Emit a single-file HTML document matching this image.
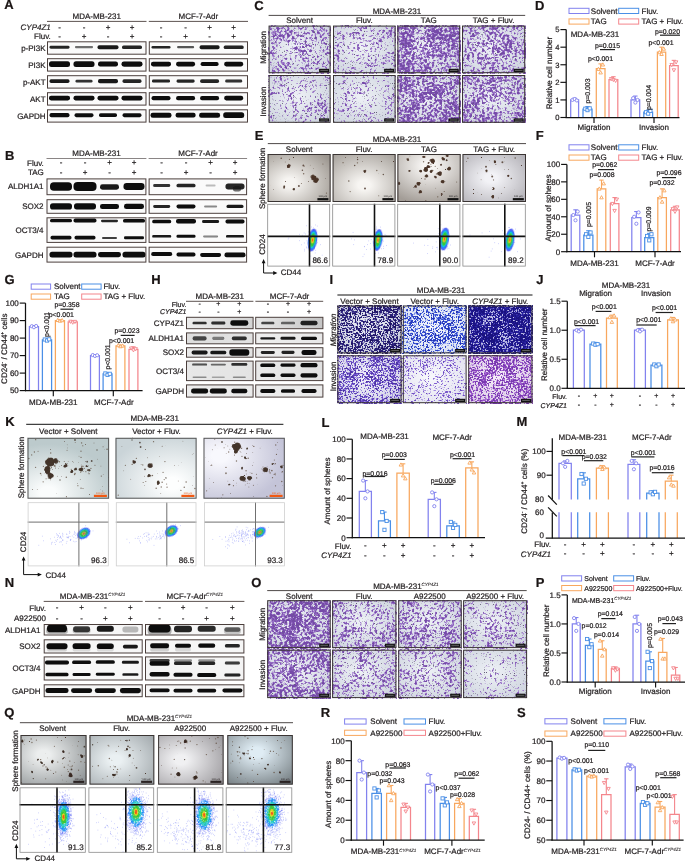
<!DOCTYPE html><html><head><meta charset="utf-8"><title>Figure</title><style>html,body{margin:0;padding:0;background:#fff}svg{display:block}svg{font-family:"Liberation Sans",Arial,Helvetica,sans-serif;font-size:8px;text-rendering:geometricPrecision}text{stroke:#231f20;stroke-width:0.22px}</style></head><body><svg width="685" height="861" viewBox="0 0 685 861"><defs><filter id="bb" x="-30%" y="-80%" width="160%" height="260%"><feGaussianBlur stdDeviation="0.7 0.55"/></filter><filter id="bs" x="-10%" y="-10%" width="120%" height="120%"><feTurbulence type="fractalNoise" baseFrequency="1.1" numOctaves="2" seed="4" result="t"/><feDisplacementMap in="SourceGraphic" in2="t" scale="1.8" xChannelSelector="R" yChannelSelector="G" result="d"/><feGaussianBlur in="d" stdDeviation="0.35"/></filter><filter id="fb" x="-50%" y="-50%" width="200%" height="200%"><feGaussianBlur stdDeviation="0.6"/></filter><linearGradient id="lg1"><stop offset="0" stop-color="#000" stop-opacity="0.04"/><stop offset="1" stop-color="#000" stop-opacity="0.14"/></linearGradient><linearGradient id="lg2"><stop offset="0" stop-color="#000" stop-opacity="0.06"/><stop offset="1" stop-color="#000" stop-opacity="0.2"/></linearGradient><linearGradient id="lg3"><stop offset="0" stop-color="#000" stop-opacity="0.1"/><stop offset="1" stop-color="#000" stop-opacity="0.08"/></linearGradient><linearGradient id="lg4"><stop offset="0" stop-color="#000" stop-opacity="0.03"/><stop offset="1" stop-color="#000" stop-opacity="0.06"/></linearGradient><linearGradient id="lg5"><stop offset="0" stop-color="#000" stop-opacity="0.05"/><stop offset="1" stop-color="#000" stop-opacity="0.08"/></linearGradient><linearGradient id="lg6"><stop offset="0" stop-color="#000" stop-opacity="0.04"/><stop offset="1" stop-color="#000" stop-opacity="0.06"/></linearGradient><linearGradient id="lg7"><stop offset="0" stop-color="#000" stop-opacity="0.04"/><stop offset="1" stop-color="#000" stop-opacity="0.05"/></linearGradient><linearGradient id="lg8"><stop offset="0" stop-color="#000" stop-opacity="0.04"/><stop offset="1" stop-color="#000" stop-opacity="0.05"/></linearGradient><linearGradient id="lg9"><stop offset="0" stop-color="#000" stop-opacity="0.05"/><stop offset="1" stop-color="#000" stop-opacity="0.07"/></linearGradient><linearGradient id="lg10"><stop offset="0" stop-color="#000" stop-opacity="0.05"/><stop offset="1" stop-color="#000" stop-opacity="0.08"/></linearGradient><radialGradient id="g11" cx="0.45" cy="0.45" r="0.75"><stop offset="0" stop-color="#eef1f6"/><stop offset="1" stop-color="#cbd1dc"/></radialGradient><filter id="f12" x="0" y="0" width="1" height="1" color-interpolation-filters="sRGB"><feTurbulence type="fractalNoise" baseFrequency="0.4" numOctaves="2" seed="10"/><feColorMatrix type="matrix" values="1 0 0 0 0 1 0 0 0 0 1 0 0 0 0 0 0 0 0 1" result="hi"/><feTurbulence type="fractalNoise" baseFrequency="0.07" numOctaves="2" seed="30"/><feColorMatrix type="matrix" values="1 0 0 0 0 1 0 0 0 0 1 0 0 0 0 0 0 0 0 1" result="lo"/><feComposite in="hi" in2="lo" operator="arithmetic" k1="0" k2="1" k3="0.45" k4="-0.23" result="n"/><feColorMatrix in="n" type="matrix" values="0 0 0 0 0.62 0 0 0 0 0.47 0 0 0 0 0.8 9 0 0 0 -4.59" result="a"/><feColorMatrix in="n" type="matrix" values="0 0 0 0 0.46 0 0 0 0 0.29 0 0 0 0 0.66 7 0 0 0 -4.27" result="b"/><feTurbulence type="fractalNoise" baseFrequency="0.9" numOctaves="1" seed="60" result="n2"/><feColorMatrix in="n2" type="matrix" values="0 0 0 0 0.4 0 0 0 0 0.37 0 0 0 0 0.48 0 0 0 9 -5.94" result="c"/><feMerge result="m"><feMergeNode in="a"/><feMergeNode in="b"/><feMergeNode in="c"/></feMerge><feGaussianBlur in="m" stdDeviation="0.42"/></filter><radialGradient id="g13" cx="0.45" cy="0.45" r="0.75"><stop offset="0" stop-color="#eef1f6"/><stop offset="1" stop-color="#cbd1dc"/></radialGradient><filter id="f14" x="0" y="0" width="1" height="1" color-interpolation-filters="sRGB"><feTurbulence type="fractalNoise" baseFrequency="0.4" numOctaves="2" seed="11"/><feColorMatrix type="matrix" values="1 0 0 0 0 1 0 0 0 0 1 0 0 0 0 0 0 0 0 1" result="hi"/><feTurbulence type="fractalNoise" baseFrequency="0.07" numOctaves="2" seed="31"/><feColorMatrix type="matrix" values="1 0 0 0 0 1 0 0 0 0 1 0 0 0 0 0 0 0 0 1" result="lo"/><feComposite in="hi" in2="lo" operator="arithmetic" k1="0" k2="1" k3="0.45" k4="-0.23" result="n"/><feColorMatrix in="n" type="matrix" values="0 0 0 0 0.62 0 0 0 0 0.47 0 0 0 0 0.8 9 0 0 0 -4.91" result="a"/><feColorMatrix in="n" type="matrix" values="0 0 0 0 0.46 0 0 0 0 0.29 0 0 0 0 0.66 7 0 0 0 -4.52" result="b"/><feTurbulence type="fractalNoise" baseFrequency="0.9" numOctaves="1" seed="61" result="n2"/><feColorMatrix in="n2" type="matrix" values="0 0 0 0 0.4 0 0 0 0 0.37 0 0 0 0 0.48 0 0 0 9 -5.94" result="c"/><feMerge result="m"><feMergeNode in="a"/><feMergeNode in="b"/><feMergeNode in="c"/></feMerge><feGaussianBlur in="m" stdDeviation="0.42"/></filter><radialGradient id="g15" cx="0.45" cy="0.45" r="0.75"><stop offset="0" stop-color="#eef1f6"/><stop offset="1" stop-color="#cbd1dc"/></radialGradient><filter id="f16" x="0" y="0" width="1" height="1" color-interpolation-filters="sRGB"><feTurbulence type="fractalNoise" baseFrequency="0.4" numOctaves="2" seed="12"/><feColorMatrix type="matrix" values="1 0 0 0 0 1 0 0 0 0 1 0 0 0 0 0 0 0 0 1" result="hi"/><feTurbulence type="fractalNoise" baseFrequency="0.07" numOctaves="2" seed="32"/><feColorMatrix type="matrix" values="1 0 0 0 0 1 0 0 0 0 1 0 0 0 0 0 0 0 0 1" result="lo"/><feComposite in="hi" in2="lo" operator="arithmetic" k1="0" k2="1" k3="0.45" k4="-0.23" result="n"/><feColorMatrix in="n" type="matrix" values="0 0 0 0 0.62 0 0 0 0 0.47 0 0 0 0 0.8 9 0 0 0 -3.51" result="a"/><feColorMatrix in="n" type="matrix" values="0 0 0 0 0.46 0 0 0 0 0.29 0 0 0 0 0.66 7 0 0 0 -3.43" result="b"/><feTurbulence type="fractalNoise" baseFrequency="0.9" numOctaves="1" seed="62" result="n2"/><feColorMatrix in="n2" type="matrix" values="0 0 0 0 0.4 0 0 0 0 0.37 0 0 0 0 0.48 0 0 0 9 -5.94" result="c"/><feMerge result="m"><feMergeNode in="a"/><feMergeNode in="b"/><feMergeNode in="c"/></feMerge><feGaussianBlur in="m" stdDeviation="0.42"/></filter><radialGradient id="g17" cx="0.45" cy="0.45" r="0.75"><stop offset="0" stop-color="#eef1f6"/><stop offset="1" stop-color="#cbd1dc"/></radialGradient><filter id="f18" x="0" y="0" width="1" height="1" color-interpolation-filters="sRGB"><feTurbulence type="fractalNoise" baseFrequency="0.4" numOctaves="2" seed="13"/><feColorMatrix type="matrix" values="1 0 0 0 0 1 0 0 0 0 1 0 0 0 0 0 0 0 0 1" result="hi"/><feTurbulence type="fractalNoise" baseFrequency="0.07" numOctaves="2" seed="33"/><feColorMatrix type="matrix" values="1 0 0 0 0 1 0 0 0 0 1 0 0 0 0 0 0 0 0 1" result="lo"/><feComposite in="hi" in2="lo" operator="arithmetic" k1="0" k2="1" k3="0.45" k4="-0.23" result="n"/><feColorMatrix in="n" type="matrix" values="0 0 0 0 0.62 0 0 0 0 0.47 0 0 0 0 0.8 9 0 0 0 -4.05" result="a"/><feColorMatrix in="n" type="matrix" values="0 0 0 0 0.46 0 0 0 0 0.29 0 0 0 0 0.66 7 0 0 0 -3.85" result="b"/><feTurbulence type="fractalNoise" baseFrequency="0.9" numOctaves="1" seed="63" result="n2"/><feColorMatrix in="n2" type="matrix" values="0 0 0 0 0.4 0 0 0 0 0.37 0 0 0 0 0.48 0 0 0 9 -5.94" result="c"/><feMerge result="m"><feMergeNode in="a"/><feMergeNode in="b"/><feMergeNode in="c"/></feMerge><feGaussianBlur in="m" stdDeviation="0.42"/></filter><radialGradient id="g19" cx="0.45" cy="0.45" r="0.75"><stop offset="0" stop-color="#eef1f6"/><stop offset="1" stop-color="#cbd1dc"/></radialGradient><filter id="f20" x="0" y="0" width="1" height="1" color-interpolation-filters="sRGB"><feTurbulence type="fractalNoise" baseFrequency="0.4" numOctaves="2" seed="14"/><feColorMatrix type="matrix" values="1 0 0 0 0 1 0 0 0 0 1 0 0 0 0 0 0 0 0 1" result="hi"/><feTurbulence type="fractalNoise" baseFrequency="0.07" numOctaves="2" seed="34"/><feColorMatrix type="matrix" values="1 0 0 0 0 1 0 0 0 0 1 0 0 0 0 0 0 0 0 1" result="lo"/><feComposite in="hi" in2="lo" operator="arithmetic" k1="0" k2="1" k3="0.45" k4="-0.23" result="n"/><feColorMatrix in="n" type="matrix" values="0 0 0 0 0.62 0 0 0 0 0.47 0 0 0 0 0.8 9 0 0 0 -5.08" result="a"/><feColorMatrix in="n" type="matrix" values="0 0 0 0 0.46 0 0 0 0 0.29 0 0 0 0 0.66 7 0 0 0 -4.65" result="b"/><feTurbulence type="fractalNoise" baseFrequency="0.9" numOctaves="1" seed="64" result="n2"/><feColorMatrix in="n2" type="matrix" values="0 0 0 0 0.4 0 0 0 0 0.37 0 0 0 0 0.48 0 0 0 9 -5.94" result="c"/><feMerge result="m"><feMergeNode in="a"/><feMergeNode in="b"/><feMergeNode in="c"/></feMerge><feGaussianBlur in="m" stdDeviation="0.42"/></filter><radialGradient id="g21" cx="0.45" cy="0.45" r="0.75"><stop offset="0" stop-color="#eef1f6"/><stop offset="1" stop-color="#cbd1dc"/></radialGradient><filter id="f22" x="0" y="0" width="1" height="1" color-interpolation-filters="sRGB"><feTurbulence type="fractalNoise" baseFrequency="0.4" numOctaves="2" seed="15"/><feColorMatrix type="matrix" values="1 0 0 0 0 1 0 0 0 0 1 0 0 0 0 0 0 0 0 1" result="hi"/><feTurbulence type="fractalNoise" baseFrequency="0.07" numOctaves="2" seed="35"/><feColorMatrix type="matrix" values="1 0 0 0 0 1 0 0 0 0 1 0 0 0 0 0 0 0 0 1" result="lo"/><feComposite in="hi" in2="lo" operator="arithmetic" k1="0" k2="1" k3="0.45" k4="-0.23" result="n"/><feColorMatrix in="n" type="matrix" values="0 0 0 0 0.62 0 0 0 0 0.47 0 0 0 0 0.8 9 0 0 0 -5.31" result="a"/><feColorMatrix in="n" type="matrix" values="0 0 0 0 0.46 0 0 0 0 0.29 0 0 0 0 0.66 7 0 0 0 -4.83" result="b"/><feTurbulence type="fractalNoise" baseFrequency="0.9" numOctaves="1" seed="65" result="n2"/><feColorMatrix in="n2" type="matrix" values="0 0 0 0 0.4 0 0 0 0 0.37 0 0 0 0 0.48 0 0 0 9 -5.94" result="c"/><feMerge result="m"><feMergeNode in="a"/><feMergeNode in="b"/><feMergeNode in="c"/></feMerge><feGaussianBlur in="m" stdDeviation="0.42"/></filter><radialGradient id="g23" cx="0.45" cy="0.45" r="0.75"><stop offset="0" stop-color="#eef1f6"/><stop offset="1" stop-color="#cbd1dc"/></radialGradient><filter id="f24" x="0" y="0" width="1" height="1" color-interpolation-filters="sRGB"><feTurbulence type="fractalNoise" baseFrequency="0.4" numOctaves="2" seed="16"/><feColorMatrix type="matrix" values="1 0 0 0 0 1 0 0 0 0 1 0 0 0 0 0 0 0 0 1" result="hi"/><feTurbulence type="fractalNoise" baseFrequency="0.07" numOctaves="2" seed="36"/><feColorMatrix type="matrix" values="1 0 0 0 0 1 0 0 0 0 1 0 0 0 0 0 0 0 0 1" result="lo"/><feComposite in="hi" in2="lo" operator="arithmetic" k1="0" k2="1" k3="0.45" k4="-0.23" result="n"/><feColorMatrix in="n" type="matrix" values="0 0 0 0 0.62 0 0 0 0 0.47 0 0 0 0 0.8 9 0 0 0 -3.6" result="a"/><feColorMatrix in="n" type="matrix" values="0 0 0 0 0.46 0 0 0 0 0.29 0 0 0 0 0.66 7 0 0 0 -3.5" result="b"/><feTurbulence type="fractalNoise" baseFrequency="0.9" numOctaves="1" seed="66" result="n2"/><feColorMatrix in="n2" type="matrix" values="0 0 0 0 0.4 0 0 0 0 0.37 0 0 0 0 0.48 0 0 0 9 -5.94" result="c"/><feMerge result="m"><feMergeNode in="a"/><feMergeNode in="b"/><feMergeNode in="c"/></feMerge><feGaussianBlur in="m" stdDeviation="0.42"/></filter><radialGradient id="g25" cx="0.45" cy="0.45" r="0.75"><stop offset="0" stop-color="#eef1f6"/><stop offset="1" stop-color="#cbd1dc"/></radialGradient><filter id="f26" x="0" y="0" width="1" height="1" color-interpolation-filters="sRGB"><feTurbulence type="fractalNoise" baseFrequency="0.4" numOctaves="2" seed="17"/><feColorMatrix type="matrix" values="1 0 0 0 0 1 0 0 0 0 1 0 0 0 0 0 0 0 0 1" result="hi"/><feTurbulence type="fractalNoise" baseFrequency="0.07" numOctaves="2" seed="37"/><feColorMatrix type="matrix" values="1 0 0 0 0 1 0 0 0 0 1 0 0 0 0 0 0 0 0 1" result="lo"/><feComposite in="hi" in2="lo" operator="arithmetic" k1="0" k2="1" k3="0.45" k4="-0.23" result="n"/><feColorMatrix in="n" type="matrix" values="0 0 0 0 0.62 0 0 0 0 0.47 0 0 0 0 0.8 9 0 0 0 -4.05" result="a"/><feColorMatrix in="n" type="matrix" values="0 0 0 0 0.46 0 0 0 0 0.29 0 0 0 0 0.66 7 0 0 0 -3.85" result="b"/><feTurbulence type="fractalNoise" baseFrequency="0.9" numOctaves="1" seed="67" result="n2"/><feColorMatrix in="n2" type="matrix" values="0 0 0 0 0.4 0 0 0 0 0.37 0 0 0 0 0.48 0 0 0 9 -5.94" result="c"/><feMerge result="m"><feMergeNode in="a"/><feMergeNode in="b"/><feMergeNode in="c"/></feMerge><feGaussianBlur in="m" stdDeviation="0.42"/></filter><radialGradient id="g27" cx="0.35" cy="0.6" r="0.8"><stop offset="0.12" stop-color="#f6f4f1"/><stop offset="1" stop-color="#9c968f"/></radialGradient><filter id="f28" x="0" y="0" width="1" height="1" color-interpolation-filters="sRGB"><feTurbulence type="fractalNoise" baseFrequency="0.75" numOctaves="1" seed="30" result="n"/><feColorMatrix in="n" type="matrix" values="0 0 0 0 0.3 0 0 0 0 0.22 0 0 0 0 0.18 14 0 0 0 -10.5"/></filter><radialGradient id="g29" cx="0.5" cy="0.65" r="0.8"><stop offset="0.12" stop-color="#f7f5f2"/><stop offset="1" stop-color="#a6a19b"/></radialGradient><filter id="f30" x="0" y="0" width="1" height="1" color-interpolation-filters="sRGB"><feTurbulence type="fractalNoise" baseFrequency="0.75" numOctaves="1" seed="31" result="n"/><feColorMatrix in="n" type="matrix" values="0 0 0 0 0.3 0 0 0 0 0.22 0 0 0 0 0.18 14 0 0 0 -10.5"/></filter><radialGradient id="g31" cx="0.5" cy="0.25" r="0.8"><stop offset="0.12" stop-color="#f7f5f3"/><stop offset="1" stop-color="#a39d97"/></radialGradient><filter id="f32" x="0" y="0" width="1" height="1" color-interpolation-filters="sRGB"><feTurbulence type="fractalNoise" baseFrequency="0.75" numOctaves="1" seed="32" result="n"/><feColorMatrix in="n" type="matrix" values="0 0 0 0 0.3 0 0 0 0 0.22 0 0 0 0 0.18 14 0 0 0 -10.5"/></filter><radialGradient id="g33" cx="0.45" cy="0.5" r="0.8"><stop offset="0.12" stop-color="#f2f2f6"/><stop offset="1" stop-color="#a8a6ac"/></radialGradient><filter id="f34" x="0" y="0" width="1" height="1" color-interpolation-filters="sRGB"><feTurbulence type="fractalNoise" baseFrequency="0.75" numOctaves="1" seed="33" result="n"/><feColorMatrix in="n" type="matrix" values="0 0 0 0 0.3 0 0 0 0 0.22 0 0 0 0 0.18 14 0 0 0 -10.5"/></filter><radialGradient id="g35" cx="0.45" cy="0.45" r="0.75"><stop offset="0" stop-color="#eceef6"/><stop offset="1" stop-color="#c4c8d8"/></radialGradient><filter id="f36" x="0" y="0" width="1" height="1" color-interpolation-filters="sRGB"><feTurbulence type="fractalNoise" baseFrequency="0.6" numOctaves="2" seed="60"/><feColorMatrix type="matrix" values="1 0 0 0 0 1 0 0 0 0 1 0 0 0 0 0 0 0 0 1" result="hi"/><feTurbulence type="fractalNoise" baseFrequency="0.07" numOctaves="2" seed="80"/><feColorMatrix type="matrix" values="1 0 0 0 0 1 0 0 0 0 1 0 0 0 0 0 0 0 0 1" result="lo"/><feComposite in="hi" in2="lo" operator="arithmetic" k1="0" k2="1" k3="0.4" k4="-0.2" result="n"/><feColorMatrix in="n" type="matrix" values="0 0 0 0 0.2 0 0 0 0 0.16 0 0 0 0 0.54 9 0 0 0 -3.87" result="a"/><feColorMatrix in="n" type="matrix" values="0 0 0 0 0.12 0 0 0 0 0.08 0 0 0 0 0.38 7 0 0 0 -3.71" result="b"/><feTurbulence type="fractalNoise" baseFrequency="0.9" numOctaves="1" seed="110" result="n2"/><feColorMatrix in="n2" type="matrix" values="0 0 0 0 0.4 0 0 0 0 0.37 0 0 0 0 0.48 0 0 0 9 -8.1" result="c"/><feMerge result="m"><feMergeNode in="a"/><feMergeNode in="b"/><feMergeNode in="c"/></feMerge><feGaussianBlur in="m" stdDeviation="0.35"/></filter><radialGradient id="g37" cx="0.45" cy="0.45" r="0.75"><stop offset="0" stop-color="#f6f8fc"/><stop offset="1" stop-color="#d8e0f0"/></radialGradient><filter id="f38" x="0" y="0" width="1" height="1" color-interpolation-filters="sRGB"><feTurbulence type="fractalNoise" baseFrequency="0.6" numOctaves="2" seed="61"/><feColorMatrix type="matrix" values="1 0 0 0 0 1 0 0 0 0 1 0 0 0 0 0 0 0 0 1" result="hi"/><feTurbulence type="fractalNoise" baseFrequency="0.07" numOctaves="2" seed="81"/><feColorMatrix type="matrix" values="1 0 0 0 0 1 0 0 0 0 1 0 0 0 0 0 0 0 0 1" result="lo"/><feComposite in="hi" in2="lo" operator="arithmetic" k1="0" k2="1" k3="0.4" k4="-0.2" result="n"/><feColorMatrix in="n" type="matrix" values="0 0 0 0 0.22 0 0 0 0 0.33 0 0 0 0 0.86 9 0 0 0 -4.23" result="a"/><feColorMatrix in="n" type="matrix" values="0 0 0 0 0.14 0 0 0 0 0.2 0 0 0 0 0.7 7 0 0 0 -3.99" result="b"/><feTurbulence type="fractalNoise" baseFrequency="0.9" numOctaves="1" seed="111" result="n2"/><feColorMatrix in="n2" type="matrix" values="0 0 0 0 0.4 0 0 0 0 0.37 0 0 0 0 0.48 0 0 0 9 -8.1" result="c"/><feMerge result="m"><feMergeNode in="a"/><feMergeNode in="b"/><feMergeNode in="c"/></feMerge><feGaussianBlur in="m" stdDeviation="0.35"/></filter><radialGradient id="g39" cx="0.45" cy="0.45" r="0.75"><stop offset="0" stop-color="#d0d0f0"/><stop offset="1" stop-color="#a8a8d8"/></radialGradient><filter id="f40" x="0" y="0" width="1" height="1" color-interpolation-filters="sRGB"><feTurbulence type="fractalNoise" baseFrequency="0.6" numOctaves="2" seed="62"/><feColorMatrix type="matrix" values="1 0 0 0 0 1 0 0 0 0 1 0 0 0 0 0 0 0 0 1" result="hi"/><feTurbulence type="fractalNoise" baseFrequency="0.07" numOctaves="2" seed="82"/><feColorMatrix type="matrix" values="1 0 0 0 0 1 0 0 0 0 1 0 0 0 0 0 0 0 0 1" result="lo"/><feComposite in="hi" in2="lo" operator="arithmetic" k1="0" k2="1" k3="0.4" k4="-0.2" result="n"/><feColorMatrix in="n" type="matrix" values="0 0 0 0 0.17 0 0 0 0 0.14 0 0 0 0 0.66 9 0 0 0 -3.06" result="a"/><feColorMatrix in="n" type="matrix" values="0 0 0 0 0.1 0 0 0 0 0.07 0 0 0 0 0.5 7 0 0 0 -3.08" result="b"/><feTurbulence type="fractalNoise" baseFrequency="0.9" numOctaves="1" seed="112" result="n2"/><feColorMatrix in="n2" type="matrix" values="0 0 0 0 0.4 0 0 0 0 0.37 0 0 0 0 0.48 0 0 0 9 -8.1" result="c"/><feMerge result="m"><feMergeNode in="a"/><feMergeNode in="b"/><feMergeNode in="c"/></feMerge><feGaussianBlur in="m" stdDeviation="0.35"/></filter><radialGradient id="g41" cx="0.45" cy="0.45" r="0.75"><stop offset="0" stop-color="#f2f2fa"/><stop offset="1" stop-color="#d0d0e4"/></radialGradient><filter id="f42" x="0" y="0" width="1" height="1" color-interpolation-filters="sRGB"><feTurbulence type="fractalNoise" baseFrequency="0.6" numOctaves="2" seed="63"/><feColorMatrix type="matrix" values="1 0 0 0 0 1 0 0 0 0 1 0 0 0 0 0 0 0 0 1" result="hi"/><feTurbulence type="fractalNoise" baseFrequency="0.07" numOctaves="2" seed="83"/><feColorMatrix type="matrix" values="1 0 0 0 0 1 0 0 0 0 1 0 0 0 0 0 0 0 0 1" result="lo"/><feComposite in="hi" in2="lo" operator="arithmetic" k1="0" k2="1" k3="0.4" k4="-0.2" result="n"/><feColorMatrix in="n" type="matrix" values="0 0 0 0 0.45 0 0 0 0 0.33 0 0 0 0 0.82 9 0 0 0 -4.05" result="a"/><feColorMatrix in="n" type="matrix" values="0 0 0 0 0.3 0 0 0 0 0.2 0 0 0 0 0.64 7 0 0 0 -3.85" result="b"/><feTurbulence type="fractalNoise" baseFrequency="0.9" numOctaves="1" seed="113" result="n2"/><feColorMatrix in="n2" type="matrix" values="0 0 0 0 0.4 0 0 0 0 0.37 0 0 0 0 0.48 0 0 0 9 -8.1" result="c"/><feMerge result="m"><feMergeNode in="a"/><feMergeNode in="b"/><feMergeNode in="c"/></feMerge><feGaussianBlur in="m" stdDeviation="0.35"/></filter><radialGradient id="g43" cx="0.45" cy="0.45" r="0.75"><stop offset="0" stop-color="#f8f8fc"/><stop offset="1" stop-color="#e0e0ee"/></radialGradient><filter id="f44" x="0" y="0" width="1" height="1" color-interpolation-filters="sRGB"><feTurbulence type="fractalNoise" baseFrequency="0.6" numOctaves="2" seed="64"/><feColorMatrix type="matrix" values="1 0 0 0 0 1 0 0 0 0 1 0 0 0 0 0 0 0 0 1" result="hi"/><feTurbulence type="fractalNoise" baseFrequency="0.07" numOctaves="2" seed="84"/><feColorMatrix type="matrix" values="1 0 0 0 0 1 0 0 0 0 1 0 0 0 0 0 0 0 0 1" result="lo"/><feComposite in="hi" in2="lo" operator="arithmetic" k1="0" k2="1" k3="0.4" k4="-0.2" result="n"/><feColorMatrix in="n" type="matrix" values="0 0 0 0 0.55 0 0 0 0 0.42 0 0 0 0 0.85 9 0 0 0 -4.95" result="a"/><feColorMatrix in="n" type="matrix" values="0 0 0 0 0.4 0 0 0 0 0.28 0 0 0 0 0.72 7 0 0 0 -4.55" result="b"/><feTurbulence type="fractalNoise" baseFrequency="0.9" numOctaves="1" seed="114" result="n2"/><feColorMatrix in="n2" type="matrix" values="0 0 0 0 0.4 0 0 0 0 0.37 0 0 0 0 0.48 0 0 0 9 -8.1" result="c"/><feMerge result="m"><feMergeNode in="a"/><feMergeNode in="b"/><feMergeNode in="c"/></feMerge><feGaussianBlur in="m" stdDeviation="0.35"/></filter><radialGradient id="g45" cx="0.45" cy="0.45" r="0.75"><stop offset="0" stop-color="#f6eef8"/><stop offset="1" stop-color="#d8c8e4"/></radialGradient><filter id="f46" x="0" y="0" width="1" height="1" color-interpolation-filters="sRGB"><feTurbulence type="fractalNoise" baseFrequency="0.6" numOctaves="2" seed="65"/><feColorMatrix type="matrix" values="1 0 0 0 0 1 0 0 0 0 1 0 0 0 0 0 0 0 0 1" result="hi"/><feTurbulence type="fractalNoise" baseFrequency="0.07" numOctaves="2" seed="85"/><feColorMatrix type="matrix" values="1 0 0 0 0 1 0 0 0 0 1 0 0 0 0 0 0 0 0 1" result="lo"/><feComposite in="hi" in2="lo" operator="arithmetic" k1="0" k2="1" k3="0.4" k4="-0.2" result="n"/><feColorMatrix in="n" type="matrix" values="0 0 0 0 0.6 0 0 0 0 0.33 0 0 0 0 0.8 9 0 0 0 -3.78" result="a"/><feColorMatrix in="n" type="matrix" values="0 0 0 0 0.46 0 0 0 0 0.22 0 0 0 0 0.68 7 0 0 0 -3.64" result="b"/><feTurbulence type="fractalNoise" baseFrequency="0.9" numOctaves="1" seed="115" result="n2"/><feColorMatrix in="n2" type="matrix" values="0 0 0 0 0.4 0 0 0 0 0.37 0 0 0 0 0.48 0 0 0 9 -8.1" result="c"/><feMerge result="m"><feMergeNode in="a"/><feMergeNode in="b"/><feMergeNode in="c"/></feMerge><feGaussianBlur in="m" stdDeviation="0.35"/></filter><radialGradient id="g47" cx="0.25" cy="0.9" r="0.8"><stop offset="0.12" stop-color="#fafcfc"/><stop offset="1" stop-color="#bccacc"/></radialGradient><filter id="f48" x="0" y="0" width="1" height="1" color-interpolation-filters="sRGB"><feTurbulence type="fractalNoise" baseFrequency="0.75" numOctaves="1" seed="70" result="n"/><feColorMatrix in="n" type="matrix" values="0 0 0 0 0.3 0 0 0 0 0.22 0 0 0 0 0.18 14 0 0 0 -10.5"/></filter><radialGradient id="g49" cx="0.7" cy="0.75" r="0.8"><stop offset="0.12" stop-color="#fdfefe"/><stop offset="1" stop-color="#cad4d8"/></radialGradient><filter id="f50" x="0" y="0" width="1" height="1" color-interpolation-filters="sRGB"><feTurbulence type="fractalNoise" baseFrequency="0.75" numOctaves="1" seed="71" result="n"/><feColorMatrix in="n" type="matrix" values="0 0 0 0 0.3 0 0 0 0 0.22 0 0 0 0 0.18 14 0 0 0 -10.5"/></filter><radialGradient id="g51" cx="0.2" cy="0.3" r="0.8"><stop offset="0.12" stop-color="#f8f8fd"/><stop offset="1" stop-color="#c4c4d8"/></radialGradient><filter id="f52" x="0" y="0" width="1" height="1" color-interpolation-filters="sRGB"><feTurbulence type="fractalNoise" baseFrequency="0.75" numOctaves="1" seed="72" result="n"/><feColorMatrix in="n" type="matrix" values="0 0 0 0 0.3 0 0 0 0 0.22 0 0 0 0 0.18 14 0 0 0 -10.5"/></filter><radialGradient id="g53" cx="0.45" cy="0.45" r="0.75"><stop offset="0" stop-color="#eef1f6"/><stop offset="1" stop-color="#cbd1dc"/></radialGradient><filter id="f54" x="0" y="0" width="1" height="1" color-interpolation-filters="sRGB"><feTurbulence type="fractalNoise" baseFrequency="0.4" numOctaves="2" seed="80"/><feColorMatrix type="matrix" values="1 0 0 0 0 1 0 0 0 0 1 0 0 0 0 0 0 0 0 1" result="hi"/><feTurbulence type="fractalNoise" baseFrequency="0.07" numOctaves="2" seed="100"/><feColorMatrix type="matrix" values="1 0 0 0 0 1 0 0 0 0 1 0 0 0 0 0 0 0 0 1" result="lo"/><feComposite in="hi" in2="lo" operator="arithmetic" k1="0" k2="1" k3="0.45" k4="-0.23" result="n"/><feColorMatrix in="n" type="matrix" values="0 0 0 0 0.62 0 0 0 0 0.47 0 0 0 0 0.8 9 0 0 0 -3.33" result="a"/><feColorMatrix in="n" type="matrix" values="0 0 0 0 0.46 0 0 0 0 0.29 0 0 0 0 0.66 7 0 0 0 -3.29" result="b"/><feTurbulence type="fractalNoise" baseFrequency="0.9" numOctaves="1" seed="130" result="n2"/><feColorMatrix in="n2" type="matrix" values="0 0 0 0 0.4 0 0 0 0 0.37 0 0 0 0 0.48 0 0 0 9 -5.94" result="c"/><feMerge result="m"><feMergeNode in="a"/><feMergeNode in="b"/><feMergeNode in="c"/></feMerge><feGaussianBlur in="m" stdDeviation="0.42"/></filter><radialGradient id="g55" cx="0.45" cy="0.45" r="0.75"><stop offset="0" stop-color="#eef1f6"/><stop offset="1" stop-color="#cbd1dc"/></radialGradient><filter id="f56" x="0" y="0" width="1" height="1" color-interpolation-filters="sRGB"><feTurbulence type="fractalNoise" baseFrequency="0.4" numOctaves="2" seed="81"/><feColorMatrix type="matrix" values="1 0 0 0 0 1 0 0 0 0 1 0 0 0 0 0 0 0 0 1" result="hi"/><feTurbulence type="fractalNoise" baseFrequency="0.07" numOctaves="2" seed="101"/><feColorMatrix type="matrix" values="1 0 0 0 0 1 0 0 0 0 1 0 0 0 0 0 0 0 0 1" result="lo"/><feComposite in="hi" in2="lo" operator="arithmetic" k1="0" k2="1" k3="0.45" k4="-0.23" result="n"/><feColorMatrix in="n" type="matrix" values="0 0 0 0 0.62 0 0 0 0 0.47 0 0 0 0 0.8 9 0 0 0 -4.5" result="a"/><feColorMatrix in="n" type="matrix" values="0 0 0 0 0.46 0 0 0 0 0.29 0 0 0 0 0.66 7 0 0 0 -4.2" result="b"/><feTurbulence type="fractalNoise" baseFrequency="0.9" numOctaves="1" seed="131" result="n2"/><feColorMatrix in="n2" type="matrix" values="0 0 0 0 0.4 0 0 0 0 0.37 0 0 0 0 0.48 0 0 0 9 -5.94" result="c"/><feMerge result="m"><feMergeNode in="a"/><feMergeNode in="b"/><feMergeNode in="c"/></feMerge><feGaussianBlur in="m" stdDeviation="0.42"/></filter><radialGradient id="g57" cx="0.45" cy="0.45" r="0.75"><stop offset="0" stop-color="#eef1f6"/><stop offset="1" stop-color="#cbd1dc"/></radialGradient><filter id="f58" x="0" y="0" width="1" height="1" color-interpolation-filters="sRGB"><feTurbulence type="fractalNoise" baseFrequency="0.4" numOctaves="2" seed="82"/><feColorMatrix type="matrix" values="1 0 0 0 0 1 0 0 0 0 1 0 0 0 0 0 0 0 0 1" result="hi"/><feTurbulence type="fractalNoise" baseFrequency="0.07" numOctaves="2" seed="102"/><feColorMatrix type="matrix" values="1 0 0 0 0 1 0 0 0 0 1 0 0 0 0 0 0 0 0 1" result="lo"/><feComposite in="hi" in2="lo" operator="arithmetic" k1="0" k2="1" k3="0.45" k4="-0.23" result="n"/><feColorMatrix in="n" type="matrix" values="0 0 0 0 0.62 0 0 0 0 0.47 0 0 0 0 0.8 9 0 0 0 -4.32" result="a"/><feColorMatrix in="n" type="matrix" values="0 0 0 0 0.46 0 0 0 0 0.29 0 0 0 0 0.66 7 0 0 0 -4.06" result="b"/><feTurbulence type="fractalNoise" baseFrequency="0.9" numOctaves="1" seed="132" result="n2"/><feColorMatrix in="n2" type="matrix" values="0 0 0 0 0.4 0 0 0 0 0.37 0 0 0 0 0.48 0 0 0 9 -5.94" result="c"/><feMerge result="m"><feMergeNode in="a"/><feMergeNode in="b"/><feMergeNode in="c"/></feMerge><feGaussianBlur in="m" stdDeviation="0.42"/></filter><radialGradient id="g59" cx="0.45" cy="0.45" r="0.75"><stop offset="0" stop-color="#eef1f6"/><stop offset="1" stop-color="#cbd1dc"/></radialGradient><filter id="f60" x="0" y="0" width="1" height="1" color-interpolation-filters="sRGB"><feTurbulence type="fractalNoise" baseFrequency="0.4" numOctaves="2" seed="83"/><feColorMatrix type="matrix" values="1 0 0 0 0 1 0 0 0 0 1 0 0 0 0 0 0 0 0 1" result="hi"/><feTurbulence type="fractalNoise" baseFrequency="0.07" numOctaves="2" seed="103"/><feColorMatrix type="matrix" values="1 0 0 0 0 1 0 0 0 0 1 0 0 0 0 0 0 0 0 1" result="lo"/><feComposite in="hi" in2="lo" operator="arithmetic" k1="0" k2="1" k3="0.45" k4="-0.23" result="n"/><feColorMatrix in="n" type="matrix" values="0 0 0 0 0.62 0 0 0 0 0.47 0 0 0 0 0.8 9 0 0 0 -4.95" result="a"/><feColorMatrix in="n" type="matrix" values="0 0 0 0 0.46 0 0 0 0 0.29 0 0 0 0 0.66 7 0 0 0 -4.55" result="b"/><feTurbulence type="fractalNoise" baseFrequency="0.9" numOctaves="1" seed="133" result="n2"/><feColorMatrix in="n2" type="matrix" values="0 0 0 0 0.4 0 0 0 0 0.37 0 0 0 0 0.48 0 0 0 9 -5.94" result="c"/><feMerge result="m"><feMergeNode in="a"/><feMergeNode in="b"/><feMergeNode in="c"/></feMerge><feGaussianBlur in="m" stdDeviation="0.42"/></filter><radialGradient id="g61" cx="0.45" cy="0.45" r="0.75"><stop offset="0" stop-color="#eef1f6"/><stop offset="1" stop-color="#cbd1dc"/></radialGradient><filter id="f62" x="0" y="0" width="1" height="1" color-interpolation-filters="sRGB"><feTurbulence type="fractalNoise" baseFrequency="0.4" numOctaves="2" seed="84"/><feColorMatrix type="matrix" values="1 0 0 0 0 1 0 0 0 0 1 0 0 0 0 0 0 0 0 1" result="hi"/><feTurbulence type="fractalNoise" baseFrequency="0.07" numOctaves="2" seed="104"/><feColorMatrix type="matrix" values="1 0 0 0 0 1 0 0 0 0 1 0 0 0 0 0 0 0 0 1" result="lo"/><feComposite in="hi" in2="lo" operator="arithmetic" k1="0" k2="1" k3="0.45" k4="-0.23" result="n"/><feColorMatrix in="n" type="matrix" values="0 0 0 0 0.62 0 0 0 0 0.47 0 0 0 0 0.8 9 0 0 0 -3.78" result="a"/><feColorMatrix in="n" type="matrix" values="0 0 0 0 0.46 0 0 0 0 0.29 0 0 0 0 0.66 7 0 0 0 -3.64" result="b"/><feTurbulence type="fractalNoise" baseFrequency="0.9" numOctaves="1" seed="134" result="n2"/><feColorMatrix in="n2" type="matrix" values="0 0 0 0 0.4 0 0 0 0 0.37 0 0 0 0 0.48 0 0 0 9 -5.94" result="c"/><feMerge result="m"><feMergeNode in="a"/><feMergeNode in="b"/><feMergeNode in="c"/></feMerge><feGaussianBlur in="m" stdDeviation="0.42"/></filter><radialGradient id="g63" cx="0.45" cy="0.45" r="0.75"><stop offset="0" stop-color="#eef1f6"/><stop offset="1" stop-color="#cbd1dc"/></radialGradient><filter id="f64" x="0" y="0" width="1" height="1" color-interpolation-filters="sRGB"><feTurbulence type="fractalNoise" baseFrequency="0.4" numOctaves="2" seed="85"/><feColorMatrix type="matrix" values="1 0 0 0 0 1 0 0 0 0 1 0 0 0 0 0 0 0 0 1" result="hi"/><feTurbulence type="fractalNoise" baseFrequency="0.07" numOctaves="2" seed="105"/><feColorMatrix type="matrix" values="1 0 0 0 0 1 0 0 0 0 1 0 0 0 0 0 0 0 0 1" result="lo"/><feComposite in="hi" in2="lo" operator="arithmetic" k1="0" k2="1" k3="0.45" k4="-0.23" result="n"/><feColorMatrix in="n" type="matrix" values="0 0 0 0 0.62 0 0 0 0 0.47 0 0 0 0 0.8 9 0 0 0 -4.59" result="a"/><feColorMatrix in="n" type="matrix" values="0 0 0 0 0.46 0 0 0 0 0.29 0 0 0 0 0.66 7 0 0 0 -4.27" result="b"/><feTurbulence type="fractalNoise" baseFrequency="0.9" numOctaves="1" seed="135" result="n2"/><feColorMatrix in="n2" type="matrix" values="0 0 0 0 0.4 0 0 0 0 0.37 0 0 0 0 0.48 0 0 0 9 -5.94" result="c"/><feMerge result="m"><feMergeNode in="a"/><feMergeNode in="b"/><feMergeNode in="c"/></feMerge><feGaussianBlur in="m" stdDeviation="0.42"/></filter><radialGradient id="g65" cx="0.45" cy="0.45" r="0.75"><stop offset="0" stop-color="#eef1f6"/><stop offset="1" stop-color="#cbd1dc"/></radialGradient><filter id="f66" x="0" y="0" width="1" height="1" color-interpolation-filters="sRGB"><feTurbulence type="fractalNoise" baseFrequency="0.4" numOctaves="2" seed="86"/><feColorMatrix type="matrix" values="1 0 0 0 0 1 0 0 0 0 1 0 0 0 0 0 0 0 0 1" result="hi"/><feTurbulence type="fractalNoise" baseFrequency="0.07" numOctaves="2" seed="106"/><feColorMatrix type="matrix" values="1 0 0 0 0 1 0 0 0 0 1 0 0 0 0 0 0 0 0 1" result="lo"/><feComposite in="hi" in2="lo" operator="arithmetic" k1="0" k2="1" k3="0.45" k4="-0.23" result="n"/><feColorMatrix in="n" type="matrix" values="0 0 0 0 0.62 0 0 0 0 0.47 0 0 0 0 0.8 9 0 0 0 -4.77" result="a"/><feColorMatrix in="n" type="matrix" values="0 0 0 0 0.46 0 0 0 0 0.29 0 0 0 0 0.66 7 0 0 0 -4.41" result="b"/><feTurbulence type="fractalNoise" baseFrequency="0.9" numOctaves="1" seed="136" result="n2"/><feColorMatrix in="n2" type="matrix" values="0 0 0 0 0.4 0 0 0 0 0.37 0 0 0 0 0.48 0 0 0 9 -5.94" result="c"/><feMerge result="m"><feMergeNode in="a"/><feMergeNode in="b"/><feMergeNode in="c"/></feMerge><feGaussianBlur in="m" stdDeviation="0.42"/></filter><radialGradient id="g67" cx="0.45" cy="0.45" r="0.75"><stop offset="0" stop-color="#eef1f6"/><stop offset="1" stop-color="#cbd1dc"/></radialGradient><filter id="f68" x="0" y="0" width="1" height="1" color-interpolation-filters="sRGB"><feTurbulence type="fractalNoise" baseFrequency="0.4" numOctaves="2" seed="87"/><feColorMatrix type="matrix" values="1 0 0 0 0 1 0 0 0 0 1 0 0 0 0 0 0 0 0 1" result="hi"/><feTurbulence type="fractalNoise" baseFrequency="0.07" numOctaves="2" seed="107"/><feColorMatrix type="matrix" values="1 0 0 0 0 1 0 0 0 0 1 0 0 0 0 0 0 0 0 1" result="lo"/><feComposite in="hi" in2="lo" operator="arithmetic" k1="0" k2="1" k3="0.45" k4="-0.23" result="n"/><feColorMatrix in="n" type="matrix" values="0 0 0 0 0.62 0 0 0 0 0.47 0 0 0 0 0.8 9 0 0 0 -5.58" result="a"/><feColorMatrix in="n" type="matrix" values="0 0 0 0 0.46 0 0 0 0 0.29 0 0 0 0 0.66 7 0 0 0 -5.04" result="b"/><feTurbulence type="fractalNoise" baseFrequency="0.9" numOctaves="1" seed="137" result="n2"/><feColorMatrix in="n2" type="matrix" values="0 0 0 0 0.4 0 0 0 0 0.37 0 0 0 0 0.48 0 0 0 9 -5.94" result="c"/><feMerge result="m"><feMergeNode in="a"/><feMergeNode in="b"/><feMergeNode in="c"/></feMerge><feGaussianBlur in="m" stdDeviation="0.42"/></filter><radialGradient id="g69" cx="0.35" cy="0.4" r="0.8"><stop offset="0.12" stop-color="#eceeee"/><stop offset="1" stop-color="#8f9496"/></radialGradient><filter id="f70" x="0" y="0" width="1" height="1" color-interpolation-filters="sRGB"><feTurbulence type="fractalNoise" baseFrequency="0.75" numOctaves="1" seed="90" result="n"/><feColorMatrix in="n" type="matrix" values="0 0 0 0 0.3 0 0 0 0 0.22 0 0 0 0 0.18 14 0 0 0 -10.5"/></filter><radialGradient id="g71" cx="0.4" cy="0.5" r="0.8"><stop offset="0.12" stop-color="#eaf0f2"/><stop offset="1" stop-color="#9da4a8"/></radialGradient><filter id="f72" x="0" y="0" width="1" height="1" color-interpolation-filters="sRGB"><feTurbulence type="fractalNoise" baseFrequency="0.75" numOctaves="1" seed="91" result="n"/><feColorMatrix in="n" type="matrix" values="0 0 0 0 0.3 0 0 0 0 0.22 0 0 0 0 0.18 14 0 0 0 -10.5"/></filter><radialGradient id="g73" cx="0.35" cy="0.5" r="0.8"><stop offset="0.12" stop-color="#f0f0f2"/><stop offset="1" stop-color="#99979b"/></radialGradient><filter id="f74" x="0" y="0" width="1" height="1" color-interpolation-filters="sRGB"><feTurbulence type="fractalNoise" baseFrequency="0.75" numOctaves="1" seed="92" result="n"/><feColorMatrix in="n" type="matrix" values="0 0 0 0 0.3 0 0 0 0 0.22 0 0 0 0 0.18 14 0 0 0 -10.5"/></filter><radialGradient id="g75" cx="0.45" cy="0.35" r="0.8"><stop offset="0.12" stop-color="#dfecf4"/><stop offset="1" stop-color="#737c80"/></radialGradient><filter id="f76" x="0" y="0" width="1" height="1" color-interpolation-filters="sRGB"><feTurbulence type="fractalNoise" baseFrequency="0.75" numOctaves="1" seed="93" result="n"/><feColorMatrix in="n" type="matrix" values="0 0 0 0 0.3 0 0 0 0 0.22 0 0 0 0 0.18 14 0 0 0 -10.5"/></filter></defs><g fill="#231f20"><text x="4.2" y="8.9" font-weight="bold" fill="#1a1413" font-size="13">A</text>
<text x="96.7" y="19.3" text-anchor="middle">MDA-MB-231</text>
<text x="198.4" y="19.3" text-anchor="middle">MCF-7-Adr</text>
<line x1="47" y1="21.4" x2="146.5" y2="21.4" stroke="#4b3f3c" stroke-width="0.9"/>
<line x1="148.8" y1="21.4" x2="248" y2="21.4" stroke="#4b3f3c" stroke-width="0.9"/>
<text x="50.8" y="29.8" text-anchor="end" font-style="italic">CYP4Z1</text>
<text x="50.8" y="38.9" text-anchor="end">Fluv.</text>
<text x="59.5" y="29.6" text-anchor="middle">-</text>
<text x="84" y="29.6" text-anchor="middle">-</text>
<text x="108" y="29.6" text-anchor="middle">+</text>
<text x="132" y="29.6" text-anchor="middle">+</text>
<text x="161" y="29.6" text-anchor="middle">-</text>
<text x="185.6" y="29.6" text-anchor="middle">-</text>
<text x="209.6" y="29.6" text-anchor="middle">+</text>
<text x="233.7" y="29.6" text-anchor="middle">+</text>
<text x="59.5" y="38.6" text-anchor="middle">-</text>
<text x="84" y="38.6" text-anchor="middle">+</text>
<text x="108" y="38.6" text-anchor="middle">-</text>
<text x="132" y="38.6" text-anchor="middle">+</text>
<text x="161" y="38.6" text-anchor="middle">-</text>
<text x="185.6" y="38.6" text-anchor="middle">+</text>
<text x="209.6" y="38.6" text-anchor="middle">-</text>
<text x="233.7" y="38.6" text-anchor="middle">+</text>
<text x="45.6" y="50.9" text-anchor="end">p-PI3K</text>
<rect x="47.5" y="41.8" width="98.5" height="12.4" fill="#fafafa"/>
<rect x="49.5" y="45.7" width="20" height="3" rx="1.35" fill="#0d0d0d" fill-opacity="0.9" filter="url(#bb)"/>
<rect x="75" y="46.1" width="18" height="2.2" rx="0.99" fill="#0d0d0d" fill-opacity="0.6" filter="url(#bb)"/>
<rect x="97.5" y="45.2" width="21" height="4" rx="1.8" fill="#0d0d0d" fill-opacity="0.95" filter="url(#bb)"/>
<rect x="122" y="45.4" width="20" height="3.6" rx="1.62" fill="#0d0d0d" fill-opacity="0.9" filter="url(#bb)"/>
<rect x="47.5" y="41.8" width="98.5" height="12.4" fill="none" stroke="#4b3f3c" stroke-width="1"/>
<rect x="149.3" y="41.8" width="98.2" height="12.4" fill="#fafafa"/>
<rect x="151.5" y="45.9" width="19" height="2.6" rx="1.17" fill="#0d0d0d" fill-opacity="0.9" filter="url(#bb)"/>
<rect x="177.1" y="46.1" width="17" height="2.2" rx="0.99" fill="#0d0d0d" fill-opacity="0.7" filter="url(#bb)"/>
<rect x="199.6" y="45.2" width="20" height="4" rx="1.8" fill="#0d0d0d" fill-opacity="0.95" filter="url(#bb)"/>
<rect x="223.7" y="45.45" width="20" height="3.5" rx="1.57" fill="#0d0d0d" fill-opacity="0.9" filter="url(#bb)"/>
<rect x="149.3" y="41.8" width="98.2" height="12.4" fill="none" stroke="#4b3f3c" stroke-width="1"/>
<text x="45.6" y="67.8" text-anchor="end">PI3K</text>
<rect x="47.5" y="58.7" width="98.5" height="12.4" fill="#fafafa"/>
<rect x="49" y="61.3" width="21" height="5.6" rx="2.52" fill="#0d0d0d" fill-opacity="1" filter="url(#bb)"/>
<rect x="73.5" y="61.3" width="21" height="5.6" rx="2.52" fill="#0d0d0d" fill-opacity="1" filter="url(#bb)"/>
<rect x="98" y="61.6" width="20" height="5" rx="2.25" fill="#0d0d0d" fill-opacity="1" filter="url(#bb)"/>
<rect x="121.5" y="61.4" width="21" height="5.4" rx="2.43" fill="#0d0d0d" fill-opacity="1" filter="url(#bb)"/>
<rect x="47.5" y="58.7" width="98.5" height="12.4" fill="none" stroke="#4b3f3c" stroke-width="1"/>
<rect x="149.3" y="58.7" width="98.2" height="12.4" fill="#fafafa"/>
<rect x="151" y="61.8" width="20" height="4.6" rx="2.07" fill="#0d0d0d" fill-opacity="1" filter="url(#bb)"/>
<rect x="176.1" y="61.8" width="19" height="4.6" rx="2.07" fill="#0d0d0d" fill-opacity="1" filter="url(#bb)"/>
<rect x="200.6" y="62.1" width="18" height="4" rx="1.8" fill="#0d0d0d" fill-opacity="1" filter="url(#bb)"/>
<rect x="224.2" y="61.8" width="19" height="4.6" rx="2.07" fill="#0d0d0d" fill-opacity="1" filter="url(#bb)"/>
<rect x="149.3" y="58.7" width="98.2" height="12.4" fill="none" stroke="#4b3f3c" stroke-width="1"/>
<text x="45.6" y="84.8" text-anchor="end">p-AKT</text>
<rect x="47.5" y="75.7" width="98.5" height="12.4" fill="#fafafa"/>
<rect x="49.5" y="79.3" width="20" height="3.6" rx="1.62" fill="#0d0d0d" fill-opacity="0.95" filter="url(#bb)"/>
<rect x="75.5" y="79.7" width="17" height="2.8" rx="1.26" fill="#0d0d0d" fill-opacity="0.85" filter="url(#bb)"/>
<rect x="98" y="79" width="20" height="4.2" rx="1.89" fill="#0d0d0d" fill-opacity="0.95" filter="url(#bb)"/>
<rect x="122.5" y="79.3" width="19" height="3.6" rx="1.62" fill="#0d0d0d" fill-opacity="0.9" filter="url(#bb)"/>
<rect x="47.5" y="75.7" width="98.5" height="12.4" fill="none" stroke="#4b3f3c" stroke-width="1"/>
<rect x="149.3" y="75.7" width="98.2" height="12.4" fill="#fafafa"/>
<rect x="152" y="79.6" width="18" height="3" rx="1.35" fill="#0d0d0d" fill-opacity="0.9" filter="url(#bb)"/>
<rect x="176.6" y="79.5" width="18" height="3.2" rx="1.44" fill="#0d0d0d" fill-opacity="0.9" filter="url(#bb)"/>
<rect x="200.1" y="79.2" width="19" height="3.8" rx="1.71" fill="#0d0d0d" fill-opacity="0.9" filter="url(#bb)"/>
<rect x="225.2" y="79.6" width="17" height="3" rx="1.35" fill="#0d0d0d" fill-opacity="0.85" filter="url(#bb)"/>
<rect x="149.3" y="75.7" width="98.2" height="12.4" fill="none" stroke="#4b3f3c" stroke-width="1"/>
<text x="45.6" y="101.8" text-anchor="end">AKT</text>
<rect x="47.5" y="92.7" width="98.5" height="12.4" fill="#fafafa"/>
<rect x="49" y="95.8" width="21" height="4.6" rx="2.07" fill="#0d0d0d" fill-opacity="1" filter="url(#bb)"/>
<rect x="73.5" y="95.8" width="21" height="4.6" rx="2.07" fill="#0d0d0d" fill-opacity="1" filter="url(#bb)"/>
<rect x="97.5" y="95.7" width="21" height="4.8" rx="2.16" fill="#0d0d0d" fill-opacity="1" filter="url(#bb)"/>
<rect x="121.5" y="95.8" width="21" height="4.6" rx="2.07" fill="#0d0d0d" fill-opacity="1" filter="url(#bb)"/>
<rect x="47.5" y="92.7" width="98.5" height="12.4" fill="none" stroke="#4b3f3c" stroke-width="1"/>
<rect x="149.3" y="92.7" width="98.2" height="12.4" fill="#fafafa"/>
<rect x="151.5" y="95.9" width="19" height="4.4" rx="1.98" fill="#0d0d0d" fill-opacity="1" filter="url(#bb)"/>
<rect x="176.1" y="96" width="19" height="4.2" rx="1.89" fill="#0d0d0d" fill-opacity="1" filter="url(#bb)"/>
<rect x="200.1" y="96" width="19" height="4.2" rx="1.89" fill="#0d0d0d" fill-opacity="1" filter="url(#bb)"/>
<rect x="224.2" y="95.8" width="19" height="4.6" rx="2.07" fill="#0d0d0d" fill-opacity="1" filter="url(#bb)"/>
<rect x="149.3" y="92.7" width="98.2" height="12.4" fill="none" stroke="#4b3f3c" stroke-width="1"/>
<text x="45.6" y="118.85" text-anchor="end">GAPDH</text>
<rect x="47.5" y="109.8" width="98.5" height="12.3" fill="#fafafa"/>
<rect x="49.5" y="113.05" width="20" height="4.2" rx="1.89" fill="#0d0d0d" fill-opacity="1" filter="url(#bb)"/>
<rect x="74.5" y="113.15" width="19" height="4" rx="1.8" fill="#0d0d0d" fill-opacity="1" filter="url(#bb)"/>
<rect x="99" y="113.35" width="18" height="3.6" rx="1.62" fill="#0d0d0d" fill-opacity="1" filter="url(#bb)"/>
<rect x="122.5" y="113.15" width="19" height="4" rx="1.8" fill="#0d0d0d" fill-opacity="1" filter="url(#bb)"/>
<rect x="47.5" y="109.8" width="98.5" height="12.3" fill="none" stroke="#4b3f3c" stroke-width="1"/>
<rect x="149.3" y="109.8" width="98.2" height="12.3" fill="#fafafa"/>
<rect x="150.5" y="112.65" width="21" height="5" rx="2.25" fill="#0d0d0d" fill-opacity="1" filter="url(#bb)"/>
<rect x="175.6" y="112.85" width="20" height="4.6" rx="2.07" fill="#0d0d0d" fill-opacity="1" filter="url(#bb)"/>
<rect x="199.1" y="112.65" width="21" height="5" rx="2.25" fill="#0d0d0d" fill-opacity="1" filter="url(#bb)"/>
<rect x="223.2" y="112.35" width="21" height="5.6" rx="2.52" fill="#0d0d0d" fill-opacity="1" filter="url(#bb)"/>
<rect x="149.3" y="109.8" width="98.2" height="12.3" fill="none" stroke="#4b3f3c" stroke-width="1"/>
<text x="5" y="159.6" font-weight="bold" fill="#1a1413" font-size="13">B</text>
<text x="96.5" y="156.3" text-anchor="middle">MDA-MB-231</text>
<text x="198" y="156.3" text-anchor="middle">MCF-7-Adr</text>
<line x1="46.5" y1="158.5" x2="146.4" y2="158.5" stroke="#8a8585" stroke-width="1"/>
<line x1="148.6" y1="158.5" x2="247.1" y2="158.5" stroke="#8a8585" stroke-width="1"/>
<text x="43.8" y="165.7" text-anchor="end">Fluv.</text>
<text x="43.8" y="175.1" text-anchor="end">TAG</text>
<text x="61" y="165.4" text-anchor="middle">-</text>
<text x="85" y="165.4" text-anchor="middle">-</text>
<text x="109.5" y="165.4" text-anchor="middle">+</text>
<text x="134" y="165.4" text-anchor="middle">+</text>
<text x="161.7" y="165.4" text-anchor="middle">-</text>
<text x="186" y="165.4" text-anchor="middle">-</text>
<text x="210.6" y="165.4" text-anchor="middle">+</text>
<text x="235" y="165.4" text-anchor="middle">+</text>
<text x="61" y="174.8" text-anchor="middle">-</text>
<text x="85" y="174.8" text-anchor="middle">+</text>
<text x="109.5" y="174.8" text-anchor="middle">-</text>
<text x="134" y="174.8" text-anchor="middle">+</text>
<text x="161.7" y="174.8" text-anchor="middle">-</text>
<text x="186" y="174.8" text-anchor="middle">+</text>
<text x="210.6" y="174.8" text-anchor="middle">-</text>
<text x="235" y="174.8" text-anchor="middle">+</text>
<text x="43.5" y="189.4" text-anchor="end">ALDH1A1</text>
<rect x="47" y="178.9" width="98.9" height="15.8" fill="#fafafa"/>
<rect x="50" y="182.25" width="22" height="8.5" rx="3.83" fill="#0d0d0d" fill-opacity="1" filter="url(#bb)"/>
<rect x="73.5" y="182" width="23" height="9" rx="4.05" fill="#0d0d0d" fill-opacity="1" filter="url(#bb)"/>
<rect x="100" y="184.25" width="19" height="5.5" rx="2.48" fill="#0d0d0d" fill-opacity="0.95" filter="url(#bb)"/>
<rect x="123.5" y="183" width="21" height="7" rx="3.15" fill="#0d0d0d" fill-opacity="1" filter="url(#bb)"/>
<rect x="47" y="178.9" width="98.9" height="15.8" fill="none" stroke="#4b3f3c" stroke-width="1"/>
<rect x="149.1" y="178.9" width="97.5" height="15.8" fill="#fafafa"/>
<rect x="153.2" y="184" width="17" height="3" rx="1.35" fill="#0d0d0d" fill-opacity="0.85" filter="url(#bb)"/>
<rect x="176.5" y="183.7" width="19" height="3.6" rx="1.62" fill="#0d0d0d" fill-opacity="0.9" filter="url(#bb)"/>
<rect x="205.6" y="184.5" width="10" height="2" rx="0.9" fill="#0d0d0d" fill-opacity="0.25" filter="url(#bb)"/>
<rect x="225.5" y="183.5" width="19" height="6" rx="2.7" fill="#0d0d0d" fill-opacity="0.9" filter="url(#bb)"/>
<rect x="233" y="186.5" width="8" height="5" rx="2.25" fill="#0d0d0d" fill-opacity="0.6" filter="url(#bb)"/>
<rect x="149.1" y="178.9" width="97.5" height="15.8" fill="none" stroke="#4b3f3c" stroke-width="1"/>
<text x="43.5" y="209.2" text-anchor="end">SOX2</text>
<rect x="47" y="199.7" width="98.9" height="13.6" fill="#fafafa"/>
<rect x="50" y="203.2" width="22" height="6.4" rx="2.88" fill="#0d0d0d" fill-opacity="1" filter="url(#bb)"/>
<rect x="74" y="203.3" width="22" height="6.2" rx="2.79" fill="#0d0d0d" fill-opacity="1" filter="url(#bb)"/>
<rect x="100" y="203.9" width="19" height="5" rx="2.25" fill="#0d0d0d" fill-opacity="1" filter="url(#bb)"/>
<rect x="124" y="203.7" width="20" height="5.4" rx="2.43" fill="#0d0d0d" fill-opacity="1" filter="url(#bb)"/>
<rect x="47" y="199.7" width="98.9" height="13.6" fill="none" stroke="#4b3f3c" stroke-width="1"/>
<rect x="149.1" y="199.7" width="97.5" height="13.6" fill="#fafafa"/>
<rect x="153.2" y="204.9" width="17" height="3" rx="1.35" fill="#0d0d0d" fill-opacity="0.9" filter="url(#bb)"/>
<rect x="176.5" y="204.4" width="19" height="4" rx="1.8" fill="#0d0d0d" fill-opacity="1" filter="url(#bb)"/>
<rect x="204.1" y="205.4" width="13" height="2" rx="0.9" fill="#0d0d0d" fill-opacity="0.45" filter="url(#bb)"/>
<rect x="226.5" y="204.7" width="17" height="3.4" rx="1.53" fill="#0d0d0d" fill-opacity="0.95" filter="url(#bb)"/>
<rect x="149.1" y="199.7" width="97.5" height="13.6" fill="none" stroke="#4b3f3c" stroke-width="1"/>
<text x="43.5" y="233" text-anchor="end">OCT3/4</text>
<rect x="47" y="217.8" width="98.9" height="24.6" fill="#fafafa"/>
<rect x="50" y="218.9" width="22" height="3.4" rx="1.53" fill="#0d0d0d" fill-opacity="1" filter="url(#bb)"/>
<rect x="73.5" y="218.6" width="23" height="4" rx="1.8" fill="#0d0d0d" fill-opacity="1" filter="url(#bb)"/>
<rect x="101" y="219.8" width="17" height="2.4" rx="1.08" fill="#0d0d0d" fill-opacity="0.9" filter="url(#bb)"/>
<rect x="123" y="219" width="22" height="3.6" rx="1.62" fill="#0d0d0d" fill-opacity="1" filter="url(#bb)"/>
<rect x="50.5" y="235.8" width="21" height="3.6" rx="1.62" fill="#0d0d0d" fill-opacity="1" filter="url(#bb)"/>
<rect x="74.5" y="235.8" width="21" height="3.6" rx="1.62" fill="#0d0d0d" fill-opacity="1" filter="url(#bb)"/>
<rect x="102" y="237" width="15" height="2" rx="0.9" fill="#0d0d0d" fill-opacity="0.8" filter="url(#bb)"/>
<rect x="124" y="236.3" width="20" height="3" rx="1.35" fill="#0d0d0d" fill-opacity="1" filter="url(#bb)"/>
<rect x="47" y="217.8" width="98.9" height="24.6" fill="none" stroke="#4b3f3c" stroke-width="1"/>
<rect x="149.1" y="217.8" width="97.5" height="24.6" fill="#fafafa"/>
<rect x="152.2" y="219.7" width="19" height="3.6" rx="1.62" fill="#0d0d0d" fill-opacity="1" filter="url(#bb)"/>
<rect x="176" y="219.1" width="20" height="4.4" rx="1.98" fill="#0d0d0d" fill-opacity="1" filter="url(#bb)"/>
<rect x="202.1" y="220" width="17" height="3" rx="1.35" fill="#0d0d0d" fill-opacity="0.95" filter="url(#bb)"/>
<rect x="225.5" y="219.6" width="19" height="3.8" rx="1.71" fill="#0d0d0d" fill-opacity="1" filter="url(#bb)"/>
<rect x="152.2" y="235" width="19" height="2.6" rx="1.17" fill="#0d0d0d" fill-opacity="0.95" filter="url(#bb)"/>
<rect x="176.5" y="234.8" width="19" height="3" rx="1.35" fill="#0d0d0d" fill-opacity="1" filter="url(#bb)"/>
<rect x="203.1" y="235.6" width="15" height="1.8" rx="0.81" fill="#0d0d0d" fill-opacity="0.5" filter="url(#bb)"/>
<rect x="226" y="235" width="18" height="2.6" rx="1.17" fill="#0d0d0d" fill-opacity="0.95" filter="url(#bb)"/>
<rect x="149.1" y="217.8" width="97.5" height="24.6" fill="none" stroke="#4b3f3c" stroke-width="1"/>
<text x="43.5" y="257.6" text-anchor="end">GAPDH</text>
<rect x="47" y="247.2" width="98.9" height="14.9" fill="#fafafa"/>
<rect x="49.5" y="251.8" width="23" height="5.6" rx="2.52" fill="#0d0d0d" fill-opacity="1" filter="url(#bb)"/>
<rect x="73.5" y="251.8" width="23" height="5.6" rx="2.52" fill="#0d0d0d" fill-opacity="1" filter="url(#bb)"/>
<rect x="98" y="251.9" width="23" height="5.4" rx="2.43" fill="#0d0d0d" fill-opacity="1" filter="url(#bb)"/>
<rect x="122.5" y="251.8" width="23" height="5.6" rx="2.52" fill="#0d0d0d" fill-opacity="1" filter="url(#bb)"/>
<rect x="47" y="247.2" width="98.9" height="14.9" fill="none" stroke="#4b3f3c" stroke-width="1"/>
<rect x="149.1" y="247.2" width="97.5" height="14.9" fill="#fafafa"/>
<rect x="151.2" y="252.1" width="21" height="4" rx="1.8" fill="#0d0d0d" fill-opacity="1" filter="url(#bb)"/>
<rect x="176.5" y="252.6" width="19" height="4" rx="1.8" fill="#0d0d0d" fill-opacity="1" filter="url(#bb)"/>
<rect x="200.1" y="252.9" width="21" height="4" rx="1.8" fill="#0d0d0d" fill-opacity="1" filter="url(#bb)"/>
<rect x="224.5" y="252.6" width="21" height="4.6" rx="2.07" fill="#0d0d0d" fill-opacity="1" filter="url(#bb)"/>
<rect x="149.1" y="247.2" width="97.5" height="14.9" fill="none" stroke="#4b3f3c" stroke-width="1"/>
<text x="151.3" y="284" font-weight="bold" fill="#1a1413" font-size="13">H</text>
<text x="219.8" y="299.2" text-anchor="middle">MDA-MB-231</text>
<text x="289.5" y="299.2" text-anchor="middle">MCF-7-Adr</text>
<line x1="186" y1="301.3" x2="253.4" y2="301.3" stroke="#4b3f3c" stroke-width="0.9"/>
<line x1="255.4" y1="301.3" x2="323.2" y2="301.3" stroke="#4b3f3c" stroke-width="0.9"/>
<text x="186.4" y="306.6" text-anchor="end" font-size="7">Fluv.</text>
<text x="186.4" y="314" text-anchor="end" font-style="italic" font-size="7">CYP4Z1</text>
<text x="199.6" y="306.3" text-anchor="middle" font-size="7">-</text>
<text x="218.3" y="306.3" text-anchor="middle" font-size="7">+</text>
<text x="239.3" y="306.3" text-anchor="middle" font-size="7">+</text>
<text x="267.8" y="306.3" text-anchor="middle" font-size="7">-</text>
<text x="288" y="306.3" text-anchor="middle" font-size="7">+</text>
<text x="309" y="306.3" text-anchor="middle" font-size="7">+</text>
<text x="199.6" y="313.7" text-anchor="middle" font-size="7">-</text>
<text x="218.3" y="313.7" text-anchor="middle" font-size="7">-</text>
<text x="239.3" y="313.7" text-anchor="middle" font-size="7">+</text>
<text x="267.8" y="313.7" text-anchor="middle" font-size="7">-</text>
<text x="288" y="313.7" text-anchor="middle" font-size="7">-</text>
<text x="309" y="313.7" text-anchor="middle" font-size="7">+</text>
<text x="184" y="325.9" text-anchor="end">CYP4Z1</text>
<rect x="186.5" y="317.3" width="66.6" height="11.4" fill="#f6f6f6"/>
<rect x="186.5" y="317.3" width="66.6" height="11.4" fill="url(#lg1)"/>
<rect x="192.6" y="321.7" width="14" height="2.6" rx="1.17" fill="#0d0d0d" fill-opacity="0.85" filter="url(#bb)"/>
<rect x="211.3" y="321.6" width="14" height="2.8" rx="1.26" fill="#0d0d0d" fill-opacity="0.85" filter="url(#bb)"/>
<rect x="230.3" y="320.3" width="18" height="5.4" rx="2.43" fill="#0d0d0d" fill-opacity="1" filter="url(#bb)"/>
<rect x="186.5" y="317.3" width="66.6" height="11.4" fill="none" stroke="#4b3f3c" stroke-width="1"/>
<rect x="255.7" y="317.3" width="67.2" height="11.4" fill="#f6f6f6"/>
<rect x="255.7" y="317.3" width="67.2" height="11.4" fill="url(#lg2)"/>
<rect x="261.3" y="321.7" width="13" height="2.6" rx="1.17" fill="#0d0d0d" fill-opacity="0.75" filter="url(#bb)"/>
<rect x="281" y="321.7" width="14" height="2.6" rx="1.17" fill="#0d0d0d" fill-opacity="0.6" filter="url(#bb)"/>
<rect x="300.5" y="320.8" width="17" height="4.4" rx="1.98" fill="#0d0d0d" fill-opacity="0.9" filter="url(#bb)"/>
<rect x="255.7" y="317.3" width="67.2" height="11.4" fill="none" stroke="#4b3f3c" stroke-width="1"/>
<text x="184" y="341.25" text-anchor="end">ALDH1A1</text>
<rect x="186.5" y="332.9" width="66.6" height="10.9" fill="#f6f6f6"/>
<rect x="186.5" y="332.9" width="66.6" height="10.9" fill="url(#lg3)"/>
<rect x="192.6" y="336.25" width="14" height="4.2" rx="1.89" fill="#0d0d0d" fill-opacity="0.75" filter="url(#bb)"/>
<rect x="212.3" y="336.75" width="12" height="3.2" rx="1.44" fill="#0d0d0d" fill-opacity="0.5" filter="url(#bb)"/>
<rect x="231.8" y="336.55" width="15" height="3.6" rx="1.62" fill="#0d0d0d" fill-opacity="0.85" filter="url(#bb)"/>
<rect x="186.5" y="332.9" width="66.6" height="10.9" fill="none" stroke="#4b3f3c" stroke-width="1"/>
<rect x="255.7" y="332.9" width="67.2" height="10.9" fill="#f6f6f6"/>
<rect x="255.7" y="332.9" width="67.2" height="10.9" fill="url(#lg4)"/>
<rect x="260.3" y="337.15" width="15" height="2.4" rx="1.08" fill="#0d0d0d" fill-opacity="0.95" filter="url(#bb)"/>
<rect x="280.5" y="336.85" width="15" height="3" rx="1.35" fill="#0d0d0d" fill-opacity="0.95" filter="url(#bb)"/>
<rect x="301" y="336.65" width="16" height="3.4" rx="1.53" fill="#0d0d0d" fill-opacity="1" filter="url(#bb)"/>
<rect x="255.7" y="332.9" width="67.2" height="10.9" fill="none" stroke="#4b3f3c" stroke-width="1"/>
<text x="184" y="355.35" text-anchor="end">SOX2</text>
<rect x="186.5" y="347.7" width="66.6" height="9.5" fill="#f6f6f6"/>
<rect x="186.5" y="347.7" width="66.6" height="9.5" fill="url(#lg5)"/>
<rect x="191.6" y="350.45" width="16" height="4" rx="1.8" fill="#0d0d0d" fill-opacity="0.95" filter="url(#bb)"/>
<rect x="210.3" y="350.65" width="16" height="3.6" rx="1.62" fill="#0d0d0d" fill-opacity="0.95" filter="url(#bb)"/>
<rect x="229.3" y="349.25" width="20" height="6.4" rx="2.88" fill="#0d0d0d" fill-opacity="1" filter="url(#bb)"/>
<rect x="186.5" y="347.7" width="66.6" height="9.5" fill="none" stroke="#4b3f3c" stroke-width="1"/>
<rect x="255.7" y="347.7" width="67.2" height="9.5" fill="#f6f6f6"/>
<rect x="255.7" y="347.7" width="67.2" height="9.5" fill="url(#lg6)"/>
<rect x="260.8" y="350.95" width="14" height="3" rx="1.35" fill="#0d0d0d" fill-opacity="0.9" filter="url(#bb)"/>
<rect x="281.5" y="350.85" width="13" height="3.2" rx="1.44" fill="#0d0d0d" fill-opacity="0.9" filter="url(#bb)"/>
<rect x="301.5" y="349.95" width="15" height="5" rx="2.25" fill="#0d0d0d" fill-opacity="1" filter="url(#bb)"/>
<rect x="255.7" y="347.7" width="67.2" height="9.5" fill="none" stroke="#4b3f3c" stroke-width="1"/>
<text x="184" y="393.9" text-anchor="end">GAPDH</text>
<rect x="186.5" y="384.9" width="66.6" height="12.2" fill="#f6f6f6"/>
<rect x="186.5" y="384.9" width="66.6" height="12.2" fill="url(#lg7)"/>
<rect x="191.1" y="388.5" width="17" height="5" rx="2.25" fill="#0d0d0d" fill-opacity="1" filter="url(#bb)"/>
<rect x="209.8" y="388.5" width="17" height="5" rx="2.25" fill="#0d0d0d" fill-opacity="1" filter="url(#bb)"/>
<rect x="231.3" y="388.8" width="16" height="4.4" rx="1.98" fill="#0d0d0d" fill-opacity="1" filter="url(#bb)"/>
<rect x="186.5" y="384.9" width="66.6" height="12.2" fill="none" stroke="#4b3f3c" stroke-width="1"/>
<rect x="255.7" y="384.9" width="67.2" height="12.2" fill="#f6f6f6"/>
<rect x="255.7" y="384.9" width="67.2" height="12.2" fill="url(#lg8)"/>
<rect x="260.3" y="389.1" width="15" height="3.8" rx="1.71" fill="#0d0d0d" fill-opacity="1" filter="url(#bb)"/>
<rect x="281" y="389.2" width="14" height="3.6" rx="1.62" fill="#0d0d0d" fill-opacity="1" filter="url(#bb)"/>
<rect x="301.5" y="389.1" width="15" height="3.8" rx="1.71" fill="#0d0d0d" fill-opacity="1" filter="url(#bb)"/>
<rect x="255.7" y="384.9" width="67.2" height="12.2" fill="none" stroke="#4b3f3c" stroke-width="1"/>
<text x="184" y="373.8" text-anchor="end">OCT3/4</text>
<rect x="186.5" y="361.1" width="66.6" height="19.5" fill="#f4f4f4"/>
<rect x="186.5" y="361.1" width="66.6" height="19.5" fill="url(#lg9)"/>
<rect x="192.1" y="363.6" width="15" height="2" rx="0.9" fill="#0d0d0d" fill-opacity="0.7" filter="url(#bb)"/>
<rect x="210.8" y="363.7" width="15" height="1.8" rx="0.81" fill="#0d0d0d" fill-opacity="0.6" filter="url(#bb)"/>
<rect x="231.3" y="363.1" width="16" height="2.6" rx="1.17" fill="#0d0d0d" fill-opacity="0.85" filter="url(#bb)"/>
<rect x="192.6" y="376.4" width="14" height="1.6" rx="0.72" fill="#0d0d0d" fill-opacity="0.4" filter="url(#bb)"/>
<rect x="211.8" y="376.45" width="13" height="1.5" rx="0.68" fill="#0d0d0d" fill-opacity="0.3" filter="url(#bb)"/>
<rect x="232.8" y="376.4" width="13" height="1.6" rx="0.72" fill="#0d0d0d" fill-opacity="0.4" filter="url(#bb)"/>
<rect x="186.5" y="361.1" width="66.6" height="19.5" fill="none" stroke="#4b3f3c" stroke-width="1"/>
<rect x="255.7" y="361.1" width="67.2" height="19.5" fill="#f4f4f4"/>
<rect x="255.7" y="361.1" width="67.2" height="19.5" fill="url(#lg10)"/>
<rect x="260.3" y="363.4" width="15" height="3.6" rx="1.62" fill="#0d0d0d" fill-opacity="1" filter="url(#bb)"/>
<rect x="280.5" y="363.6" width="15" height="3.2" rx="1.44" fill="#0d0d0d" fill-opacity="1" filter="url(#bb)"/>
<rect x="300.5" y="363.1" width="17" height="4.2" rx="1.89" fill="#0d0d0d" fill-opacity="1" filter="url(#bb)"/>
<rect x="260.3" y="373.4" width="15" height="3.6" rx="1.62" fill="#0d0d0d" fill-opacity="1" filter="url(#bb)"/>
<rect x="280.5" y="373.5" width="15" height="3.4" rx="1.53" fill="#0d0d0d" fill-opacity="1" filter="url(#bb)"/>
<rect x="300.5" y="373.3" width="17" height="4.2" rx="1.89" fill="#0d0d0d" fill-opacity="1" filter="url(#bb)"/>
<rect x="255.7" y="361.1" width="67.2" height="19.5" fill="none" stroke="#4b3f3c" stroke-width="1"/>
<text x="4.7" y="587" font-weight="bold" fill="#1a1413" font-size="13">N</text>
<text x="92.6" y="598.8" text-anchor="middle">MDA-MB-231<tspan font-size="4.5" font-style="italic" dy="-2.5" style="stroke-width:0.1px">CYP4Z1</tspan></text>
<text x="194.8" y="598.8" text-anchor="middle">MCF-7-Adr<tspan font-size="4.5" font-style="italic" dy="-2.5" style="stroke-width:0.1px">CYP4Z1</tspan></text>
<line x1="43.7" y1="601.4" x2="142.7" y2="601.4" stroke="#4b3f3c" stroke-width="0.9"/>
<line x1="145" y1="601.4" x2="244.4" y2="601.4" stroke="#4b3f3c" stroke-width="0.9"/>
<text x="46" y="610.8" text-anchor="end">Fluv.</text>
<text x="46" y="620.9" text-anchor="end">A922500</text>
<text x="57" y="610.4" text-anchor="middle">-</text>
<text x="81.6" y="610.4" text-anchor="middle">+</text>
<text x="105.3" y="610.4" text-anchor="middle">-</text>
<text x="130.4" y="610.4" text-anchor="middle">+</text>
<text x="159.6" y="610.4" text-anchor="middle">-</text>
<text x="183" y="610.4" text-anchor="middle">+</text>
<text x="206.7" y="610.4" text-anchor="middle">-</text>
<text x="232.4" y="610.4" text-anchor="middle">+</text>
<text x="57" y="620.5" text-anchor="middle">-</text>
<text x="81.6" y="620.5" text-anchor="middle">-</text>
<text x="105.3" y="620.5" text-anchor="middle">+</text>
<text x="130.4" y="620.5" text-anchor="middle">+</text>
<text x="159.6" y="620.5" text-anchor="middle">-</text>
<text x="183" y="620.5" text-anchor="middle">-</text>
<text x="206.7" y="620.5" text-anchor="middle">+</text>
<text x="232.4" y="620.5" text-anchor="middle">+</text>
<text x="40.5" y="632.6" text-anchor="end">ALDH1A1</text>
<rect x="44.2" y="624.5" width="98" height="10.5" fill="#f6f6f6"/>
<rect x="46" y="627" width="22" height="7" rx="3.15" fill="#0d0d0d" fill-opacity="0.25" filter="url(#bb)"/>
<rect x="47" y="624.85" width="20" height="7.5" rx="3.38" fill="#0d0d0d" fill-opacity="1" filter="url(#bb)"/>
<rect x="72.6" y="627.5" width="18" height="6" rx="2.7" fill="#0d0d0d" fill-opacity="0.2" filter="url(#bb)"/>
<rect x="73.1" y="626.2" width="17" height="6" rx="2.7" fill="#0d0d0d" fill-opacity="0.8" filter="url(#bb)"/>
<rect x="96.8" y="625.8" width="17" height="6" rx="2.7" fill="#0d0d0d" fill-opacity="0.95" filter="url(#bb)"/>
<rect x="122.4" y="626.5" width="16" height="6" rx="2.7" fill="#0d0d0d" fill-opacity="0.25" filter="url(#bb)"/>
<rect x="44.2" y="624.5" width="98" height="10.5" fill="none" stroke="#4b3f3c" stroke-width="1"/>
<rect x="145.5" y="624.5" width="98.4" height="10.5" fill="#f6f6f6"/>
<rect x="147.6" y="626.5" width="24" height="8" rx="3.6" fill="#0d0d0d" fill-opacity="0.3" filter="url(#bb)"/>
<rect x="148.6" y="624.4" width="22" height="8" rx="3.6" fill="#0d0d0d" fill-opacity="1" filter="url(#bb)"/>
<rect x="174" y="625.75" width="18" height="6.5" rx="2.93" fill="#0d0d0d" fill-opacity="0.9" filter="url(#bb)"/>
<rect x="197.7" y="625.8" width="18" height="6" rx="2.7" fill="#0d0d0d" fill-opacity="0.88" filter="url(#bb)"/>
<rect x="224.4" y="627.25" width="16" height="4.5" rx="2.02" fill="#0d0d0d" fill-opacity="0.6" filter="url(#bb)"/>
<rect x="223.9" y="628" width="17" height="6" rx="2.7" fill="#0d0d0d" fill-opacity="0.2" filter="url(#bb)"/>
<rect x="145.5" y="624.5" width="98.4" height="10.5" fill="none" stroke="#4b3f3c" stroke-width="1"/>
<text x="40.5" y="649.2" text-anchor="end">SOX2</text>
<rect x="44.2" y="639.8" width="98" height="13.2" fill="#f6f6f6"/>
<rect x="46.5" y="643.3" width="21" height="6" rx="2.7" fill="#0d0d0d" fill-opacity="1" filter="url(#bb)"/>
<rect x="72.6" y="643.3" width="18" height="5.6" rx="2.52" fill="#0d0d0d" fill-opacity="1" filter="url(#bb)"/>
<rect x="96.8" y="643.5" width="17" height="5.6" rx="2.52" fill="#0d0d0d" fill-opacity="1" filter="url(#bb)"/>
<rect x="122.9" y="644.8" width="15" height="3.6" rx="1.62" fill="#0d0d0d" fill-opacity="0.95" filter="url(#bb)"/>
<rect x="47" y="647.5" width="20" height="4" rx="1.8" fill="#0d0d0d" fill-opacity="0.15" filter="url(#bb)"/>
<rect x="72.6" y="647.5" width="18" height="4" rx="1.8" fill="#0d0d0d" fill-opacity="0.12" filter="url(#bb)"/>
<rect x="96.8" y="647.5" width="17" height="4" rx="1.8" fill="#0d0d0d" fill-opacity="0.12" filter="url(#bb)"/>
<rect x="44.2" y="639.8" width="98" height="13.2" fill="none" stroke="#4b3f3c" stroke-width="1"/>
<rect x="145.5" y="639.8" width="98.4" height="13.2" fill="#f6f6f6"/>
<rect x="150.1" y="643.3" width="19" height="5" rx="2.25" fill="#0d0d0d" fill-opacity="1" filter="url(#bb)"/>
<rect x="175" y="643.8" width="16" height="4" rx="1.8" fill="#0d0d0d" fill-opacity="1" filter="url(#bb)"/>
<rect x="198.2" y="643.5" width="17" height="4.2" rx="1.89" fill="#0d0d0d" fill-opacity="1" filter="url(#bb)"/>
<rect x="224.9" y="644" width="15" height="3.6" rx="1.62" fill="#0d0d0d" fill-opacity="0.9" filter="url(#bb)"/>
<rect x="150.1" y="647.5" width="19" height="4" rx="1.8" fill="#0d0d0d" fill-opacity="0.15" filter="url(#bb)"/>
<rect x="175" y="647.5" width="16" height="4" rx="1.8" fill="#0d0d0d" fill-opacity="0.12" filter="url(#bb)"/>
<rect x="145.5" y="639.8" width="98.4" height="13.2" fill="none" stroke="#4b3f3c" stroke-width="1"/>
<text x="40.5" y="671.2" text-anchor="end">OCT3/4</text>
<rect x="44.2" y="656.9" width="98" height="23.1" fill="#f7f7f7"/>
<rect x="45" y="660.5" width="24" height="4" rx="1.8" fill="#0d0d0d" fill-opacity="1" filter="url(#bb)"/>
<rect x="72.1" y="660.6" width="19" height="3.4" rx="1.53" fill="#0d0d0d" fill-opacity="1" filter="url(#bb)"/>
<rect x="95.8" y="660.2" width="19" height="3.6" rx="1.62" fill="#0d0d0d" fill-opacity="1" filter="url(#bb)"/>
<rect x="121.9" y="660.8" width="17" height="3" rx="1.35" fill="#0d0d0d" fill-opacity="0.95" filter="url(#bb)"/>
<rect x="45.5" y="672.8" width="23" height="3.4" rx="1.53" fill="#0d0d0d" fill-opacity="1" filter="url(#bb)"/>
<rect x="72.6" y="673.1" width="18" height="2.8" rx="1.26" fill="#0d0d0d" fill-opacity="1" filter="url(#bb)"/>
<rect x="95.8" y="672.7" width="19" height="3" rx="1.35" fill="#0d0d0d" fill-opacity="1" filter="url(#bb)"/>
<rect x="122.4" y="673.2" width="16" height="2.6" rx="1.17" fill="#0d0d0d" fill-opacity="0.95" filter="url(#bb)"/>
<rect x="44.2" y="656.9" width="98" height="23.1" fill="none" stroke="#4b3f3c" stroke-width="1"/>
<rect x="145.5" y="656.9" width="98.4" height="23.1" fill="#f4f4f4"/>
<rect x="149.6" y="659" width="20" height="3" rx="1.35" fill="#0d0d0d" fill-opacity="0.8" filter="url(#bb)"/>
<rect x="149.6" y="661.25" width="20" height="4.5" rx="2.02" fill="#0d0d0d" fill-opacity="1" filter="url(#bb)"/>
<rect x="174" y="659.25" width="18" height="2.5" rx="1.12" fill="#0d0d0d" fill-opacity="0.4" filter="url(#bb)"/>
<rect x="174" y="661.4" width="18" height="3.6" rx="1.62" fill="#0d0d0d" fill-opacity="0.9" filter="url(#bb)"/>
<rect x="198.2" y="659.25" width="17" height="2.5" rx="1.12" fill="#0d0d0d" fill-opacity="0.4" filter="url(#bb)"/>
<rect x="198.2" y="661.4" width="17" height="3.6" rx="1.62" fill="#0d0d0d" fill-opacity="0.9" filter="url(#bb)"/>
<rect x="224.9" y="661.5" width="15" height="3" rx="1.35" fill="#0d0d0d" fill-opacity="0.8" filter="url(#bb)"/>
<rect x="149.6" y="672" width="20" height="4.6" rx="2.07" fill="#0d0d0d" fill-opacity="1" filter="url(#bb)"/>
<rect x="173.5" y="672.8" width="19" height="4" rx="1.8" fill="#0d0d0d" fill-opacity="1" filter="url(#bb)"/>
<rect x="197.2" y="672.9" width="19" height="4.2" rx="1.89" fill="#0d0d0d" fill-opacity="1" filter="url(#bb)"/>
<rect x="224.4" y="673.4" width="16" height="3.2" rx="1.44" fill="#0d0d0d" fill-opacity="0.9" filter="url(#bb)"/>
<rect x="145.5" y="656.9" width="98.4" height="23.1" fill="none" stroke="#4b3f3c" stroke-width="1"/>
<text x="40.5" y="693.6" text-anchor="end">GAPDH</text>
<rect x="44.2" y="684.8" width="98" height="11.9" fill="#f7f7f7"/>
<rect x="45.5" y="688.1" width="23" height="5" rx="2.25" fill="#0d0d0d" fill-opacity="1" filter="url(#bb)"/>
<rect x="71.1" y="688.3" width="21" height="4.6" rx="2.07" fill="#0d0d0d" fill-opacity="1" filter="url(#bb)"/>
<rect x="94.8" y="688.3" width="21" height="4.6" rx="2.07" fill="#0d0d0d" fill-opacity="1" filter="url(#bb)"/>
<rect x="119.9" y="687.9" width="21" height="5.4" rx="2.43" fill="#0d0d0d" fill-opacity="1" filter="url(#bb)"/>
<rect x="44.2" y="684.8" width="98" height="11.9" fill="none" stroke="#4b3f3c" stroke-width="1"/>
<rect x="145.5" y="684.8" width="98.4" height="11.9" fill="#f7f7f7"/>
<rect x="149.6" y="688.4" width="20" height="3.8" rx="1.71" fill="#0d0d0d" fill-opacity="1" filter="url(#bb)"/>
<rect x="173.5" y="688.7" width="19" height="3.8" rx="1.71" fill="#0d0d0d" fill-opacity="1" filter="url(#bb)"/>
<rect x="197.2" y="688.7" width="19" height="3.8" rx="1.71" fill="#0d0d0d" fill-opacity="1" filter="url(#bb)"/>
<rect x="222.4" y="688.4" width="20" height="4" rx="1.8" fill="#0d0d0d" fill-opacity="1" filter="url(#bb)"/>
<rect x="145.5" y="684.8" width="98.4" height="11.9" fill="none" stroke="#4b3f3c" stroke-width="1"/>
<text x="535" y="9.5" font-weight="bold" fill="#1a1413" font-size="13">D</text>
<rect x="569" y="8.3" width="20" height="5.2" fill="#fff" stroke="#8282ee" stroke-width="1"/>
<text x="590.8" y="13.78">Solvent</text>
<rect x="618.7" y="8.3" width="20" height="5.2" fill="#fff" stroke="#4a8fe6" stroke-width="1"/>
<text x="641.5" y="13.78">Fluv.</text>
<rect x="569" y="18.9" width="20" height="5.2" fill="#fff" stroke="#f8a75e" stroke-width="1"/>
<text x="590.8" y="24.38">TAG</text>
<rect x="618.7" y="18.9" width="20" height="5.2" fill="#fff" stroke="#f4868c" stroke-width="1"/>
<text x="641.5" y="24.38">TAG + Fluv.</text>
<path d="M570.7 117.5V99.92H578.6V117.5" stroke="#8282ee" stroke-width="1.25" fill="#fff"/>
<line x1="574.65" y1="99.92" x2="574.65" y2="98.16" stroke="#8282ee" stroke-width="1.1"/>
<line x1="572.45" y1="98.16" x2="576.85" y2="98.16" stroke="#8282ee" stroke-width="1.1"/>
<circle cx="572.45" cy="99.92" r="1.6" fill="#fff" stroke="#8282ee" stroke-width="0.9"/>
<circle cx="574.65" cy="99.04" r="1.6" fill="#fff" stroke="#8282ee" stroke-width="0.9"/>
<circle cx="576.85" cy="100.45" r="1.6" fill="#fff" stroke="#8282ee" stroke-width="0.9"/>
<path d="M583 117.5V109.06H592V117.5" stroke="#4a8fe6" stroke-width="1.25" fill="#fff"/>
<line x1="587.5" y1="109.06" x2="587.5" y2="106.6" stroke="#4a8fe6" stroke-width="1.1"/>
<line x1="585.3" y1="106.6" x2="589.7" y2="106.6" stroke="#4a8fe6" stroke-width="1.1"/>
<rect x="583.7" y="107.11" width="3.2" height="3.2" fill="#fff" stroke="#4a8fe6" stroke-width="0.9"/>
<rect x="585.9" y="108.52" width="3.2" height="3.2" fill="#fff" stroke="#4a8fe6" stroke-width="0.9"/>
<rect x="588.1" y="106.76" width="3.2" height="3.2" fill="#fff" stroke="#4a8fe6" stroke-width="0.9"/>
<path d="M596.3 117.5V68.63H605V117.5" stroke="#f8a75e" stroke-width="1.25" fill="#fff"/>
<line x1="600.65" y1="68.63" x2="600.65" y2="63.88" stroke="#f8a75e" stroke-width="1.1"/>
<line x1="598.45" y1="63.88" x2="602.85" y2="63.88" stroke="#f8a75e" stroke-width="1.1"/>
<path d="M598.45 67.23L600.21 70.44L596.69 70.44Z" fill="#fff" stroke="#f8a75e" stroke-width="0.9"/>
<path d="M600.65 70.75L602.41 73.95L598.89 73.95Z" fill="#fff" stroke="#f8a75e" stroke-width="0.9"/>
<path d="M602.85 62.84L604.61 66.04L601.09 66.04Z" fill="#fff" stroke="#f8a75e" stroke-width="0.9"/>
<path d="M609 117.5V79.7H617.8V117.5" stroke="#f4868c" stroke-width="1.25" fill="#fff"/>
<line x1="613.4" y1="79.7" x2="613.4" y2="76.71" stroke="#f4868c" stroke-width="1.1"/>
<line x1="611.2" y1="76.71" x2="615.6" y2="76.71" stroke="#f4868c" stroke-width="1.1"/>
<path d="M611.2 80.74L612.96 77.54L609.44 77.54Z" fill="#fff" stroke="#f4868c" stroke-width="0.9"/>
<path d="M613.4 81.62L615.16 78.42L611.64 78.42Z" fill="#fff" stroke="#f4868c" stroke-width="0.9"/>
<path d="M615.6 82.5L617.36 79.3L613.84 79.3Z" fill="#fff" stroke="#f4868c" stroke-width="0.9"/>
<path d="M631 117.5V99.92H639.7V117.5" stroke="#8282ee" stroke-width="1.25" fill="#fff"/>
<line x1="635.35" y1="99.92" x2="635.35" y2="96.05" stroke="#8282ee" stroke-width="1.1"/>
<line x1="633.15" y1="96.05" x2="637.55" y2="96.05" stroke="#8282ee" stroke-width="1.1"/>
<circle cx="633.15" cy="98.16" r="1.6" fill="#fff" stroke="#8282ee" stroke-width="0.9"/>
<circle cx="635.35" cy="102.56" r="1.6" fill="#fff" stroke="#8282ee" stroke-width="0.9"/>
<circle cx="637.55" cy="99.92" r="1.6" fill="#fff" stroke="#8282ee" stroke-width="0.9"/>
<path d="M643.8 117.5V112.23H652.6V117.5" stroke="#4a8fe6" stroke-width="1.25" fill="#fff"/>
<line x1="648.2" y1="112.23" x2="648.2" y2="110.12" stroke="#4a8fe6" stroke-width="1.1"/>
<line x1="646" y1="110.12" x2="650.4" y2="110.12" stroke="#4a8fe6" stroke-width="1.1"/>
<rect x="644.4" y="110.63" width="3.2" height="3.2" fill="#fff" stroke="#4a8fe6" stroke-width="0.9"/>
<rect x="646.6" y="112.03" width="3.2" height="3.2" fill="#fff" stroke="#4a8fe6" stroke-width="0.9"/>
<rect x="648.8" y="109.22" width="3.2" height="3.2" fill="#fff" stroke="#4a8fe6" stroke-width="0.9"/>
<path d="M657.4 117.5V52.1H665.7V117.5" stroke="#f8a75e" stroke-width="1.25" fill="#fff"/>
<line x1="661.55" y1="52.1" x2="661.55" y2="47.18" stroke="#f8a75e" stroke-width="1.1"/>
<line x1="659.35" y1="47.18" x2="663.75" y2="47.18" stroke="#f8a75e" stroke-width="1.1"/>
<path d="M659.35 50.53L661.11 53.73L657.59 53.73Z" fill="#fff" stroke="#f8a75e" stroke-width="0.9"/>
<path d="M661.55 52.29L663.31 55.49L659.79 55.49Z" fill="#fff" stroke="#f8a75e" stroke-width="0.9"/>
<path d="M663.75 47.02L665.51 50.22L661.99 50.22Z" fill="#fff" stroke="#f8a75e" stroke-width="0.9"/>
<path d="M669.6 117.5V65.64H678.2V117.5" stroke="#f4868c" stroke-width="1.25" fill="#fff"/>
<line x1="673.9" y1="65.64" x2="673.9" y2="60.37" stroke="#f4868c" stroke-width="1.1"/>
<line x1="671.7" y1="60.37" x2="676.1" y2="60.37" stroke="#f4868c" stroke-width="1.1"/>
<path d="M671.7 66.68L673.46 63.48L669.94 63.48Z" fill="#fff" stroke="#f4868c" stroke-width="0.9"/>
<path d="M673.9 71.95L675.66 68.75L672.14 68.75Z" fill="#fff" stroke="#f4868c" stroke-width="0.9"/>
<path d="M676.1 64.04L677.86 60.84L674.34 60.84Z" fill="#fff" stroke="#f4868c" stroke-width="0.9"/>
<line x1="566.2" y1="29.6" x2="566.2" y2="118.1" stroke="#111" stroke-width="1.25"/>
<line x1="560.4" y1="117.5" x2="566.2" y2="117.5" stroke="#111" stroke-width="1.15"/>
<text x="559.5" y="120.24" text-anchor="end" font-size="7.6">0</text>
<line x1="560.4" y1="99.92" x2="566.2" y2="99.92" stroke="#111" stroke-width="1.15"/>
<text x="559.5" y="102.66" text-anchor="end" font-size="7.6">1</text>
<line x1="560.4" y1="82.34" x2="566.2" y2="82.34" stroke="#111" stroke-width="1.15"/>
<text x="559.5" y="85.08" text-anchor="end" font-size="7.6">2</text>
<line x1="560.4" y1="64.76" x2="566.2" y2="64.76" stroke="#111" stroke-width="1.15"/>
<text x="559.5" y="67.5" text-anchor="end" font-size="7.6">3</text>
<line x1="560.4" y1="47.18" x2="566.2" y2="47.18" stroke="#111" stroke-width="1.15"/>
<text x="559.5" y="49.92" text-anchor="end" font-size="7.6">4</text>
<line x1="560.4" y1="29.6" x2="566.2" y2="29.6" stroke="#111" stroke-width="1.15"/>
<text x="559.5" y="32.34" text-anchor="end" font-size="7.6">5</text>
<line x1="565.6" y1="117.5" x2="679.5" y2="117.5" stroke="#111" stroke-width="1.25"/>
<line x1="594" y1="117.5" x2="594" y2="123.1" stroke="#111" stroke-width="1.15"/>
<line x1="654" y1="117.5" x2="654" y2="123.1" stroke="#111" stroke-width="1.15"/>
<text x="594" y="130.2" text-anchor="middle">Migration</text>
<text x="654" y="130.2" text-anchor="middle">Invasion</text>
<text x="551.9" y="73" text-anchor="middle" transform="rotate(-90 551.9 73)">Relative cell number</text>
<text x="570.7" y="37.4">MDA-MB-231</text>
<text x="607.5" y="48" text-anchor="middle" font-size="6.9">p=0.015</text>
<line x1="600" y1="49.6" x2="615" y2="49.6" stroke="#222" stroke-width="1.2"/>
<text x="600.5" y="61.3" text-anchor="middle" font-size="6.9">p&lt;0.001</text>
<text x="590" y="91" text-anchor="middle" font-size="6.9" transform="rotate(-90 590 91)">p=0.003</text>
<text x="667.5" y="33.7" text-anchor="middle" font-size="6.9">p=0.020</text>
<line x1="660" y1="35.2" x2="680" y2="35.2" stroke="#222" stroke-width="1.2"/>
<text x="661" y="44.5" text-anchor="middle" font-size="6.9">p&lt;0.001</text>
<text x="650.6" y="97.5" text-anchor="middle" font-size="6.9" transform="rotate(-90 650.6 97.5)">p=0.004</text>
<text x="535.7" y="139.6" font-weight="bold" fill="#1a1413" font-size="13">F</text>
<rect x="569" y="144.8" width="20" height="5.2" fill="#fff" stroke="#8282ee" stroke-width="1"/>
<text x="590.8" y="150.28">Solvent</text>
<rect x="618.7" y="144.8" width="20" height="5.2" fill="#fff" stroke="#4a8fe6" stroke-width="1"/>
<text x="641.5" y="150.28">Fluv.</text>
<rect x="569" y="155" width="20" height="5.2" fill="#fff" stroke="#f8a75e" stroke-width="1"/>
<text x="590.8" y="160.48">TAG</text>
<rect x="618.7" y="155" width="20" height="5.2" fill="#fff" stroke="#f4868c" stroke-width="1"/>
<text x="641.5" y="160.48">TAG + Fluv.</text>
<path d="M571.2 251.7V215.03H579.8V251.7" stroke="#8282ee" stroke-width="1.25" fill="#fff"/>
<line x1="575.5" y1="215.03" x2="575.5" y2="209.8" stroke="#8282ee" stroke-width="1.1"/>
<line x1="573.3" y1="209.8" x2="577.7" y2="209.8" stroke="#8282ee" stroke-width="1.1"/>
<circle cx="573.3" cy="215.03" r="1.6" fill="#fff" stroke="#8282ee" stroke-width="0.9"/>
<circle cx="575.5" cy="220.27" r="1.6" fill="#fff" stroke="#8282ee" stroke-width="0.9"/>
<circle cx="577.7" cy="211.54" r="1.6" fill="#fff" stroke="#8282ee" stroke-width="0.9"/>
<path d="M583.8 251.7V235.11H592.9V251.7" stroke="#4a8fe6" stroke-width="1.25" fill="#fff"/>
<line x1="588.35" y1="235.11" x2="588.35" y2="230.75" stroke="#4a8fe6" stroke-width="1.1"/>
<line x1="586.15" y1="230.75" x2="590.55" y2="230.75" stroke="#4a8fe6" stroke-width="1.1"/>
<rect x="584.55" y="232.64" width="3.2" height="3.2" fill="#fff" stroke="#4a8fe6" stroke-width="0.9"/>
<rect x="586.75" y="235.26" width="3.2" height="3.2" fill="#fff" stroke="#4a8fe6" stroke-width="0.9"/>
<rect x="588.95" y="230.89" width="3.2" height="3.2" fill="#fff" stroke="#4a8fe6" stroke-width="0.9"/>
<path d="M597.2 251.7V188.84H605.8V251.7" stroke="#f8a75e" stroke-width="1.25" fill="#fff"/>
<line x1="601.5" y1="188.84" x2="601.5" y2="180.11" stroke="#f8a75e" stroke-width="1.1"/>
<line x1="599.3" y1="180.11" x2="603.7" y2="180.11" stroke="#f8a75e" stroke-width="1.1"/>
<path d="M599.3 186.92L601.06 190.12L597.54 190.12Z" fill="#fff" stroke="#f8a75e" stroke-width="0.9"/>
<path d="M601.5 195.65L603.26 198.85L599.74 198.85Z" fill="#fff" stroke="#f8a75e" stroke-width="0.9"/>
<path d="M603.7 181.69L605.46 184.89L601.94 184.89Z" fill="#fff" stroke="#f8a75e" stroke-width="0.9"/>
<path d="M610.3 251.7V203.69H618.9V251.7" stroke="#f4868c" stroke-width="1.25" fill="#fff"/>
<line x1="614.6" y1="203.69" x2="614.6" y2="197.57" stroke="#f4868c" stroke-width="1.1"/>
<line x1="612.4" y1="197.57" x2="616.8" y2="197.57" stroke="#f4868c" stroke-width="1.1"/>
<path d="M612.4 205.6L614.16 202.41L610.64 202.41Z" fill="#fff" stroke="#f4868c" stroke-width="0.9"/>
<path d="M614.6 212.59L616.36 209.39L612.84 209.39Z" fill="#fff" stroke="#f4868c" stroke-width="0.9"/>
<path d="M616.8 201.24L618.56 198.04L615.04 198.04Z" fill="#fff" stroke="#f4868c" stroke-width="0.9"/>
<path d="M631.8 251.7V217.65H640.9V251.7" stroke="#8282ee" stroke-width="1.25" fill="#fff"/>
<line x1="636.35" y1="217.65" x2="636.35" y2="211.54" stroke="#8282ee" stroke-width="1.1"/>
<line x1="634.15" y1="211.54" x2="638.55" y2="211.54" stroke="#8282ee" stroke-width="1.1"/>
<circle cx="634.15" cy="216.78" r="1.6" fill="#fff" stroke="#8282ee" stroke-width="0.9"/>
<circle cx="636.35" cy="223.76" r="1.6" fill="#fff" stroke="#8282ee" stroke-width="0.9"/>
<circle cx="638.55" cy="212.41" r="1.6" fill="#fff" stroke="#8282ee" stroke-width="0.9"/>
<path d="M644.7 251.7V237.73H653.8V251.7" stroke="#4a8fe6" stroke-width="1.25" fill="#fff"/>
<line x1="649.25" y1="237.73" x2="649.25" y2="233.37" stroke="#4a8fe6" stroke-width="1.1"/>
<line x1="647.05" y1="233.37" x2="651.45" y2="233.37" stroke="#4a8fe6" stroke-width="1.1"/>
<rect x="645.45" y="234.39" width="3.2" height="3.2" fill="#fff" stroke="#4a8fe6" stroke-width="0.9"/>
<rect x="647.65" y="238.75" width="3.2" height="3.2" fill="#fff" stroke="#4a8fe6" stroke-width="0.9"/>
<rect x="649.85" y="232.64" width="3.2" height="3.2" fill="#fff" stroke="#4a8fe6" stroke-width="0.9"/>
<path d="M657.8 251.7V197.57H666.4V251.7" stroke="#f8a75e" stroke-width="1.25" fill="#fff"/>
<line x1="662.1" y1="197.57" x2="662.1" y2="188.84" stroke="#f8a75e" stroke-width="1.1"/>
<line x1="659.9" y1="188.84" x2="664.3" y2="188.84" stroke="#f8a75e" stroke-width="1.1"/>
<path d="M659.9 195.65L661.66 198.85L658.14 198.85Z" fill="#fff" stroke="#f8a75e" stroke-width="0.9"/>
<path d="M662.1 200.02L663.86 203.22L660.34 203.22Z" fill="#fff" stroke="#f8a75e" stroke-width="0.9"/>
<path d="M664.3 188.67L666.06 191.87L662.54 191.87Z" fill="#fff" stroke="#f8a75e" stroke-width="0.9"/>
<path d="M670.7 251.7V209.8H679.3V251.7" stroke="#f4868c" stroke-width="1.25" fill="#fff"/>
<line x1="675" y1="209.8" x2="675" y2="206.3" stroke="#f4868c" stroke-width="1.1"/>
<line x1="672.8" y1="206.3" x2="677.2" y2="206.3" stroke="#f4868c" stroke-width="1.1"/>
<path d="M672.8 210.84L674.56 207.64L671.04 207.64Z" fill="#fff" stroke="#f4868c" stroke-width="0.9"/>
<path d="M675 213.46L676.76 210.26L673.24 210.26Z" fill="#fff" stroke="#f4868c" stroke-width="0.9"/>
<path d="M677.2 209.1L678.96 205.9L675.44 205.9Z" fill="#fff" stroke="#f4868c" stroke-width="0.9"/>
<line x1="566.9" y1="164.4" x2="566.9" y2="252.3" stroke="#111" stroke-width="1.25"/>
<line x1="561.1" y1="251.7" x2="566.9" y2="251.7" stroke="#111" stroke-width="1.15"/>
<text x="560.2" y="254.58" text-anchor="end">0</text>
<line x1="561.1" y1="234.24" x2="566.9" y2="234.24" stroke="#111" stroke-width="1.15"/>
<text x="560.2" y="237.12" text-anchor="end">20</text>
<line x1="561.1" y1="216.78" x2="566.9" y2="216.78" stroke="#111" stroke-width="1.15"/>
<text x="560.2" y="219.66" text-anchor="end">40</text>
<line x1="561.1" y1="199.32" x2="566.9" y2="199.32" stroke="#111" stroke-width="1.15"/>
<text x="560.2" y="202.2" text-anchor="end">60</text>
<line x1="561.1" y1="181.86" x2="566.9" y2="181.86" stroke="#111" stroke-width="1.15"/>
<text x="560.2" y="184.74" text-anchor="end">80</text>
<line x1="561.1" y1="164.4" x2="566.9" y2="164.4" stroke="#111" stroke-width="1.15"/>
<text x="560.2" y="167.28" text-anchor="end">100</text>
<line x1="566.3" y1="251.7" x2="681" y2="251.7" stroke="#111" stroke-width="1.25"/>
<line x1="594.5" y1="251.7" x2="594.5" y2="257.3" stroke="#111" stroke-width="1.15"/>
<line x1="655" y1="251.7" x2="655" y2="257.3" stroke="#111" stroke-width="1.15"/>
<text x="594.5" y="265.8" text-anchor="middle">MDA-MB-231</text>
<text x="655" y="265.8" text-anchor="middle">MCF-7-Adr</text>
<text x="551.4" y="208" text-anchor="middle" transform="rotate(-90 551.4 208)">Amount of spheres</text>
<text x="604.7" y="167" text-anchor="middle" font-size="6.9">p=0.062</text>
<line x1="598" y1="169.6" x2="614" y2="169.6" stroke="#222" stroke-width="1.2"/>
<text x="602" y="177.2" text-anchor="middle" font-size="6.9">p=0.008</text>
<text x="590.6" y="214.5" text-anchor="middle" font-size="6.9" transform="rotate(-90 590.6 214.5)">p=0.005</text>
<text x="669" y="175" text-anchor="middle" font-size="6.9">p=0.096</text>
<line x1="662" y1="177.6" x2="676" y2="177.6" stroke="#222" stroke-width="1.2"/>
<text x="662" y="185" text-anchor="middle" font-size="6.9">p=0.032</text>
<text x="651" y="219" text-anchor="middle" font-size="6.9" transform="rotate(-90 651 219)">p=0.009</text>
<text x="4.6" y="283.8" font-weight="bold" fill="#1a1413" font-size="13">G</text>
<rect x="31.2" y="284" width="19.4" height="5.2" fill="#fff" stroke="#8282ee" stroke-width="1"/>
<text x="53.9" y="289.48">Solvent</text>
<rect x="81.7" y="284" width="19.4" height="5.2" fill="#fff" stroke="#4a8fe6" stroke-width="1"/>
<text x="103.4" y="289.48">Fluv.</text>
<rect x="31.2" y="294" width="19.4" height="5.2" fill="#fff" stroke="#f8a75e" stroke-width="1"/>
<text x="53.9" y="299.48">TAG</text>
<rect x="81.7" y="294" width="19.4" height="5.2" fill="#fff" stroke="#f4868c" stroke-width="1"/>
<text x="103.4" y="299.48">TAG + Fluv.</text>
<path d="M29.4 390.6V326.55H38.5V390.6" stroke="#8282ee" stroke-width="1.25" fill="#fff"/>
<line x1="33.95" y1="326.55" x2="33.95" y2="325.5" stroke="#8282ee" stroke-width="1.1"/>
<line x1="31.75" y1="325.5" x2="36.15" y2="325.5" stroke="#8282ee" stroke-width="1.1"/>
<circle cx="31.75" cy="326.2" r="1.6" fill="#fff" stroke="#8282ee" stroke-width="0.9"/>
<circle cx="33.95" cy="327.25" r="1.6" fill="#fff" stroke="#8282ee" stroke-width="0.9"/>
<circle cx="36.15" cy="326.02" r="1.6" fill="#fff" stroke="#8282ee" stroke-width="0.9"/>
<path d="M42.4 390.6V339.85H51.6V390.6" stroke="#4a8fe6" stroke-width="1.25" fill="#fff"/>
<line x1="47" y1="339.85" x2="47" y2="338.8" stroke="#4a8fe6" stroke-width="1.1"/>
<line x1="44.8" y1="338.8" x2="49.2" y2="338.8" stroke="#4a8fe6" stroke-width="1.1"/>
<rect x="43.2" y="337.9" width="3.2" height="3.2" fill="#fff" stroke="#4a8fe6" stroke-width="0.9"/>
<rect x="45.4" y="338.95" width="3.2" height="3.2" fill="#fff" stroke="#4a8fe6" stroke-width="0.9"/>
<rect x="47.6" y="337.73" width="3.2" height="3.2" fill="#fff" stroke="#4a8fe6" stroke-width="0.9"/>
<path d="M55.4 390.6V320.6H64.5V390.6" stroke="#f8a75e" stroke-width="1.25" fill="#fff"/>
<line x1="59.95" y1="320.6" x2="59.95" y2="319.9" stroke="#f8a75e" stroke-width="1.1"/>
<line x1="57.75" y1="319.9" x2="62.15" y2="319.9" stroke="#f8a75e" stroke-width="1.1"/>
<path d="M57.75 318.33L59.51 321.53L55.99 321.53Z" fill="#fff" stroke="#f8a75e" stroke-width="0.9"/>
<path d="M59.95 319.03L61.71 322.23L58.19 322.23Z" fill="#fff" stroke="#f8a75e" stroke-width="0.9"/>
<path d="M62.15 318.51L63.91 321.71L60.39 321.71Z" fill="#fff" stroke="#f8a75e" stroke-width="0.9"/>
<path d="M68.2 390.6V321.83H77.3V390.6" stroke="#f4868c" stroke-width="1.25" fill="#fff"/>
<line x1="72.75" y1="321.83" x2="72.75" y2="320.95" stroke="#f4868c" stroke-width="1.1"/>
<line x1="70.55" y1="320.95" x2="74.95" y2="320.95" stroke="#f4868c" stroke-width="1.1"/>
<path d="M70.55 323.4L72.31 320.2L68.79 320.2Z" fill="#fff" stroke="#f4868c" stroke-width="0.9"/>
<path d="M72.75 324.27L74.51 321.07L70.99 321.07Z" fill="#fff" stroke="#f4868c" stroke-width="0.9"/>
<path d="M74.95 323.57L76.71 320.37L73.19 320.37Z" fill="#fff" stroke="#f4868c" stroke-width="0.9"/>
<path d="M90.5 390.6V355.6H99.4V390.6" stroke="#8282ee" stroke-width="1.25" fill="#fff"/>
<line x1="94.95" y1="355.6" x2="94.95" y2="354.55" stroke="#8282ee" stroke-width="1.1"/>
<line x1="92.75" y1="354.55" x2="97.15" y2="354.55" stroke="#8282ee" stroke-width="1.1"/>
<circle cx="92.75" cy="355.08" r="1.6" fill="#fff" stroke="#8282ee" stroke-width="0.9"/>
<circle cx="94.95" cy="355.95" r="1.6" fill="#fff" stroke="#8282ee" stroke-width="0.9"/>
<circle cx="97.15" cy="355.25" r="1.6" fill="#fff" stroke="#8282ee" stroke-width="0.9"/>
<path d="M103.1 390.6V373.98H112V390.6" stroke="#4a8fe6" stroke-width="1.25" fill="#fff"/>
<line x1="107.55" y1="373.98" x2="107.55" y2="372.75" stroke="#4a8fe6" stroke-width="1.1"/>
<line x1="105.35" y1="372.75" x2="109.75" y2="372.75" stroke="#4a8fe6" stroke-width="1.1"/>
<rect x="103.75" y="371.85" width="3.2" height="3.2" fill="#fff" stroke="#4a8fe6" stroke-width="0.9"/>
<rect x="105.95" y="373.25" width="3.2" height="3.2" fill="#fff" stroke="#4a8fe6" stroke-width="0.9"/>
<rect x="108.15" y="372.2" width="3.2" height="3.2" fill="#fff" stroke="#4a8fe6" stroke-width="0.9"/>
<path d="M116 390.6V345.98H124.9V390.6" stroke="#f8a75e" stroke-width="1.25" fill="#fff"/>
<line x1="120.45" y1="345.98" x2="120.45" y2="345.1" stroke="#f8a75e" stroke-width="1.1"/>
<line x1="118.25" y1="345.1" x2="122.65" y2="345.1" stroke="#f8a75e" stroke-width="1.1"/>
<path d="M118.25 343.53L120.01 346.73L116.49 346.73Z" fill="#fff" stroke="#f8a75e" stroke-width="0.9"/>
<path d="M120.45 344.58L122.21 347.78L118.69 347.78Z" fill="#fff" stroke="#f8a75e" stroke-width="0.9"/>
<path d="M122.65 343.88L124.41 347.08L120.89 347.08Z" fill="#fff" stroke="#f8a75e" stroke-width="0.9"/>
<path d="M129 390.6V349.48H137.9V390.6" stroke="#f4868c" stroke-width="1.25" fill="#fff"/>
<line x1="133.45" y1="349.48" x2="133.45" y2="346.85" stroke="#f4868c" stroke-width="1.1"/>
<line x1="131.25" y1="346.85" x2="135.65" y2="346.85" stroke="#f4868c" stroke-width="1.1"/>
<path d="M131.25 350.17L133.01 346.97L129.49 346.97Z" fill="#fff" stroke="#f4868c" stroke-width="0.9"/>
<path d="M133.45 351.92L135.21 348.72L131.69 348.72Z" fill="#fff" stroke="#f4868c" stroke-width="0.9"/>
<path d="M135.65 350.87L137.41 347.67L133.89 347.67Z" fill="#fff" stroke="#f4868c" stroke-width="0.9"/>
<line x1="25.5" y1="303.1" x2="25.5" y2="391.2" stroke="#111" stroke-width="1.25"/>
<line x1="19.7" y1="390.6" x2="25.5" y2="390.6" stroke="#111" stroke-width="1.15"/>
<text x="18.8" y="393.48" text-anchor="end">50</text>
<line x1="19.7" y1="373.1" x2="25.5" y2="373.1" stroke="#111" stroke-width="1.15"/>
<text x="18.8" y="375.98" text-anchor="end">60</text>
<line x1="19.7" y1="355.6" x2="25.5" y2="355.6" stroke="#111" stroke-width="1.15"/>
<text x="18.8" y="358.48" text-anchor="end">70</text>
<line x1="19.7" y1="338.1" x2="25.5" y2="338.1" stroke="#111" stroke-width="1.15"/>
<text x="18.8" y="340.98" text-anchor="end">80</text>
<line x1="19.7" y1="320.6" x2="25.5" y2="320.6" stroke="#111" stroke-width="1.15"/>
<text x="18.8" y="323.48" text-anchor="end">90</text>
<line x1="19.7" y1="303.1" x2="25.5" y2="303.1" stroke="#111" stroke-width="1.15"/>
<text x="18.8" y="305.98" text-anchor="end">100</text>
<line x1="24.9" y1="390.6" x2="142.6" y2="390.6" stroke="#111" stroke-width="1.25"/>
<line x1="53.3" y1="390.6" x2="53.3" y2="396.2" stroke="#111" stroke-width="1.15"/>
<line x1="113.3" y1="390.6" x2="113.3" y2="396.2" stroke="#111" stroke-width="1.15"/>
<text x="53.3" y="405" text-anchor="middle">MDA-MB-231</text>
<text x="113.8" y="405" text-anchor="middle">MCF-7-Adr</text>
<text x="6.6" y="348.7" text-anchor="middle" transform="rotate(-90 6.6 348.7)">CD24<tspan font-size="5" dy="-3">-</tspan><tspan dy="3"> / CD44</tspan><tspan font-size="5" dy="-3">+</tspan><tspan dy="3"> cells</tspan></text>
<text x="67" y="306.8" text-anchor="middle" font-size="6.9">p=0.358</text>
<line x1="60.4" y1="309.2" x2="73.4" y2="309.2" stroke="#222" stroke-width="1.2"/>
<text x="61.3" y="316.6" text-anchor="middle" font-size="6.9">p&lt;0.001</text>
<text x="49" y="324.5" text-anchor="middle" font-size="6.9" transform="rotate(-90 49 324.5)">p&lt;0.001</text>
<text x="127" y="333.4" text-anchor="middle" font-size="6.9">p=0.023</text>
<line x1="120.7" y1="335.4" x2="134.6" y2="335.4" stroke="#222" stroke-width="1.2"/>
<text x="121.6" y="343.4" text-anchor="middle" font-size="6.9">p&lt;0.001</text>
<text x="109.9" y="357" text-anchor="middle" font-size="6.9" transform="rotate(-90 109.9 357)">p&lt;0.001</text>
<text x="536.3" y="284.2" font-weight="bold" fill="#1a1413" font-size="13">J</text>
<text x="626" y="287.9" text-anchor="middle">MDA-MB-231</text>
<text x="595.6" y="296.2" text-anchor="middle">Migration</text>
<text x="656" y="296.2" text-anchor="middle">Invasion</text>
<path d="M573.4 388.3V330.23H584.3V388.3" stroke="#8282ee" stroke-width="1.25" fill="#fff"/>
<line x1="578.85" y1="330.23" x2="578.85" y2="329.07" stroke="#8282ee" stroke-width="1.1"/>
<line x1="576.65" y1="329.07" x2="581.05" y2="329.07" stroke="#8282ee" stroke-width="1.1"/>
<circle cx="576.65" cy="330.23" r="1.6" fill="#fff" stroke="#8282ee" stroke-width="0.9"/>
<circle cx="578.85" cy="331.39" r="1.6" fill="#fff" stroke="#8282ee" stroke-width="0.9"/>
<circle cx="581.05" cy="329.65" r="1.6" fill="#fff" stroke="#8282ee" stroke-width="0.9"/>
<path d="M590 388.3V344.17H600.8V388.3" stroke="#4a8fe6" stroke-width="1.25" fill="#fff"/>
<line x1="595.4" y1="344.17" x2="595.4" y2="342.42" stroke="#4a8fe6" stroke-width="1.1"/>
<line x1="593.2" y1="342.42" x2="597.6" y2="342.42" stroke="#4a8fe6" stroke-width="1.1"/>
<rect x="591.6" y="341.99" width="3.2" height="3.2" fill="#fff" stroke="#4a8fe6" stroke-width="0.9"/>
<rect x="593.8" y="343.15" width="3.2" height="3.2" fill="#fff" stroke="#4a8fe6" stroke-width="0.9"/>
<rect x="596" y="342.57" width="3.2" height="3.2" fill="#fff" stroke="#4a8fe6" stroke-width="0.9"/>
<path d="M606.5 388.3V318.04H617.3V388.3" stroke="#f8a75e" stroke-width="1.25" fill="#fff"/>
<line x1="611.9" y1="318.04" x2="611.9" y2="315.13" stroke="#f8a75e" stroke-width="1.1"/>
<line x1="609.7" y1="315.13" x2="614.1" y2="315.13" stroke="#f8a75e" stroke-width="1.1"/>
<path d="M609.7 315.53L611.46 318.73L607.94 318.73Z" fill="#fff" stroke="#f8a75e" stroke-width="0.9"/>
<path d="M611.9 320.18L613.66 323.38L610.14 323.38Z" fill="#fff" stroke="#f8a75e" stroke-width="0.9"/>
<path d="M614.1 313.79L615.86 316.99L612.34 316.99Z" fill="#fff" stroke="#f8a75e" stroke-width="0.9"/>
<path d="M634.5 388.3V330.23H645.4V388.3" stroke="#8282ee" stroke-width="1.25" fill="#fff"/>
<line x1="639.95" y1="330.23" x2="639.95" y2="328.49" stroke="#8282ee" stroke-width="1.1"/>
<line x1="637.75" y1="328.49" x2="642.15" y2="328.49" stroke="#8282ee" stroke-width="1.1"/>
<circle cx="637.75" cy="330.23" r="1.6" fill="#fff" stroke="#8282ee" stroke-width="0.9"/>
<circle cx="639.95" cy="331.39" r="1.6" fill="#fff" stroke="#8282ee" stroke-width="0.9"/>
<circle cx="642.15" cy="329.65" r="1.6" fill="#fff" stroke="#8282ee" stroke-width="0.9"/>
<path d="M651 388.3V365.07H661.9V388.3" stroke="#4a8fe6" stroke-width="1.25" fill="#fff"/>
<line x1="656.45" y1="365.07" x2="656.45" y2="363.91" stroke="#4a8fe6" stroke-width="1.1"/>
<line x1="654.25" y1="363.91" x2="658.65" y2="363.91" stroke="#4a8fe6" stroke-width="1.1"/>
<rect x="652.65" y="362.89" width="3.2" height="3.2" fill="#fff" stroke="#4a8fe6" stroke-width="0.9"/>
<rect x="654.85" y="364.63" width="3.2" height="3.2" fill="#fff" stroke="#4a8fe6" stroke-width="0.9"/>
<rect x="657.05" y="362.89" width="3.2" height="3.2" fill="#fff" stroke="#4a8fe6" stroke-width="0.9"/>
<path d="M667.6 388.3V319.78H678.4V388.3" stroke="#f8a75e" stroke-width="1.25" fill="#fff"/>
<line x1="673" y1="319.78" x2="673" y2="317.45" stroke="#f8a75e" stroke-width="1.1"/>
<line x1="670.8" y1="317.45" x2="675.2" y2="317.45" stroke="#f8a75e" stroke-width="1.1"/>
<path d="M670.8 316.7L672.56 319.9L669.04 319.9Z" fill="#fff" stroke="#f8a75e" stroke-width="0.9"/>
<path d="M673 319.6L674.76 322.8L671.24 322.8Z" fill="#fff" stroke="#f8a75e" stroke-width="0.9"/>
<path d="M675.2 317.86L676.96 321.06L673.44 321.06Z" fill="#fff" stroke="#f8a75e" stroke-width="0.9"/>
<line x1="567.3" y1="301.19" x2="567.3" y2="388.9" stroke="#111" stroke-width="1.25"/>
<line x1="561.5" y1="388.3" x2="567.3" y2="388.3" stroke="#111" stroke-width="1.15"/>
<text x="560.6" y="391.18" text-anchor="end">0.0</text>
<line x1="561.5" y1="359.26" x2="567.3" y2="359.26" stroke="#111" stroke-width="1.15"/>
<text x="560.6" y="362.14" text-anchor="end">0.5</text>
<line x1="561.5" y1="330.23" x2="567.3" y2="330.23" stroke="#111" stroke-width="1.15"/>
<text x="560.6" y="333.11" text-anchor="end">1.0</text>
<line x1="561.5" y1="301.19" x2="567.3" y2="301.19" stroke="#111" stroke-width="1.15"/>
<text x="560.6" y="304.07" text-anchor="end">1.5</text>
<line x1="566.7" y1="388.3" x2="685" y2="388.3" stroke="#111" stroke-width="1.25"/>
<text x="567" y="398.6" text-anchor="end" font-size="7">Fluv.</text>
<text x="567" y="407.6" text-anchor="end" font-style="italic" font-size="7">CYP4Z1</text>
<text x="578.9" y="398.3" text-anchor="middle" font-size="7">-</text>
<text x="595.4" y="398.3" text-anchor="middle" font-size="7">+</text>
<text x="611.9" y="398.3" text-anchor="middle" font-size="7">+</text>
<text x="640" y="398.3" text-anchor="middle" font-size="7">-</text>
<text x="656.4" y="398.3" text-anchor="middle" font-size="7">+</text>
<text x="673" y="398.3" text-anchor="middle" font-size="7">+</text>
<text x="578.9" y="407.3" text-anchor="middle" font-size="7">-</text>
<text x="595.4" y="407.3" text-anchor="middle" font-size="7">-</text>
<text x="611.9" y="407.3" text-anchor="middle" font-size="7">+</text>
<text x="640" y="407.3" text-anchor="middle" font-size="7">-</text>
<text x="656.4" y="407.3" text-anchor="middle" font-size="7">-</text>
<text x="673" y="407.3" text-anchor="middle" font-size="7">+</text>
<text x="546.9" y="344.7" text-anchor="middle" transform="rotate(-90 546.9 344.7)">Relative cell number</text>
<text x="586.6" y="323.8" text-anchor="middle" font-size="6.9">p&lt;0.001</text>
<line x1="575" y1="325.6" x2="595.6" y2="325.6" stroke="#222" stroke-width="1.2"/>
<text x="604.2" y="308.7" text-anchor="middle" font-size="6.9">p&lt;0.001</text>
<line x1="595.6" y1="311.4" x2="611.4" y2="311.4" stroke="#222" stroke-width="1.2"/>
<text x="648.8" y="322.3" text-anchor="middle" font-size="6.9">p&lt;0.001</text>
<line x1="636.3" y1="325" x2="656.7" y2="325" stroke="#222" stroke-width="1.2"/>
<text x="664.6" y="309.8" text-anchor="middle" font-size="6.9">p&lt;0.001</text>
<line x1="655.6" y1="312.5" x2="673" y2="312.5" stroke="#222" stroke-width="1.2"/>
<text x="321.5" y="426.5" font-weight="bold" fill="#1a1413" font-size="13">L</text>
<path d="M359.3 537.7V491.41H371.4V537.7" stroke="#8282ee" stroke-width="1.25" fill="#fff"/>
<line x1="365.35" y1="491.41" x2="365.35" y2="480.57" stroke="#8282ee" stroke-width="1.1"/>
<line x1="363.15" y1="480.57" x2="367.55" y2="480.57" stroke="#8282ee" stroke-width="1.1"/>
<circle cx="363.15" cy="480.57" r="1.6" fill="#fff" stroke="#8282ee" stroke-width="0.9"/>
<circle cx="365.35" cy="498.3" r="1.6" fill="#fff" stroke="#8282ee" stroke-width="0.9"/>
<circle cx="367.55" cy="491.41" r="1.6" fill="#fff" stroke="#8282ee" stroke-width="0.9"/>
<path d="M378.5 537.7V520.96H390.4V537.7" stroke="#4a8fe6" stroke-width="1.25" fill="#fff"/>
<line x1="384.45" y1="520.96" x2="384.45" y2="512.09" stroke="#4a8fe6" stroke-width="1.1"/>
<line x1="382.25" y1="512.09" x2="386.65" y2="512.09" stroke="#4a8fe6" stroke-width="1.1"/>
<rect x="380.65" y="510.49" width="3.2" height="3.2" fill="#fff" stroke="#4a8fe6" stroke-width="0.9"/>
<rect x="382.85" y="528.22" width="3.2" height="3.2" fill="#fff" stroke="#4a8fe6" stroke-width="0.9"/>
<rect x="385.05" y="519.36" width="3.2" height="3.2" fill="#fff" stroke="#4a8fe6" stroke-width="0.9"/>
<path d="M396.9 537.7V473.18H409.3V537.7" stroke="#f8a75e" stroke-width="1.25" fill="#fff"/>
<line x1="403.1" y1="473.18" x2="403.1" y2="463.83" stroke="#f8a75e" stroke-width="1.1"/>
<line x1="400.9" y1="463.83" x2="405.3" y2="463.83" stroke="#f8a75e" stroke-width="1.1"/>
<path d="M400.9 462.89L402.66 466.09L399.14 466.09Z" fill="#fff" stroke="#f8a75e" stroke-width="0.9"/>
<path d="M403.1 473.73L404.86 476.93L401.34 476.93Z" fill="#fff" stroke="#f8a75e" stroke-width="0.9"/>
<path d="M405.3 476.68L407.06 479.88L403.54 479.88Z" fill="#fff" stroke="#f8a75e" stroke-width="0.9"/>
<path d="M428.2 537.7V499.29H440.4V537.7" stroke="#8282ee" stroke-width="1.25" fill="#fff"/>
<line x1="434.3" y1="499.29" x2="434.3" y2="492.39" stroke="#8282ee" stroke-width="1.1"/>
<line x1="432.1" y1="492.39" x2="436.5" y2="492.39" stroke="#8282ee" stroke-width="1.1"/>
<circle cx="432.1" cy="492.39" r="1.6" fill="#fff" stroke="#8282ee" stroke-width="0.9"/>
<circle cx="434.3" cy="506.18" r="1.6" fill="#fff" stroke="#8282ee" stroke-width="0.9"/>
<circle cx="436.5" cy="499.29" r="1.6" fill="#fff" stroke="#8282ee" stroke-width="0.9"/>
<path d="M446.8 537.7V525.88H459.3V537.7" stroke="#4a8fe6" stroke-width="1.25" fill="#fff"/>
<line x1="453.05" y1="525.88" x2="453.05" y2="521.94" stroke="#4a8fe6" stroke-width="1.1"/>
<line x1="450.85" y1="521.94" x2="455.25" y2="521.94" stroke="#4a8fe6" stroke-width="1.1"/>
<rect x="449.25" y="520.34" width="3.2" height="3.2" fill="#fff" stroke="#4a8fe6" stroke-width="0.9"/>
<rect x="451.45" y="526.25" width="3.2" height="3.2" fill="#fff" stroke="#4a8fe6" stroke-width="0.9"/>
<rect x="453.65" y="523.3" width="3.2" height="3.2" fill="#fff" stroke="#4a8fe6" stroke-width="0.9"/>
<path d="M465.7 537.7V467.77H478V537.7" stroke="#f8a75e" stroke-width="1.25" fill="#fff"/>
<line x1="471.85" y1="467.77" x2="471.85" y2="461.86" stroke="#f8a75e" stroke-width="1.1"/>
<line x1="469.65" y1="461.86" x2="474.05" y2="461.86" stroke="#f8a75e" stroke-width="1.1"/>
<path d="M469.65 460.92L471.41 464.12L467.89 464.12Z" fill="#fff" stroke="#f8a75e" stroke-width="0.9"/>
<path d="M471.85 467.81L473.61 471.01L470.09 471.01Z" fill="#fff" stroke="#f8a75e" stroke-width="0.9"/>
<path d="M474.05 470.77L475.81 473.97L472.29 473.97Z" fill="#fff" stroke="#f8a75e" stroke-width="0.9"/>
<line x1="352.3" y1="439.2" x2="352.3" y2="538.3" stroke="#111" stroke-width="1.25"/>
<line x1="346.5" y1="537.7" x2="352.3" y2="537.7" stroke="#111" stroke-width="1.15"/>
<text x="345.6" y="540.58" text-anchor="end">0</text>
<line x1="346.5" y1="518" x2="352.3" y2="518" stroke="#111" stroke-width="1.15"/>
<text x="345.6" y="520.88" text-anchor="end">20</text>
<line x1="346.5" y1="498.3" x2="352.3" y2="498.3" stroke="#111" stroke-width="1.15"/>
<text x="345.6" y="501.18" text-anchor="end">40</text>
<line x1="346.5" y1="478.6" x2="352.3" y2="478.6" stroke="#111" stroke-width="1.15"/>
<text x="345.6" y="481.48" text-anchor="end">60</text>
<line x1="346.5" y1="458.9" x2="352.3" y2="458.9" stroke="#111" stroke-width="1.15"/>
<text x="345.6" y="461.78" text-anchor="end">80</text>
<line x1="346.5" y1="439.2" x2="352.3" y2="439.2" stroke="#111" stroke-width="1.15"/>
<text x="345.6" y="442.08" text-anchor="end">100</text>
<line x1="351.7" y1="537.7" x2="485" y2="537.7" stroke="#111" stroke-width="1.25"/>
<text x="384.6" y="439.4" text-anchor="middle">MDA-MB-231</text>
<text x="452.2" y="439.7" text-anchor="middle">MCF-7-Adr</text>
<text x="351.5" y="548.5" text-anchor="end">Fluv.</text>
<text x="351.5" y="558.2" text-anchor="end" font-style="italic">CYP4Z1</text>
<text x="365.3" y="548.2" text-anchor="middle">-</text>
<text x="384.4" y="548.2" text-anchor="middle">+</text>
<text x="403.1" y="548.2" text-anchor="middle">+</text>
<text x="434.3" y="548.2" text-anchor="middle">-</text>
<text x="453" y="548.2" text-anchor="middle">+</text>
<text x="471.8" y="548.2" text-anchor="middle">+</text>
<text x="365.3" y="557.9" text-anchor="middle">-</text>
<text x="384.4" y="557.9" text-anchor="middle">-</text>
<text x="403.1" y="557.9" text-anchor="middle">+</text>
<text x="434.3" y="557.9" text-anchor="middle">-</text>
<text x="453" y="557.9" text-anchor="middle">-</text>
<text x="471.8" y="557.9" text-anchor="middle">+</text>
<text x="330.2" y="491" text-anchor="middle" transform="rotate(-90 330.2 491)">Amount of spheres</text>
<text x="375" y="475.5" text-anchor="middle" font-size="6.9">p=0.016</text>
<line x1="364.6" y1="476.5" x2="385" y2="476.5" stroke="#222" stroke-width="1.2"/>
<text x="394.3" y="456.6" text-anchor="middle" font-size="6.9">p=0.003</text>
<line x1="383.8" y1="459.4" x2="404.8" y2="459.4" stroke="#222" stroke-width="1.2"/>
<text x="443.4" y="482.9" text-anchor="middle" font-size="6.9">p=0.006</text>
<line x1="433.7" y1="484.3" x2="453.4" y2="484.3" stroke="#222" stroke-width="1.2"/>
<text x="462.5" y="456.6" text-anchor="middle" font-size="6.9">p&lt;0.001</text>
<line x1="452.6" y1="458.7" x2="471.5" y2="458.7" stroke="#222" stroke-width="1.2"/>
<text x="516.6" y="426" font-weight="bold" fill="#1a1413" font-size="13">M</text>
<text x="582.8" y="440.2" text-anchor="middle">MDA-MB-231</text>
<text x="651.8" y="440.2" text-anchor="middle">MCF-7-Adr</text>
<line x1="552.3" y1="438.2" x2="552.3" y2="499.6" stroke="#111" stroke-width="1.25"/>
<line x1="552.3" y1="512.4" x2="552.3" y2="538.5" stroke="#111" stroke-width="1.25"/>
<line x1="548.1" y1="495.5" x2="556.8" y2="504.7" stroke="#111" stroke-width="1.2"/>
<line x1="548.1" y1="507.3" x2="556.8" y2="516.4" stroke="#111" stroke-width="1.2"/>
<line x1="546.5" y1="451.4" x2="552.3" y2="451.4" stroke="#111" stroke-width="1.15"/>
<text x="545.6" y="454.3" text-anchor="end">100</text>
<line x1="546.5" y1="475.2" x2="552.3" y2="475.2" stroke="#111" stroke-width="1.15"/>
<text x="545.6" y="478.1" text-anchor="end">90</text>
<text x="544" y="501.9" text-anchor="end">80</text>
<text x="544" y="514.7" text-anchor="end">60</text>
<text x="544" y="537.5" text-anchor="end">0</text>
<path d="M559 538V512.3 M571.3 538V512.3" stroke="#8282ee" stroke-width="1.25" fill="none"/>
<path d="M559 499.6V463.3H571.3V499.6" stroke="#8282ee" stroke-width="1.25" fill="#fff"/>
<line x1="565.15" y1="463.3" x2="565.15" y2="460.92" stroke="#8282ee" stroke-width="1.1"/>
<line x1="562.95" y1="460.92" x2="567.35" y2="460.92" stroke="#8282ee" stroke-width="1.1"/>
<circle cx="562.95" cy="463.3" r="1.6" fill="#fff" stroke="#8282ee" stroke-width="0.9"/>
<circle cx="565.15" cy="466.87" r="1.6" fill="#fff" stroke="#8282ee" stroke-width="0.9"/>
<circle cx="567.35" cy="460.92" r="1.6" fill="#fff" stroke="#8282ee" stroke-width="0.9"/>
<path d="M577.7 538V512.3 M589.7 538V512.3" stroke="#4a8fe6" stroke-width="1.25" fill="none"/>
<path d="M577.7 499.6V478.77H589.7V499.6" stroke="#4a8fe6" stroke-width="1.25" fill="#fff"/>
<line x1="583.7" y1="478.77" x2="583.7" y2="472.82" stroke="#4a8fe6" stroke-width="1.1"/>
<line x1="581.5" y1="472.82" x2="585.9" y2="472.82" stroke="#4a8fe6" stroke-width="1.1"/>
<rect x="579.9" y="472.41" width="3.2" height="3.2" fill="#fff" stroke="#4a8fe6" stroke-width="0.9"/>
<rect x="582.1" y="481.93" width="3.2" height="3.2" fill="#fff" stroke="#4a8fe6" stroke-width="0.9"/>
<rect x="584.3" y="477.17" width="3.2" height="3.2" fill="#fff" stroke="#4a8fe6" stroke-width="0.9"/>
<path d="M596.4 538V512.3 M608.4 538V512.3" stroke="#f8a75e" stroke-width="1.25" fill="none"/>
<path d="M596.4 499.6V468.06H608.4V499.6" stroke="#f8a75e" stroke-width="1.25" fill="#fff"/>
<line x1="602.4" y1="468.06" x2="602.4" y2="465.68" stroke="#f8a75e" stroke-width="1.1"/>
<line x1="600.2" y1="465.68" x2="604.6" y2="465.68" stroke="#f8a75e" stroke-width="1.1"/>
<path d="M600.2 464.95L601.96 468.15L598.44 468.15Z" fill="#fff" stroke="#f8a75e" stroke-width="0.9"/>
<path d="M602.4 467.33L604.16 470.53L600.64 470.53Z" fill="#fff" stroke="#f8a75e" stroke-width="0.9"/>
<path d="M604.6 465.66L606.36 468.86L602.84 468.86Z" fill="#fff" stroke="#f8a75e" stroke-width="0.9"/>
<path d="M628 538V512.3 M639.8 538V512.3" stroke="#8282ee" stroke-width="1.25" fill="none"/>
<path d="M628 499.6V464.49H639.8V499.6" stroke="#8282ee" stroke-width="1.25" fill="#fff"/>
<line x1="633.9" y1="464.49" x2="633.9" y2="459.73" stroke="#8282ee" stroke-width="1.1"/>
<line x1="631.7" y1="459.73" x2="636.1" y2="459.73" stroke="#8282ee" stroke-width="1.1"/>
<circle cx="631.7" cy="460.92" r="1.6" fill="#fff" stroke="#8282ee" stroke-width="0.9"/>
<circle cx="633.9" cy="469.25" r="1.6" fill="#fff" stroke="#8282ee" stroke-width="0.9"/>
<circle cx="636.1" cy="463.3" r="1.6" fill="#fff" stroke="#8282ee" stroke-width="0.9"/>
<path d="M646.7 538V512.3 M659 538V512.3" stroke="#4a8fe6" stroke-width="1.25" fill="none"/>
<path d="M646.7 499.6V493.05H659V499.6" stroke="#4a8fe6" stroke-width="1.25" fill="#fff"/>
<line x1="652.85" y1="493.05" x2="652.85" y2="490.67" stroke="#4a8fe6" stroke-width="1.1"/>
<line x1="650.65" y1="490.67" x2="655.05" y2="490.67" stroke="#4a8fe6" stroke-width="1.1"/>
<rect x="649.05" y="490.74" width="3.2" height="3.2" fill="#fff" stroke="#4a8fe6" stroke-width="0.9"/>
<rect x="651.25" y="492.64" width="3.2" height="3.2" fill="#fff" stroke="#4a8fe6" stroke-width="0.9"/>
<rect x="653.45" y="490.26" width="3.2" height="3.2" fill="#fff" stroke="#4a8fe6" stroke-width="0.9"/>
<path d="M665.3 538V512.3 M677.3 538V512.3" stroke="#f8a75e" stroke-width="1.25" fill="none"/>
<path d="M665.3 499.6V481.15H677.3V499.6" stroke="#f8a75e" stroke-width="1.25" fill="#fff"/>
<line x1="671.3" y1="481.15" x2="671.3" y2="475.2" stroke="#f8a75e" stroke-width="1.1"/>
<line x1="669.1" y1="475.2" x2="673.5" y2="475.2" stroke="#f8a75e" stroke-width="1.1"/>
<path d="M669.1 475.66L670.86 478.86L667.34 478.86Z" fill="#fff" stroke="#f8a75e" stroke-width="0.9"/>
<path d="M671.3 482.8L673.06 486L669.54 486Z" fill="#fff" stroke="#f8a75e" stroke-width="0.9"/>
<path d="M673.5 483.99L675.26 487.19L671.74 487.19Z" fill="#fff" stroke="#f8a75e" stroke-width="0.9"/>
<line x1="545.7" y1="538" x2="685" y2="538" stroke="#111" stroke-width="1.25"/>
<text x="551" y="547" text-anchor="end">Fluv.</text>
<text x="551" y="556.6" text-anchor="end" font-style="italic">CYP4Z1</text>
<text x="565.1" y="546.7" text-anchor="middle">-</text>
<text x="583.7" y="546.7" text-anchor="middle">+</text>
<text x="602.4" y="546.7" text-anchor="middle">+</text>
<text x="633.9" y="546.7" text-anchor="middle">-</text>
<text x="652.8" y="546.7" text-anchor="middle">+</text>
<text x="671.3" y="546.7" text-anchor="middle">+</text>
<text x="565.1" y="556.3" text-anchor="middle">-</text>
<text x="583.7" y="556.3" text-anchor="middle">-</text>
<text x="602.4" y="556.3" text-anchor="middle">+</text>
<text x="633.9" y="556.3" text-anchor="middle">-</text>
<text x="652.8" y="556.3" text-anchor="middle">-</text>
<text x="671.3" y="556.3" text-anchor="middle">+</text>
<text x="527" y="491.2" text-anchor="middle" transform="rotate(-90 527 491.2)">CD24<tspan font-size="5" dy="-3">-</tspan><tspan dy="3"> / CD44</tspan><tspan font-size="5" dy="-3">+</tspan><tspan dy="3"> cells (%)</tspan></text>
<text x="573.9" y="454" text-anchor="middle" font-size="6.9">p&lt;0.001</text>
<line x1="562.4" y1="455.6" x2="584" y2="455.6" stroke="#222" stroke-width="1.2"/>
<text x="594.3" y="459.1" text-anchor="middle" font-size="6.9">p=0.032</text>
<line x1="584" y1="460.7" x2="603.3" y2="460.7" stroke="#222" stroke-width="1.2"/>
<text x="643.4" y="455.2" text-anchor="middle" font-size="6.9">p&lt;0.001</text>
<line x1="631.4" y1="456.9" x2="654.4" y2="456.9" stroke="#222" stroke-width="1.2"/>
<text x="662" y="469.8" text-anchor="middle" font-size="6.9">p=0.016</text>
<line x1="651.8" y1="472.7" x2="673.5" y2="472.7" stroke="#222" stroke-width="1.2"/>
<text x="535.7" y="587.2" font-weight="bold" fill="#1a1413" font-size="13">P</text>
<rect x="561.7" y="575.8" width="19.9" height="5.2" fill="#fff" stroke="#8282ee" stroke-width="1"/>
<text x="584.3" y="580.92" font-size="7">Solvent</text>
<rect x="613.7" y="575.8" width="19.9" height="5.2" fill="#fff" stroke="#4a8fe6" stroke-width="1"/>
<text x="635.9" y="580.92" font-size="7">Fluv.</text>
<rect x="561.7" y="585.5" width="19.9" height="5.2" fill="#fff" stroke="#f8a75e" stroke-width="1"/>
<text x="584.3" y="590.62" font-size="7">A922500</text>
<rect x="613.7" y="585.5" width="19.9" height="5.2" fill="#fff" stroke="#f4868c" stroke-width="1"/>
<text x="635.9" y="590.62" font-size="7">A922500+Fluv.</text>
<path d="M572.3 682V623.93H580.2V682" stroke="#8282ee" stroke-width="1.25" fill="#fff"/>
<line x1="576.25" y1="623.93" x2="576.25" y2="617.54" stroke="#8282ee" stroke-width="1.1"/>
<line x1="574.05" y1="617.54" x2="578.45" y2="617.54" stroke="#8282ee" stroke-width="1.1"/>
<circle cx="574.05" cy="618.12" r="1.6" fill="#fff" stroke="#8282ee" stroke-width="0.9"/>
<circle cx="576.25" cy="630.9" r="1.6" fill="#fff" stroke="#8282ee" stroke-width="0.9"/>
<circle cx="578.45" cy="623.93" r="1.6" fill="#fff" stroke="#8282ee" stroke-width="0.9"/>
<path d="M585.4 682V645.42H593.3V682" stroke="#4a8fe6" stroke-width="1.25" fill="#fff"/>
<line x1="589.35" y1="645.42" x2="589.35" y2="639.03" stroke="#4a8fe6" stroke-width="1.1"/>
<line x1="587.15" y1="639.03" x2="591.55" y2="639.03" stroke="#4a8fe6" stroke-width="1.1"/>
<rect x="585.55" y="637.43" width="3.2" height="3.2" fill="#fff" stroke="#4a8fe6" stroke-width="0.9"/>
<rect x="587.75" y="645.56" width="3.2" height="3.2" fill="#fff" stroke="#4a8fe6" stroke-width="0.9"/>
<rect x="589.95" y="642.65" width="3.2" height="3.2" fill="#fff" stroke="#4a8fe6" stroke-width="0.9"/>
<path d="M598.3 682V649.48H606.2V682" stroke="#f8a75e" stroke-width="1.25" fill="#fff"/>
<line x1="602.25" y1="649.48" x2="602.25" y2="640.77" stroke="#f8a75e" stroke-width="1.1"/>
<line x1="600.05" y1="640.77" x2="604.45" y2="640.77" stroke="#f8a75e" stroke-width="1.1"/>
<path d="M600.05 638.85L601.81 642.05L598.29 642.05Z" fill="#fff" stroke="#f8a75e" stroke-width="0.9"/>
<path d="M602.25 653.95L604.01 657.15L600.49 657.15Z" fill="#fff" stroke="#f8a75e" stroke-width="0.9"/>
<path d="M604.45 647.56L606.21 650.76L602.69 650.76Z" fill="#fff" stroke="#f8a75e" stroke-width="0.9"/>
<path d="M611.4 682V668.64H619.4V682" stroke="#f4868c" stroke-width="1.25" fill="#fff"/>
<line x1="615.4" y1="668.64" x2="615.4" y2="666.9" stroke="#f4868c" stroke-width="1.1"/>
<line x1="613.2" y1="666.9" x2="617.6" y2="666.9" stroke="#f4868c" stroke-width="1.1"/>
<path d="M613.2 669.98L614.96 666.78L611.44 666.78Z" fill="#fff" stroke="#f4868c" stroke-width="0.9"/>
<path d="M615.4 672.31L617.16 669.11L613.64 669.11Z" fill="#fff" stroke="#f4868c" stroke-width="0.9"/>
<path d="M617.6 671.14L619.36 667.94L615.84 667.94Z" fill="#fff" stroke="#f4868c" stroke-width="0.9"/>
<path d="M633 682V623.93H640.9V682" stroke="#8282ee" stroke-width="1.25" fill="#fff"/>
<line x1="636.95" y1="623.93" x2="636.95" y2="615.22" stroke="#8282ee" stroke-width="1.1"/>
<line x1="634.75" y1="615.22" x2="639.15" y2="615.22" stroke="#8282ee" stroke-width="1.1"/>
<circle cx="634.75" cy="616.96" r="1.6" fill="#fff" stroke="#8282ee" stroke-width="0.9"/>
<circle cx="636.95" cy="630.9" r="1.6" fill="#fff" stroke="#8282ee" stroke-width="0.9"/>
<circle cx="639.15" cy="623.93" r="1.6" fill="#fff" stroke="#8282ee" stroke-width="0.9"/>
<path d="M645.8 682V661.09H653.8V682" stroke="#4a8fe6" stroke-width="1.25" fill="#fff"/>
<line x1="649.8" y1="661.09" x2="649.8" y2="651.8" stroke="#4a8fe6" stroke-width="1.1"/>
<line x1="647.6" y1="651.8" x2="652" y2="651.8" stroke="#4a8fe6" stroke-width="1.1"/>
<rect x="646" y="650.2" width="3.2" height="3.2" fill="#fff" stroke="#4a8fe6" stroke-width="0.9"/>
<rect x="648.2" y="666.46" width="3.2" height="3.2" fill="#fff" stroke="#4a8fe6" stroke-width="0.9"/>
<rect x="650.4" y="659.49" width="3.2" height="3.2" fill="#fff" stroke="#4a8fe6" stroke-width="0.9"/>
<path d="M658.5 682V652.38H666.9V682" stroke="#f8a75e" stroke-width="1.25" fill="#fff"/>
<line x1="662.7" y1="652.38" x2="662.7" y2="638.45" stroke="#f8a75e" stroke-width="1.1"/>
<line x1="660.5" y1="638.45" x2="664.9" y2="638.45" stroke="#f8a75e" stroke-width="1.1"/>
<path d="M660.5 637.11L662.26 640.31L658.74 640.31Z" fill="#fff" stroke="#f8a75e" stroke-width="0.9"/>
<path d="M662.7 656.85L664.46 660.05L660.94 660.05Z" fill="#fff" stroke="#f8a75e" stroke-width="0.9"/>
<path d="M664.9 656.85L666.66 660.05L663.14 660.05Z" fill="#fff" stroke="#f8a75e" stroke-width="0.9"/>
<path d="M671.4 682V675.03H679.8V682" stroke="#f4868c" stroke-width="1.25" fill="#fff"/>
<line x1="675.6" y1="675.03" x2="675.6" y2="667.48" stroke="#f4868c" stroke-width="1.1"/>
<line x1="673.4" y1="667.48" x2="677.8" y2="667.48" stroke="#f4868c" stroke-width="1.1"/>
<path d="M673.4 669.98L675.16 666.78L671.64 666.78Z" fill="#fff" stroke="#f4868c" stroke-width="0.9"/>
<path d="M675.6 680.44L677.36 677.24L673.84 677.24Z" fill="#fff" stroke="#f4868c" stroke-width="0.9"/>
<path d="M677.8 680.44L679.56 677.24L676.04 677.24Z" fill="#fff" stroke="#f4868c" stroke-width="0.9"/>
<line x1="567.3" y1="594.89" x2="567.3" y2="682.6" stroke="#111" stroke-width="1.25"/>
<line x1="561.5" y1="682" x2="567.3" y2="682" stroke="#111" stroke-width="1.15"/>
<text x="560.6" y="684.88" text-anchor="end">0.0</text>
<line x1="561.5" y1="652.97" x2="567.3" y2="652.97" stroke="#111" stroke-width="1.15"/>
<text x="560.6" y="655.85" text-anchor="end">0.5</text>
<line x1="561.5" y1="623.93" x2="567.3" y2="623.93" stroke="#111" stroke-width="1.15"/>
<text x="560.6" y="626.81" text-anchor="end">1.0</text>
<line x1="561.5" y1="594.89" x2="567.3" y2="594.89" stroke="#111" stroke-width="1.15"/>
<text x="560.6" y="597.77" text-anchor="end">1.5</text>
<line x1="566.7" y1="682" x2="685" y2="682" stroke="#111" stroke-width="1.25"/>
<line x1="595.2" y1="682" x2="595.2" y2="687.6" stroke="#111" stroke-width="1.15"/>
<line x1="655.6" y1="682" x2="655.6" y2="687.6" stroke="#111" stroke-width="1.15"/>
<text x="595.2" y="694.3" text-anchor="middle">Migration</text>
<text x="655.6" y="694.3" text-anchor="middle">Invasion</text>
<text x="548.7" y="640.8" text-anchor="middle" transform="rotate(-90 548.7 640.8)">Relative cell number</text>
<text x="571.9" y="602.6" font-size="7">MDA-MB-231<tspan font-size="4.5" font-style="italic" dy="-2.5" style="stroke-width:0.1px">CYP4Z1</tspan></text>
<text x="610.3" y="615.8" text-anchor="middle" font-size="6.9">p=0.014</text>
<line x1="601.3" y1="618.6" x2="615.5" y2="618.6" stroke="#222" stroke-width="1.2"/>
<text x="581.6" y="628.3" font-size="6.9">p=0.012</text>
<text x="594" y="637.2" font-size="6.9">p=0.014</text>
<text x="670.3" y="620.8" text-anchor="middle" font-size="6.9">p=0.043</text>
<line x1="662.4" y1="623.6" x2="676" y2="623.6" stroke="#222" stroke-width="1.2"/>
<text x="654" y="634" font-size="6.9">p=0.029</text>
<text x="652.1" y="635.5" text-anchor="middle" font-size="6.9" transform="rotate(-90 652.1 635.5)">p=0.005</text>
<text x="320.7" y="716.9" font-weight="bold" fill="#1a1413" font-size="13">R</text>
<rect x="344.6" y="718.9" width="21.5" height="5.2" fill="#fff" stroke="#8282ee" stroke-width="1"/>
<text x="370.3" y="724.38">Solvent</text>
<rect x="404" y="718.9" width="21.5" height="5.2" fill="#fff" stroke="#4a8fe6" stroke-width="1"/>
<text x="428.6" y="724.38">Fluv.</text>
<rect x="344.6" y="730.2" width="21.5" height="5.2" fill="#fff" stroke="#f8a75e" stroke-width="1"/>
<text x="370.3" y="735.68">A922500</text>
<rect x="404" y="730.2" width="21.5" height="5.2" fill="#fff" stroke="#f4868c" stroke-width="1"/>
<text x="428.6" y="735.68">A922500+Fluv.</text>
<path d="M356.8 840.1V772.58H366.6V840.1" stroke="#8282ee" stroke-width="1.25" fill="#fff"/>
<line x1="361.7" y1="772.58" x2="361.7" y2="760.66" stroke="#8282ee" stroke-width="1.1"/>
<line x1="359.5" y1="760.66" x2="363.9" y2="760.66" stroke="#8282ee" stroke-width="1.1"/>
<circle cx="359.5" cy="760.66" r="1.6" fill="#fff" stroke="#8282ee" stroke-width="0.9"/>
<circle cx="361.7" cy="779.53" r="1.6" fill="#fff" stroke="#8282ee" stroke-width="0.9"/>
<circle cx="363.9" cy="772.58" r="1.6" fill="#fff" stroke="#8282ee" stroke-width="0.9"/>
<path d="M371.9 840.1V793.43H381.4V840.1" stroke="#4a8fe6" stroke-width="1.25" fill="#fff"/>
<line x1="376.65" y1="793.43" x2="376.65" y2="788.46" stroke="#4a8fe6" stroke-width="1.1"/>
<line x1="374.45" y1="788.46" x2="378.85" y2="788.46" stroke="#4a8fe6" stroke-width="1.1"/>
<rect x="372.85" y="786.86" width="3.2" height="3.2" fill="#fff" stroke="#4a8fe6" stroke-width="0.9"/>
<rect x="375.05" y="795.8" width="3.2" height="3.2" fill="#fff" stroke="#4a8fe6" stroke-width="0.9"/>
<rect x="377.25" y="788.85" width="3.2" height="3.2" fill="#fff" stroke="#4a8fe6" stroke-width="0.9"/>
<path d="M386.6 840.1V793.43H395.8V840.1" stroke="#f8a75e" stroke-width="1.25" fill="#fff"/>
<line x1="391.2" y1="793.43" x2="391.2" y2="785.49" stroke="#f8a75e" stroke-width="1.1"/>
<line x1="389" y1="785.49" x2="393.4" y2="785.49" stroke="#f8a75e" stroke-width="1.1"/>
<path d="M389 783.57L390.76 786.76L387.24 786.76Z" fill="#fff" stroke="#f8a75e" stroke-width="0.9"/>
<path d="M391.2 798.46L392.96 801.66L389.44 801.66Z" fill="#fff" stroke="#f8a75e" stroke-width="0.9"/>
<path d="M393.4 791.51L395.16 794.71L391.64 794.71Z" fill="#fff" stroke="#f8a75e" stroke-width="0.9"/>
<path d="M401 840.1V807.33H410.5V840.1" stroke="#f4868c" stroke-width="1.25" fill="#fff"/>
<line x1="405.75" y1="807.33" x2="405.75" y2="803.36" stroke="#f4868c" stroke-width="1.1"/>
<line x1="403.55" y1="803.36" x2="407.95" y2="803.36" stroke="#f4868c" stroke-width="1.1"/>
<path d="M403.55 806.27L405.31 803.07L401.79 803.07Z" fill="#fff" stroke="#f4868c" stroke-width="0.9"/>
<path d="M405.75 813.22L407.51 810.02L403.99 810.02Z" fill="#fff" stroke="#f4868c" stroke-width="0.9"/>
<path d="M407.95 809.25L409.71 806.05L406.19 806.05Z" fill="#fff" stroke="#f4868c" stroke-width="0.9"/>
<path d="M425.5 840.1V784.49H434.7V840.1" stroke="#8282ee" stroke-width="1.25" fill="#fff"/>
<line x1="430.1" y1="784.49" x2="430.1" y2="774.56" stroke="#8282ee" stroke-width="1.1"/>
<line x1="427.9" y1="774.56" x2="432.3" y2="774.56" stroke="#8282ee" stroke-width="1.1"/>
<circle cx="427.9" cy="774.56" r="1.6" fill="#fff" stroke="#8282ee" stroke-width="0.9"/>
<circle cx="430.1" cy="791.44" r="1.6" fill="#fff" stroke="#8282ee" stroke-width="0.9"/>
<circle cx="432.3" cy="784.49" r="1.6" fill="#fff" stroke="#8282ee" stroke-width="0.9"/>
<path d="M440.2 840.1V803.36H449.4V840.1" stroke="#4a8fe6" stroke-width="1.25" fill="#fff"/>
<line x1="444.8" y1="803.36" x2="444.8" y2="797.4" stroke="#4a8fe6" stroke-width="1.1"/>
<line x1="442.6" y1="797.4" x2="447" y2="797.4" stroke="#4a8fe6" stroke-width="1.1"/>
<rect x="441" y="796.79" width="3.2" height="3.2" fill="#fff" stroke="#4a8fe6" stroke-width="0.9"/>
<rect x="443.2" y="803.75" width="3.2" height="3.2" fill="#fff" stroke="#4a8fe6" stroke-width="0.9"/>
<rect x="445.4" y="800.77" width="3.2" height="3.2" fill="#fff" stroke="#4a8fe6" stroke-width="0.9"/>
<path d="M454.6 840.1V803.36H464.1V840.1" stroke="#f8a75e" stroke-width="1.25" fill="#fff"/>
<line x1="459.35" y1="803.36" x2="459.35" y2="798.39" stroke="#f8a75e" stroke-width="1.1"/>
<line x1="457.15" y1="798.39" x2="461.55" y2="798.39" stroke="#f8a75e" stroke-width="1.1"/>
<path d="M457.15 797.47L458.91 800.67L455.39 800.67Z" fill="#fff" stroke="#f8a75e" stroke-width="0.9"/>
<path d="M459.35 804.42L461.11 807.62L457.59 807.62Z" fill="#fff" stroke="#f8a75e" stroke-width="0.9"/>
<path d="M461.55 801.44L463.31 804.64L459.79 804.64Z" fill="#fff" stroke="#f8a75e" stroke-width="0.9"/>
<path d="M469.3 840.1V816.27H478.5V840.1" stroke="#f4868c" stroke-width="1.25" fill="#fff"/>
<line x1="473.9" y1="816.27" x2="473.9" y2="809.32" stroke="#f4868c" stroke-width="1.1"/>
<line x1="471.7" y1="809.32" x2="476.1" y2="809.32" stroke="#f4868c" stroke-width="1.1"/>
<path d="M471.7 812.23L473.46 809.03L469.94 809.03Z" fill="#fff" stroke="#f4868c" stroke-width="0.9"/>
<path d="M473.9 825.14L475.66 821.94L472.14 821.94Z" fill="#fff" stroke="#f4868c" stroke-width="0.9"/>
<path d="M476.1 816.2L477.86 813L474.34 813Z" fill="#fff" stroke="#f4868c" stroke-width="0.9"/>
<line x1="351.3" y1="740.8" x2="351.3" y2="840.7" stroke="#111" stroke-width="1.25"/>
<line x1="345.5" y1="840.1" x2="351.3" y2="840.1" stroke="#111" stroke-width="1.15"/>
<text x="344.6" y="842.98" text-anchor="end">0</text>
<line x1="345.5" y1="820.24" x2="351.3" y2="820.24" stroke="#111" stroke-width="1.15"/>
<text x="344.6" y="823.12" text-anchor="end">20</text>
<line x1="345.5" y1="800.38" x2="351.3" y2="800.38" stroke="#111" stroke-width="1.15"/>
<text x="344.6" y="803.26" text-anchor="end">40</text>
<line x1="345.5" y1="780.52" x2="351.3" y2="780.52" stroke="#111" stroke-width="1.15"/>
<text x="344.6" y="783.4" text-anchor="end">60</text>
<line x1="345.5" y1="760.66" x2="351.3" y2="760.66" stroke="#111" stroke-width="1.15"/>
<text x="344.6" y="763.54" text-anchor="end">80</text>
<line x1="345.5" y1="740.8" x2="351.3" y2="740.8" stroke="#111" stroke-width="1.15"/>
<text x="344.6" y="743.68" text-anchor="end">100</text>
<line x1="350.7" y1="840.1" x2="484.7" y2="840.1" stroke="#111" stroke-width="1.25"/>
<line x1="383.5" y1="840.1" x2="383.5" y2="845.7" stroke="#111" stroke-width="1.15"/>
<line x1="451.9" y1="840.1" x2="451.9" y2="845.7" stroke="#111" stroke-width="1.15"/>
<text x="383.5" y="854" text-anchor="middle">MDA-MB-231<tspan font-size="4.5" font-style="italic" dy="-2.5" style="stroke-width:0.1px">CYP4Z1</tspan></text>
<text x="452.5" y="854" text-anchor="middle">MCF-7-Adr<tspan font-size="4.5" font-style="italic" dy="-2.5" style="stroke-width:0.1px">CYP4Z1</tspan></text>
<text x="331.2" y="794.3" text-anchor="middle" transform="rotate(-90 331.2 794.3)">Amount of spheres</text>
<text x="397.9" y="766.6" text-anchor="middle" font-size="6.9">p=0.063</text>
<line x1="389.6" y1="768" x2="405.9" y2="768" stroke="#222" stroke-width="1.2"/>
<text x="367.3" y="776.4" font-size="6.9">p=0.032</text>
<text x="379.5" y="782.8" font-size="6.9">p=0.043</text>
<text x="466.9" y="775.8" text-anchor="middle" font-size="6.9">p=0.062</text>
<line x1="458.6" y1="778.2" x2="474.5" y2="778.2" stroke="#222" stroke-width="1.2"/>
<text x="435.6" y="790.2" font-size="6.9">p&lt;0.037</text>
<text x="450" y="796.6" font-size="6.9">p=0.028</text>
<text x="517" y="716.5" font-weight="bold" fill="#1a1413" font-size="13">S</text>
<rect x="544.9" y="718.7" width="22" height="5.2" fill="#fff" stroke="#8282ee" stroke-width="1"/>
<text x="570.6" y="724.18">Solvent</text>
<rect x="603.9" y="718.7" width="22" height="5.2" fill="#fff" stroke="#4a8fe6" stroke-width="1"/>
<text x="629.5" y="724.18">Fluv.</text>
<rect x="544.9" y="731" width="22" height="5.2" fill="#fff" stroke="#f8a75e" stroke-width="1"/>
<text x="570.6" y="736.48">A922500</text>
<rect x="603.9" y="731" width="22" height="5.2" fill="#fff" stroke="#f4868c" stroke-width="1"/>
<text x="629.5" y="736.48">A922500+Fluv.</text>
<path d="M556.9 840V758.08H566.9V840" stroke="#8282ee" stroke-width="1.25" fill="#fff"/>
<line x1="561.9" y1="758.08" x2="561.9" y2="757.09" stroke="#8282ee" stroke-width="1.1"/>
<line x1="559.7" y1="757.09" x2="564.1" y2="757.09" stroke="#8282ee" stroke-width="1.1"/>
<circle cx="559.7" cy="757.49" r="1.6" fill="#fff" stroke="#8282ee" stroke-width="0.9"/>
<circle cx="561.9" cy="758.67" r="1.6" fill="#fff" stroke="#8282ee" stroke-width="0.9"/>
<circle cx="564.1" cy="757.88" r="1.6" fill="#fff" stroke="#8282ee" stroke-width="0.9"/>
<path d="M572 840V769.92H581.7V840" stroke="#4a8fe6" stroke-width="1.25" fill="#fff"/>
<line x1="576.85" y1="769.92" x2="576.85" y2="768.94" stroke="#4a8fe6" stroke-width="1.1"/>
<line x1="574.65" y1="768.94" x2="579.05" y2="768.94" stroke="#4a8fe6" stroke-width="1.1"/>
<rect x="573.05" y="767.73" width="3.2" height="3.2" fill="#fff" stroke="#4a8fe6" stroke-width="0.9"/>
<rect x="575.25" y="768.92" width="3.2" height="3.2" fill="#fff" stroke="#4a8fe6" stroke-width="0.9"/>
<rect x="577.45" y="768.13" width="3.2" height="3.2" fill="#fff" stroke="#4a8fe6" stroke-width="0.9"/>
<path d="M586.8 840V776.24H596.7V840" stroke="#f8a75e" stroke-width="1.25" fill="#fff"/>
<line x1="591.75" y1="776.24" x2="591.75" y2="775.25" stroke="#f8a75e" stroke-width="1.1"/>
<line x1="589.55" y1="775.25" x2="593.95" y2="775.25" stroke="#f8a75e" stroke-width="1.1"/>
<path d="M589.55 773.93L591.31 777.12L587.79 777.12Z" fill="#fff" stroke="#f8a75e" stroke-width="0.9"/>
<path d="M591.75 774.91L593.51 778.11L589.99 778.11Z" fill="#fff" stroke="#f8a75e" stroke-width="0.9"/>
<path d="M593.95 774.12L595.71 777.32L592.19 777.32Z" fill="#fff" stroke="#f8a75e" stroke-width="0.9"/>
<path d="M601.6 840V794.6H611V840" stroke="#f4868c" stroke-width="1.25" fill="#fff"/>
<line x1="606.3" y1="794.6" x2="606.3" y2="778.81" stroke="#f4868c" stroke-width="1.1"/>
<line x1="604.1" y1="778.81" x2="608.5" y2="778.81" stroke="#f4868c" stroke-width="1.1"/>
<path d="M604.1 784.67L605.86 781.47L602.34 781.47Z" fill="#fff" stroke="#f4868c" stroke-width="0.9"/>
<path d="M606.3 814.28L608.06 811.08L604.54 811.08Z" fill="#fff" stroke="#f4868c" stroke-width="0.9"/>
<path d="M608.5 790.6L610.26 787.4L606.74 787.4Z" fill="#fff" stroke="#f4868c" stroke-width="0.9"/>
<path d="M625.2 840V766.96H635.2V840" stroke="#8282ee" stroke-width="1.25" fill="#fff"/>
<line x1="630.2" y1="766.96" x2="630.2" y2="764" stroke="#8282ee" stroke-width="1.1"/>
<line x1="628" y1="764" x2="632.4" y2="764" stroke="#8282ee" stroke-width="1.1"/>
<circle cx="628" cy="764.59" r="1.6" fill="#fff" stroke="#8282ee" stroke-width="0.9"/>
<circle cx="630.2" cy="768.94" r="1.6" fill="#fff" stroke="#8282ee" stroke-width="0.9"/>
<circle cx="632.4" cy="766.37" r="1.6" fill="#fff" stroke="#8282ee" stroke-width="0.9"/>
<path d="M640.3 840V803.48H650V840" stroke="#4a8fe6" stroke-width="1.25" fill="#fff"/>
<line x1="645.15" y1="803.48" x2="645.15" y2="801.51" stroke="#4a8fe6" stroke-width="1.1"/>
<line x1="642.95" y1="801.51" x2="647.35" y2="801.51" stroke="#4a8fe6" stroke-width="1.1"/>
<rect x="641.35" y="800.5" width="3.2" height="3.2" fill="#fff" stroke="#4a8fe6" stroke-width="0.9"/>
<rect x="643.55" y="803.26" width="3.2" height="3.2" fill="#fff" stroke="#4a8fe6" stroke-width="0.9"/>
<rect x="645.75" y="801.68" width="3.2" height="3.2" fill="#fff" stroke="#4a8fe6" stroke-width="0.9"/>
<path d="M655.1 840V807.03H665V840" stroke="#f8a75e" stroke-width="1.25" fill="#fff"/>
<line x1="660.05" y1="807.03" x2="660.05" y2="801.51" stroke="#f8a75e" stroke-width="1.1"/>
<line x1="657.85" y1="801.51" x2="662.25" y2="801.51" stroke="#f8a75e" stroke-width="1.1"/>
<path d="M657.85 800.57L659.61 803.77L656.09 803.77Z" fill="#fff" stroke="#f8a75e" stroke-width="0.9"/>
<path d="M660.05 808.47L661.81 811.67L658.29 811.67Z" fill="#fff" stroke="#f8a75e" stroke-width="0.9"/>
<path d="M662.25 805.51L664.01 808.71L660.49 808.71Z" fill="#fff" stroke="#f8a75e" stroke-width="0.9"/>
<path d="M669.9 840V814.34H679.3V840" stroke="#f4868c" stroke-width="1.25" fill="#fff"/>
<line x1="674.6" y1="814.34" x2="674.6" y2="794.6" stroke="#f4868c" stroke-width="1.1"/>
<line x1="672.4" y1="794.6" x2="676.8" y2="794.6" stroke="#f4868c" stroke-width="1.1"/>
<path d="M672.4 798.49L674.16 795.29L670.64 795.29Z" fill="#fff" stroke="#f4868c" stroke-width="0.9"/>
<path d="M674.6 824.15L676.36 820.95L672.84 820.95Z" fill="#fff" stroke="#f4868c" stroke-width="0.9"/>
<path d="M676.8 824.15L678.56 820.95L675.04 820.95Z" fill="#fff" stroke="#f4868c" stroke-width="0.9"/>
<line x1="552.1" y1="741.3" x2="552.1" y2="840.6" stroke="#111" stroke-width="1.25"/>
<line x1="546.3" y1="840" x2="552.1" y2="840" stroke="#111" stroke-width="1.15"/>
<text x="545.4" y="842.88" text-anchor="end">50</text>
<line x1="546.3" y1="820.26" x2="552.1" y2="820.26" stroke="#111" stroke-width="1.15"/>
<text x="545.4" y="823.14" text-anchor="end">60</text>
<line x1="546.3" y1="800.52" x2="552.1" y2="800.52" stroke="#111" stroke-width="1.15"/>
<text x="545.4" y="803.4" text-anchor="end">70</text>
<line x1="546.3" y1="780.78" x2="552.1" y2="780.78" stroke="#111" stroke-width="1.15"/>
<text x="545.4" y="783.66" text-anchor="end">80</text>
<line x1="546.3" y1="761.04" x2="552.1" y2="761.04" stroke="#111" stroke-width="1.15"/>
<text x="545.4" y="763.92" text-anchor="end">90</text>
<line x1="546.3" y1="741.3" x2="552.1" y2="741.3" stroke="#111" stroke-width="1.15"/>
<text x="545.4" y="744.18" text-anchor="end">100</text>
<line x1="551.5" y1="840" x2="683.6" y2="840" stroke="#111" stroke-width="1.25"/>
<line x1="584" y1="840" x2="584" y2="845.6" stroke="#111" stroke-width="1.15"/>
<line x1="652.3" y1="840" x2="652.3" y2="845.6" stroke="#111" stroke-width="1.15"/>
<text x="584" y="853.8" text-anchor="middle">MDA-MB-231<tspan font-size="4.5" font-style="italic" dy="-2.5" style="stroke-width:0.1px">CYP4Z1</tspan></text>
<text x="652.8" y="853.8" text-anchor="middle">MCF-7-Adr<tspan font-size="4.5" font-style="italic" dy="-2.5" style="stroke-width:0.1px">CYP4Z1</tspan></text>
<text x="529.7" y="795.2" text-anchor="middle" transform="rotate(-90 529.7 795.2)">CD24- / CD44+ cells (%)</text>
<text x="596.7" y="746.9" text-anchor="middle" font-size="6.9">p=0.110</text>
<line x1="588.2" y1="750.4" x2="605.3" y2="750.4" stroke="#222" stroke-width="1.2"/>
<text x="568.3" y="762.5" font-size="6.9">p&lt;0.001</text>
<text x="584" y="772.5" font-size="6.9">p&lt;0.001</text>
<text x="667.9" y="776.2" text-anchor="middle" font-size="6.9">p=0.568</text>
<line x1="660.2" y1="777.7" x2="676.5" y2="777.7" stroke="#222" stroke-width="1.2"/>
<text x="635.7" y="789.9" font-size="6.9">p&lt;0.001</text>
<text x="646.6" y="797.6" font-size="6.9">p&lt;0.001</text>
<text x="254.2" y="9.5" font-weight="bold" fill="#1a1413" font-size="13">C</text>
<text x="396.9" y="13.6" text-anchor="middle">MDA-MB-231</text>
<line x1="268.6" y1="15.4" x2="525.2" y2="15.4" stroke="#3a3433" stroke-width="0.9"/>
<text x="299.6" y="23.4" text-anchor="middle">Solvent</text>
<text x="364.3" y="23.4" text-anchor="middle">Fluv.</text>
<text x="428.8" y="23.4" text-anchor="middle">TAG</text>
<text x="493.6" y="23.4" text-anchor="middle">TAG + Fluv.</text>
<text x="265.9" y="47.4" text-anchor="middle" transform="rotate(-90 265.9 47.4)">Migration</text>
<text x="265.9" y="101.5" text-anchor="middle" transform="rotate(-90 265.9 101.5)">Invasion</text>
<rect x="268.6" y="25.6" width="62" height="47.6" fill="url(#g11)"/>
<rect x="268.6" y="25.6" width="62" height="47.6" fill="#000" filter="url(#f12)"/>
<rect x="269.1" y="26.1" width="61" height="46.6" fill="none" stroke="#3a3433" stroke-width="1"/>
<rect x="319.1" y="68.8" width="10" height="3.2" fill="#111"/>
<line x1="320.3" y1="70.4" x2="327.9" y2="70.4" stroke="#888" stroke-width="0.7"/>
<rect x="333" y="25.6" width="62.6" height="47.6" fill="url(#g13)"/>
<rect x="333" y="25.6" width="62.6" height="47.6" fill="#000" filter="url(#f14)"/>
<rect x="333.5" y="26.1" width="61.6" height="46.6" fill="none" stroke="#3a3433" stroke-width="1"/>
<rect x="384.1" y="68.8" width="10" height="3.2" fill="#111"/>
<line x1="385.3" y1="70.4" x2="392.9" y2="70.4" stroke="#888" stroke-width="0.7"/>
<rect x="397.4" y="25.6" width="62.8" height="47.6" fill="url(#g15)"/>
<rect x="397.4" y="25.6" width="62.8" height="47.6" fill="#000" filter="url(#f16)"/>
<rect x="397.9" y="26.1" width="61.8" height="46.6" fill="none" stroke="#3a3433" stroke-width="1"/>
<rect x="448.7" y="68.8" width="10" height="3.2" fill="#111"/>
<line x1="449.9" y1="70.4" x2="457.5" y2="70.4" stroke="#888" stroke-width="0.7"/>
<rect x="462" y="25.6" width="63.2" height="47.6" fill="url(#g17)"/>
<rect x="462" y="25.6" width="63.2" height="47.6" fill="#000" filter="url(#f18)"/>
<rect x="462.5" y="26.1" width="62.2" height="46.6" fill="none" stroke="#3a3433" stroke-width="1"/>
<rect x="513.7" y="68.8" width="10" height="3.2" fill="#111"/>
<line x1="514.9" y1="70.4" x2="522.5" y2="70.4" stroke="#888" stroke-width="0.7"/>
<rect x="268.6" y="75" width="62" height="47.8" fill="url(#g19)"/>
<rect x="268.6" y="75" width="62" height="47.8" fill="#000" filter="url(#f20)"/>
<rect x="269.1" y="75.5" width="61" height="46.8" fill="none" stroke="#3a3433" stroke-width="1"/>
<rect x="319.1" y="118.4" width="10" height="3.2" fill="#111"/>
<line x1="320.3" y1="120" x2="327.9" y2="120" stroke="#888" stroke-width="0.7"/>
<rect x="333" y="75" width="62.6" height="47.8" fill="url(#g21)"/>
<rect x="333" y="75" width="62.6" height="47.8" fill="#000" filter="url(#f22)"/>
<rect x="333.5" y="75.5" width="61.6" height="46.8" fill="none" stroke="#3a3433" stroke-width="1"/>
<rect x="384.1" y="118.4" width="10" height="3.2" fill="#111"/>
<line x1="385.3" y1="120" x2="392.9" y2="120" stroke="#888" stroke-width="0.7"/>
<rect x="397.4" y="75" width="62.8" height="47.8" fill="url(#g23)"/>
<rect x="397.4" y="75" width="62.8" height="47.8" fill="#000" filter="url(#f24)"/>
<rect x="397.9" y="75.5" width="61.8" height="46.8" fill="none" stroke="#3a3433" stroke-width="1"/>
<rect x="448.7" y="118.4" width="10" height="3.2" fill="#111"/>
<line x1="449.9" y1="120" x2="457.5" y2="120" stroke="#888" stroke-width="0.7"/>
<rect x="462" y="75" width="63.2" height="47.8" fill="url(#g25)"/>
<rect x="462" y="75" width="63.2" height="47.8" fill="#000" filter="url(#f26)"/>
<rect x="462.5" y="75.5" width="62.2" height="46.8" fill="none" stroke="#3a3433" stroke-width="1"/>
<rect x="513.7" y="118.4" width="10" height="3.2" fill="#111"/>
<line x1="514.9" y1="120" x2="522.5" y2="120" stroke="#888" stroke-width="0.7"/>
<text x="254.8" y="140" font-weight="bold" fill="#1a1413" font-size="13">E</text>
<text x="396.9" y="142" text-anchor="middle">MDA-MB-231</text>
<line x1="267.8" y1="143.6" x2="526" y2="143.6" stroke="#3a3433" stroke-width="0.9"/>
<text x="299.2" y="151.5" text-anchor="middle">Solvent</text>
<text x="364.1" y="151.5" text-anchor="middle">Fluv.</text>
<text x="429" y="151.5" text-anchor="middle">TAG</text>
<text x="494.2" y="151.5" text-anchor="middle">TAG + Fluv.</text>
<text x="265.3" y="178.4" text-anchor="middle" transform="rotate(-90 265.3 178.4)">Sphere formation</text>
<text x="265.3" y="244.5" text-anchor="middle" transform="rotate(-90 265.3 244.5)">CD24</text>
<path d="M263.6 261V273H275.4" stroke="#111" stroke-width="1" fill="none"/>
<path d="M263.6 259l-1.9 4.2h3.8z M277.4 273l-4.2 -1.9v3.8z" fill="#111"/>
<text x="280.8" y="275.2">CD44</text>
<rect x="267.6" y="154" width="63" height="48" fill="url(#g27)"/>
<rect x="267.6" y="154" width="63" height="48" fill="#000" filter="url(#f28)"/>
<g fill="#5a4536" fill-opacity="0.75"><circle cx="303.64" cy="173.85" r="0.74"/><circle cx="301.42" cy="183.56" r="0.53"/><circle cx="289.45" cy="159.32" r="0.6"/><circle cx="310.25" cy="165.2" r="0.37"/><circle cx="288.67" cy="164.55" r="0.69"/><circle cx="322.92" cy="163.97" r="0.54"/><circle cx="285.26" cy="162.02" r="0.43"/><circle cx="326.46" cy="193.12" r="0.61"/></g>
<g fill="#4a3428" fill-opacity="0.8" filter="url(#bs)"><ellipse cx="289" cy="166.4" rx="1.19" ry="1.52"/><circle cx="288.11" cy="165.92" r="1.22"/><circle cx="287.96" cy="166.42" r="1.2"/><circle cx="287.86" cy="166.43" r="1.04"/><circle cx="288.16" cy="166.91" r="1.16"/><circle cx="289.54" cy="165.59" r="1.01"/><circle cx="288.77" cy="165.99" r="0.91"/><circle cx="289.6" cy="165.35" r="0.94"/><circle cx="288.61" cy="165.85" r="1.13"/><ellipse cx="313.5" cy="177.5" rx="1.65" ry="1.65"/><circle cx="313.05" cy="175.88" r="1.35"/><circle cx="312.85" cy="178.76" r="1.61"/><circle cx="313.03" cy="178.75" r="1.29"/><circle cx="312.06" cy="176.73" r="1.62"/><circle cx="314.48" cy="177.44" r="1.25"/><circle cx="314.38" cy="177.48" r="1.56"/><circle cx="314.34" cy="177.71" r="1.54"/><circle cx="312.68" cy="177.39" r="1.24"/><circle cx="313.64" cy="176.66" r="1.14"/><circle cx="314.62" cy="176.95" r="1.52"/><circle cx="314.44" cy="178.33" r="1.26"/><circle cx="315.17" cy="177.19" r="1.21"/><ellipse cx="316" cy="180" rx="1.65" ry="1.65"/><circle cx="316.09" cy="179.88" r="1.25"/><circle cx="316.58" cy="180.37" r="1.19"/><circle cx="315.55" cy="180.8" r="1.58"/><circle cx="317.6" cy="179.89" r="1.14"/><circle cx="316.3" cy="181.52" r="1.22"/><circle cx="315.17" cy="181.24" r="1.34"/><circle cx="314.55" cy="179.52" r="1.38"/><circle cx="314.7" cy="180.93" r="1.58"/><circle cx="316.17" cy="181.41" r="1.32"/><circle cx="317.09" cy="179.14" r="1.59"/><circle cx="316.64" cy="179.97" r="1.4"/><circle cx="316.64" cy="179.98" r="1.56"/><ellipse cx="303.4" cy="165.4" rx="0.99" ry="0.99"/><ellipse cx="302.4" cy="170.3" rx="0.74" ry="0.74"/><ellipse cx="284.3" cy="187" rx="0.82" ry="0.82"/><circle cx="284.42" cy="186.32" r="0.79"/><circle cx="284.03" cy="186.2" r="0.73"/><circle cx="284.06" cy="187.73" r="0.93"/><ellipse cx="293.6" cy="189" rx="0.86" ry="0.86"/><circle cx="294.19" cy="188.96" r="0.9"/><circle cx="293.33" cy="189.2" r="0.75"/><circle cx="293.9" cy="189.61" r="0.89"/><ellipse cx="298.9" cy="185.9" rx="0.99" ry="0.99"/><ellipse cx="281.2" cy="158.3" rx="0.74" ry="0.74"/></g>
<rect x="268.1" y="154.5" width="62" height="47" fill="none" stroke="#3a3433" stroke-width="1"/>
<rect x="317.4" y="198.1" width="11" height="2.2" fill="#111"/>
<text x="322.9" y="197.4" text-anchor="middle" fill="#222" font-size="2.6" style="stroke:none">100 μm</text>
<rect x="332.6" y="154" width="63" height="48" fill="url(#g29)"/>
<rect x="332.6" y="154" width="63" height="48" fill="#000" filter="url(#f30)"/>
<g fill="#5a4536" fill-opacity="0.75"><circle cx="363.35" cy="170.35" r="0.41"/><circle cx="350.17" cy="191.58" r="0.63"/><circle cx="376.79" cy="170.54" r="0.69"/><circle cx="378.77" cy="195.77" r="0.51"/><circle cx="357.44" cy="162.85" r="0.72"/><circle cx="343.05" cy="162.64" r="0.65"/></g>
<g fill="#4a3428" fill-opacity="0.8" filter="url(#bs)"><ellipse cx="364.5" cy="171.3" rx="0.99" ry="0.99"/><circle cx="364.81" cy="172.06" r="0.92"/><circle cx="365.31" cy="170.76" r="1.03"/><circle cx="364.67" cy="171.25" r="1.05"/><circle cx="364.74" cy="171.63" r="0.81"/><ellipse cx="365" cy="188.4" rx="0.99" ry="0.99"/><ellipse cx="357.6" cy="159.5" rx="0.74" ry="0.74"/><ellipse cx="354.7" cy="165.4" rx="0.74" ry="0.74"/><ellipse cx="348.8" cy="181" rx="0.74" ry="0.74"/><ellipse cx="383.3" cy="174.6" rx="0.74" ry="0.74"/></g>
<rect x="333.1" y="154.5" width="62" height="47" fill="none" stroke="#3a3433" stroke-width="1"/>
<rect x="382.4" y="198.1" width="11" height="2.2" fill="#111"/>
<text x="387.9" y="197.4" text-anchor="middle" fill="#222" font-size="2.6" style="stroke:none">100 μm</text>
<rect x="397.4" y="154" width="63.3" height="48" fill="url(#g31)"/>
<rect x="397.4" y="154" width="63.3" height="48" fill="#000" filter="url(#f32)"/>
<g fill="#5a4536" fill-opacity="0.75"><circle cx="435.21" cy="166.29" r="0.59"/><circle cx="456.66" cy="181.98" r="0.55"/><circle cx="425.01" cy="179.02" r="0.69"/><circle cx="432.75" cy="170.44" r="0.72"/><circle cx="425.82" cy="200.48" r="0.59"/><circle cx="409.91" cy="156.09" r="0.38"/><circle cx="444.24" cy="191.52" r="0.6"/><circle cx="436.46" cy="173.93" r="0.63"/><circle cx="435.7" cy="188.19" r="0.39"/><circle cx="430.86" cy="164.17" r="0.54"/><circle cx="437.74" cy="196.83" r="0.69"/><circle cx="423.57" cy="161.74" r="0.68"/><circle cx="420.8" cy="192.29" r="0.37"/></g>
<g fill="#4a3428" fill-opacity="0.8" filter="url(#bs)"><ellipse cx="407.8" cy="159.9" rx="0.94" ry="0.94"/><circle cx="407.26" cy="159.12" r="0.91"/><circle cx="408.35" cy="160.01" r="0.85"/><circle cx="408.18" cy="159.06" r="0.86"/><ellipse cx="423.6" cy="156.9" rx="0.94" ry="0.94"/><circle cx="424.52" cy="157.02" r="1.03"/><circle cx="423.92" cy="156.57" r="0.88"/><circle cx="423.04" cy="156.87" r="0.92"/><ellipse cx="432.4" cy="160.8" rx="1.57" ry="1.57"/><circle cx="432.53" cy="162.35" r="1.36"/><circle cx="432.23" cy="160.08" r="1.18"/><circle cx="433.56" cy="161.72" r="1.11"/><circle cx="432.16" cy="160.88" r="1.4"/><circle cx="432.71" cy="161.26" r="1.32"/><circle cx="432.72" cy="161.93" r="1.11"/><circle cx="433.7" cy="161.16" r="1.27"/><circle cx="432.68" cy="161.46" r="1.44"/><circle cx="433.35" cy="160.41" r="1.36"/><circle cx="430.93" cy="160.45" r="1.34"/><circle cx="432.66" cy="159.95" r="1.49"/><ellipse cx="443.3" cy="158.9" rx="1.12" ry="1.12"/><circle cx="442.96" cy="159.27" r="1.16"/><circle cx="442.41" cy="158.31" r="0.96"/><circle cx="444.02" cy="158.96" r="0.99"/><circle cx="442.73" cy="157.89" r="0.96"/><circle cx="444.04" cy="159.5" r="1.02"/><ellipse cx="447.2" cy="155.9" rx="0.94" ry="0.94"/><circle cx="447.54" cy="156.07" r="1.03"/><circle cx="446.37" cy="155.71" r="0.81"/><circle cx="447.48" cy="155.58" r="0.98"/><ellipse cx="446.6" cy="160.2" rx="0.75" ry="0.75"/><circle cx="446.62" cy="160.2" r="0.86"/><circle cx="446.61" cy="160.48" r="0.73"/><ellipse cx="428.5" cy="162.8" rx="0.75" ry="0.75"/><circle cx="428.97" cy="162.82" r="0.77"/><circle cx="428.28" cy="163.19" r="0.74"/><ellipse cx="428.5" cy="166.8" rx="1.31" ry="1.31"/><circle cx="429.51" cy="166.74" r="1.08"/><circle cx="428.31" cy="166.96" r="1.06"/><circle cx="428.55" cy="166.78" r="1"/><circle cx="427.92" cy="166.3" r="1.05"/><circle cx="427.76" cy="166.78" r="1.18"/><circle cx="427.78" cy="166.84" r="1.08"/><circle cx="427.91" cy="166.83" r="1.09"/><ellipse cx="425.5" cy="169.7" rx="1.5" ry="1.5"/><circle cx="425.47" cy="169.55" r="1.09"/><circle cx="425.82" cy="168.36" r="1.39"/><circle cx="426.12" cy="168.63" r="1.26"/><circle cx="426.23" cy="170.38" r="1.38"/><circle cx="426.66" cy="168.89" r="1.1"/><circle cx="425.7" cy="170.67" r="1.21"/><circle cx="424.66" cy="170.1" r="1.37"/><circle cx="425.47" cy="168.37" r="1.43"/><circle cx="426.8" cy="170.29" r="1.15"/><circle cx="426.92" cy="169.73" r="1.13"/><ellipse cx="420.6" cy="171.3" rx="1.12" ry="1.12"/><circle cx="421.17" cy="171.19" r="0.97"/><circle cx="420.13" cy="170.95" r="1.02"/><circle cx="421.05" cy="171.36" r="0.95"/><circle cx="420.73" cy="170.73" r="1.01"/><circle cx="420.54" cy="170.95" r="0.86"/><ellipse cx="431.5" cy="171.3" rx="1.12" ry="1.12"/><circle cx="430.7" cy="171.53" r="0.93"/><circle cx="430.75" cy="171.47" r="1.08"/><circle cx="431.16" cy="171.8" r="0.89"/><circle cx="431.52" cy="170.81" r="1.04"/><circle cx="431.24" cy="171.76" r="1.05"/><ellipse cx="448.6" cy="168.7" rx="1.31" ry="1.31"/><circle cx="449.27" cy="167.78" r="1.08"/><circle cx="449.54" cy="168.41" r="1.22"/><circle cx="449.38" cy="168.14" r="1.3"/><circle cx="447.95" cy="169" r="1.06"/><circle cx="449.25" cy="169.31" r="1.03"/><circle cx="449.56" cy="169.19" r="1.09"/><circle cx="448.75" cy="169.46" r="0.96"/><ellipse cx="440" cy="173.7" rx="1.5" ry="1.5"/><circle cx="439.18" cy="173.24" r="1.1"/><circle cx="439.6" cy="174.2" r="1.3"/><circle cx="440.87" cy="172.89" r="1.11"/><circle cx="440.14" cy="172.47" r="1.3"/><circle cx="439.32" cy="173.14" r="1.32"/><circle cx="439.94" cy="174.47" r="1.31"/><circle cx="439.15" cy="173.45" r="1.22"/><circle cx="440.46" cy="174.64" r="1.11"/><circle cx="438.53" cy="173.43" r="1.32"/><circle cx="438.77" cy="173.73" r="1.5"/><ellipse cx="426.5" cy="176.6" rx="1.12" ry="1.12"/><circle cx="425.53" cy="176.23" r="0.98"/><circle cx="426.33" cy="175.73" r="1.12"/><circle cx="426.73" cy="175.54" r="0.89"/><circle cx="427.31" cy="176.37" r="1"/><circle cx="426.66" cy="175.47" r="1.04"/><ellipse cx="435.4" cy="176.6" rx="0.94" ry="0.94"/><circle cx="435.83" cy="177.46" r="0.86"/><circle cx="434.67" cy="176.85" r="0.8"/><circle cx="435.65" cy="177.35" r="1"/><ellipse cx="409.2" cy="170.7" rx="0.75" ry="0.75"/><circle cx="409.9" cy="170.72" r="0.84"/><circle cx="409.22" cy="171.01" r="0.86"/><ellipse cx="442.3" cy="181.5" rx="1.31" ry="1.31"/><circle cx="441.88" cy="181.54" r="0.95"/><circle cx="442.73" cy="181.46" r="0.98"/><circle cx="441.65" cy="181.85" r="1.05"/><circle cx="442.92" cy="181.46" r="1.17"/><circle cx="443.26" cy="181.37" r="1.12"/><circle cx="443.53" cy="181.77" r="1.12"/><circle cx="442.97" cy="182.48" r="1.04"/><ellipse cx="418.6" cy="183.5" rx="1.31" ry="1.31"/><circle cx="417.66" cy="183.61" r="1.17"/><circle cx="417.96" cy="183.88" r="0.98"/><circle cx="418.86" cy="184.55" r="1.25"/><circle cx="419.06" cy="183.18" r="1.11"/><circle cx="417.86" cy="184.55" r="1.07"/><circle cx="417.62" cy="183.09" r="1"/><circle cx="419.36" cy="183.34" r="1.26"/><ellipse cx="415.7" cy="186.5" rx="0.94" ry="0.94"/><circle cx="416.28" cy="186.95" r="0.8"/><circle cx="414.97" cy="186.75" r="0.96"/><circle cx="415.65" cy="185.73" r="0.96"/><ellipse cx="420.6" cy="192" rx="1.12" ry="1.12"/><circle cx="419.63" cy="192.55" r="1.04"/><circle cx="421.02" cy="192.1" r="1.13"/><circle cx="420.59" cy="191.09" r="1.01"/><circle cx="420.22" cy="191.74" r="1.17"/><circle cx="419.92" cy="191.3" r="0.89"/><ellipse cx="441.7" cy="193.8" rx="0.75" ry="0.75"/><circle cx="441.56" cy="194.11" r="0.78"/><circle cx="442" cy="194.38" r="0.66"/><ellipse cx="398.9" cy="183.5" rx="0.94" ry="0.94"/><circle cx="399.03" cy="184.19" r="0.85"/><circle cx="399.08" cy="182.69" r="0.99"/><circle cx="399.43" cy="183.47" r="0.84"/><ellipse cx="441.3" cy="164.4" rx="0.75" ry="0.75"/><circle cx="440.75" cy="164.74" r="0.78"/><circle cx="441.13" cy="165.14" r="0.68"/></g>
<rect x="397.9" y="154.5" width="62.3" height="47" fill="none" stroke="#3a3433" stroke-width="1"/>
<rect x="447.5" y="198.1" width="11" height="2.2" fill="#111"/>
<text x="453" y="197.4" text-anchor="middle" fill="#222" font-size="2.6" style="stroke:none">100 μm</text>
<rect x="462.5" y="154" width="63.5" height="48" fill="url(#g33)"/>
<rect x="462.5" y="154" width="63.5" height="48" fill="#000" filter="url(#f34)"/>
<g fill="#5a4536" fill-opacity="0.75"><circle cx="504.44" cy="187.43" r="0.49"/><circle cx="477.68" cy="172.99" r="0.36"/><circle cx="481.52" cy="194.51" r="0.57"/><circle cx="481.09" cy="179.83" r="0.47"/><circle cx="498.53" cy="197.98" r="0.37"/><circle cx="467.9" cy="158.17" r="0.72"/><circle cx="495.82" cy="164.48" r="0.58"/><circle cx="493.51" cy="179.89" r="0.6"/></g>
<g fill="#4a3428" fill-opacity="0.8" filter="url(#bs)"><ellipse cx="495.1" cy="161.8" rx="0.99" ry="0.99"/><circle cx="494.73" cy="162.01" r="0.89"/><circle cx="495.01" cy="161.35" r="0.94"/><circle cx="494.53" cy="161.07" r="0.82"/><circle cx="494.96" cy="162.24" r="1"/><ellipse cx="502.4" cy="162.2" rx="0.99" ry="0.99"/><ellipse cx="486" cy="166.8" rx="0.99" ry="0.99"/><ellipse cx="486.6" cy="170.7" rx="0.82" ry="0.82"/><circle cx="486.17" cy="170.43" r="0.72"/><circle cx="486.59" cy="170.42" r="0.9"/><circle cx="486.51" cy="171.44" r="0.87"/><ellipse cx="492.2" cy="176.6" rx="0.99" ry="0.99"/><ellipse cx="508.3" cy="175.6" rx="0.82" ry="0.82"/><circle cx="508.21" cy="176.18" r="0.79"/><circle cx="507.93" cy="175.72" r="0.81"/><circle cx="508.65" cy="175.69" r="0.8"/><ellipse cx="511.3" cy="178.6" rx="0.74" ry="0.74"/><ellipse cx="493.1" cy="188.4" rx="0.99" ry="0.99"/><circle cx="492.82" cy="188.85" r="0.94"/><circle cx="492.85" cy="188.21" r="0.8"/><circle cx="493.47" cy="188.63" r="1.03"/><circle cx="493.56" cy="188.64" r="0.82"/><ellipse cx="493" cy="196.7" rx="1.16" ry="1.16"/><circle cx="493.09" cy="195.85" r="0.96"/><circle cx="492.83" cy="196.21" r="0.9"/><circle cx="492.87" cy="197.49" r="1.14"/><circle cx="492.99" cy="196.7" r="1.09"/><circle cx="491.93" cy="196.58" r="0.89"/><ellipse cx="515.2" cy="157.9" rx="0.74" ry="0.74"/></g>
<rect x="463" y="154.5" width="62.5" height="47" fill="none" stroke="#3a3433" stroke-width="1"/>
<rect x="512.8" y="198.1" width="11" height="2.2" fill="#111"/>
<text x="518.3" y="197.4" text-anchor="middle" fill="#222" font-size="2.6" style="stroke:none">100 μm</text>
<rect x="267.2" y="203.8" width="63" height="62.8" fill="#fff"/>
<g transform="rotate(8 312.6 240)" filter="url(#fb)"><ellipse cx="312.6" cy="240" rx="4.6" ry="11.5" fill="#2b3cf5" fill-opacity="0.8"/><ellipse cx="312.6" cy="240" rx="3.91" ry="9.78" fill="#1a8cff" fill-opacity="0.9"/><ellipse cx="312.6" cy="240" rx="3.31" ry="8.28" fill="#18d0c8" fill-opacity="0.95"/><ellipse cx="312.6" cy="240" rx="2.67" ry="6.67" fill="#38c838" fill-opacity="1"/><ellipse cx="312.6" cy="240" rx="1.38" ry="3.45" fill="#e8d81c" fill-opacity="1"/><ellipse cx="312.6" cy="240" rx="0.69" ry="1.72" fill="#ff5020" fill-opacity="1"/></g>
<path d="M314.85 246.05h0.6M313.21 227.87h0.6M312.08 231.56h0.6M313.84 230.7h0.6M315.88 243.49h0.6M320.27 244.67h0.6M315.49 237.29h0.6M310.32 251.44h0.6M313.13 244.01h0.6M313.72 245.92h0.6M306.19 225.75h0.6M314.63 257.69h0.6M305.42 234h0.6M313.36 235.46h0.6M311.43 236.4h0.6M316.01 239.77h0.6M313.17 229.91h0.6M314.87 252.96h0.6M314.71 236.65h0.6M307.77 242.92h0.6M313.99 237.25h0.6M303.82 232.94h0.6M308.19 231.95h0.6M313.15 230.69h0.6M311.34 249.21h0.6M309.34 238.29h0.6M314.52 233.85h0.6M306.61 240.81h0.6M315.37 224.98h0.6M310.95 234.84h0.6M316.9 226.05h0.6M311.19 227.01h0.6M308.43 238.75h0.6M310.79 237.4h0.6M309.38 226.17h0.6M315.49 250.3h0.6M312.02 235.83h0.6M316.97 242.66h0.6M313.08 245.84h0.6M308.82 231.99h0.6M301.91 235.32h0.6M301.28 244.75h0.6M306.44 247.91h0.6M287.82 239.01h0.6M304.27 250.95h0.6M310.39 243.33h0.6M299.14 234.31h0.6M296.5 236.31h0.6M288.58 237.97h0.6M310.54 256.13h0.6M303.95 242.97h0.6M304.18 249.29h0.6M306.1 247.01h0.6M299.09 240.67h0.6M321.85 255.2h0.6" stroke="#3340f0" stroke-width="0.6" stroke-opacity="0.6"/>
<line x1="309.5" y1="203.8" x2="309.5" y2="266.6" stroke="#111" stroke-width="1.6"/>
<line x1="267.2" y1="236.4" x2="330.2" y2="236.4" stroke="#111" stroke-width="1.6"/>
<rect x="267.7" y="204.3" width="62" height="61.8" fill="none" stroke="#8a8a8a" stroke-width="0.8"/>
<text x="328" y="263.4" text-anchor="end">86.6</text>
<rect x="332.2" y="203.8" width="63.2" height="62.8" fill="#fff"/>
<g transform="rotate(8 378 240)" filter="url(#fb)"><ellipse cx="378" cy="240" rx="4.4" ry="11" fill="#2b3cf5" fill-opacity="0.8"/><ellipse cx="378" cy="240" rx="3.74" ry="9.35" fill="#1a8cff" fill-opacity="0.9"/><ellipse cx="378" cy="240" rx="3.17" ry="7.92" fill="#18d0c8" fill-opacity="0.95"/><ellipse cx="378" cy="240" rx="2.55" ry="6.38" fill="#38c838" fill-opacity="1"/><ellipse cx="378" cy="240" rx="1.32" ry="3.3" fill="#e8d81c" fill-opacity="1"/><ellipse cx="378" cy="240" rx="0.66" ry="1.65" fill="#ff5020" fill-opacity="1"/></g>
<path d="M375.99 237.09h0.6M385.76 235.81h0.6M372.94 241.77h0.6M378.55 244.68h0.6M376.71 250.68h0.6M380.18 258.91h0.6M380.07 241.6h0.6M383.09 246.31h0.6M375.36 245.8h0.6M375.71 248.99h0.6M376.03 242.41h0.6M375.3 242.21h0.6M383 248.46h0.6M375.8 229.46h0.6M380.59 234.44h0.6M375.34 244.91h0.6M373.7 245.79h0.6M381.91 239.84h0.6M374.86 237.99h0.6M383.41 241.1h0.6M382.5 240.07h0.6M378.53 241.13h0.6M378.54 242.01h0.6M381.11 248.75h0.6M377.55 232.45h0.6M375.71 232.54h0.6M370.85 239.65h0.6M375.34 253.54h0.6M376.08 228.89h0.6M379.47 239.62h0.6M381.16 240.88h0.6M384.74 234.41h0.6M378.93 236.3h0.6M376.34 227.05h0.6M380.26 227.12h0.6M369.99 249.07h0.6M370.33 235.36h0.6M374.49 242.24h0.6M370.21 243.54h0.6M386.03 245.51h0.6M364.04 246.72h0.6M351.42 238.87h0.6M363.97 246.43h0.6M362.66 256.55h0.6M385.82 257.63h0.6M366 249.52h0.6M387.45 261.69h0.6M373.13 243.09h0.6M378.01 253.02h0.6M367.19 244.57h0.6M352.78 232.46h0.6M353.45 244.58h0.6M368.47 240.87h0.6M363.86 254.26h0.6M354.28 239.87h0.6" stroke="#3340f0" stroke-width="0.6" stroke-opacity="0.6"/>
<line x1="374.5" y1="203.8" x2="374.5" y2="266.6" stroke="#111" stroke-width="1.6"/>
<line x1="332.2" y1="236.4" x2="395.4" y2="236.4" stroke="#111" stroke-width="1.6"/>
<rect x="332.7" y="204.3" width="62.2" height="61.8" fill="none" stroke="#8a8a8a" stroke-width="0.8"/>
<text x="393.2" y="263.4" text-anchor="end">78.9</text>
<rect x="397.2" y="203.8" width="63.2" height="62.8" fill="#fff"/>
<g transform="rotate(8 444.4 239)" filter="url(#fb)"><ellipse cx="444.4" cy="239" rx="4.6" ry="11.5" fill="#2b3cf5" fill-opacity="0.8"/><ellipse cx="444.4" cy="239" rx="3.91" ry="9.78" fill="#1a8cff" fill-opacity="0.9"/><ellipse cx="444.4" cy="239" rx="3.31" ry="8.28" fill="#18d0c8" fill-opacity="0.95"/><ellipse cx="444.4" cy="239" rx="2.67" ry="6.67" fill="#38c838" fill-opacity="1"/><ellipse cx="444.4" cy="239" rx="1.38" ry="3.45" fill="#e8d81c" fill-opacity="1"/><ellipse cx="444.4" cy="239" rx="0.69" ry="1.72" fill="#ff5020" fill-opacity="1"/></g>
<path d="M447.09 246.82h0.6M446.87 248.87h0.6M441.51 233.87h0.6M440.85 231.98h0.6M448.34 240.97h0.6M441.1 232.3h0.6M448.35 230.1h0.6M442.4 242.25h0.6M448.62 248.35h0.6M442.43 228.94h0.6M440.35 241.67h0.6M444.95 247.58h0.6M447.18 246.77h0.6M440.63 230.35h0.6M444.23 241.79h0.6M441.54 248.42h0.6M438.4 237.73h0.6M441 241.67h0.6M445.97 236.01h0.6M445.44 248.14h0.6M441.67 232.63h0.6M440.68 235.62h0.6M440.61 224.79h0.6M446.47 228.96h0.6M435.85 241.9h0.6M439.56 241.93h0.6M447.8 230.13h0.6M439.74 246.34h0.6M437.92 228.69h0.6M441.11 232.03h0.6M448.43 237.01h0.6M437.58 249.03h0.6M446.22 236.91h0.6M450.41 245.01h0.6M446.75 233.54h0.6M444.04 249.89h0.6M446.45 236.59h0.6M439.31 242.06h0.6M444.86 246.13h0.6M446.69 245.21h0.6M432.52 246.83h0.6M427.62 245.52h0.6M436.19 247.47h0.6M424.4 245.29h0.6M430.59 236.86h0.6M432.27 248.36h0.6M427.19 253.52h0.6M435.36 251.83h0.6M438.56 233.6h0.6M413.3 243.08h0.6M427.51 239.32h0.6M437.1 247.32h0.6" stroke="#3340f0" stroke-width="0.6" stroke-opacity="0.6"/>
<line x1="439.8" y1="203.8" x2="439.8" y2="266.6" stroke="#111" stroke-width="1.6"/>
<line x1="397.2" y1="236.4" x2="460.4" y2="236.4" stroke="#111" stroke-width="1.6"/>
<rect x="397.7" y="204.3" width="62.2" height="61.8" fill="none" stroke="#8a8a8a" stroke-width="0.8"/>
<text x="458.2" y="263.4" text-anchor="end">90.0</text>
<rect x="462.4" y="203.8" width="63.4" height="62.8" fill="#fff"/>
<g transform="rotate(8 509.8 240)" filter="url(#fb)"><ellipse cx="509.8" cy="240" rx="4.6" ry="11.5" fill="#2b3cf5" fill-opacity="0.8"/><ellipse cx="509.8" cy="240" rx="3.91" ry="9.78" fill="#1a8cff" fill-opacity="0.9"/><ellipse cx="509.8" cy="240" rx="3.31" ry="8.28" fill="#18d0c8" fill-opacity="0.95"/><ellipse cx="509.8" cy="240" rx="2.67" ry="6.67" fill="#38c838" fill-opacity="1"/><ellipse cx="509.8" cy="240" rx="1.38" ry="3.45" fill="#e8d81c" fill-opacity="1"/><ellipse cx="509.8" cy="240" rx="0.69" ry="1.72" fill="#ff5020" fill-opacity="1"/></g>
<path d="M513.43 238.41h0.6M508.49 227.51h0.6M509.91 242.45h0.6M508.17 237.2h0.6M504.17 250.12h0.6M510.82 236.79h0.6M511.76 242.13h0.6M509.97 238.02h0.6M509.86 243.03h0.6M512.56 246.06h0.6M511.06 246.53h0.6M509.01 227.55h0.6M504.31 246.2h0.6M503.71 233.32h0.6M509.62 246.7h0.6M502.2 230.74h0.6M506.68 233.74h0.6M509.58 245.6h0.6M511.79 260.98h0.6M515.22 229.1h0.6M504.19 237.4h0.6M508.44 247.73h0.6M511.83 245.7h0.6M509.57 242.94h0.6M510.98 237.86h0.6M511.69 228.77h0.6M513 244.13h0.6M519.9 238.93h0.6M504.05 234.51h0.6M508.85 233.48h0.6M505.11 236.38h0.6M504.51 248.06h0.6M504.13 243.79h0.6M513.09 242.72h0.6M514.45 242.48h0.6M512.65 232.76h0.6M505.12 235.32h0.6M510.05 246.85h0.6M505.16 234.38h0.6M506.69 245.35h0.6M490.82 251.12h0.6M493 238.84h0.6M489.28 231.46h0.6M469.69 235.02h0.6M488.8 257.23h0.6M500.94 251.6h0.6M498.05 243.65h0.6M481.77 232.89h0.6M511.21 244.5h0.6M491.92 248.89h0.6M494.48 242.65h0.6M517.34 251.7h0.6" stroke="#3340f0" stroke-width="0.6" stroke-opacity="0.6"/>
<line x1="504.8" y1="203.8" x2="504.8" y2="266.6" stroke="#111" stroke-width="1.6"/>
<line x1="462.4" y1="236.4" x2="525.8" y2="236.4" stroke="#111" stroke-width="1.6"/>
<rect x="462.9" y="204.3" width="62.4" height="61.8" fill="none" stroke="#8a8a8a" stroke-width="0.8"/>
<text x="523.6" y="263.4" text-anchor="end">89.2</text>
<text x="329.4" y="283.6" font-weight="bold" fill="#1a1413" font-size="13">I</text>
<text x="441" y="292.9" text-anchor="middle">MDA-MB-231</text>
<line x1="337.4" y1="295" x2="532.5" y2="295" stroke="#111" stroke-width="1"/>
<text x="369.5" y="303.9" text-anchor="middle">Vector + Solvent</text>
<text x="434.7" y="303.9" text-anchor="middle">Vector + Fluv.</text>
<text x="500.3" y="303.9" text-anchor="middle"><tspan font-style="italic">CYP4Z1</tspan> + Fluv.</text>
<text x="335.8" y="329.9" text-anchor="middle" font-style="italic" transform="rotate(-90 335.8 329.9)">Migration</text>
<text x="335.8" y="376.4" text-anchor="middle" transform="rotate(-90 335.8 376.4)">Invasion</text>
<rect x="337.4" y="305.5" width="64.2" height="47.9" fill="url(#g35)"/>
<rect x="337.4" y="305.5" width="64.2" height="47.9" fill="#000" filter="url(#f36)"/>
<rect x="337.9" y="306" width="63.2" height="46.9" fill="none" stroke="#3a3433" stroke-width="1"/>
<rect x="390.1" y="349" width="10" height="3.2" fill="#111"/>
<line x1="391.3" y1="350.6" x2="398.9" y2="350.6" stroke="#888" stroke-width="0.7"/>
<rect x="402.8" y="305.5" width="63.8" height="47.9" fill="url(#g37)"/>
<rect x="402.8" y="305.5" width="63.8" height="47.9" fill="#000" filter="url(#f38)"/>
<rect x="403.3" y="306" width="62.8" height="46.9" fill="none" stroke="#3a3433" stroke-width="1"/>
<rect x="455.1" y="349" width="10" height="3.2" fill="#111"/>
<line x1="456.3" y1="350.6" x2="463.9" y2="350.6" stroke="#888" stroke-width="0.7"/>
<rect x="468.2" y="305.5" width="64.3" height="47.9" fill="url(#g39)"/>
<rect x="468.2" y="305.5" width="64.3" height="47.9" fill="#000" filter="url(#f40)"/>
<rect x="468.7" y="306" width="63.3" height="46.9" fill="none" stroke="#3a3433" stroke-width="1"/>
<rect x="521" y="349" width="10" height="3.2" fill="#111"/>
<line x1="522.2" y1="350.6" x2="529.8" y2="350.6" stroke="#888" stroke-width="0.7"/>
<rect x="337.4" y="355.3" width="64.2" height="47.9" fill="url(#g41)"/>
<rect x="337.4" y="355.3" width="64.2" height="47.9" fill="#000" filter="url(#f42)"/>
<rect x="337.9" y="355.8" width="63.2" height="46.9" fill="none" stroke="#3a3433" stroke-width="1"/>
<rect x="390.1" y="398.8" width="10" height="3.2" fill="#111"/>
<line x1="391.3" y1="400.4" x2="398.9" y2="400.4" stroke="#888" stroke-width="0.7"/>
<rect x="402.8" y="355.3" width="63.8" height="47.9" fill="url(#g43)"/>
<rect x="402.8" y="355.3" width="63.8" height="47.9" fill="#000" filter="url(#f44)"/>
<rect x="403.3" y="355.8" width="62.8" height="46.9" fill="none" stroke="#3a3433" stroke-width="1"/>
<rect x="455.1" y="398.8" width="10" height="3.2" fill="#111"/>
<line x1="456.3" y1="400.4" x2="463.9" y2="400.4" stroke="#888" stroke-width="0.7"/>
<rect x="468.2" y="355.3" width="64.3" height="47.9" fill="url(#g45)"/>
<rect x="468.2" y="355.3" width="64.3" height="47.9" fill="#000" filter="url(#f46)"/>
<rect x="468.7" y="355.8" width="63.3" height="46.9" fill="none" stroke="#3a3433" stroke-width="1"/>
<rect x="521" y="398.8" width="10" height="3.2" fill="#111"/>
<line x1="522.2" y1="400.4" x2="529.8" y2="400.4" stroke="#888" stroke-width="0.7"/>
<text x="5.2" y="425.5" font-weight="bold" fill="#1a1413" font-size="13">K</text>
<text x="154.7" y="421.3" text-anchor="middle">MDA-MB-231</text>
<line x1="26.2" y1="424.3" x2="283.4" y2="424.3" stroke="#111" stroke-width="1"/>
<text x="68.3" y="434.2" text-anchor="middle">Vector + Solvent</text>
<text x="156.5" y="434.2" text-anchor="middle">Vector + Fluv.</text>
<text x="244.8" y="434.2" text-anchor="middle"><tspan font-style="italic">CYP4Z1</tspan> + Fluv.</text>
<text x="24.4" y="467.6" text-anchor="middle" transform="rotate(-90 24.4 467.6)">Sphere formation</text>
<text x="26.1" y="541.9" text-anchor="middle" transform="rotate(-90 26.1 541.9)">CD24</text>
<path d="M23.6 558.4V574.6H39.9" stroke="#111" stroke-width="1" fill="none"/>
<path d="M23.6 556.4l-1.9 4.2h3.8z M41.9 574.6l-4.2 -1.9v3.8z" fill="#111"/>
<text x="45.5" y="577.5">CD44</text>
<rect x="27.5" y="437.8" width="81.6" height="60.9" fill="url(#g47)"/>
<rect x="27.5" y="437.8" width="81.6" height="60.9" fill="#000" filter="url(#f48)"/>
<g fill="#5a4536" fill-opacity="0.75"><circle cx="81.25" cy="464.89" r="0.38"/><circle cx="81.01" cy="457.36" r="0.71"/><circle cx="83.54" cy="471.65" r="0.43"/><circle cx="81.59" cy="442.9" r="0.68"/><circle cx="45.03" cy="470.41" r="0.47"/><circle cx="94" cy="443.08" r="0.46"/><circle cx="64.23" cy="461.44" r="0.51"/><circle cx="97.5" cy="459.21" r="0.4"/><circle cx="47.26" cy="469.35" r="0.59"/><circle cx="75.2" cy="442.6" r="0.49"/><circle cx="51.51" cy="467.68" r="0.57"/><circle cx="47.47" cy="469.91" r="0.44"/><circle cx="71.28" cy="469.33" r="0.59"/><circle cx="46.45" cy="472.17" r="0.73"/><circle cx="80.64" cy="472.12" r="0.71"/><circle cx="45.4" cy="460.5" r="0.38"/><circle cx="55.45" cy="468" r="0.51"/><circle cx="66.32" cy="477.19" r="0.74"/><circle cx="85.87" cy="471.61" r="0.39"/><circle cx="54.14" cy="466.65" r="0.36"/><circle cx="50.73" cy="453" r="0.67"/><circle cx="80.97" cy="451.22" r="0.65"/><circle cx="90.92" cy="468.45" r="0.6"/><circle cx="87.46" cy="470.27" r="0.58"/><circle cx="73.35" cy="462.23" r="0.39"/><circle cx="78.44" cy="462.27" r="0.37"/><circle cx="81.59" cy="466.89" r="0.53"/><circle cx="50.07" cy="469.91" r="0.52"/><circle cx="68.21" cy="461.58" r="0.45"/><circle cx="54.75" cy="465.51" r="0.72"/><circle cx="83.25" cy="466.24" r="0.54"/><circle cx="57.32" cy="476.21" r="0.46"/><circle cx="46.07" cy="478.8" r="0.54"/><circle cx="81.04" cy="488.15" r="0.68"/><circle cx="72.52" cy="461.59" r="0.48"/><circle cx="37.3" cy="489.62" r="0.49"/><circle cx="47.98" cy="461.64" r="0.75"/><circle cx="31.68" cy="454.92" r="0.63"/><circle cx="43.38" cy="466.44" r="0.58"/><circle cx="77.9" cy="485.66" r="0.57"/><circle cx="59.23" cy="466.7" r="0.36"/><circle cx="35.58" cy="467.37" r="0.68"/><circle cx="87.91" cy="470.08" r="0.74"/><circle cx="83.01" cy="488.55" r="0.57"/><circle cx="67.05" cy="450.27" r="0.5"/><circle cx="38.07" cy="451.23" r="0.5"/><circle cx="89.05" cy="473.64" r="0.63"/><circle cx="41.21" cy="475" r="0.4"/><circle cx="48.4" cy="477.93" r="0.73"/><circle cx="102.65" cy="491.01" r="0.48"/><circle cx="75.33" cy="473.21" r="0.45"/><circle cx="94.96" cy="465.27" r="0.58"/><circle cx="100.93" cy="466.1" r="0.45"/><circle cx="80.52" cy="468.78" r="0.62"/><circle cx="82.06" cy="466.27" r="0.65"/><circle cx="101.34" cy="476.12" r="0.67"/><circle cx="53.19" cy="465.22" r="0.49"/><circle cx="77.61" cy="483.51" r="0.4"/><circle cx="58.63" cy="468.66" r="0.42"/><circle cx="67.22" cy="444.78" r="0.39"/><circle cx="55.87" cy="463.76" r="0.52"/><circle cx="35.67" cy="439.63" r="0.66"/><circle cx="51.61" cy="458.78" r="0.48"/><circle cx="74.61" cy="474.52" r="0.75"/><circle cx="80.27" cy="479.54" r="0.44"/><circle cx="102.49" cy="486.56" r="0.38"/><circle cx="50.56" cy="479.98" r="0.36"/><circle cx="67.47" cy="447.93" r="0.38"/><circle cx="48.37" cy="457.82" r="0.45"/><circle cx="34.37" cy="451.99" r="0.65"/><circle cx="49.99" cy="475.42" r="0.54"/><circle cx="66.43" cy="496.65" r="0.59"/><circle cx="85.93" cy="471.81" r="0.53"/><circle cx="43.15" cy="481.77" r="0.64"/><circle cx="55.53" cy="462.76" r="0.7"/><circle cx="84.2" cy="468.32" r="0.67"/><circle cx="52.89" cy="460.43" r="0.4"/><circle cx="107.05" cy="449.34" r="0.74"/><circle cx="74.89" cy="473.31" r="0.62"/><circle cx="103.23" cy="474.47" r="0.36"/><circle cx="40.55" cy="473.43" r="0.75"/><circle cx="79.03" cy="456.13" r="0.44"/><circle cx="54.96" cy="466.33" r="0.61"/><circle cx="50.4" cy="478.73" r="0.53"/><circle cx="47.1" cy="462.65" r="0.74"/><circle cx="103.08" cy="446.65" r="0.51"/><circle cx="28.82" cy="458.42" r="0.73"/><circle cx="82.76" cy="445.75" r="0.62"/><circle cx="59.37" cy="461.73" r="0.75"/><circle cx="45.65" cy="461.49" r="0.71"/></g>
<g fill="#44342a" fill-opacity="0.8" filter="url(#bs)"><ellipse cx="50" cy="462" rx="2.7" ry="2.7"/><circle cx="48.75" cy="461.92" r="1.89"/><circle cx="51.39" cy="460.3" r="2.24"/><circle cx="49.07" cy="464.43" r="2.22"/><circle cx="51.24" cy="460.58" r="2.31"/><circle cx="50.83" cy="464.05" r="1.85"/><circle cx="49.48" cy="460.43" r="1.99"/><circle cx="51.73" cy="462.43" r="2.05"/><circle cx="47.48" cy="461.54" r="1.71"/><circle cx="51.59" cy="461.7" r="2.49"/><circle cx="50.15" cy="462.59" r="2.45"/><circle cx="50.97" cy="459.89" r="2.35"/><circle cx="49.03" cy="462.94" r="2.48"/><circle cx="49.85" cy="461.86" r="2.25"/><circle cx="48.62" cy="462.73" r="1.81"/><circle cx="48.66" cy="462.68" r="2.17"/><circle cx="47.47" cy="462.97" r="2.11"/><circle cx="51.3" cy="464.15" r="2.41"/><circle cx="47.28" cy="462.35" r="2.11"/><circle cx="51.23" cy="462.71" r="1.76"/><circle cx="51.93" cy="462.18" r="2.07"/><circle cx="48.88" cy="460.73" r="2.25"/><circle cx="52.39" cy="462.65" r="1.91"/><circle cx="49.35" cy="463.24" r="2.38"/><circle cx="52.62" cy="461.71" r="2.2"/><circle cx="48.25" cy="460.74" r="2.09"/><circle cx="49.37" cy="460.04" r="2.2"/><circle cx="49.82" cy="463.95" r="2.23"/><circle cx="51.91" cy="463.17" r="1.85"/><circle cx="49.13" cy="464.01" r="2.2"/><circle cx="50.59" cy="460.94" r="2.07"/><circle cx="51.16" cy="461.03" r="1.94"/><circle cx="51.64" cy="460.97" r="1.69"/><ellipse cx="47.5" cy="470" rx="1.8" ry="3"/><circle cx="46.94" cy="471.55" r="1.42"/><circle cx="48.63" cy="468.5" r="1.48"/><circle cx="48.26" cy="467.46" r="1.54"/><circle cx="46.21" cy="467.84" r="1.46"/><circle cx="48.4" cy="470.71" r="1.74"/><circle cx="47.93" cy="469.92" r="1.53"/><circle cx="46.03" cy="469.87" r="1.53"/><circle cx="48.5" cy="471.63" r="1.44"/><circle cx="48.33" cy="470.9" r="1.31"/><circle cx="46.44" cy="469.75" r="1.37"/><circle cx="49.12" cy="468.58" r="1.4"/><circle cx="47.02" cy="472.29" r="1.37"/><circle cx="47.91" cy="467.05" r="1.39"/><circle cx="46.66" cy="469.47" r="1.66"/><circle cx="47.76" cy="473.02" r="1.72"/><circle cx="47.42" cy="470.51" r="1.6"/><circle cx="46.48" cy="472.18" r="1.26"/><circle cx="47.15" cy="470.23" r="1.65"/><circle cx="47.01" cy="467.37" r="1.24"/><circle cx="48.45" cy="472.13" r="1.72"/><circle cx="47.82" cy="471.84" r="1.64"/><circle cx="46.08" cy="468.47" r="1.23"/><circle cx="45.76" cy="469.58" r="1.55"/><circle cx="46.34" cy="469.17" r="1.66"/><ellipse cx="50.5" cy="476" rx="1.8" ry="1.8"/><circle cx="50.84" cy="474.94" r="1.4"/><circle cx="51.66" cy="475.16" r="1.67"/><circle cx="49.84" cy="474.56" r="1.51"/><circle cx="50.37" cy="477.47" r="1.41"/><circle cx="52" cy="475.97" r="1.73"/><circle cx="50.97" cy="475.22" r="1.64"/><circle cx="49.94" cy="476.75" r="1.45"/><circle cx="49.62" cy="474.9" r="1.38"/><circle cx="49.99" cy="477.43" r="1.33"/><circle cx="49.86" cy="474.29" r="1.46"/><circle cx="51.79" cy="475.08" r="1.35"/><circle cx="49.81" cy="474.99" r="1.6"/><circle cx="49.05" cy="475.72" r="1.54"/><circle cx="51.72" cy="475.67" r="1.61"/><ellipse cx="55.5" cy="461" rx="1.8" ry="1.5"/><circle cx="55.24" cy="462.27" r="1.08"/><circle cx="54.37" cy="461.5" r="1.34"/><circle cx="56.47" cy="462.25" r="1.47"/><circle cx="55.48" cy="460.49" r="1.08"/><circle cx="54.69" cy="460.49" r="1.26"/><circle cx="55.99" cy="459.75" r="1.45"/><circle cx="55.67" cy="459.66" r="1.12"/><circle cx="54.7" cy="459.88" r="1.37"/><circle cx="55.33" cy="460.99" r="1.49"/><circle cx="55.4" cy="460.18" r="1.06"/><circle cx="57.28" cy="461.06" r="1.3"/><circle cx="54.44" cy="460.82" r="1.15"/><ellipse cx="65.6" cy="465.5" rx="1.2" ry="1.2"/><circle cx="65.27" cy="466.27" r="1.18"/><circle cx="66.28" cy="464.49" r="0.98"/><circle cx="66.34" cy="465.53" r="0.9"/><circle cx="66.42" cy="465.93" r="1.12"/><circle cx="64.99" cy="466.03" r="1.11"/><circle cx="64.65" cy="466.24" r="1.2"/><ellipse cx="72" cy="471.2" rx="1.2" ry="1.2"/><circle cx="71.49" cy="472.1" r="0.99"/><circle cx="72.03" cy="471.79" r="0.93"/><circle cx="71.91" cy="471" r="1.08"/><circle cx="71.86" cy="471.33" r="1.01"/><circle cx="71.31" cy="472.13" r="0.95"/><circle cx="71.76" cy="471.47" r="0.94"/><ellipse cx="75.5" cy="469.3" rx="1.05" ry="1.05"/><circle cx="76.23" cy="469.35" r="0.88"/><circle cx="75.58" cy="468.9" r="0.95"/><circle cx="74.8" cy="469.54" r="0.97"/><circle cx="75.93" cy="468.39" r="0.82"/><ellipse cx="80.9" cy="469.3" rx="1.35" ry="1.35"/><circle cx="79.92" cy="469.45" r="1.31"/><circle cx="81.57" cy="470.27" r="1.33"/><circle cx="81.11" cy="468.92" r="1.17"/><circle cx="81.75" cy="468.5" r="1.11"/><circle cx="80.52" cy="469.5" r="1.25"/><circle cx="81.02" cy="469.7" r="1.05"/><circle cx="82" cy="469.22" r="1.18"/><circle cx="80.37" cy="469.87" r="1.1"/><ellipse cx="87.2" cy="466.1" rx="0.9" ry="0.9"/><circle cx="86.32" cy="466.34" r="0.75"/><circle cx="86.52" cy="466.13" r="0.78"/><circle cx="87.55" cy="465.74" r="0.84"/><ellipse cx="89.1" cy="470.6" rx="0.9" ry="0.9"/><circle cx="89.26" cy="469.8" r="0.81"/><circle cx="89.81" cy="470.43" r="0.83"/><circle cx="88.31" cy="470.11" r="0.79"/><ellipse cx="87.2" cy="461.7" rx="0.9" ry="0.9"/><ellipse cx="91.7" cy="461" rx="0.9" ry="0.9"/><ellipse cx="75" cy="440" rx="0.9" ry="0.9"/><ellipse cx="97" cy="450" rx="0.68" ry="0.68"/><ellipse cx="60" cy="480" rx="0.68" ry="0.68"/></g>
<rect x="28" y="438.3" width="80.6" height="59.9" fill="none" stroke="#555" stroke-width="1"/>
<rect x="93.9" y="494.8" width="13" height="2.2" fill="#f05a14"/>
<text x="100.4" y="494.1" text-anchor="middle" fill="#f05a14" font-size="2.6" style="stroke:none">100 μm</text>
<rect x="115.5" y="437.8" width="81.1" height="60.9" fill="url(#g49)"/>
<rect x="115.5" y="437.8" width="81.1" height="60.9" fill="#000" filter="url(#f50)"/>
<g fill="#5a4536" fill-opacity="0.75"><circle cx="161.24" cy="486.98" r="0.65"/><circle cx="184.24" cy="487.22" r="0.73"/><circle cx="167.05" cy="487.2" r="0.66"/><circle cx="180.91" cy="490.37" r="0.69"/><circle cx="150.28" cy="475.82" r="0.58"/><circle cx="148.29" cy="464.68" r="0.53"/><circle cx="141.15" cy="464.48" r="0.44"/><circle cx="153.54" cy="441.69" r="0.67"/><circle cx="151.62" cy="466.69" r="0.7"/><circle cx="130.73" cy="479.19" r="0.47"/><circle cx="162.14" cy="482.29" r="0.73"/><circle cx="163.05" cy="472.42" r="0.58"/><circle cx="157.4" cy="473.5" r="0.37"/><circle cx="118.24" cy="495.17" r="0.62"/><circle cx="143.18" cy="482.52" r="0.57"/><circle cx="182.91" cy="441.19" r="0.38"/><circle cx="136.39" cy="458.34" r="0.7"/><circle cx="125.37" cy="465.37" r="0.6"/><circle cx="156.2" cy="488.25" r="0.74"/><circle cx="192.22" cy="454.33" r="0.37"/><circle cx="145.81" cy="481.54" r="0.54"/><circle cx="121.92" cy="446.74" r="0.38"/><circle cx="152.06" cy="475.72" r="0.62"/><circle cx="164.93" cy="461.54" r="0.65"/><circle cx="142.76" cy="464.88" r="0.62"/><circle cx="186.1" cy="481.93" r="0.75"/><circle cx="132.17" cy="464.42" r="0.63"/><circle cx="164.2" cy="479.59" r="0.59"/><circle cx="123.65" cy="470.84" r="0.42"/><circle cx="166.65" cy="484.02" r="0.56"/><circle cx="147.49" cy="457.78" r="0.48"/><circle cx="178.24" cy="481.03" r="0.41"/><circle cx="144.56" cy="476.26" r="0.47"/><circle cx="162.16" cy="446.35" r="0.5"/><circle cx="157.1" cy="482.06" r="0.37"/><circle cx="160.76" cy="493.47" r="0.41"/><circle cx="152.6" cy="475.36" r="0.58"/><circle cx="194.91" cy="488.5" r="0.7"/><circle cx="149.71" cy="474.98" r="0.61"/><circle cx="159.37" cy="456.52" r="0.39"/></g>
<g fill="#44342a" fill-opacity="0.8" filter="url(#bs)"><ellipse cx="133.8" cy="461.9" rx="1.2" ry="1.2"/><circle cx="134.36" cy="462.44" r="1.05"/><circle cx="134.77" cy="461.46" r="0.92"/><circle cx="134.28" cy="462.3" r="1.23"/><circle cx="133.38" cy="460.89" r="0.92"/><circle cx="134.91" cy="462.03" r="1"/><circle cx="133.61" cy="462.64" r="0.91"/><ellipse cx="150.4" cy="465.5" rx="1.5" ry="1.5"/><circle cx="148.96" cy="465.13" r="1.26"/><circle cx="150.79" cy="466.49" r="1.35"/><circle cx="149.7" cy="464.56" r="1.34"/><circle cx="149.88" cy="465.79" r="1.49"/><circle cx="151.32" cy="464.5" r="1.25"/><circle cx="150.23" cy="466.51" r="1.24"/><circle cx="149.11" cy="466.35" r="1.38"/><circle cx="151.1" cy="465.82" r="1.26"/><circle cx="149.74" cy="466.26" r="1.22"/><circle cx="151.69" cy="466.08" r="1.11"/><ellipse cx="149.1" cy="475.9" rx="1.05" ry="1.05"/><circle cx="148.23" cy="476.18" r="1.06"/><circle cx="148.83" cy="475.17" r="0.96"/><circle cx="149.96" cy="475.66" r="0.84"/><circle cx="148.9" cy="474.98" r="0.9"/><ellipse cx="158" cy="483" rx="1.2" ry="1.2"/><circle cx="158.22" cy="481.83" r="1.21"/><circle cx="158.59" cy="482.63" r="0.92"/><circle cx="158.57" cy="483.01" r="1.03"/><circle cx="157.91" cy="484.19" r="0.93"/><circle cx="158.05" cy="482.03" r="1.1"/><circle cx="158.58" cy="483.04" r="1.13"/><ellipse cx="139.9" cy="442.6" rx="0.9" ry="0.9"/><ellipse cx="140.6" cy="447" rx="0.9" ry="0.9"/><ellipse cx="145" cy="469.3" rx="0.9" ry="0.9"/><ellipse cx="166" cy="478" rx="0.68" ry="0.68"/><ellipse cx="132" cy="440" rx="0.68" ry="0.68"/></g>
<rect x="116" y="438.3" width="80.1" height="59.9" fill="none" stroke="#555" stroke-width="1"/>
<rect x="181.4" y="494.8" width="13" height="2.2" fill="#f05a14"/>
<text x="187.9" y="494.1" text-anchor="middle" fill="#f05a14" font-size="2.6" style="stroke:none">100 μm</text>
<rect x="203.5" y="437.8" width="81.3" height="60.9" fill="url(#g51)"/>
<rect x="203.5" y="437.8" width="81.3" height="60.9" fill="#000" filter="url(#f52)"/>
<g fill="#5a4536" fill-opacity="0.75"><circle cx="249.28" cy="477.62" r="0.42"/><circle cx="253.79" cy="446.43" r="0.69"/><circle cx="251.9" cy="473.29" r="0.61"/><circle cx="233.47" cy="485.7" r="0.62"/><circle cx="269.53" cy="469.94" r="0.66"/><circle cx="276.47" cy="454.46" r="0.6"/><circle cx="271.89" cy="470.84" r="0.69"/><circle cx="274.21" cy="474.44" r="0.59"/><circle cx="263.01" cy="467.01" r="0.54"/><circle cx="266.91" cy="496.46" r="0.66"/><circle cx="246.35" cy="473.99" r="0.46"/><circle cx="260.12" cy="448.1" r="0.37"/><circle cx="227.83" cy="445.95" r="0.44"/><circle cx="236.39" cy="483.05" r="0.37"/><circle cx="234.69" cy="442.2" r="0.62"/><circle cx="214.71" cy="439.3" r="0.55"/><circle cx="247.09" cy="481.32" r="0.35"/><circle cx="232.12" cy="444.86" r="0.39"/><circle cx="248.88" cy="486.94" r="0.48"/><circle cx="281.76" cy="481.52" r="0.72"/><circle cx="240.93" cy="452.63" r="0.38"/><circle cx="227.86" cy="481.09" r="0.37"/><circle cx="237.54" cy="447.83" r="0.37"/><circle cx="240.11" cy="451.49" r="0.47"/><circle cx="269.29" cy="471.78" r="0.58"/><circle cx="275.51" cy="485.85" r="0.63"/><circle cx="247.28" cy="483.31" r="0.47"/><circle cx="249.13" cy="483.7" r="0.36"/><circle cx="270.17" cy="472.94" r="0.66"/><circle cx="211.64" cy="465.19" r="0.65"/><circle cx="263.34" cy="470.69" r="0.72"/><circle cx="225.99" cy="467.39" r="0.71"/><circle cx="241.76" cy="448.08" r="0.58"/><circle cx="226.23" cy="453.46" r="0.39"/><circle cx="267.11" cy="466.25" r="0.36"/><circle cx="225.99" cy="472.79" r="0.61"/><circle cx="229.87" cy="449.19" r="0.45"/><circle cx="256.48" cy="474.31" r="0.55"/><circle cx="248.16" cy="458.36" r="0.74"/><circle cx="206.62" cy="490.86" r="0.58"/><circle cx="272.17" cy="463.42" r="0.52"/><circle cx="261.56" cy="468.95" r="0.37"/><circle cx="228.67" cy="452.01" r="0.66"/><circle cx="275.74" cy="444.97" r="0.66"/><circle cx="282.47" cy="471.6" r="0.51"/><circle cx="235.79" cy="446.73" r="0.57"/><circle cx="241.97" cy="456.3" r="0.67"/><circle cx="275.54" cy="474.82" r="0.5"/><circle cx="256.67" cy="477.88" r="0.58"/><circle cx="246.07" cy="470.73" r="0.69"/><circle cx="271.86" cy="470.44" r="0.59"/><circle cx="224.1" cy="447.76" r="0.52"/><circle cx="234.5" cy="455.09" r="0.57"/><circle cx="275.33" cy="463.68" r="0.63"/><circle cx="275.17" cy="473.18" r="0.55"/><circle cx="252.75" cy="452.58" r="0.42"/><circle cx="253.43" cy="485.2" r="0.54"/><circle cx="222.83" cy="494.86" r="0.6"/><circle cx="250.08" cy="472.86" r="0.45"/><circle cx="274.34" cy="459.99" r="0.54"/><circle cx="215.25" cy="444.96" r="0.52"/><circle cx="282.03" cy="472.02" r="0.62"/><circle cx="225.97" cy="473.56" r="0.73"/><circle cx="272.51" cy="477.74" r="0.63"/><circle cx="282.93" cy="465.44" r="0.64"/><circle cx="245.31" cy="484.9" r="0.47"/><circle cx="236.46" cy="461.07" r="0.71"/><circle cx="212.35" cy="449.82" r="0.47"/></g>
<g fill="#44342a" fill-opacity="0.8" filter="url(#bs)"><ellipse cx="236.2" cy="446.5" rx="2.7" ry="2.4"/><circle cx="235.02" cy="447.99" r="2.17"/><circle cx="238.82" cy="446.63" r="1.94"/><circle cx="235.71" cy="445.81" r="1.73"/><circle cx="238.23" cy="444.91" r="2.23"/><circle cx="236.66" cy="448.78" r="2.02"/><circle cx="238.73" cy="446.41" r="1.61"/><circle cx="235.78" cy="446.25" r="1.64"/><circle cx="237.32" cy="445.46" r="1.85"/><circle cx="236.64" cy="446.11" r="1.71"/><circle cx="236" cy="448.87" r="1.92"/><circle cx="237.35" cy="448.74" r="2.25"/><circle cx="233.92" cy="445.92" r="1.98"/><circle cx="236.6" cy="448.67" r="1.74"/><circle cx="235.85" cy="446.87" r="1.86"/><circle cx="236.34" cy="446.94" r="2.01"/><circle cx="233.88" cy="446.31" r="2.11"/><circle cx="237.54" cy="447.6" r="1.99"/><circle cx="236.26" cy="446.22" r="2.03"/><circle cx="235.24" cy="445.64" r="1.82"/><circle cx="235.2" cy="446.65" r="1.98"/><circle cx="236.75" cy="445.71" r="2.02"/><circle cx="237.73" cy="446.17" r="1.82"/><circle cx="238.93" cy="446.51" r="2.24"/><circle cx="237.26" cy="446.15" r="1.59"/><circle cx="236.98" cy="444.66" r="2.18"/><circle cx="234.99" cy="448.49" r="1.62"/><circle cx="237.29" cy="444.46" r="1.64"/><circle cx="237.99" cy="447.75" r="1.78"/><ellipse cx="235.5" cy="451" rx="1.5" ry="1.5"/><circle cx="235.91" cy="451.37" r="1.05"/><circle cx="235.8" cy="450.86" r="1.23"/><circle cx="235.28" cy="452.11" r="1.27"/><circle cx="235.57" cy="452.29" r="1.22"/><circle cx="236.43" cy="451.94" r="1.32"/><circle cx="235.23" cy="449.48" r="1.16"/><circle cx="236.26" cy="451.22" r="1.43"/><circle cx="235.83" cy="451.16" r="1.13"/><circle cx="235.17" cy="451.59" r="1.07"/><circle cx="236.56" cy="451.16" r="1.13"/><ellipse cx="243" cy="478.2" rx="2.1" ry="1.8"/><circle cx="243.33" cy="477.82" r="1.74"/><circle cx="244.25" cy="478.79" r="1.22"/><circle cx="241.62" cy="479.3" r="1.7"/><circle cx="243.6" cy="477.19" r="1.3"/><circle cx="243.95" cy="477" r="1.34"/><circle cx="241.6" cy="478.43" r="1.29"/><circle cx="244.39" cy="478.63" r="1.27"/><circle cx="242.1" cy="478.32" r="1.7"/><circle cx="240.88" cy="478.19" r="1.36"/><circle cx="241.35" cy="478.13" r="1.24"/><circle cx="243.77" cy="479.88" r="1.73"/><circle cx="243.95" cy="478.24" r="1.33"/><circle cx="241.38" cy="477.25" r="1.34"/><circle cx="242.02" cy="478.94" r="1.28"/><circle cx="241.96" cy="477.75" r="1.49"/><circle cx="243.64" cy="478.99" r="1.41"/><ellipse cx="249.5" cy="478.5" rx="1.5" ry="1.5"/><circle cx="248.52" cy="477.52" r="1.25"/><circle cx="248.18" cy="478.33" r="1.1"/><circle cx="250.33" cy="478" r="1.24"/><circle cx="248.5" cy="477.79" r="1.19"/><circle cx="249.25" cy="477.52" r="1.23"/><circle cx="250.92" cy="477.93" r="1.29"/><circle cx="250.07" cy="478.41" r="1.15"/><circle cx="248.65" cy="477.77" r="1.12"/><circle cx="249.54" cy="479.38" r="1.18"/><circle cx="250.23" cy="477.56" r="1.5"/><ellipse cx="265.4" cy="470" rx="1.5" ry="1.5"/><circle cx="266.18" cy="469.69" r="1.17"/><circle cx="266.37" cy="469.26" r="1.43"/><circle cx="266.51" cy="471.05" r="1.1"/><circle cx="264.64" cy="470.96" r="1.28"/><circle cx="265.03" cy="468.5" r="1.25"/><circle cx="264.01" cy="469.45" r="1.43"/><circle cx="266.07" cy="470.48" r="1.5"/><circle cx="266.69" cy="469.48" r="1.17"/><circle cx="265.15" cy="469.01" r="1.29"/><circle cx="266.12" cy="469.02" r="1.48"/><ellipse cx="281.3" cy="466.7" rx="0.9" ry="1.2"/><circle cx="281.78" cy="467.45" r="0.94"/><circle cx="281.6" cy="466.72" r="0.99"/><circle cx="281.75" cy="466.99" r="0.83"/><circle cx="280.93" cy="466.52" r="0.89"/><ellipse cx="273" cy="464.2" rx="0.9" ry="0.9"/><circle cx="272.28" cy="464.15" r="0.74"/><circle cx="273.59" cy="464.16" r="0.75"/><circle cx="273.15" cy="463.92" r="0.78"/><ellipse cx="245.1" cy="457.9" rx="0.9" ry="0.9"/><circle cx="245" cy="457.53" r="0.99"/><circle cx="245.01" cy="457.32" r="0.85"/><circle cx="245.96" cy="458.25" r="0.98"/><ellipse cx="247.2" cy="448.3" rx="0.75" ry="0.75"/><circle cx="247.26" cy="448.5" r="0.81"/><circle cx="246.97" cy="448.96" r="0.68"/><ellipse cx="241.9" cy="468" rx="0.75" ry="0.75"/><circle cx="242.04" cy="468.65" r="0.84"/><circle cx="242.22" cy="467.63" r="0.87"/><ellipse cx="229.2" cy="484.5" rx="0.75" ry="0.75"/><circle cx="228.95" cy="484.85" r="0.74"/><circle cx="229.77" cy="484.37" r="0.69"/><ellipse cx="222" cy="442" rx="0.9" ry="0.9"/></g>
<rect x="204" y="438.3" width="80.3" height="59.9" fill="none" stroke="#555" stroke-width="1"/>
<rect x="269.6" y="494.8" width="13" height="2.2" fill="#f05a14"/>
<text x="276.1" y="494.1" text-anchor="middle" fill="#f05a14" font-size="2.6" style="stroke:none">100 μm</text>
<rect x="27.6" y="502.2" width="81.2" height="64.2" fill="#fff"/>
<g transform="rotate(-35 83.8 533.4)" filter="url(#fb)"><ellipse cx="83.8" cy="533.4" rx="7" ry="5" fill="#2b3cf5" fill-opacity="0.8"/><ellipse cx="83.8" cy="533.4" rx="5.95" ry="4.25" fill="#1a8cff" fill-opacity="0.9"/><ellipse cx="83.8" cy="533.4" rx="5.04" ry="3.6" fill="#18d0c8" fill-opacity="0.95"/><ellipse cx="83.8" cy="533.4" rx="4.06" ry="2.9" fill="#38c838" fill-opacity="1"/><ellipse cx="83.8" cy="533.4" rx="2.1" ry="1.5" fill="#e8d81c" fill-opacity="1"/><ellipse cx="83.8" cy="533.4" rx="1.05" ry="0.75" fill="#ff5020" fill-opacity="1"/></g>
<path d="M85.59 533.52h0.6M82.44 532.82h0.6M85.01 531.67h0.6M87.3 532.59h0.6M83.36 534.27h0.6M82.22 537.13h0.6M85.75 537.73h0.6M81.08 538.56h0.6M81.91 535.38h0.6M77.42 537.67h0.6M77.28 536.45h0.6M84.58 534.39h0.6M86.18 535.01h0.6M85.52 531.1h0.6M83.83 532.55h0.6M83.92 537.49h0.6M84.58 528.91h0.6M86.05 535.43h0.6M83.52 538.11h0.6M77.65 534.09h0.6M85.46 525.65h0.6M70.32 540.53h0.6M80.96 539.97h0.6M88 534.67h0.6M87.06 530.48h0.6M78.2 539.52h0.6M85.49 529.28h0.6M80.29 537.6h0.6M87.91 532.2h0.6M80.87 538.44h0.6M87.33 532.73h0.6M85.72 534.59h0.6M89.69 530.91h0.6M80.67 532.92h0.6M83.82 534.07h0.6M71.91 536.03h0.6M82.75 532.31h0.6M85.81 532.62h0.6M87.57 533.18h0.6M81.57 534.85h0.6M85.91 531.87h0.6M82.11 534.8h0.6M92.71 530.9h0.6M88.45 531.17h0.6M85.12 533.65h0.6M83.39 534.15h0.6M84.27 530.78h0.6M86.09 533.22h0.6M78.32 536.54h0.6M80.87 534.64h0.6M83.56 532.67h0.6M76.96 537.76h0.6M83.65 534.09h0.6M89.13 531.41h0.6M85.1 536.78h0.6M89.02 534.64h0.6M84.87 533.6h0.6M83.97 537.23h0.6M85.04 531.82h0.6M83.63 531.12h0.6M51.94 542.25h0.6M65.95 543.21h0.6M62.05 540.34h0.6M58.2 536.28h0.6M85.97 535.43h0.6M66.12 534.01h0.6M69.19 531.39h0.6M68.08 537.56h0.6M55.58 540.32h0.6M62.62 536.69h0.6M70.65 539.34h0.6M66.77 537.55h0.6M76.57 534.1h0.6M62.51 539.79h0.6M56.06 541.34h0.6M73.58 537.29h0.6M84.99 529.63h0.6M62.46 535.27h0.6M66.71 536.87h0.6M62.11 533.34h0.6M70.14 539.51h0.6M51.25 544.17h0.6M59.4 537.85h0.6M69.36 533.4h0.6M66.66 534.44h0.6M60.72 541.61h0.6M72.98 541.27h0.6M60 536.24h0.6M54.06 537.24h0.6M69.71 536.5h0.6M80.42 538.67h0.6M78.54 533.06h0.6M43.01 540.78h0.6M67.99 536.33h0.6M59.31 533.38h0.6M62.43 544.8h0.6M73.95 533.87h0.6M54.56 542.53h0.6M69.64 532.28h0.6M75.41 535.4h0.6M62.72 540.26h0.6M62.66 534.21h0.6M41.98 536.2h0.6M74.41 531.39h0.6M59.94 537.2h0.6M57.06 539.59h0.6M38.55 545.29h0.6M50 538.84h0.6M57.37 537.43h0.6M74.11 532.44h0.6M59.27 542.2h0.6M56.07 533.67h0.6M68.38 537.86h0.6M60.26 536.87h0.6M75.86 541.53h0.6M60.63 537.74h0.6M73.68 534.43h0.6M67.27 537.63h0.6M74.66 541.85h0.6M56.68 534.98h0.6M57.27 534.94h0.6M60.77 542.07h0.6M51.37 542.91h0.6M55.26 544.52h0.6M66.67 541.41h0.6M61.24 538.46h0.6M75.73 538.32h0.6M69.88 540.25h0.6M75.37 532.97h0.6M58.11 535.6h0.6" stroke="#3340f0" stroke-width="0.6" stroke-opacity="0.6"/>
<line x1="78.9" y1="502.2" x2="78.9" y2="566.4" stroke="#707070" stroke-width="1"/>
<line x1="27.6" y1="522.1" x2="108.8" y2="522.1" stroke="#707070" stroke-width="1"/>
<rect x="28.1" y="502.7" width="80.2" height="63.2" fill="none" stroke="#cfcfcf" stroke-width="0.8"/>
<text x="106.6" y="563.2" text-anchor="end">96.3</text>
<rect x="115.8" y="502.2" width="80.7" height="64.2" fill="#fff"/>
<g transform="rotate(-35 171.4 531)" filter="url(#fb)"><ellipse cx="171.4" cy="531" rx="7" ry="5" fill="#2b3cf5" fill-opacity="0.8"/><ellipse cx="171.4" cy="531" rx="5.95" ry="4.25" fill="#1a8cff" fill-opacity="0.9"/><ellipse cx="171.4" cy="531" rx="5.04" ry="3.6" fill="#18d0c8" fill-opacity="0.95"/><ellipse cx="171.4" cy="531" rx="4.06" ry="2.9" fill="#38c838" fill-opacity="1"/><ellipse cx="171.4" cy="531" rx="2.1" ry="1.5" fill="#e8d81c" fill-opacity="1"/><ellipse cx="171.4" cy="531" rx="1.05" ry="0.75" fill="#ff5020" fill-opacity="1"/></g>
<path d="M173.24 531.73h0.6M173.26 530.83h0.6M170.1 527.96h0.6M163.42 535.28h0.6M162.38 536.43h0.6M168.31 531.73h0.6M165.84 532.36h0.6M167.29 532.61h0.6M169.13 530.74h0.6M169.09 534.17h0.6M169.73 533.73h0.6M170.12 528.11h0.6M175.14 530.72h0.6M175.07 531.86h0.6M165.84 535.33h0.6M170.51 527.31h0.6M168.63 530.54h0.6M174.39 532.28h0.6M161.74 533.91h0.6M171.9 530.16h0.6M164.66 536.17h0.6M160.92 538.71h0.6M174.12 530.68h0.6M175.37 524.71h0.6M166.96 533.07h0.6M167.06 531.86h0.6M168.79 530.21h0.6M171.9 534.52h0.6M170.62 528.78h0.6M165.66 531.77h0.6M169.57 532.12h0.6M164.33 537.92h0.6M163.02 534.28h0.6M171.06 531.4h0.6M169.36 529.26h0.6M172.81 530.97h0.6M165.56 533.79h0.6M172.57 529.27h0.6M170.96 529.04h0.6M180.3 525.64h0.6M173.88 534.62h0.6M172.74 532.5h0.6M173.21 528.97h0.6M170.39 531.89h0.6M177.89 528.62h0.6M173.56 530.13h0.6M167.93 536.49h0.6M175.15 531.14h0.6M171.46 532.83h0.6M170.12 530.04h0.6M166.84 533.68h0.6M140.39 536.4h0.6M153.7 545.36h0.6M173.13 534.66h0.6M138.71 538.69h0.6M142.46 537.97h0.6M156.68 538.85h0.6M146.51 535.79h0.6M156.36 531.02h0.6M156.34 536.42h0.6M159.08 532.07h0.6M160.21 538.52h0.6M137.06 538.33h0.6M129.14 542.73h0.6M172.81 533.51h0.6M149.4 534.28h0.6M156.48 537.26h0.6M147.73 532.94h0.6M147.91 537.55h0.6M161.3 537.51h0.6M158.51 537.51h0.6M159.06 536h0.6M134.89 538.42h0.6M160.41 535.57h0.6M148.54 539.82h0.6M151.66 537.14h0.6M154.94 538.93h0.6M157.21 533.67h0.6M145.74 532.78h0.6M148.31 534.27h0.6M147.2 541.85h0.6M146.56 540.37h0.6M149.6 538.33h0.6M144 536.47h0.6M160.44 536.48h0.6M162.84 536.44h0.6M126.64 539.22h0.6M159.58 539.16h0.6M153.92 534.12h0.6M139.36 540.87h0.6M160.3 537.78h0.6M170.09 529.05h0.6M153.37 536.42h0.6M144.06 533.63h0.6M149.09 539.93h0.6M147.89 534.95h0.6M159.52 533.95h0.6M162.31 530.93h0.6M140.12 543h0.6M164.97 531.16h0.6M151.01 538.89h0.6M137.96 536.54h0.6M146.41 536.48h0.6M143.12 534.29h0.6M140.06 542.76h0.6" stroke="#3340f0" stroke-width="0.6" stroke-opacity="0.6"/>
<line x1="166.8" y1="502.2" x2="166.8" y2="566.4" stroke="#707070" stroke-width="1"/>
<line x1="115.8" y1="522.1" x2="196.5" y2="522.1" stroke="#707070" stroke-width="1"/>
<rect x="116.3" y="502.7" width="79.7" height="63.2" fill="none" stroke="#cfcfcf" stroke-width="0.8"/>
<text x="194.3" y="563.2" text-anchor="end">86.5</text>
<rect x="204" y="502.2" width="81" height="64.2" fill="#fff"/>
<g transform="rotate(-35 259.8 532.3)" filter="url(#fb)"><ellipse cx="259.8" cy="532.3" rx="6.5" ry="4.6" fill="#2b3cf5" fill-opacity="0.8"/><ellipse cx="259.8" cy="532.3" rx="5.52" ry="3.91" fill="#1a8cff" fill-opacity="0.9"/><ellipse cx="259.8" cy="532.3" rx="4.68" ry="3.31" fill="#18d0c8" fill-opacity="0.95"/><ellipse cx="259.8" cy="532.3" rx="3.77" ry="2.67" fill="#38c838" fill-opacity="1"/><ellipse cx="259.8" cy="532.3" rx="1.95" ry="1.38" fill="#e8d81c" fill-opacity="1"/><ellipse cx="259.8" cy="532.3" rx="0.97" ry="0.69" fill="#ff5020" fill-opacity="1"/></g>
<path d="M258.5 529.09h0.6M255.76 534.77h0.6M253.31 528.62h0.6M250.99 537.85h0.6M262.77 531.92h0.6M259.4 535.37h0.6M251.97 531.97h0.6M250.02 535.24h0.6M257.03 534.57h0.6M251.81 536.22h0.6M257.71 532.42h0.6M258.03 534.98h0.6M250.17 536.85h0.6M257.84 533.85h0.6M264.47 527.44h0.6M258.15 532.22h0.6M257.83 534.68h0.6M259.78 531.65h0.6M259.97 533.58h0.6M258.68 531.08h0.6M261.41 531.49h0.6M256.47 532.2h0.6M255.91 538.81h0.6M260.98 531.85h0.6M257.2 534.03h0.6M259.34 534.9h0.6M252.83 534.49h0.6M256.63 534.75h0.6M254.52 533.48h0.6M251.94 541.05h0.6M257.4 532.99h0.6M268.2 527.35h0.6M249.4 540.85h0.6M265.08 533.91h0.6M261.9 536.07h0.6M253.56 528.79h0.6M256.12 537.29h0.6M259.96 531.77h0.6M260.02 535.28h0.6M258.89 533.31h0.6M261.68 531.86h0.6M255.37 531.63h0.6M257.27 532.91h0.6M262.15 533.44h0.6M258.36 533.21h0.6M263.38 532.41h0.6M262.54 530.54h0.6M260.63 532.08h0.6M255.03 529.93h0.6M259.22 535.35h0.6M254.14 534.98h0.6M242.45 531.07h0.6M243.61 532.77h0.6M236.32 533h0.6M238.91 535.59h0.6M228.67 540.04h0.6M243.26 540.99h0.6M252.32 534.67h0.6M255.46 531.43h0.6M221.77 539.32h0.6M237.86 532.13h0.6M227.6 544.52h0.6M231.37 536.04h0.6M238.02 538.43h0.6M246.96 540.32h0.6M225.21 537.37h0.6M232.65 538.96h0.6M234.85 536.22h0.6M255.79 532.12h0.6M238.35 541.21h0.6M255.26 525.09h0.6M235.65 529.11h0.6M245.33 531.7h0.6M232.27 540.03h0.6M254.67 535.49h0.6M225.35 536.66h0.6M227.28 548.23h0.6M241.07 530.76h0.6M245.27 544.93h0.6M236.24 531.69h0.6M244.3 538.16h0.6M249.41 543.37h0.6M227.45 540.87h0.6M235.45 530.13h0.6M240.38 538.98h0.6M247.36 534.51h0.6M252.04 534.19h0.6M250.39 534.96h0.6M243.05 531.63h0.6M244.57 536.81h0.6M254.4 535.41h0.6M231.93 542.43h0.6M247.75 537.36h0.6M233.62 536.3h0.6M239.33 533.47h0.6M242.07 529.9h0.6M228.69 541.76h0.6M229.17 545.93h0.6M241.56 532.7h0.6M250.29 529.83h0.6M252.34 529.25h0.6M252.74 531.41h0.6M232.88 543.21h0.6M252.92 531.79h0.6M239.12 531.02h0.6M238.68 538.99h0.6M237.67 535.04h0.6M225.67 541.26h0.6M234.19 540.39h0.6M255.05 532.47h0.6M235.66 536.46h0.6M241.93 532.06h0.6M236.79 526.94h0.6M245.47 532.84h0.6M255.33 530.95h0.6M243.35 536.86h0.6M242.18 541.43h0.6M241.06 536.21h0.6M245.52 534.88h0.6M248.19 530.78h0.6M247.53 527.84h0.6M238.76 532.8h0.6M235.29 536.88h0.6M241.83 536.91h0.6M227.75 545.22h0.6M241.32 534.67h0.6M236.12 540.75h0.6M230.17 537.43h0.6M245.45 533.05h0.6M232.82 533.05h0.6M247.7 535.22h0.6M252.2 538.03h0.6M255.03 527.04h0.6M248.64 530.39h0.6M231.2 533.8h0.6M238.54 541.15h0.6M247.94 537.71h0.6M225.32 546.73h0.6M244.92 540.1h0.6M245.3 535.94h0.6M228.7 537.83h0.6M212.53 539.44h0.6M228.14 539.37h0.6M245.73 533.81h0.6M242.66 533.7h0.6M254.38 529.03h0.6M245.83 527.3h0.6M246.03 535.75h0.6M238.8 537.32h0.6M247.29 533.69h0.6M243.79 542.26h0.6M257.44 538.37h0.6M234.61 541.43h0.6M244.01 534.27h0.6M241.71 540.09h0.6M239.82 533.08h0.6M235.99 538.41h0.6M233.17 535.31h0.6M241.34 535.75h0.6M219.57 536.49h0.6M242.47 538.94h0.6M242.79 533.56h0.6M231.75 537.57h0.6M246.37 538.43h0.6M246.23 529.67h0.6M242.05 541.51h0.6M247.85 534.87h0.6M241.3 533.93h0.6M241.72 538.15h0.6M229.21 535.4h0.6M238.83 531.2h0.6M236.78 535.35h0.6M241.5 538.29h0.6M246.38 535.01h0.6M247.72 531.67h0.6M248.69 531.33h0.6M257.31 530.85h0.6M242.49 534.62h0.6M240.91 535.3h0.6M234.28 534.81h0.6" stroke="#3340f0" stroke-width="0.6" stroke-opacity="0.6"/>
<line x1="255.5" y1="502.2" x2="255.5" y2="566.4" stroke="#707070" stroke-width="1"/>
<line x1="204" y1="522.1" x2="285" y2="522.1" stroke="#707070" stroke-width="1"/>
<rect x="204.5" y="502.7" width="80" height="63.2" fill="none" stroke="#cfcfcf" stroke-width="0.8"/>
<text x="282.8" y="563.2" text-anchor="end">93.3</text>
<text x="251.3" y="587.3" font-weight="bold" fill="#1a1413" font-size="13">O</text>
<text x="405.9" y="588.6" text-anchor="middle">MDA-MB-231<tspan font-size="4.5" font-style="italic" dy="-2.5" style="stroke-width:0.1px">CYP4Z1</tspan></text>
<line x1="267.2" y1="590.6" x2="526.7" y2="590.6" stroke="#3a3433" stroke-width="0.9"/>
<text x="299.2" y="598.8" text-anchor="middle">Solvent</text>
<text x="364.2" y="598.8" text-anchor="middle">Fluv.</text>
<text x="429.7" y="598.8" text-anchor="middle">A922500</text>
<text x="495.1" y="598.8" text-anchor="middle">A922500 + Fluv.</text>
<text x="265.4" y="624.2" text-anchor="middle" transform="rotate(-90 265.4 624.2)">Migration</text>
<text x="265.4" y="674.8" text-anchor="middle" transform="rotate(-90 265.4 674.8)">Invasion</text>
<rect x="267.2" y="600.2" width="63.5" height="47.9" fill="url(#g53)"/>
<rect x="267.2" y="600.2" width="63.5" height="47.9" fill="#000" filter="url(#f54)"/>
<rect x="267.7" y="600.7" width="62.5" height="46.9" fill="none" stroke="#3a3433" stroke-width="1"/>
<rect x="319.2" y="643.7" width="10" height="3.2" fill="#111"/>
<line x1="320.4" y1="645.3" x2="328" y2="645.3" stroke="#888" stroke-width="0.7"/>
<rect x="332.1" y="600.2" width="64.3" height="47.9" fill="url(#g55)"/>
<rect x="332.1" y="600.2" width="64.3" height="47.9" fill="#000" filter="url(#f56)"/>
<rect x="332.6" y="600.7" width="63.3" height="46.9" fill="none" stroke="#3a3433" stroke-width="1"/>
<rect x="384.9" y="643.7" width="10" height="3.2" fill="#111"/>
<line x1="386.1" y1="645.3" x2="393.7" y2="645.3" stroke="#888" stroke-width="0.7"/>
<rect x="398.2" y="600.2" width="63.5" height="47.9" fill="url(#g57)"/>
<rect x="398.2" y="600.2" width="63.5" height="47.9" fill="#000" filter="url(#f58)"/>
<rect x="398.7" y="600.7" width="62.5" height="46.9" fill="none" stroke="#3a3433" stroke-width="1"/>
<rect x="450.2" y="643.7" width="10" height="3.2" fill="#111"/>
<line x1="451.4" y1="645.3" x2="459" y2="645.3" stroke="#888" stroke-width="0.7"/>
<rect x="463.1" y="600.2" width="64" height="47.9" fill="url(#g59)"/>
<rect x="463.1" y="600.2" width="64" height="47.9" fill="#000" filter="url(#f60)"/>
<rect x="463.6" y="600.7" width="63" height="46.9" fill="none" stroke="#3a3433" stroke-width="1"/>
<rect x="515.6" y="643.7" width="10" height="3.2" fill="#111"/>
<line x1="516.8" y1="645.3" x2="524.4" y2="645.3" stroke="#888" stroke-width="0.7"/>
<rect x="267.2" y="649.7" width="63.5" height="48.4" fill="url(#g61)"/>
<rect x="267.2" y="649.7" width="63.5" height="48.4" fill="#000" filter="url(#f62)"/>
<rect x="267.7" y="650.2" width="62.5" height="47.4" fill="none" stroke="#3a3433" stroke-width="1"/>
<rect x="319.2" y="693.7" width="10" height="3.2" fill="#111"/>
<line x1="320.4" y1="695.3" x2="328" y2="695.3" stroke="#888" stroke-width="0.7"/>
<rect x="332.1" y="649.7" width="64.3" height="48.4" fill="url(#g63)"/>
<rect x="332.1" y="649.7" width="64.3" height="48.4" fill="#000" filter="url(#f64)"/>
<rect x="332.6" y="650.2" width="63.3" height="47.4" fill="none" stroke="#3a3433" stroke-width="1"/>
<rect x="384.9" y="693.7" width="10" height="3.2" fill="#111"/>
<line x1="386.1" y1="695.3" x2="393.7" y2="695.3" stroke="#888" stroke-width="0.7"/>
<rect x="398.2" y="649.7" width="63.5" height="48.4" fill="url(#g65)"/>
<rect x="398.2" y="649.7" width="63.5" height="48.4" fill="#000" filter="url(#f66)"/>
<rect x="398.7" y="650.2" width="62.5" height="47.4" fill="none" stroke="#3a3433" stroke-width="1"/>
<rect x="450.2" y="693.7" width="10" height="3.2" fill="#111"/>
<line x1="451.4" y1="695.3" x2="459" y2="695.3" stroke="#888" stroke-width="0.7"/>
<rect x="463.1" y="649.7" width="64" height="48.4" fill="url(#g67)"/>
<rect x="463.1" y="649.7" width="64" height="48.4" fill="#000" filter="url(#f68)"/>
<rect x="463.6" y="650.2" width="63" height="47.4" fill="none" stroke="#3a3433" stroke-width="1"/>
<rect x="515.6" y="693.7" width="10" height="3.2" fill="#111"/>
<line x1="516.8" y1="695.3" x2="524.4" y2="695.3" stroke="#888" stroke-width="0.7"/>
<text x="4.2" y="716.8" font-weight="bold" fill="#1a1413" font-size="13">Q</text>
<text x="159.4" y="720.5" text-anchor="middle">MDA-MB-231<tspan font-size="4.5" font-style="italic" dy="-2.5" style="stroke-width:0.1px">CYP4Z1</tspan></text>
<line x1="19.9" y1="722.7" x2="293" y2="722.7" stroke="#3a3433" stroke-width="0.9"/>
<text x="52.6" y="731.3" text-anchor="middle">Solvent</text>
<text x="121.5" y="731.3" text-anchor="middle">Fluv.</text>
<text x="190.2" y="731.3" text-anchor="middle">A922500</text>
<text x="258.7" y="731.3" text-anchor="middle">A922500 + Fluv.</text>
<text x="18.1" y="761" text-anchor="middle" transform="rotate(-90 18.1 761)">Sphere formation</text>
<text x="18.4" y="830.8" text-anchor="middle" transform="rotate(-90 18.4 830.8)">CD24</text>
<path d="M16.4 845.7V858.8H28.4" stroke="#111" stroke-width="1" fill="none"/>
<path d="M16.4 843.7l-1.9 4.2h3.8z M30.4 858.8l-4.2 -1.9v3.8z" fill="#111"/>
<text x="34.6" y="860.9">CD44</text>
<rect x="20.5" y="735" width="66" height="49.6" fill="url(#g69)"/>
<rect x="20.5" y="735" width="66" height="49.6" fill="#000" filter="url(#f70)"/>
<g fill="#5a4536" fill-opacity="0.75"><circle cx="24.25" cy="744.37" r="0.38"/><circle cx="62.47" cy="758.65" r="0.52"/><circle cx="42.99" cy="765.94" r="0.6"/><circle cx="64.32" cy="767.28" r="0.69"/><circle cx="61.68" cy="775.19" r="0.44"/><circle cx="80.94" cy="761.65" r="0.59"/><circle cx="84.81" cy="762.29" r="0.58"/><circle cx="68.31" cy="771.6" r="0.71"/><circle cx="24.5" cy="739.95" r="0.39"/><circle cx="72.32" cy="765.91" r="0.61"/><circle cx="45.98" cy="766.92" r="0.63"/><circle cx="69.82" cy="761.07" r="0.69"/><circle cx="74.34" cy="762.68" r="0.44"/><circle cx="54.43" cy="746.22" r="0.59"/><circle cx="57.78" cy="762.01" r="0.59"/><circle cx="69.11" cy="753.05" r="0.52"/><circle cx="52.86" cy="761.95" r="0.36"/><circle cx="47.7" cy="757.94" r="0.36"/><circle cx="78.56" cy="770.14" r="0.59"/><circle cx="71.1" cy="766.76" r="0.6"/><circle cx="50.83" cy="770.22" r="0.44"/><circle cx="67.47" cy="769.6" r="0.49"/><circle cx="62.67" cy="779.94" r="0.38"/><circle cx="68.18" cy="765.07" r="0.52"/><circle cx="84.22" cy="755.87" r="0.67"/><circle cx="77.7" cy="746.06" r="0.49"/><circle cx="78.17" cy="754.68" r="0.45"/><circle cx="36.39" cy="740.06" r="0.57"/><circle cx="62.67" cy="758.7" r="0.62"/><circle cx="62.41" cy="763.28" r="0.39"/><circle cx="31.12" cy="738.99" r="0.67"/><circle cx="40.66" cy="759.61" r="0.7"/><circle cx="52.39" cy="762.6" r="0.56"/><circle cx="80.19" cy="775.54" r="0.42"/><circle cx="47.3" cy="768.08" r="0.67"/><circle cx="31.94" cy="742.48" r="0.66"/><circle cx="33.07" cy="764.32" r="0.39"/><circle cx="55.74" cy="772.02" r="0.57"/><circle cx="45.68" cy="778.73" r="0.53"/></g>
<g fill="#3a2a22" fill-opacity="0.8" filter="url(#bs)"><ellipse cx="22.1" cy="741.2" rx="0.9" ry="0.9"/><circle cx="22.36" cy="740.4" r="0.86"/><circle cx="22.13" cy="741.44" r="0.92"/><circle cx="22.58" cy="741.4" r="0.99"/><ellipse cx="63.4" cy="752" rx="0.9" ry="0.9"/><circle cx="63.16" cy="751.22" r="0.93"/><circle cx="63.34" cy="751.47" r="0.95"/><circle cx="63.86" cy="751.92" r="0.74"/><ellipse cx="64.6" cy="758.2" rx="0.75" ry="0.75"/><circle cx="63.85" cy="758.14" r="0.81"/><circle cx="63.9" cy="758.04" r="0.66"/><ellipse cx="38" cy="759.6" rx="0.75" ry="0.75"/><circle cx="37.61" cy="760.01" r="0.73"/><circle cx="38.2" cy="759.35" r="0.7"/><ellipse cx="41.5" cy="762.7" rx="0.9" ry="0.9"/><circle cx="41.83" cy="762.76" r="0.74"/><circle cx="42.01" cy="763.19" r="0.81"/><circle cx="40.8" cy="762.12" r="0.8"/><ellipse cx="52.3" cy="761.6" rx="1.05" ry="1.05"/><circle cx="52.37" cy="762.41" r="0.95"/><circle cx="52.37" cy="762.05" r="0.97"/><circle cx="52.71" cy="760.66" r="0.83"/><circle cx="51.97" cy="761.3" r="0.9"/><ellipse cx="47.6" cy="769.8" rx="0.9" ry="0.9"/><circle cx="47.95" cy="769.51" r="0.85"/><circle cx="47.32" cy="769.4" r="1"/><circle cx="47.6" cy="769.51" r="0.74"/><ellipse cx="32.3" cy="771.9" rx="0.75" ry="0.75"/><circle cx="32.22" cy="772.37" r="0.85"/><circle cx="31.81" cy="771.52" r="0.83"/><ellipse cx="70.7" cy="774.9" rx="1.35" ry="1.35"/><circle cx="71.24" cy="776.05" r="1.1"/><circle cx="69.72" cy="775.78" r="1.24"/><circle cx="70.43" cy="774.5" r="1.36"/><circle cx="70.68" cy="774.89" r="1.36"/><circle cx="70.59" cy="776.21" r="1.12"/><circle cx="70.23" cy="773.69" r="1.18"/><circle cx="71.49" cy="775.82" r="1.23"/><circle cx="70.5" cy="775.15" r="1.31"/><ellipse cx="71.5" cy="769.4" rx="0.9" ry="0.9"/><ellipse cx="81.8" cy="756.1" rx="1.05" ry="1.05"/><circle cx="82.2" cy="756.84" r="1.04"/><circle cx="82.24" cy="755.96" r="1"/><circle cx="81.03" cy="755.38" r="1.05"/><circle cx="81.74" cy="757.09" r="0.93"/><ellipse cx="84.4" cy="746.7" rx="0.9" ry="0.9"/><ellipse cx="44.2" cy="764.7" rx="0.68" ry="0.68"/><ellipse cx="33.3" cy="778.6" rx="0.68" ry="0.68"/></g>
<rect x="21" y="735.5" width="65" height="48.6" fill="none" stroke="#3a3433" stroke-width="1"/>
<rect x="73.3" y="780.7" width="11" height="2.2" fill="#2a2222"/>
<text x="78.8" y="780" text-anchor="middle" fill="#2a2222" font-size="2.6" style="stroke:none">100 μm</text>
<rect x="89.5" y="735" width="64.8" height="49.6" fill="url(#g71)"/>
<rect x="89.5" y="735" width="64.8" height="49.6" fill="#000" filter="url(#f72)"/>
<g fill="#5a4536" fill-opacity="0.75"><circle cx="129.77" cy="747.46" r="0.72"/><circle cx="113.39" cy="765.95" r="0.39"/><circle cx="116.88" cy="774.05" r="0.63"/><circle cx="132.1" cy="762.88" r="0.38"/><circle cx="125.07" cy="750.2" r="0.54"/><circle cx="108.83" cy="746" r="0.61"/><circle cx="116.75" cy="771.86" r="0.67"/><circle cx="109.36" cy="758.41" r="0.72"/><circle cx="110.35" cy="766.69" r="0.54"/><circle cx="118.54" cy="746.26" r="0.52"/><circle cx="120.77" cy="768.94" r="0.38"/><circle cx="120.76" cy="740.24" r="0.46"/><circle cx="117.54" cy="769.42" r="0.68"/><circle cx="111.89" cy="760.16" r="0.38"/><circle cx="132.98" cy="750.59" r="0.52"/><circle cx="98.33" cy="765.71" r="0.73"/><circle cx="107.32" cy="776.23" r="0.55"/><circle cx="102.87" cy="778.73" r="0.48"/><circle cx="133.36" cy="758.15" r="0.49"/><circle cx="116.19" cy="751.39" r="0.52"/><circle cx="129.63" cy="775.51" r="0.61"/><circle cx="92.56" cy="766.24" r="0.51"/><circle cx="128.79" cy="757.16" r="0.38"/><circle cx="108.13" cy="745.25" r="0.57"/><circle cx="117.16" cy="772.15" r="0.54"/></g>
<g fill="#3a2a22" fill-opacity="0.8" filter="url(#bs)"><ellipse cx="114.1" cy="774.9" rx="1.5" ry="0.9"/><circle cx="113.68" cy="775.06" r="0.92"/><circle cx="113.52" cy="775.37" r="0.99"/><circle cx="113.05" cy="774.6" r="0.76"/><circle cx="112.76" cy="774.73" r="0.8"/><circle cx="115.14" cy="774.65" r="0.84"/><circle cx="114.43" cy="775.57" r="0.8"/><ellipse cx="130" cy="755.5" rx="0.9" ry="0.9"/><circle cx="129.7" cy="754.94" r="0.87"/><circle cx="129.43" cy="756.09" r="0.92"/><circle cx="129.35" cy="755.37" r="0.79"/><ellipse cx="126.7" cy="749.4" rx="0.75" ry="1.05"/><circle cx="126.85" cy="748.64" r="0.69"/><circle cx="127.29" cy="749.39" r="0.78"/><circle cx="126.84" cy="749.31" r="0.79"/><ellipse cx="128" cy="746.3" rx="0.9" ry="0.9"/><ellipse cx="126.9" cy="740.6" rx="0.9" ry="0.9"/><ellipse cx="129.4" cy="740.2" rx="0.68" ry="0.68"/><ellipse cx="115.1" cy="766.7" rx="0.68" ry="0.68"/><ellipse cx="136.5" cy="767.8" rx="0.9" ry="0.9"/><ellipse cx="92.6" cy="744.7" rx="0.68" ry="0.68"/><ellipse cx="140.6" cy="750.4" rx="0.45" ry="0.45"/></g>
<rect x="90" y="735.5" width="63.8" height="48.6" fill="none" stroke="#3a3433" stroke-width="1"/>
<rect x="141.1" y="780.7" width="11" height="2.2" fill="#2a2222"/>
<text x="146.6" y="780" text-anchor="middle" fill="#2a2222" font-size="2.6" style="stroke:none">100 μm</text>
<rect x="158.1" y="735" width="65.5" height="49.6" fill="url(#g73)"/>
<rect x="158.1" y="735" width="65.5" height="49.6" fill="#000" filter="url(#f74)"/>
<g fill="#5a4536" fill-opacity="0.75"><circle cx="185.14" cy="748.02" r="0.65"/><circle cx="174.23" cy="759.39" r="0.6"/><circle cx="193.89" cy="779.16" r="0.47"/><circle cx="159.96" cy="747.39" r="0.68"/><circle cx="196.95" cy="744.61" r="0.67"/><circle cx="206.4" cy="754.59" r="0.7"/><circle cx="176.22" cy="745.58" r="0.5"/><circle cx="219.07" cy="747.3" r="0.47"/><circle cx="203.15" cy="780.76" r="0.63"/><circle cx="164.84" cy="748.54" r="0.55"/><circle cx="180.6" cy="743.01" r="0.69"/><circle cx="221.49" cy="754.69" r="0.37"/><circle cx="176.68" cy="768.03" r="0.45"/><circle cx="212.87" cy="750.84" r="0.63"/><circle cx="205.26" cy="781.91" r="0.47"/><circle cx="215.69" cy="749.54" r="0.37"/><circle cx="178.78" cy="740.99" r="0.6"/><circle cx="217.94" cy="737.45" r="0.74"/><circle cx="190.3" cy="741.16" r="0.6"/><circle cx="172.22" cy="767.95" r="0.46"/><circle cx="174.93" cy="776.98" r="0.44"/><circle cx="215.55" cy="738.86" r="0.59"/><circle cx="171.07" cy="774.22" r="0.66"/><circle cx="169.65" cy="744.93" r="0.43"/><circle cx="192.61" cy="777.83" r="0.38"/><circle cx="187.12" cy="742.84" r="0.53"/><circle cx="196.36" cy="771.7" r="0.5"/><circle cx="196.96" cy="772.92" r="0.67"/><circle cx="191.82" cy="736.3" r="0.53"/><circle cx="216.23" cy="743.33" r="0.74"/></g>
<g fill="#3a2a22" fill-opacity="0.8" filter="url(#bs)"><ellipse cx="185.2" cy="741.2" rx="1.2" ry="1.2"/><circle cx="186.4" cy="741.29" r="1.1"/><circle cx="185.05" cy="740.97" r="0.99"/><circle cx="185.37" cy="741.8" r="1.12"/><circle cx="185.47" cy="740.4" r="1.12"/><circle cx="185.91" cy="742.09" r="0.91"/><circle cx="184.74" cy="742.11" r="1.06"/><ellipse cx="178.5" cy="773.9" rx="1.35" ry="1.35"/><circle cx="178.24" cy="774.67" r="1.33"/><circle cx="178.4" cy="773.21" r="1.26"/><circle cx="178.71" cy="775.14" r="1.21"/><circle cx="178.57" cy="773.76" r="1.18"/><circle cx="178.21" cy="773.8" r="1.34"/><circle cx="179.33" cy="774.42" r="1.25"/><circle cx="177.7" cy="774.47" r="1.28"/><circle cx="177.27" cy="774.07" r="1.13"/><ellipse cx="195.5" cy="777.4" rx="1.35" ry="1.35"/><circle cx="194.97" cy="777.05" r="1.15"/><circle cx="196.39" cy="777.42" r="1.17"/><circle cx="195.92" cy="776.34" r="1.05"/><circle cx="194.88" cy="778.57" r="1.35"/><circle cx="195.38" cy="778.35" r="0.98"/><circle cx="194.57" cy="777.22" r="1.24"/><circle cx="194.67" cy="777.85" r="0.99"/><circle cx="196.58" cy="777.39" r="1"/><ellipse cx="184.6" cy="759.6" rx="0.68" ry="0.68"/><ellipse cx="177.5" cy="741.2" rx="0.45" ry="0.45"/></g>
<rect x="158.6" y="735.5" width="64.5" height="48.6" fill="none" stroke="#3a3433" stroke-width="1"/>
<rect x="210.4" y="780.7" width="11" height="2.2" fill="#2a2222"/>
<text x="215.9" y="780" text-anchor="middle" fill="#2a2222" font-size="2.6" style="stroke:none">100 μm</text>
<rect x="227.3" y="735" width="65.5" height="49.6" fill="url(#g75)"/>
<rect x="227.3" y="735" width="65.5" height="49.6" fill="#000" filter="url(#f76)"/>
<g fill="#5a4536" fill-opacity="0.75"><circle cx="241.12" cy="758.73" r="0.4"/><circle cx="231.29" cy="754.08" r="0.43"/><circle cx="246.96" cy="753.39" r="0.59"/><circle cx="252.74" cy="746.32" r="0.39"/><circle cx="240.57" cy="757.3" r="0.58"/><circle cx="270.43" cy="751.22" r="0.72"/><circle cx="238.11" cy="751.81" r="0.44"/><circle cx="247.76" cy="782.9" r="0.57"/><circle cx="239.74" cy="752.1" r="0.56"/><circle cx="278.81" cy="755.02" r="0.47"/><circle cx="250.4" cy="756.92" r="0.41"/><circle cx="245.01" cy="736.62" r="0.55"/><circle cx="240.22" cy="758.71" r="0.67"/><circle cx="257.65" cy="774.42" r="0.63"/><circle cx="248.08" cy="750.73" r="0.69"/><circle cx="232.55" cy="741.73" r="0.54"/><circle cx="247.98" cy="754.25" r="0.46"/><circle cx="280.94" cy="748.02" r="0.71"/><circle cx="239.25" cy="762.8" r="0.4"/><circle cx="274.08" cy="772.51" r="0.75"/><circle cx="232.62" cy="761.13" r="0.62"/><circle cx="252.26" cy="770.24" r="0.56"/><circle cx="237.94" cy="755.72" r="0.63"/><circle cx="273.46" cy="751.26" r="0.62"/><circle cx="248.35" cy="753.3" r="0.51"/><circle cx="247.85" cy="738.27" r="0.71"/><circle cx="249.32" cy="757.72" r="0.52"/><circle cx="264.2" cy="749.33" r="0.45"/><circle cx="244.34" cy="755.04" r="0.48"/><circle cx="284.68" cy="740.43" r="0.4"/><circle cx="254.21" cy="759.52" r="0.54"/><circle cx="259.09" cy="763.31" r="0.36"/><circle cx="252" cy="749.62" r="0.57"/><circle cx="230.84" cy="762.99" r="0.46"/><circle cx="237.36" cy="751.69" r="0.69"/></g>
<g fill="#3a2a22" fill-opacity="0.8" filter="url(#bs)"><ellipse cx="243.5" cy="753.5" rx="0.9" ry="0.9"/><circle cx="244.28" cy="753.45" r="0.94"/><circle cx="243.02" cy="753.12" r="0.83"/><circle cx="243.8" cy="753.41" r="0.73"/><ellipse cx="250" cy="758.6" rx="0.75" ry="0.75"/><circle cx="250.18" cy="758.52" r="0.71"/><circle cx="249.66" cy="758.5" r="0.75"/><ellipse cx="265.4" cy="768.4" rx="0.75" ry="0.75"/><circle cx="264.64" cy="768.33" r="0.67"/><circle cx="265.67" cy="769.05" r="0.72"/><ellipse cx="268" cy="764.7" rx="0.75" ry="0.75"/><circle cx="267.69" cy="764.67" r="0.66"/><circle cx="268.17" cy="764.58" r="0.74"/><ellipse cx="280" cy="772.5" rx="0.75" ry="0.75"/><circle cx="280.13" cy="772.88" r="0.66"/><circle cx="279.84" cy="772.2" r="0.86"/><ellipse cx="240.8" cy="773.9" rx="0.9" ry="0.9"/><ellipse cx="239.4" cy="747.3" rx="0.68" ry="0.68"/><ellipse cx="261.9" cy="758.6" rx="0.68" ry="0.68"/></g>
<rect x="227.8" y="735.5" width="64.5" height="48.6" fill="none" stroke="#3a3433" stroke-width="1"/>
<rect x="279.6" y="780.7" width="11" height="2.2" fill="#2a2222"/>
<text x="285.1" y="780" text-anchor="middle" fill="#2a2222" font-size="2.6" style="stroke:none">100 μm</text>
<rect x="19.5" y="787.3" width="66.3" height="65.5" fill="#fff"/>
<path d="M59.62 810.17h0.6M67.15 816.1h0.6M65.1 805.65h0.6M60.66 812.86h0.6M59.13 820.63h0.6M65.18 822.33h0.6M70.52 828.38h0.6M57.59 815.77h0.6M63.95 799.32h0.6M60.28 837.96h0.6M52.42 806.37h0.6M62.36 826.1h0.6M70.43 824.05h0.6M57.18 801.92h0.6M55.82 833.32h0.6M63.08 795.82h0.6M71.18 820.41h0.6M70 810.95h0.6M57.13 821.24h0.6M62.61 823.21h0.6M68.03 806.16h0.6M65.36 810.3h0.6M55.98 827.04h0.6M66.46 826.32h0.6M59.81 818.31h0.6M63.12 799.88h0.6M56.77 826.8h0.6M64.93 815.32h0.6M66.55 815.81h0.6M60.2 819.15h0.6M68.5 820.59h0.6M67.46 826.07h0.6M70.59 808.05h0.6M64.32 822.47h0.6M66.46 805.77h0.6M67.27 815.61h0.6M58.95 810.9h0.6M67.47 822.73h0.6M58.62 815.1h0.6M70.05 815.2h0.6M63.18 817.03h0.6M65.18 819.38h0.6M64.14 818.66h0.6M63.72 806.71h0.6M60.1 824.45h0.6M59.11 819.26h0.6M57.17 814.19h0.6M61.58 828.55h0.6M64.72 822.17h0.6M61.05 824.79h0.6M38.81 835.35h0.6M38.36 812.86h0.6M45.07 827.09h0.6M46.85 832.31h0.6M50.37 810.52h0.6M52.18 843.99h0.6M55.65 818.67h0.6M34.06 819.99h0.6M37.01 819.27h0.6M33.38 834.95h0.6M44.08 847.5h0.6M41.64 829.56h0.6M36.59 819.37h0.6M30.76 828.65h0.6M46.59 832.56h0.6M31.63 804.1h0.6M48.7 829.61h0.6M48.04 830.09h0.6M59.97 834.16h0.6M34.37 823.19h0.6M35.51 831.12h0.6M33.7 837.11h0.6M53.05 833.86h0.6M38.25 825.72h0.6M36.73 826.86h0.6M42.16 821.5h0.6M45.92 831.41h0.6M58.09 835.4h0.6M49.15 844.92h0.6M41.87 825.52h0.6M28 844.31h0.6M50.58 806.92h0.6M47.7 830.77h0.6M56.75 839.95h0.6M47.87 824.04h0.6M56.3 834.79h0.6M41.69 834.75h0.6M44.9 841.83h0.6M48.95 838.64h0.6M40.55 825.51h0.6M60.94 825.38h0.6M40.44 822.12h0.6M39.54 830.6h0.6M71.29 815.52h0.6M61.89 799.48h0.6M69.61 814.95h0.6M68.48 809.06h0.6M70.04 831.53h0.6M70.07 808.86h0.6M64.57 798.55h0.6M56.46 802.53h0.6M68.94 820.9h0.6M69.54 812.78h0.6M67.55 806.8h0.6M57.11 812.29h0.6M69.19 810.99h0.6M68.44 811.54h0.6M57.3 797h0.6M68.1 829.12h0.6M60.37 839.46h0.6M58.39 825.53h0.6M65.07 801.94h0.6M71.94 818.83h0.6M69.86 814.97h0.6M58.09 826.89h0.6M69.31 804.74h0.6M55.84 798.18h0.6M64.73 802.61h0.6M60.24 830.49h0.6M72.17 826.09h0.6M63.51 800.8h0.6M68.89 818.62h0.6M62.53 832.16h0.6M66.36 802.89h0.6M68.06 802.83h0.6M57.77 829.13h0.6M68.42 803.98h0.6M57.02 828.06h0.6M57.47 816.23h0.6M62.87 800.32h0.6M54.11 812.92h0.6M66.89 798.29h0.6M69.86 811.54h0.6M64.39 833.5h0.6M57.95 805.65h0.6M56.23 825.48h0.6M58.43 800.85h0.6M66.01 841.34h0.6M65.22 803.19h0.6M56.56 825.22h0.6M55.6 814.84h0.6M73.24 818.8h0.6M53.86 805h0.6M68.39 831.89h0.6M66.44 803.26h0.6M59.88 792.78h0.6M55.45 796.68h0.6M69.13 815.97h0.6M62.77 840.62h0.6M58.18 801.15h0.6M61.48 833.84h0.6M57.31 809.82h0.6M70.21 802.03h0.6M56.9 801.74h0.6M59.64 830.02h0.6M68.75 798.8h0.6M59.88 804.16h0.6M67.91 800.75h0.6M69.65 815.38h0.6M67.29 838.92h0.6M59.16 842.43h0.6M65.36 837.25h0.6M72.65 807.69h0.6M60.23 834.25h0.6M57.17 815.59h0.6M57.57 806.39h0.6M55.99 823.96h0.6M68.88 811.65h0.6M62.15 796.29h0.6M67.5 796.08h0.6M56.29 813h0.6M70.86 811.73h0.6M67.01 828.12h0.6M64.57 802.69h0.6M70.74 828.26h0.6M61.11 833.86h0.6M61.76 834.73h0.6M69.89 805.75h0.6M67.98 803.48h0.6M67.71 805.99h0.6M55.24 838.89h0.6M59.09 804.8h0.6M71.06 814.2h0.6M61.26 837.27h0.6M69.34 824.15h0.6M68.91 817.57h0.6M65.32 831.23h0.6M57.84 805.52h0.6M57.16 804.23h0.6M61.98 832.03h0.6M70.65 818.66h0.6M60.2 802h0.6M62.88 792.48h0.6M66.09 830.83h0.6M68.63 806.13h0.6M57.32 826.63h0.6M68.44 826.89h0.6M65.93 803.16h0.6M57.47 812.35h0.6M53.8 826.38h0.6M67.74 807.27h0.6M63.5 799.34h0.6M64.38 832.82h0.6M68.55 800.9h0.6M70.05 809.88h0.6M62.42 832.86h0.6M63.37 797.61h0.6M58.25 802.89h0.6M66.33 833.91h0.6M56.7 796.32h0.6M69.19 803.26h0.6M66.48 802.6h0.6M58.42 806.43h0.6M67.47 807.27h0.6M69.99 815.44h0.6M57.51 827.99h0.6M60.55 803.34h0.6M61.2 831.81h0.6M55.27 822.21h0.6M57.98 809.98h0.6M62.17 795.99h0.6M58.89 799.37h0.6M63.46 834.08h0.6M65.29 801.24h0.6M67.85 826.93h0.6M73.66 825.25h0.6M56.99 807.89h0.6M63.46 833.88h0.6M60.26 837.3h0.6M66.56 800.76h0.6M58.29 825.4h0.6M68.83 797.68h0.6M66.33 831.9h0.6M70.43 823.86h0.6M69.82 822.44h0.6M57.64 827.14h0.6M58.03 822.83h0.6M62.92 832.34h0.6M57 818.54h0.6M65.73 802.85h0.6M69.8 836.23h0.6M52.54 822.93h0.6M63.76 833.45h0.6M62.05 833.14h0.6M69.42 816.53h0.6M57.13 810.42h0.6M63.53 835.22h0.6M59.43 828.99h0.6M59.98 802.89h0.6M55.17 820.5h0.6M64.66 795.45h0.6M58.72 802.78h0.6M69.48 795.11h0.6M59.46 836.83h0.6M61.73 796.83h0.6M61.47 799.48h0.6M57.38 830.18h0.6M63.45 838.59h0.6M69.71 806.2h0.6M61.88 833.86h0.6M68.74 814.45h0.6M58.86 796.72h0.6M61.81 800.77h0.6M69.12 818.47h0.6M61.13 833.24h0.6M54.54 815.32h0.6M68.24 823.97h0.6M71.21 804.68h0.6M57.48 823.12h0.6M68.37 799.53h0.6M58.07 809.93h0.6M68.12 805.94h0.6M67.26 828.92h0.6M54.41 807.21h0.6M73.62 825.85h0.6M63.42 799.07h0.6M70.91 815.54h0.6M65.35 800.55h0.6M62.06 792.13h0.6M62.2 832.85h0.6M57.8 822.13h0.6M66.52 803.91h0.6M61.48 796.03h0.6M70.38 820.56h0.6M71.55 821.61h0.6M72.1 823.75h0.6M55.15 821.84h0.6M56.58 812.01h0.6M55.35 826.05h0.6M61.73 800.29h0.6M59.21 798.94h0.6M59.53 802.47h0.6M63.8 801.69h0.6M71.32 818.44h0.6M67.91 808.62h0.6M67.26 830.15h0.6M64.68 834.18h0.6M69.43 817.1h0.6M70.67 808.44h0.6M65.36 832.38h0.6M58.62 829.32h0.6M62.1 836.37h0.6M65.39 832.4h0.6M53.28 812.2h0.6M63.65 840.7h0.6M66.47 802.57h0.6M66.31 831.53h0.6M57.41 832.21h0.6M58.61 800.16h0.6M58.07 808.68h0.6M64.62 796.22h0.6M65.28 790.84h0.6M54.95 816.36h0.6M59.7 804.46h0.6M57.61 810.23h0.6M64.83 836.18h0.6M57.14 806.98h0.6M54.13 807.65h0.6M56.25 815h0.6M70.54 817.82h0.6M59.43 805.93h0.6M70.8 816.1h0.6M60.55 831.11h0.6M59.37 791.92h0.6M66.61 804.66h0.6M57.12 809.1h0.6M69.2 828.2h0.6M65.04 833.89h0.6M60.78 835.58h0.6M61.35 840.5h0.6M65.51 802.57h0.6M54.15 796.01h0.6M60.8 830.36h0.6M67.03 831.18h0.6M64.25 794.52h0.6M68.64 789.91h0.6M70.11 814.25h0.6M58.33 833.56h0.6M69.25 821.88h0.6M58.36 806.6h0.6M68.92 813.92h0.6M60.68 841.35h0.6M67.06 832.69h0.6M57.27 808.88h0.6M57.82 806.99h0.6M69.4 827.03h0.6M68.05 808.42h0.6M59.86 801.15h0.6M61.96 832.72h0.6M69.34 821.25h0.6M69.44 825.82h0.6M55.52 813.35h0.6M56.14 822.71h0.6M57.37 824.99h0.6M61.95 796.76h0.6M71.15 828.9h0.6M70.63 803.31h0.6M57 820.4h0.6M57.95 801.72h0.6M67.18 795.44h0.6M54.07 799.34h0.6M63.02 801.56h0.6M67.29 836.27h0.6M61.08 799.34h0.6M57.8 812.66h0.6M59.29 799.62h0.6M64.91 796.61h0.6M58.53 807.9h0.6M56.83 821.84h0.6M62.29 833.33h0.6M57.38 818.38h0.6M56.74 815.45h0.6M56.76 823.23h0.6M64.72 799.93h0.6M67.43 801.46h0.6M53.18 825.45h0.6M68.97 797.83h0.6M60.75 835.14h0.6M68.7 824.24h0.6M63.42 801.15h0.6M55.86 820.55h0.6M64.61 800.44h0.6M70.46 799.84h0.6M70.35 818.87h0.6M69.41 835.67h0.6M71.29 811.01h0.6M65.83 795.91h0.6M59.88 838.42h0.6M59.09 829.16h0.6M60.56 833.9h0.6M68.07 807.02h0.6M63.38 802.18h0.6M55.34 807.31h0.6M71.19 820.7h0.6M66.29 834.13h0.6M69.35 807.08h0.6M69.63 811.37h0.6M59.13 803.94h0.6M57.93 808.23h0.6M54.86 827.23h0.6M55.21 818.72h0.6M56.46 814.62h0.6M69.61 803.94h0.6M66.51 836.25h0.6M64.69 799.79h0.6M65.44 794.47h0.6M59.37 803.63h0.6M59.57 803.94h0.6M70.32 814.35h0.6M69.97 817.83h0.6M68.74 814.59h0.6M67.25 806.85h0.6M70.25 824.14h0.6M71 809.85h0.6M56.5 822.13h0.6M66.99 834.21h0.6M61.93 839.87h0.6M57.77 810.76h0.6M61.26 801.74h0.6M67.06 804.03h0.6M69.59 816.11h0.6M60.39 833.31h0.6M63.01 844.41h0.6M65.28 833.04h0.6M62.95 801.73h0.6M56.69 832.21h0.6M63.83 801.23h0.6M61.97 797.58h0.6M54.07 804.35h0.6M68.49 824.47h0.6M68.43 811.73h0.6M58.38 829.61h0.6M68.92 816.37h0.6M68.97 834.5h0.6M68.77 802.84h0.6M55.21 821.53h0.6M62.32 797.28h0.6M65.05 802.12h0.6M66.95 799.4h0.6M56.33 821.59h0.6M68.95 816.16h0.6M66.89 834.84h0.6M58.98 828.15h0.6M58.72 800.84h0.6M67.81 827.4h0.6M61.12 802.15h0.6M65.72 798.95h0.6M67.38 829.26h0.6M56.42 818.93h0.6M57.81 824.49h0.6M57.66 824.11h0.6M71.41 814.22h0.6M56.86 818.68h0.6M65.45 802.57h0.6M60.47 832.45h0.6M69.25 812.04h0.6M54.51 821.07h0.6M64.93 794.05h0.6M58.5 842.93h0.6M56.83 811.29h0.6M66.57 804.86h0.6M66.23 804.64h0.6M68.67 813.56h0.6M67.45 806.86h0.6M56.54 823.7h0.6M70.33 823.22h0.6M67.95 825.94h0.6M59.57 836h0.6M58.33 803.17h0.6M62.7 798.13h0.6M70.28 828.22h0.6M59.03 831.85h0.6M69.18 826.34h0.6M72.73 799.1h0.6M60.9 834.2h0.6M61.35 840.06h0.6M66.89 795.11h0.6M59.22 802.43h0.6M62.01 832.94h0.6M66.37 829.19h0.6M60.47 832.7h0.6M57.1 816.15h0.6M56.97 826.64h0.6M62.2 835.18h0.6M67.92 843.63h0.6M63.92 800.24h0.6M60.41 831.16h0.6M55.58 810.35h0.6M68.63 828.06h0.6M57.07 822.53h0.6" stroke="#3340f0" stroke-width="0.6" stroke-opacity="0.6"/>
<path d="M59.28 824.58h0.8M59.06 824.88h0.8M62.64 829.66h0.8M60.56 807.45h0.8M58.49 819.07h0.8M67.43 810.13h0.8M59.55 824.03h0.8M60.36 825.22h0.8M58.61 812.53h0.8M64.24 805.43h0.8M59.4 821.21h0.8M65.52 830.09h0.8M67.56 819.15h0.8M62.33 804.79h0.8M65.19 827.83h0.8M63.43 806.12h0.8M68.27 815.21h0.8M64.87 828.18h0.8M67.79 818.2h0.8M59.94 805.71h0.8M64.66 806.73h0.8M59.71 824.47h0.8M65.03 803.18h0.8M62.59 805.97h0.8M67.12 823.4h0.8M64.61 805.03h0.8M59.3 823.52h0.8M60.3 826.61h0.8M64.44 830.65h0.8M66.89 808.07h0.8M60 808.24h0.8M60.47 807.13h0.8M59.37 823.29h0.8M63.08 804.32h0.8M59.41 811.37h0.8M58.29 820.87h0.8M62.1 805.67h0.8M67.56 816.54h0.8M60.49 804.96h0.8M58.71 813.6h0.8M61.18 806.98h0.8M66.34 828.19h0.8M67.85 809.18h0.8M64.02 829.3h0.8M62.7 831.2h0.8M64.95 806.56h0.8M59.21 811.37h0.8M60 807.18h0.8M58.41 811.18h0.8M58.82 818.28h0.8M58.02 818.26h0.8M68.14 814.06h0.8M59.6 825.72h0.8M63.8 830.56h0.8M67.92 821.86h0.8M59.2 809.71h0.8M64.94 806.95h0.8M66.73 824.45h0.8M65.37 804.13h0.8M65.5 807.62h0.8M58.64 813.69h0.8M66.99 825.44h0.8M59.01 824.45h0.8M67.72 814.31h0.8M67.28 820.73h0.8M59.96 807.1h0.8M60.13 808.37h0.8M60.53 825.55h0.8M66.55 805.3h0.8M62.95 802.82h0.8M67.3 808.87h0.8M62.16 829.28h0.8M64.91 830.78h0.8M65.84 805.58h0.8M63.78 831.58h0.8M58.86 819.31h0.8M59.8 807.66h0.8M62.83 805.64h0.8M61.44 806.05h0.8M66.9 824.65h0.8M62.74 830.6h0.8M63.4 805.53h0.8M62.87 828.54h0.8M62.38 803.82h0.8M65.1 804.41h0.8M59.86 828.39h0.8M58.38 819.92h0.8M62.88 804.7h0.8M64.87 831.04h0.8M65.87 807.85h0.8M67.7 822.32h0.8M59.2 825.16h0.8M66.09 829.17h0.8M62.24 827.93h0.8M67.05 825.49h0.8M67.81 812.17h0.8M68.04 817.16h0.8M65.39 804.27h0.8M59.79 826.63h0.8M62.01 828.43h0.8M59.43 827.42h0.8M59.07 825.99h0.8M58.28 817.95h0.8M68.04 823.85h0.8M64.52 804.73h0.8M67.36 811.2h0.8M64.29 805.96h0.8M63.33 830h0.8M58.6 824.32h0.8M66.89 822.87h0.8M68.03 819.7h0.8M58.03 821.2h0.8M60.63 828.04h0.8M68.02 815.68h0.8M66.4 809.67h0.8M59.38 827.54h0.8M64.53 828.65h0.8M57.86 816.9h0.8M61.88 803.24h0.8M59.13 808.13h0.8M58.6 819.32h0.8M59.16 813.48h0.8M61.77 828.71h0.8M60.52 805.6h0.8M59.8 825h0.8M58.53 816.4h0.8M62.71 804.65h0.8M65.39 806.87h0.8M65.35 806.84h0.8M58.76 824.48h0.8M59.56 826.5h0.8M67.12 807.76h0.8M60.87 828.82h0.8M68.62 814.19h0.8M65.25 828.69h0.8M63.58 827.9h0.8M61.49 807.11h0.8M61.68 802.84h0.8M64.75 805.26h0.8M67.18 825.51h0.8M66.27 806.64h0.8M61.04 828.97h0.8M65.66 806.7h0.8M67.56 820.32h0.8M63.22 802.56h0.8M64.13 829.82h0.8M67.81 813.83h0.8M58.43 823.22h0.8M62 830.96h0.8M62.78 827.93h0.8M59.17 813.57h0.8M58.75 816.72h0.8M58.18 815.59h0.8M67.5 811.26h0.8M68.71 817.58h0.8M61.23 828.06h0.8M59.19 810.32h0.8M65.16 806.22h0.8M58.41 816.67h0.8M67.57 818.48h0.8M60.14 809.23h0.8M60.96 828.16h0.8M62.83 828.81h0.8M65.21 827.05h0.8M62.25 828.13h0.8M61.71 804.25h0.8M65.62 805.53h0.8M60.67 828.09h0.8M62.97 802.94h0.8M58.33 817.79h0.8M58.98 820.13h0.8M68.24 816.24h0.8M62.21 827.64h0.8M64.46 830.2h0.8M67.84 814.52h0.8M63.84 804.75h0.8M63.45 829.91h0.8M60.42 807.24h0.8M61.9 829.32h0.8M66.68 823.81h0.8M65.88 825.59h0.8M65.84 806.54h0.8M64.23 828.58h0.8M58.23 821.49h0.8M58.68 823.47h0.8M66.98 822.16h0.8M57.96 820.91h0.8M63.41 803.35h0.8M68.16 821.84h0.8M60.41 806.44h0.8M67.42 819.55h0.8M66.61 809.6h0.8M60.7 826.27h0.8M58.13 811.04h0.8M63.75 828.81h0.8M68.09 810.61h0.8M67.46 822.49h0.8M58.97 812.17h0.8M59.24 806.85h0.8M58.59 821.39h0.8M63.2 805.51h0.8M62.34 828.24h0.8M65.16 827.29h0.8M66.55 810.61h0.8M60.89 805.17h0.8M64.67 803.84h0.8M59.47 809.57h0.8M61.53 803.28h0.8M67.71 810.91h0.8M61.82 804.37h0.8M60.81 807.96h0.8M58.09 820.07h0.8M58.72 821.85h0.8M63.68 830.14h0.8M60.45 826.05h0.8M59.72 806.6h0.8M58.73 813.65h0.8M59.27 825.08h0.8M68.58 817.87h0.8M61.64 803.5h0.8M59.19 808.15h0.8M58.98 823.51h0.8M68.07 814.79h0.8M67.44 808.12h0.8M64.39 804.55h0.8M66.13 809.11h0.8M61.42 829.92h0.8M67.7 812.97h0.8M67.32 818.17h0.8M65.86 807.84h0.8M61.59 805.23h0.8M59.42 807.96h0.8M58.51 810.15h0.8M59.16 824.14h0.8M68.29 816.29h0.8M59.06 822.04h0.8M59.17 822.73h0.8M67.72 822.49h0.8M59.22 809.36h0.8M62.39 829.17h0.8M59.39 823.97h0.8M59.05 817.85h0.8M62.89 830.22h0.8M67.57 808.71h0.8M67.56 816.31h0.8M62.3 805.34h0.8M58.42 816.3h0.8M66.79 810.93h0.8M65.29 807.36h0.8M60.25 828.86h0.8M61.5 803.79h0.8M65.45 829.32h0.8M68.69 819.05h0.8M67.71 808.77h0.8M68.53 819.21h0.8M59.52 826.39h0.8M60.71 808.3h0.8M64.63 806.41h0.8M62.93 806.14h0.8M60.39 806.67h0.8M64.94 828.07h0.8M59.27 826.77h0.8M64.01 803.65h0.8M62.1 802.74h0.8M67.73 810.44h0.8M66.19 806.84h0.8M62.74 827.98h0.8M65.99 805.46h0.8M59.11 808.76h0.8M58.98 823.12h0.8M59.84 823.69h0.8M59.39 812.78h0.8M58.04 817.5h0.8M64.08 802.79h0.8M67.47 809.86h0.8M60.42 805.97h0.8M57.89 815.49h0.8M64.07 806.12h0.8M62.34 828.75h0.8M62.76 804.92h0.8M67.99 824.43h0.8M67.23 807.4h0.8M67.38 808.06h0.8M59.05 821.06h0.8M58.93 815.06h0.8M67.76 816.09h0.8M60.05 827.56h0.8M63.3 829.8h0.8M58.78 815.56h0.8M61.3 803.8h0.8M61.62 805.56h0.8M65.81 829.5h0.8M59.94 824.27h0.8M66.95 810.95h0.8" stroke="#1d8cf8" stroke-width="0.8" stroke-opacity="0.9"/>
<path d="M61.88 827.1h0.8M64.21 807.19h0.8M61.95 809.02h0.8M65.5 810.94h0.8M66.26 810.08h0.8M66.23 824.22h0.8M62.39 824.71h0.8M65.13 808.62h0.8M65.65 825.2h0.8M64.53 807.73h0.8M59.39 820.15h0.8M59.62 813.74h0.8M60.66 810.89h0.8M59.83 814.52h0.8M61.49 823.93h0.8M61.21 811.7h0.8M60.66 809.94h0.8M61.99 825.66h0.8M63.59 808.15h0.8M62.75 826.32h0.8M66.37 810.35h0.8M60.3 810.55h0.8M61.32 811.07h0.8M63.08 806.64h0.8M60.86 809.64h0.8M60.2 814.18h0.8M63.11 806.68h0.8M61.95 809.82h0.8M60.55 812.59h0.8M64.48 807.94h0.8M65.62 825.53h0.8M62.34 809.65h0.8M63.1 808.53h0.8M61.68 809.92h0.8M59.65 811.75h0.8M65.7 808.64h0.8M66.06 822.83h0.8M63.9 806.9h0.8M66.7 814.87h0.8M59.71 813.49h0.8M63.18 827.41h0.8M62.98 809.03h0.8M61.24 823.89h0.8M63.4 809.55h0.8M60.29 819.65h0.8M66.76 821.23h0.8M59.67 815.95h0.8M64.41 806.92h0.8M59.69 814.38h0.8M66.3 817.66h0.8M64.15 807.3h0.8M62.54 807.5h0.8M60.49 819.81h0.8M65.39 821.86h0.8M59.72 812.81h0.8M65.34 822.57h0.8M60.69 821.5h0.8M60.14 813.55h0.8M62.01 824.22h0.8M62.06 824.68h0.8M64.29 809.65h0.8M64.6 826.54h0.8M60.72 811.08h0.8M63.48 824.65h0.8M62.02 808.73h0.8M64.53 824.88h0.8M60.93 822.79h0.8M62.87 808.65h0.8M65.88 813.85h0.8M65.42 811.36h0.8M59.98 811.66h0.8M59.94 814.63h0.8M60.46 822.11h0.8M65.63 821.76h0.8M66.71 820.47h0.8M62.48 808.34h0.8M65.46 821.45h0.8M66.77 817.77h0.8M64.87 810.18h0.8M65.05 809.87h0.8M65.34 810.42h0.8M60.8 811.36h0.8M63.56 827.07h0.8M64.94 810.68h0.8M66.44 818.15h0.8M59.79 819.6h0.8M60.89 822.44h0.8M62.11 824.06h0.8M65.39 809.78h0.8M66.4 821.19h0.8M63.48 825.61h0.8M61.01 825.7h0.8M59.96 817.58h0.8M59.6 817.05h0.8M61.28 823.71h0.8M67.18 817.91h0.8M59.86 817.04h0.8M66.72 815.4h0.8M65.15 811.36h0.8M66.04 809.78h0.8M64.32 809.69h0.8M67.11 818.78h0.8M66.78 816.48h0.8M60.99 823.12h0.8M62.42 827.11h0.8M65.79 821.4h0.8M60.8 811.32h0.8M61.28 823.81h0.8M64.51 808.8h0.8M62.37 824.26h0.8M60.8 820.92h0.8M65.6 811.47h0.8M60.05 823.84h0.8M59.64 819.09h0.8M66.77 813.45h0.8M63.57 827.64h0.8M60.42 820.98h0.8M66.83 816.7h0.8M67.23 817.12h0.8M60.43 822.06h0.8M66.7 815.14h0.8M65.28 810.54h0.8M64.02 807h0.8M60.41 814.23h0.8M64.29 809.64h0.8M64.27 808.62h0.8M59.34 819.94h0.8M67.03 820.23h0.8M66.8 818.86h0.8M66.17 817.97h0.8M61.28 822.4h0.8M64.51 825h0.8M63.76 806.67h0.8M63.69 824.34h0.8M65.63 811.36h0.8M66.88 816.07h0.8M66.36 813.9h0.8M62.51 806.82h0.8M59.65 817.75h0.8M63.09 827.62h0.8M64.78 824.62h0.8M66.26 818.18h0.8M60.83 822.2h0.8M64.16 806.86h0.8M64.75 825.57h0.8M59.26 819.47h0.8M65.42 809.88h0.8M62.04 808.91h0.8M60.59 809.71h0.8M60.25 823.01h0.8M63.34 808.23h0.8M66.87 816.41h0.8M59.57 818.35h0.8M60.66 809.54h0.8M65.39 812.26h0.8M67.09 813.76h0.8M64.96 811.08h0.8M65.82 808.73h0.8M60.83 824.9h0.8M65.14 811.56h0.8M64.11 809.51h0.8M62.44 826.71h0.8M60.67 811.59h0.8M63.05 825.16h0.8M66.65 819.54h0.8M61.75 825.69h0.8M65.91 814.86h0.8M60 820.94h0.8M65.71 813.37h0.8M66.22 812.14h0.8M66.97 817.08h0.8M66.41 823h0.8M63.5 806.46h0.8M61.91 824.29h0.8M64.26 826.66h0.8M61.72 810.43h0.8M61.06 825.08h0.8M63.28 826.9h0.8M63.73 808.16h0.8M64.09 809.62h0.8M65.53 809.5h0.8M65.59 809.46h0.8M65.1 824.65h0.8M66.57 813.85h0.8M64.35 807.06h0.8M63.17 824.38h0.8M64.21 826.17h0.8M64.95 808.01h0.8M65.2 808.69h0.8M63.56 825.16h0.8M61.15 810.67h0.8M63.16 826.65h0.8M66.01 816.76h0.8M66.63 814.17h0.8M65.2 808.25h0.8M59.9 819.38h0.8M65.63 823.34h0.8M59.61 820.82h0.8M62.97 825.84h0.8M61.82 826.07h0.8M66.89 815.36h0.8M65.26 824.91h0.8M62.72 826.73h0.8M63.22 826.76h0.8M60.34 820.48h0.8M60.81 811.25h0.8M62.43 809.57h0.8M67.17 816.62h0.8M59.44 814.76h0.8M60.16 823.29h0.8M60.2 818.07h0.8M65.02 823.25h0.8M61.85 826.42h0.8M66.61 817.32h0.8M60.28 817.21h0.8M64.87 810.05h0.8M63.52 826.28h0.8M60.15 824.12h0.8M62.51 827.21h0.8M59.5 819.26h0.8M66.13 813.49h0.8M65.78 822.51h0.8M62.97 807.72h0.8M65.33 811.87h0.8M62.81 808.84h0.8M59.81 815.7h0.8M60.35 810.11h0.8M61.13 824.77h0.8M64.23 807.23h0.8M66.22 821.01h0.8M66.06 811.45h0.8M61.17 811.09h0.8M65.46 823.75h0.8M66.57 820.56h0.8M62.58 809.49h0.8M65.71 810.99h0.8M59.96 812.58h0.8M61.33 807.95h0.8M63.07 808.33h0.8M59.78 818.55h0.8M62.68 809.12h0.8M62.55 806.51h0.8M66.4 819.56h0.8M66.87 819.04h0.8M65.34 823.05h0.8M66.4 811.44h0.8M60.31 809.44h0.8M61.64 824.09h0.8M64.75 824.99h0.8M63.73 808.51h0.8M65.68 809.81h0.8M66.67 814.31h0.8M64.22 807.11h0.8M59.54 819.25h0.8M60.34 819.49h0.8M63.38 808.98h0.8M59.85 821.44h0.8M66.6 818.55h0.8M65.13 822.34h0.8M60.11 817.49h0.8M61.96 807.11h0.8M65.42 809.93h0.8M65.51 825.61h0.8" stroke="#19c7c0" stroke-width="0.8" stroke-opacity="0.9"/>
<path d="M61.79 817.15h0.8M64.61 811.32h0.8M61.09 812.91h0.8M61.02 821.1h0.8M65.27 816.41h0.8M61.69 812.94h0.8M64 810.06h0.8M62.57 820.32h0.8M62.39 811.04h0.8M64.54 820.44h0.8M65.22 821.96h0.8M63.38 810.77h0.8M65.1 818.14h0.8M65.13 816.95h0.8M61.1 812.71h0.8M61.66 820.38h0.8M62.31 813h0.8M60.64 817.26h0.8M61.01 813.45h0.8M61.45 820.45h0.8M64.81 815.22h0.8M61.82 820.57h0.8M60.97 818.6h0.8M61.79 817.61h0.8M61.16 816.98h0.8M63.67 821.1h0.8M61.84 813.56h0.8M65.18 812.42h0.8M62.06 822.91h0.8M61.09 815.7h0.8M63.52 821.38h0.8M65.2 818.05h0.8M61.34 814.58h0.8M62.06 813.63h0.8M65.58 816.39h0.8M61.55 814.21h0.8M64.69 812.88h0.8M64.85 822.28h0.8M65.29 812.4h0.8M63.19 823.29h0.8M63.5 812.89h0.8M64.66 816.74h0.8M61.26 816.54h0.8M64.02 821.51h0.8M65.88 817.18h0.8M64.48 820.26h0.8M64.14 813.51h0.8M60.94 815.04h0.8M65.69 818.91h0.8M63.53 821.16h0.8M65.05 816.45h0.8M62.41 812.63h0.8M64.44 811.56h0.8M61.63 819.06h0.8M61.67 815.12h0.8M62.31 812.21h0.8M61.51 813.8h0.8M62.21 812.66h0.8M65.05 821.42h0.8M64.29 814.27h0.8M64.53 819.03h0.8M62.41 821.52h0.8M64.95 817.15h0.8M63.92 822.24h0.8M62.31 823.48h0.8M62.88 820.94h0.8M65.16 815.18h0.8M62.32 823.27h0.8M63.77 821.74h0.8M64.7 812.8h0.8M64.79 816.14h0.8M65.93 815.5h0.8M62.8 812.72h0.8M65.44 820.47h0.8M64.66 814.83h0.8M62.96 822.18h0.8M60.76 813.63h0.8M64.35 822.62h0.8M61.87 816.21h0.8M63.09 810.93h0.8M65.12 815.25h0.8M60.99 821.2h0.8M63.01 809.7h0.8M64.7 820.79h0.8M61.46 817.03h0.8M63.57 813.03h0.8M61.96 818.83h0.8M61.7 813.7h0.8M64.62 819.46h0.8M64.86 815.14h0.8M62.61 812.31h0.8M65.42 819.08h0.8M62.04 821.91h0.8M61.5 821.78h0.8M60.98 813.89h0.8M61.77 820.86h0.8M65.22 812.57h0.8M63.65 822.2h0.8M64.32 820.3h0.8M65.32 813.52h0.8M64.49 815.37h0.8M65.03 820.35h0.8M61.85 811.77h0.8M62.82 813.6h0.8M63.08 820.84h0.8M61.76 820.18h0.8M62.78 812.88h0.8M64.65 819.24h0.8M63.76 810.95h0.8M65.93 816.82h0.8M64.83 819.31h0.8M62.43 811.42h0.8M65.31 816.97h0.8M65.78 817.8h0.8M64.33 814.57h0.8M64 821.05h0.8M64.08 810.36h0.8M64.53 821.71h0.8M64.07 820.16h0.8M62.6 823.54h0.8M64.03 810.56h0.8M64.71 813.5h0.8M65.04 821.86h0.8M65.57 819.58h0.8M65.12 817.36h0.8M64.5 817.45h0.8M65.26 817.66h0.8M61.02 814.21h0.8M65.36 817.57h0.8M62.77 820.83h0.8M65.1 811.76h0.8M64.63 813.98h0.8M61.74 810.89h0.8M65.32 821.75h0.8M60.75 816.99h0.8M64.01 813.77h0.8M63.35 822.83h0.8M62.25 820.29h0.8M64.38 822.64h0.8M62.45 822.88h0.8M62.35 812.61h0.8M61.71 820.27h0.8M63.58 809.84h0.8M64.4 812.78h0.8M65.6 814.58h0.8M63.76 822.4h0.8M62.41 821.52h0.8M63.15 812.41h0.8M61.77 817.47h0.8M63.44 822.48h0.8M64.56 814.02h0.8M63.48 812.16h0.8M64.07 811.87h0.8M65.44 814.09h0.8M65.65 816.07h0.8M60.77 816.09h0.8M61.9 814.71h0.8M64.52 820.11h0.8M63.71 810.4h0.8M63.03 812.93h0.8M63.44 821.57h0.8M64.47 819.82h0.8M62.26 821.28h0.8M61.77 812.59h0.8M65.24 813.64h0.8M64.25 820.34h0.8M62.66 813.15h0.8M61.94 819.31h0.8M61.99 823.25h0.8M63 821.11h0.8M61.08 819.11h0.8M64.34 822.79h0.8M63.35 811.11h0.8M62.31 811.25h0.8M64.82 812.19h0.8M63.75 822.99h0.8M64.57 814.84h0.8M63.62 821.28h0.8M64.61 815.93h0.8M64.95 816.15h0.8M64.53 818.42h0.8M64.47 817.91h0.8M61.58 819.2h0.8M61.98 818.52h0.8M64.44 810.79h0.8M61.66 814.57h0.8M63.44 813.4h0.8M60.98 819.82h0.8M62.59 812.56h0.8M65.38 814.96h0.8M60.61 818.06h0.8M65.38 820.56h0.8M60.59 817.48h0.8M63.83 810.79h0.8M62.21 820.3h0.8M62.1 812.71h0.8M61.72 810.96h0.8M63.84 822.13h0.8M64.24 814.9h0.8M62.13 822h0.8M63.05 811.88h0.8M61.66 820.41h0.8M63.11 812.03h0.8M62.14 821.25h0.8M61.64 817.23h0.8M62.85 813.66h0.8M65.16 814.24h0.8M61.24 819.39h0.8M63.1 820.57h0.8M61.8 812.5h0.8M64.94 819.31h0.8M63.62 821.85h0.8M62.81 822.21h0.8M61.1 816.23h0.8M65.19 812.44h0.8M61.77 810.96h0.8M61.88 819.76h0.8M61.71 822.46h0.8M60.7 819.09h0.8M65.92 817.68h0.8M61.53 815.86h0.8M60.77 818.16h0.8M63.48 809.76h0.8M63.41 820.4h0.8M63.81 821.55h0.8M64.72 818.83h0.8M64.77 817.27h0.8M65.17 821.95h0.8M64.6 816.29h0.8M62.64 821.98h0.8M63.91 820.44h0.8M65.12 822.29h0.8M61.5 813.63h0.8M61.17 815.11h0.8M64.45 812.31h0.8M63.95 821.7h0.8M64.18 821.61h0.8M64.45 811.51h0.8M62.64 810.38h0.8M61.3 821.08h0.8M65.91 818.62h0.8M62.53 813.6h0.8M65.23 814.72h0.8M65.84 814.64h0.8M62.92 821.82h0.8M62.68 813.2h0.8M64.44 814.82h0.8M61.25 819.31h0.8M62.65 822.46h0.8M62.7 812.9h0.8M64.59 812.73h0.8M63.56 810.59h0.8M61.09 812.41h0.8M60.85 815.32h0.8M61.27 813.19h0.8M65.01 820.12h0.8M60.62 815.17h0.8" stroke="#3cc83c" stroke-width="0.8" stroke-opacity="0.9"/>
<path d="M62.83 820.11h0.8M63.23 814.73h0.8M63.91 816.57h0.8M62.32 814.88h0.8M63.7 818.52h0.8M63.44 819.64h0.8M63.3 814.66h0.8M62.58 815.78h0.8M63.11 813.93h0.8M63.75 819.65h0.8M62.09 817.8h0.8M62.68 819.36h0.8M62.87 815.37h0.8M63.42 814.34h0.8M62.93 818.49h0.8M62.45 817.23h0.8M64.19 817.56h0.8M63.27 820.01h0.8M63.32 819.01h0.8M63.19 814.44h0.8M62.26 814.87h0.8M63.22 815.26h0.8M62.43 817.13h0.8M64.15 818.19h0.8M62.85 814.23h0.8M62.59 814.84h0.8M63.22 819.35h0.8M62.92 819h0.8M62.71 818.7h0.8M63.13 819.21h0.8M62.66 820.1h0.8M62.33 818.72h0.8M62.88 815.41h0.8M63.57 814.87h0.8M63.89 818.19h0.8M63.45 814.05h0.8M64.08 816.45h0.8M62.56 815.14h0.8M62.36 815.76h0.8M63.22 818.65h0.8M62.92 819.33h0.8M63.8 815.29h0.8M62.54 815.99h0.8M63.64 818.44h0.8M63.82 815.44h0.8M62.59 819.22h0.8M62.89 814.25h0.8M62.9 819.18h0.8M62.47 816.29h0.8M63.37 819.93h0.8M62.72 814.76h0.8M63.88 814.85h0.8M62.33 815.58h0.8M63.03 818.95h0.8M63.26 818.77h0.8M64.26 816.4h0.8M62.17 816.1h0.8M62.6 818.65h0.8M62.53 815.81h0.8M62.2 818.46h0.8M63.63 814.14h0.8M62.75 818.61h0.8M63.89 817.08h0.8M63.3 814.97h0.8M62.52 818.75h0.8M62.74 818.16h0.8M62.22 816.63h0.8M62.96 818.67h0.8" stroke="#e2d21e" stroke-width="0.8" stroke-opacity="0.9"/>
<path d="M63.15 816.88h0.8M63.35 815.61h0.8M62.6 816.87h0.8M63.45 816.17h0.8M63.61 818.03h0.8M62.92 816.31h0.8M62.87 815.94h0.8M62.74 817.48h0.8M63.17 817.31h0.8M63.3 818.03h0.8M63.32 816.92h0.8M62.91 816.12h0.8M62.94 816.54h0.8M63.51 816.14h0.8M62.94 816.19h0.8M63.44 815.54h0.8M63.33 816.34h0.8M63.47 817.84h0.8M62.96 818.07h0.8M63.53 818.19h0.8M63.45 817.48h0.8" stroke="#f2561c" stroke-width="0.8" stroke-opacity="0.9"/>
<line x1="57" y1="787.3" x2="57" y2="852.8" stroke="#111" stroke-width="1.6"/>
<line x1="19.5" y1="804.7" x2="85.8" y2="804.7" stroke="#111" stroke-width="1.6"/>
<rect x="20" y="787.8" width="65.3" height="64.5" fill="none" stroke="#8a8a8a" stroke-width="0.8"/>
<text x="83.6" y="849.6" text-anchor="end">91.3</text>
<rect x="88.4" y="787.3" width="65.8" height="65.5" fill="#fff"/>
<path d="M126.35 824.78h0.6M128.35 812.56h0.6M135.78 829.76h0.6M134.51 843.94h0.6M135.65 842.64h0.6M140.39 819.36h0.6M121.08 802.41h0.6M137.89 803.42h0.6M127.07 794.39h0.6M140.03 831.72h0.6M136.86 831.28h0.6M120.55 819.89h0.6M135.14 809.76h0.6M145.46 804.09h0.6M131.73 842.32h0.6M142.41 836.35h0.6M133.92 810.51h0.6M136.96 802.29h0.6M138.24 815.16h0.6M140.62 818.84h0.6M131.9 838.18h0.6M132.87 815.8h0.6M144.39 812.45h0.6M146.76 830.95h0.6M135.04 796.44h0.6M130.63 807.72h0.6M139.24 806.11h0.6M139.84 824.45h0.6M131.78 818.1h0.6M132.22 813.32h0.6M131.57 807.08h0.6M131.93 832.23h0.6M142.84 806.27h0.6M132.08 840.54h0.6M128.72 803.38h0.6M125.76 824.74h0.6M133.43 818.37h0.6M131.71 820.16h0.6M136.61 817.38h0.6M133.53 803.55h0.6M140.73 798.91h0.6M139.8 796.94h0.6M145.13 819.86h0.6M141.11 814.14h0.6M138.98 799.1h0.6M141.02 804.22h0.6M135.87 800.06h0.6M130.34 826.34h0.6M129.44 813.39h0.6M136.5 800.37h0.6M141.73 806.84h0.6M122.25 827.29h0.6M129.18 809.51h0.6M129.52 802.97h0.6M139.27 813.98h0.6M132.81 827.94h0.6M129 815.24h0.6M129.17 829.57h0.6M132.59 818.05h0.6M138 832.29h0.6M132.8 821.92h0.6M136.13 814.53h0.6M136.39 811.23h0.6M135 820.77h0.6M133.65 835.65h0.6M148.93 822.57h0.6M128.22 813.78h0.6M122.65 809.61h0.6M118.44 840.09h0.6M118.45 843.96h0.6M115.36 847.77h0.6M126.03 827.98h0.6M122.56 833.91h0.6M105.63 818.9h0.6M107.1 825.74h0.6M121.68 839.03h0.6M111.27 828h0.6M114.27 823.68h0.6M105.41 837.86h0.6M106.49 825.22h0.6M100.24 813.42h0.6M100.67 844.08h0.6M119.73 817.27h0.6M98.18 822.28h0.6M124.62 834.56h0.6M141.43 838.33h0.6M140.79 845.65h0.6M117.27 839.39h0.6M115.56 836.1h0.6M96.6 814.72h0.6M100 837.18h0.6M105.15 827.62h0.6M128 843.86h0.6M110.35 833.19h0.6M126.15 824.17h0.6M121.6 832.17h0.6M117.01 827.39h0.6M122.74 824.01h0.6M110.84 834.53h0.6M96.1 822.66h0.6M115.07 838.74h0.6M117.22 833.13h0.6M119.94 818.55h0.6M111.36 821.27h0.6M105.19 826.89h0.6M128.8 839.64h0.6M120.83 844.87h0.6M114.87 829.25h0.6M110.15 833.64h0.6M122.71 851.71h0.6M103.26 817.48h0.6M100.78 834.86h0.6M104.47 827.7h0.6M112.64 836.19h0.6M107.61 838.08h0.6M106.94 825.68h0.6M107.43 841.67h0.6M107.91 826.98h0.6M97.61 830.11h0.6M117.28 827.34h0.6M120.43 841.66h0.6M113.12 828.38h0.6M107 840.14h0.6M110.26 831.71h0.6M125.3 826.12h0.6M135.28 833.44h0.6M128.39 797.34h0.6M137.46 830.92h0.6M145.53 813.89h0.6M138.25 795.09h0.6M131.14 800.15h0.6M138.58 827.45h0.6M144.49 802.5h0.6M129.28 796.88h0.6M125.86 811.21h0.6M134.63 831.59h0.6M144.75 816.84h0.6M126.54 819.93h0.6M141.07 827.24h0.6M125.12 818.18h0.6M127.83 807.08h0.6M126.87 820.43h0.6M124.8 811.11h0.6M140.52 835.36h0.6M127.98 808.89h0.6M143.65 822.57h0.6M134.79 834.31h0.6M126.28 823.58h0.6M145.91 806.49h0.6M133.83 788.94h0.6M137.24 826.92h0.6M144.31 799.56h0.6M142.9 817.7h0.6M139.75 797.08h0.6M142.82 822.9h0.6M137.2 792.76h0.6M128.55 823.18h0.6M143.13 812.5h0.6M127.21 792.07h0.6M148.55 807.46h0.6M126.42 798.61h0.6M139.11 791.61h0.6M141.36 844.09h0.6M140.27 834.41h0.6M130.87 797.64h0.6M127.69 802.81h0.6M145.73 815.14h0.6M141.35 830.81h0.6M131.86 794.3h0.6M134.51 831.27h0.6M144.16 810.26h0.6M141.05 826.64h0.6M128.67 822.96h0.6M137.7 794.54h0.6M142.41 820.18h0.6M143.41 817.94h0.6M139.28 788.57h0.6M140.67 829.94h0.6M135.02 827.91h0.6M146.43 808.15h0.6M126.46 818.04h0.6M145.23 832.14h0.6M142.78 827.3h0.6M138.52 826.72h0.6M126.01 821.82h0.6M144.75 809.81h0.6M132.89 795.09h0.6M125.96 806.21h0.6M127.55 825.94h0.6M132.04 794.12h0.6M139.22 788.57h0.6M129.6 827.21h0.6M125.95 828.7h0.6M141.74 821.56h0.6M134.32 792.62h0.6M126.65 814.38h0.6M126.91 802.06h0.6M136.47 826.74h0.6M144.77 828.35h0.6M136.47 827.84h0.6M125.51 802.21h0.6M130.12 799.72h0.6M136.39 831.64h0.6M126.94 815.17h0.6M143.18 806.79h0.6M136.34 795.52h0.6M131.56 826.05h0.6M127.86 812.09h0.6M142.53 801.53h0.6M127.39 814.4h0.6M149.36 817.01h0.6M148.02 795.65h0.6M142.87 803.31h0.6M146.46 830.27h0.6M135.77 788.57h0.6M142.46 823.75h0.6M144.35 820.66h0.6M143.08 821.87h0.6M131.05 795.95h0.6M139.63 797.75h0.6M135.08 827.53h0.6M136.87 829.02h0.6M130.56 831.97h0.6M138.51 826.82h0.6M127.83 802.47h0.6M125.98 816.64h0.6M125.43 812.58h0.6M141.4 800.02h0.6M127.93 810.86h0.6M140.73 798.68h0.6M133.63 797.59h0.6M130.27 822.72h0.6M136.36 827.64h0.6M137.25 797.17h0.6M136.13 789.86h0.6M142.17 804.22h0.6M131.26 798.57h0.6M139.73 825.05h0.6M133.75 828.71h0.6M133.46 828.04h0.6M139.66 789.75h0.6M139.31 794.38h0.6M128.56 825.69h0.6M146.01 797.83h0.6M145.14 816.85h0.6M146.13 811.75h0.6M127.95 791.9h0.6M143.94 834.98h0.6M130.34 799.56h0.6M127.83 825.75h0.6M133.64 826.68h0.6M134.49 830h0.6M141.37 797.96h0.6M143.45 819.63h0.6M139.8 824.92h0.6M125.17 819.47h0.6M130.77 825.11h0.6M144.74 807.25h0.6M139.23 797.38h0.6M145.73 831.76h0.6M145.22 826.91h0.6M133.7 826.25h0.6M129.54 827.43h0.6M128.32 829.05h0.6M141.55 791.86h0.6M146.63 819.39h0.6M132.72 826.26h0.6M128.96 793.72h0.6M143.32 810.82h0.6M126.43 804.43h0.6M136.32 833.54h0.6M138.42 798.31h0.6M150.51 808.73h0.6M142.78 796.99h0.6M148.22 798.74h0.6M147.61 811.44h0.6M137.04 790.35h0.6M125.83 800.85h0.6M139.58 797.81h0.6M146.41 809.95h0.6M132.35 829.19h0.6M140.89 824.43h0.6M132.48 795.76h0.6M127.7 815.54h0.6M128.9 800.67h0.6M127.08 824.12h0.6M145.61 815.06h0.6M141.12 797.19h0.6M142.21 794.21h0.6M126.42 824.76h0.6M140.49 824.09h0.6M134.76 793.4h0.6M119.6 818.86h0.6M134.04 796.92h0.6M128.49 790.91h0.6M131.56 826.2h0.6M130.79 796.88h0.6M143.82 803.1h0.6M132.21 792.01h0.6M130.83 828.89h0.6M135.56 832.57h0.6M140.65 799.5h0.6M147.3 815.71h0.6M128.02 818.28h0.6M141.06 824.81h0.6M126 800.4h0.6M135.92 829.69h0.6M126.9 821.77h0.6M133.28 826.84h0.6M143.89 823.01h0.6M131.76 825.01h0.6M129.24 823.29h0.6M138.35 834.01h0.6M127.22 806.03h0.6M145.7 823.43h0.6M135.7 796.66h0.6M140.28 835.29h0.6M131.48 792.84h0.6M130.86 823.55h0.6M132.64 797.14h0.6M129.81 822.86h0.6M128.85 800.41h0.6M145.4 801.23h0.6M123.64 808.92h0.6M142.34 832.21h0.6M126.02 822.16h0.6M134.33 790.78h0.6M134.51 828.39h0.6M139.19 835.85h0.6M136.04 838.41h0.6M142 803.28h0.6M140.26 828.36h0.6M138.69 826.9h0.6M142.25 801.55h0.6M137.17 830.06h0.6M136.42 797.08h0.6M124.7 820.7h0.6M127.09 824.16h0.6M131.89 825.51h0.6M142.77 800.39h0.6M144.57 807.58h0.6M132.9 831.91h0.6M123.03 808.14h0.6M133.22 828.23h0.6M145.82 793.03h0.6M145.5 803.57h0.6M136.64 829.43h0.6M132.58 796.56h0.6M127.95 813.21h0.6M133.16 830.44h0.6M143.58 812.78h0.6M143.43 808.32h0.6M135.18 830.3h0.6M142.99 822.54h0.6M129.91 823.51h0.6M143.04 806.46h0.6M129.31 829.73h0.6M135.32 789.32h0.6M128.18 803.11h0.6M140.54 825.89h0.6M126.79 814.74h0.6M127.12 815.75h0.6M134.02 833.81h0.6M129.1 804.15h0.6M125.7 821.8h0.6M126.86 813.15h0.6M143.34 809.75h0.6M141.75 796.42h0.6M131.66 830.83h0.6M135.83 795.08h0.6M128.72 824.35h0.6M144.98 803.22h0.6M130.82 832.38h0.6M123.61 822.8h0.6M137.45 834.68h0.6M130.08 799.65h0.6M139 792.63h0.6M142.96 816.1h0.6M133.37 792.54h0.6M133.55 795.13h0.6M141.03 822.3h0.6M148.05 831.18h0.6M128.68 805.28h0.6M135.94 834.65h0.6M129.61 798.5h0.6M143.44 827.29h0.6M123.74 824.92h0.6M147.09 801.03h0.6M130.55 823.76h0.6M137.07 828.16h0.6M149.35 816.33h0.6M143.29 805.05h0.6M150.51 823.31h0.6M129.77 798.08h0.6M139.97 824.95h0.6M143.71 822.99h0.6M130.74 796.69h0.6M128.49 820.57h0.6M127.9 822.5h0.6M143.11 825.61h0.6M129.84 795.3h0.6M143.58 813.24h0.6M130.36 799.09h0.6M125.67 805.4h0.6M133.57 795.8h0.6M130.29 822.96h0.6M127.49 809.84h0.6M127.45 831.17h0.6M127.24 825.28h0.6M141.91 826.73h0.6M136.24 791.29h0.6M136.04 830.58h0.6M134.93 830.43h0.6M142.9 809.16h0.6M140.66 829h0.6M130.27 793.9h0.6M133.21 832.97h0.6M129.7 823.87h0.6M143 807.05h0.6M125.84 809.21h0.6M143.82 812.26h0.6M127.82 813.58h0.6M125.05 812.88h0.6M138.87 797.68h0.6M142.7 824.56h0.6M130.4 828.06h0.6M143.29 791.84h0.6M136.33 797.1h0.6M142.41 831.85h0.6M129.04 819.81h0.6M137.68 794.79h0.6M134.72 830.24h0.6M142.47 823.35h0.6M125.49 817.26h0.6M131.29 828.08h0.6M144.07 818.57h0.6M146.98 811.02h0.6M144.82 805.69h0.6M132.48 795.12h0.6M132.36 798.57h0.6M134.52 796.75h0.6M127.55 820.55h0.6M126.32 817.57h0.6M138.96 829.84h0.6M127.61 827.02h0.6M139.16 789.31h0.6M141.68 800.64h0.6M132.01 797.88h0.6M128.84 827.34h0.6M127.3 817.31h0.6M134.37 791.4h0.6M147.62 809.63h0.6M146.67 812.17h0.6M146.72 802.34h0.6M126.75 795.54h0.6M149.01 807.76h0.6M124.61 807.92h0.6M145.1 824.57h0.6M129.36 825.86h0.6M139.98 828.72h0.6M129.99 825.05h0.6M139.42 828.99h0.6M129.45 823.49h0.6M143.51 800.29h0.6M141.02 827.56h0.6M139.81 828.53h0.6M130.5 829.78h0.6M130.03 799.71h0.6M136.18 828.23h0.6M142.26 823.66h0.6M125.62 810.53h0.6M144.3 805.81h0.6M123.86 809.19h0.6M127.04 813.64h0.6M143.21 808.51h0.6M126.57 801.84h0.6M142.54 819.05h0.6M126.05 805.52h0.6M134.82 830.95h0.6M129.14 804.13h0.6M144.05 804.5h0.6M128.06 805.23h0.6M127.17 819.96h0.6M144.1 807.08h0.6M143.15 797.43h0.6M138.15 832.01h0.6M145.1 808.54h0.6M139.22 825.24h0.6M146.86 811.28h0.6M132.76 795.7h0.6" stroke="#3340f0" stroke-width="0.6" stroke-opacity="0.6"/>
<path d="M134.8 824.53h0.8M141.94 812.87h0.8M140.91 803.41h0.8M130.1 802.43h0.8M129.96 818.88h0.8M141.33 808.03h0.8M142.54 815.01h0.8M138.29 802.54h0.8M142.62 814.21h0.8M129.1 809.63h0.8M132.62 821.95h0.8M130.81 801.34h0.8M135.15 823.46h0.8M136.63 798.96h0.8M131.92 803.29h0.8M142.31 812.5h0.8M131.97 802.77h0.8M128.75 812.83h0.8M141.14 820.01h0.8M135.56 800.29h0.8M141.61 818.49h0.8M136.45 799.53h0.8M137.73 798.85h0.8M129.58 817.48h0.8M140.77 817.45h0.8M132.02 821.13h0.8M132.34 800.44h0.8M130.16 816.3h0.8M129.85 816.3h0.8M131.72 803.02h0.8M137.58 799.11h0.8M141.16 809.21h0.8M136.03 799.68h0.8M140.55 822.01h0.8M131.21 822.02h0.8M134.96 826.13h0.8M141.95 812.92h0.8M137.69 824.77h0.8M138.99 824.35h0.8M137.16 801.61h0.8M142.98 811.54h0.8M141.09 814.55h0.8M140.65 805.39h0.8M141.37 812.69h0.8M139.91 819.69h0.8M139.74 801.7h0.8M142.65 812.54h0.8M141.73 812.43h0.8M141.24 821.33h0.8M128.45 813.08h0.8M128.8 808.56h0.8M133.13 801.95h0.8M130.97 801.75h0.8M138.82 801.85h0.8M129.11 806.02h0.8M135.46 822.86h0.8M138.84 802.83h0.8M129.05 813.79h0.8M142.64 809.96h0.8M135.19 825.63h0.8M132.19 802.22h0.8M129.7 809.9h0.8M140.57 818.8h0.8M128.26 813.79h0.8M129.66 807.77h0.8M141.01 806.27h0.8M133.61 799.95h0.8M134.12 800.79h0.8M128.8 813.22h0.8M141.01 817.35h0.8M132.63 821.41h0.8M142.49 807h0.8M135.17 800.64h0.8M128.93 805.92h0.8M131.51 800.21h0.8M139.4 800.25h0.8M134.32 800.91h0.8M140.87 804.86h0.8M138.52 800.49h0.8M131.26 803.37h0.8M129.82 807.69h0.8M133.84 823.69h0.8M142.37 817.36h0.8M133.32 798.92h0.8M131.05 820.53h0.8M141.6 819.9h0.8M133.97 825.25h0.8M141.07 806.35h0.8M137.32 825.78h0.8M131.12 801.64h0.8M130.57 816.56h0.8M133.4 823.71h0.8M141.42 818.4h0.8M135.87 798.36h0.8M136.68 824.84h0.8M133.18 801.02h0.8M130.46 817.4h0.8M135.3 826.24h0.8M130.03 809.77h0.8M138.57 822.22h0.8M139.22 822.35h0.8M141.49 818.04h0.8M129.34 804.11h0.8M132.44 799.14h0.8M131.28 821.42h0.8M135.85 799.04h0.8M129.34 818.2h0.8M140.84 819.46h0.8M140.68 803.29h0.8M137.52 824.16h0.8M129.05 810.89h0.8M140.08 821.49h0.8M129.98 809.81h0.8M129.65 813.61h0.8M138.36 800.92h0.8M142.5 810.59h0.8M142.8 809.94h0.8M128.41 815.12h0.8M142.41 812.65h0.8M131.04 817.99h0.8M130.71 818.95h0.8M140.9 818.97h0.8M135.38 826.29h0.8M140.68 819.11h0.8M132.33 823.25h0.8M128.4 808.75h0.8M131.02 801.79h0.8M129.38 804.34h0.8M131.19 819.45h0.8M129.63 810.47h0.8M142.82 815.32h0.8M140.38 806.36h0.8M129.76 806.74h0.8M137.92 825.01h0.8M135.37 800.24h0.8M137.98 823.92h0.8M138.1 798.9h0.8M129.36 814.35h0.8M137.31 824.47h0.8M142.22 810.75h0.8M134.28 798.9h0.8M137.45 822.88h0.8M128.25 813.58h0.8M139.36 799.33h0.8M131.76 822.43h0.8M135.46 799.11h0.8M130.6 803.15h0.8M139.87 801.55h0.8M129.73 810.96h0.8M134.86 801.08h0.8M133.7 797.85h0.8M131.14 800.76h0.8M135.94 797.46h0.8M130.21 804.88h0.8M140.37 818.59h0.8M142.68 808.71h0.8M135.45 800.27h0.8M131.9 823.88h0.8M139.68 823.55h0.8M137.21 825.25h0.8M131.98 820.91h0.8M138.34 799.54h0.8M131.54 822.09h0.8M131.43 822.23h0.8M141.88 806.66h0.8M136.2 798.6h0.8M129.55 804.43h0.8M138.52 823.82h0.8M131.56 821.88h0.8M142.38 817.69h0.8M142.91 811.76h0.8M134.31 826.31h0.8M141.4 813.59h0.8M141.19 808.08h0.8M132.94 801.7h0.8M140.53 805.49h0.8M136.69 824.75h0.8M141.01 821.67h0.8M138.04 824.1h0.8M130.08 814.12h0.8M130.04 807.47h0.8M142.54 812.51h0.8M129.69 813.56h0.8M138.34 821.66h0.8M135.51 800.08h0.8M137.5 826.02h0.8M133.55 825.5h0.8M129.54 812.59h0.8M138.42 798.52h0.8M141.71 819.37h0.8M142.47 812.2h0.8M130.07 813.46h0.8M136.07 800.08h0.8M134.74 798.36h0.8M140.79 807.36h0.8M133.7 799.14h0.8M141.83 812.12h0.8M138.44 824.43h0.8M129.53 810.04h0.8M131.34 821.62h0.8M139.25 799.9h0.8M138.82 799.61h0.8M136.5 823.88h0.8M142.03 813.84h0.8M130.32 817.11h0.8M139.91 820.95h0.8M140.59 817.18h0.8M133.12 822.27h0.8M134.89 797.79h0.8M128.7 807.11h0.8M141.29 804.12h0.8M141 808.64h0.8M131.67 820.97h0.8M139.98 803.86h0.8M140.94 806.99h0.8M130.11 814.54h0.8M134.83 824.21h0.8M133.74 801.38h0.8M141.55 804.06h0.8M141.7 807.28h0.8M129.95 812.96h0.8M135.99 825.54h0.8M131.54 821.8h0.8M142.59 814.8h0.8M142.6 808.34h0.8M138.6 822.94h0.8M136.62 798h0.8M130.12 814.4h0.8M142.09 805.38h0.8M130.52 818.72h0.8M139.75 819.82h0.8M129.55 817.55h0.8M131.17 804.99h0.8M129.69 814.93h0.8M135.05 824.25h0.8M141.54 814.64h0.8M131.27 819.14h0.8M133.17 823.12h0.8M132.68 821.51h0.8M131.81 819.99h0.8M130.04 804.01h0.8M132.87 800.04h0.8M130.11 815.3h0.8M136.13 823.08h0.8M131.94 822.59h0.8M129.01 810.02h0.8M131.84 822.94h0.8M141.4 819.11h0.8M139.24 801.82h0.8M141.8 810.9h0.8M140.65 801.61h0.8M138.94 799.03h0.8M139.94 804.27h0.8M142.33 807.9h0.8M128.3 812.45h0.8M139.22 823.36h0.8M133.48 823.11h0.8M137.65 822.29h0.8M142.91 814.06h0.8M129.79 815.2h0.8M130.26 819.12h0.8M128.82 815.8h0.8M136.17 801.17h0.8M130.4 806.84h0.8M129.82 820.68h0.8M140.08 804.39h0.8M135.32 823.1h0.8M142.68 815.95h0.8M131.03 803.79h0.8M130.84 819.5h0.8M137.75 824.45h0.8M133.11 798.81h0.8M134.85 822.89h0.8M130.3 816.4h0.8M128.47 808.83h0.8M141.5 806.82h0.8M137.76 825.12h0.8M140.42 801.06h0.8M130.42 816.14h0.8M134.1 824.64h0.8M129.3 811.02h0.8M129.24 809.39h0.8M131.35 804.27h0.8M131.5 821.33h0.8M140.29 822.11h0.8M134.73 826.47h0.8M141.38 803.19h0.8M131.05 805.21h0.8M133.25 800.5h0.8M129.89 810.13h0.8M128.61 812.07h0.8M129.65 806.5h0.8M141.78 804.48h0.8M133.41 801.3h0.8M132.57 802.51h0.8M141.17 805.86h0.8M142.6 815.22h0.8M136.75 826.38h0.8M140.62 805.79h0.8M142.27 809.68h0.8M129.4 811.39h0.8M142.89 810.72h0.8" stroke="#1d8cf8" stroke-width="0.8" stroke-opacity="0.9"/>
<path d="M139.65 804.92h0.8M133.03 818.15h0.8M131.22 816.53h0.8M131.77 804.6h0.8M135.76 803.31h0.8M131.2 817.74h0.8M130.47 809.13h0.8M135.85 819.38h0.8M137.47 802.97h0.8M136.98 820.36h0.8M136.25 801.63h0.8M132.61 802.95h0.8M135.88 822.46h0.8M140.49 814.19h0.8M135.35 802.34h0.8M131.85 805.26h0.8M133.46 819.19h0.8M130.27 809.93h0.8M137.39 803.8h0.8M132.2 820.32h0.8M137.22 818.8h0.8M132.29 806.44h0.8M139.98 808.54h0.8M131.14 812.29h0.8M136.94 802.61h0.8M136.3 819.42h0.8M135.45 820.09h0.8M138.34 804.62h0.8M134.16 819.6h0.8M132.5 807.41h0.8M132.97 802.55h0.8M137.61 804.13h0.8M131.58 815.3h0.8M140.39 806.78h0.8M136.41 819.28h0.8M130.88 811.41h0.8M133.71 805.57h0.8M139.79 806.17h0.8M139.7 811.82h0.8M131.34 810.26h0.8M140.39 810.78h0.8M131.29 813.35h0.8M137.27 805.05h0.8M133.73 804.7h0.8M139.64 817.49h0.8M132.64 806h0.8M135.22 821.9h0.8M139.51 811.84h0.8M134.56 802.69h0.8M133.53 820.82h0.8M136.8 820.59h0.8M130.23 812.87h0.8M139.87 809.81h0.8M139.22 804.49h0.8M138.59 820.04h0.8M135.67 822.68h0.8M132.42 803.94h0.8M133.39 820.83h0.8M132.14 817.15h0.8M136.97 804.82h0.8M131.54 810h0.8M131.2 808.97h0.8M139.08 814.92h0.8M131.89 804.86h0.8M137.49 803.87h0.8M139 805.94h0.8M133.25 818.5h0.8M139.47 805.78h0.8M139.8 813.24h0.8M131.02 817.76h0.8M133.05 821.09h0.8M133.95 819.45h0.8M139.94 813.27h0.8M130.5 814.07h0.8M134.51 822.61h0.8M134.23 804.44h0.8M138.17 820.51h0.8M139.75 809.83h0.8M132.26 817.45h0.8M139.57 816.36h0.8M135.65 822.53h0.8M140.1 811.09h0.8M132.99 819.57h0.8M131.46 812.34h0.8M138.63 804.39h0.8M138.7 820.15h0.8M139.43 815.13h0.8M139.31 805.75h0.8M132.77 806.89h0.8M137.83 818.49h0.8M133.82 804.63h0.8M135.68 821.98h0.8M140.2 811.44h0.8M139.34 819.08h0.8M135.31 803.9h0.8M139.89 808.71h0.8M137.2 819.92h0.8M139.64 812.05h0.8M139.86 813.13h0.8M140.21 809.73h0.8M132.14 818.23h0.8M132.18 816.67h0.8M135.44 820.88h0.8M131.26 815.95h0.8M139.22 814.23h0.8M139.24 815.91h0.8M133.37 818.19h0.8M131.97 814.66h0.8M131.8 813h0.8M137.51 803.05h0.8M134.48 803.57h0.8M138.53 820.31h0.8M135.81 819.61h0.8M131.06 812.66h0.8M139.93 818.44h0.8M137.25 820.48h0.8M134.26 818.91h0.8M137.5 804.9h0.8M132.51 805.34h0.8M139.63 813.42h0.8M132.63 818.5h0.8M135.86 802.01h0.8M137.24 801.76h0.8M134.66 801.53h0.8M138.02 819.53h0.8M135.08 802.51h0.8M131.4 806.11h0.8M136.53 819.5h0.8M131.79 805.73h0.8M133.3 818.52h0.8M130.94 815.84h0.8M136.77 820.15h0.8M139.94 812.4h0.8M139.41 807.72h0.8M132 814.88h0.8M138.8 819.79h0.8M138.39 818.13h0.8M139.41 806.52h0.8M139.3 804.71h0.8M140.91 812.71h0.8M133.05 803.31h0.8M130.67 810.17h0.8M140.28 815.68h0.8M133.68 820.82h0.8M133.71 820.46h0.8M138.51 806.16h0.8M139.82 809.1h0.8M133.85 819.85h0.8M137.7 803.54h0.8M131.15 813.89h0.8M133.44 802.82h0.8M131.88 804.83h0.8M139.24 814.46h0.8M134.59 801.86h0.8M133.41 818.28h0.8M134.71 820.39h0.8M132.96 819.6h0.8M139.16 808.88h0.8M134.78 804.73h0.8M135.8 819.49h0.8M136.59 819.68h0.8M138.91 819.87h0.8M132.59 804.19h0.8M140.74 813.54h0.8M131.95 819.39h0.8M139.82 806.16h0.8M135.61 804.28h0.8M135.03 821.35h0.8M135.78 803.06h0.8M133.26 802.75h0.8M131.38 817.39h0.8M131.49 816.54h0.8M138.19 820.96h0.8M132.78 817.7h0.8M139.37 808.77h0.8M133.77 818.96h0.8M130.61 812.81h0.8M132.78 806.31h0.8M139.75 807.51h0.8M134.3 804.22h0.8M131.59 807.04h0.8M132.83 819.78h0.8M135.68 820.95h0.8M138.05 820h0.8M140.37 809.19h0.8M131.64 819.3h0.8M139.56 809.44h0.8M136.06 804.08h0.8M140.31 808.72h0.8M133.15 818.7h0.8M131.6 810.97h0.8M131.34 809.17h0.8M132.03 815.84h0.8M132.74 804.73h0.8M130.58 812.71h0.8M135.85 820.48h0.8M139.87 811.02h0.8M132.82 820.83h0.8M133.6 820.17h0.8M138.22 817.94h0.8M130.97 806.55h0.8M137.27 804.57h0.8M131.36 815.52h0.8M131.06 813.65h0.8M135.8 802.14h0.8M137.64 818.72h0.8M140.29 808.44h0.8M134.86 819.92h0.8M138.44 820.16h0.8M139.78 809.16h0.8M140.02 812.57h0.8M138.88 819.11h0.8M137.64 819.43h0.8M133.86 804.57h0.8M134.3 819.7h0.8M140.48 813.12h0.8M139.33 808.78h0.8M135.02 820.21h0.8M137 821.7h0.8M134 802.35h0.8M134.46 819.76h0.8M133.38 805.06h0.8M139.69 814.97h0.8M135.91 820.24h0.8M130.97 812.43h0.8M139.13 819.35h0.8M140.26 812.14h0.8M132.19 815.28h0.8M131.11 807.73h0.8M139.74 814.97h0.8M131.7 816.22h0.8M139.32 815.62h0.8M133.56 802.05h0.8M139.65 816.18h0.8M133.79 803.35h0.8M132.33 816.68h0.8M138.82 816.58h0.8M131.82 807.6h0.8M139.55 815.44h0.8M139.12 803.9h0.8M140.1 811.01h0.8M130.58 812.68h0.8M130.54 810.55h0.8M132.66 816.87h0.8M137.87 819.03h0.8M132.39 806.88h0.8M138.95 805.23h0.8M134.67 802.36h0.8M131.98 809.31h0.8M132.07 816.11h0.8M139.43 806.13h0.8M131.89 818.43h0.8M134.67 803.99h0.8M137.69 805.91h0.8M140.69 814.43h0.8M134.32 802.28h0.8M130.63 809.53h0.8M132.87 805.91h0.8M139.67 812.84h0.8M131.57 808.36h0.8M136.96 802.96h0.8M131.51 816.19h0.8M133.69 821.61h0.8M132 803.9h0.8M136.38 803.6h0.8M138.57 805.02h0.8M133.51 819.31h0.8M131.87 812.32h0.8M140.07 810.18h0.8M132.28 807.67h0.8M139.91 809.72h0.8M139.04 805.71h0.8M135.56 821.17h0.8" stroke="#19c7c0" stroke-width="0.8" stroke-opacity="0.9"/>
<path d="M135.78 815.94h0.8M136.58 807.21h0.8M133.6 816.39h0.8M132.97 809.52h0.8M137.48 807.41h0.8M133.52 811.27h0.8M137.88 812.02h0.8M134.35 808.74h0.8M136.14 815.94h0.8M133.39 813.69h0.8M137.13 816.67h0.8M136.83 814.97h0.8M132.99 807.7h0.8M138.41 809.87h0.8M133.38 808.52h0.8M134.42 808.54h0.8M132.75 810.18h0.8M137.4 810.09h0.8M137.22 808.14h0.8M136.18 808.11h0.8M138.71 809.11h0.8M136.97 815.33h0.8M137.78 810.95h0.8M133.73 816.05h0.8M133.65 805.77h0.8M136.31 805.97h0.8M135.63 816.8h0.8M137.53 811.12h0.8M133.12 812.35h0.8M138.54 814.27h0.8M136.73 808.39h0.8M134.02 816.92h0.8M132.77 814.96h0.8M134.46 816.27h0.8M133.66 812.4h0.8M135.91 816.28h0.8M132.46 815.43h0.8M135.62 817.59h0.8M137.1 816.94h0.8M134.45 814.7h0.8M133.02 813.91h0.8M133.38 808.3h0.8M136.92 807.13h0.8M136.46 808.74h0.8M132.61 810.32h0.8M135.87 807.79h0.8M132.99 816.66h0.8M136.7 818.51h0.8M132.22 812.38h0.8M135.45 816.34h0.8M132.18 810.89h0.8M136.62 806.46h0.8M138.08 815.66h0.8M138.46 813.63h0.8M133.41 812.74h0.8M135.14 807.69h0.8M133.2 817.01h0.8M137.47 808.27h0.8M133.58 810.19h0.8M139.2 812.21h0.8M136.04 807.46h0.8M134.94 815.55h0.8M134.78 816.57h0.8M132.51 813.15h0.8M137.98 816.02h0.8M138.07 814.19h0.8M137.77 813.32h0.8M133.92 809.34h0.8M133.3 811.55h0.8M137.33 806.82h0.8M136.2 805.93h0.8M134.27 807.99h0.8M135.68 817.01h0.8M137.59 815.28h0.8M133.97 814.22h0.8M133.91 816.95h0.8M137.59 816.06h0.8M134.02 815.22h0.8M133.17 813.86h0.8M132.43 811.48h0.8M134.79 808h0.8M133.74 808.67h0.8M137.42 815.36h0.8M137.21 816.08h0.8M136.49 807.66h0.8M135.29 806.38h0.8M137.45 806.13h0.8M138.01 807.78h0.8M134.77 815.23h0.8M134.16 807.59h0.8M133.75 810h0.8M137.66 817.87h0.8M137.98 816.04h0.8M133.75 818.29h0.8M135.51 808.11h0.8M134.93 807.26h0.8M136.65 817.15h0.8M136.02 806.77h0.8M133.56 808.61h0.8M137.13 809.51h0.8M138.31 816.75h0.8M136.81 816.1h0.8M132.86 809.89h0.8M135.17 806.19h0.8M138.17 808.26h0.8M135.98 808.09h0.8M133.72 812.69h0.8M132.13 813.66h0.8M137.95 807.88h0.8M137.06 809.11h0.8M138.84 811.53h0.8M137.96 815.31h0.8M133.54 813.11h0.8M133.88 809.2h0.8M136.95 808.05h0.8M135.68 808.56h0.8M132.86 813.42h0.8M136.77 818.53h0.8M133.77 817.14h0.8M138.08 815.17h0.8M137.51 806.92h0.8M135.49 819.26h0.8M137.68 815.16h0.8M135.44 804.95h0.8M134.11 814.64h0.8M131.94 811.14h0.8M135.44 817.84h0.8M135.46 815.52h0.8M132.01 813.68h0.8M138.85 808.94h0.8M133.67 817.35h0.8M134.17 808.86h0.8M137.4 815h0.8M138.34 814.45h0.8M138.29 808.68h0.8M136.97 814.49h0.8M136.9 808.83h0.8M138.47 814.3h0.8M134 808.17h0.8M135.36 816.91h0.8M135.88 805.16h0.8M138.37 815.96h0.8M137 816.31h0.8M136.2 817.92h0.8M133.78 812.33h0.8M136.13 818.98h0.8M138.1 809.83h0.8M132.46 812.91h0.8M136.61 815.41h0.8M137.34 807.9h0.8M134.63 817.01h0.8M137.56 809.84h0.8M133.45 807.48h0.8M133.55 811.42h0.8M134.25 808.2h0.8M133.58 807.38h0.8M136.39 806.73h0.8M135.85 806.29h0.8M134.8 817.2h0.8M133.15 816.27h0.8M135.12 807.99h0.8M138.46 814.48h0.8M133.09 815.16h0.8M132.48 812.09h0.8M134.02 816.36h0.8M136.48 816.08h0.8M136.01 806.57h0.8M135.07 805.13h0.8M136.13 817.98h0.8M137.32 816.84h0.8M132.08 812h0.8M139.03 812.8h0.8M138.15 813.37h0.8M136.59 816.04h0.8M138.3 812.21h0.8M137.94 810.12h0.8M135.6 816.98h0.8M137.85 807h0.8M133.87 808.81h0.8M136.08 805.83h0.8M135.02 816.89h0.8M135.99 805.03h0.8M137.55 806.36h0.8M134.02 815.1h0.8M134.39 805.94h0.8M136.07 806.84h0.8M138.12 811.01h0.8M139.07 810.32h0.8M137.63 814.49h0.8M134.29 805.13h0.8M135.15 805.49h0.8M136.6 816.86h0.8M137.22 806.81h0.8M132.93 807.79h0.8M133.16 813.92h0.8M134.16 816.99h0.8M136.35 806.54h0.8M133.51 817.04h0.8M135.22 818.97h0.8M132.78 815.04h0.8M139.26 811.79h0.8M138.01 808.2h0.8M132.81 813.43h0.8M132.24 813.29h0.8M137.34 808.53h0.8M136.71 809.07h0.8M136.1 815.3h0.8M137.67 813.07h0.8M136.96 816.71h0.8M138.14 813.24h0.8M138.86 809.53h0.8M138.08 810.84h0.8M133.69 817.34h0.8M134.33 818.54h0.8M132.44 809.97h0.8M135.93 806.73h0.8M132.13 812.16h0.8M137.89 815.48h0.8M137.32 810.97h0.8M132.76 811.79h0.8M132.95 814.63h0.8M133.3 807.35h0.8M136.59 808.79h0.8M138.14 817.14h0.8M134.41 805.92h0.8M134.55 806.64h0.8M137.79 807.77h0.8M132.84 810.98h0.8M138.93 814.74h0.8M134.29 814.44h0.8M136.47 816.27h0.8M138.31 811.7h0.8M133.63 816.36h0.8M138.32 816.88h0.8M136.36 815.53h0.8M134.98 805.37h0.8M137.12 808.46h0.8M136.14 807.11h0.8M137.56 808.52h0.8M133.13 812.24h0.8M138.22 810.56h0.8M136.96 809.06h0.8M137.88 816.73h0.8M138.19 816h0.8M136.41 805.53h0.8M138.64 815.21h0.8M134.63 807.59h0.8M133.52 809.2h0.8M138.03 816.34h0.8" stroke="#3cc83c" stroke-width="0.8" stroke-opacity="0.9"/>
<path d="M136.71 814.36h0.8M135.21 810h0.8M134.4 813.33h0.8M135.89 810.41h0.8M136.45 810.37h0.8M135.09 809.64h0.8M134.94 809.14h0.8M134.69 813.73h0.8M134.96 809.81h0.8M135.93 808.94h0.8M136.27 814.43h0.8M136.92 812.19h0.8M135.61 814.77h0.8M136.05 809.59h0.8M134 811.79h0.8M136.51 814.22h0.8M136.12 814.58h0.8M134.38 809.66h0.8M134.96 813.62h0.8M135.86 809.44h0.8M136.52 810.68h0.8M134.12 810.38h0.8M137.15 811.43h0.8M136.32 810.43h0.8M136.41 809.78h0.8M133.96 811.07h0.8M134.95 814.02h0.8M136.4 814.85h0.8M134.76 812.12h0.8M136.27 814.77h0.8M133.94 811.09h0.8M134.51 814.11h0.8M133.94 811.81h0.8M134.94 813.29h0.8M135.43 809.57h0.8M136.04 814.32h0.8M135.15 814.81h0.8M135.96 809.44h0.8M135.95 810h0.8M135.74 814.19h0.8M135.15 809.67h0.8M134.71 814.59h0.8M135.2 814.43h0.8M134.92 814.63h0.8M137.04 813.75h0.8M136.61 812.97h0.8M136.89 812.38h0.8M135.95 808.87h0.8M134.47 813.7h0.8M134.23 813.68h0.8M136.84 813.27h0.8M136.72 811.35h0.8M135.18 810.13h0.8M136.73 810.98h0.8M137.23 811.61h0.8M136.02 814.61h0.8M134.4 813.59h0.8M136.6 810.34h0.8M136.79 809.56h0.8M136.39 813.84h0.8M134.3 812.19h0.8M136.63 814.19h0.8M134.9 815.02h0.8M135.32 813.87h0.8M134.99 809.69h0.8M134.48 809.49h0.8M135.08 813.43h0.8M136.26 813.25h0.8M136.78 813.41h0.8M134.75 809.15h0.8M135.98 815.33h0.8M137.1 813.29h0.8M136.19 813.18h0.8M134.18 810.95h0.8M134.86 812.74h0.8" stroke="#e2d21e" stroke-width="0.8" stroke-opacity="0.9"/>
<path d="M135.79 813.24h0.8M135.75 810.54h0.8M135.47 812.9h0.8M135.06 812.74h0.8M135.59 813.48h0.8M136.21 811.45h0.8M135.95 812.49h0.8M135.63 810.61h0.8M135.51 810.97h0.8M134.9 812.04h0.8M136.32 811.21h0.8M135.43 812.71h0.8M135.18 811.66h0.8M135.61 812.74h0.8M135.32 810.87h0.8M135.13 812.77h0.8M135.41 812.21h0.8M135.44 812.65h0.8M135.52 811.39h0.8M135.88 812.13h0.8M135.71 811.45h0.8M135.3 812.42h0.8M135.71 812.33h0.8M135.78 813.57h0.8M135.38 810.59h0.8" stroke="#f2561c" stroke-width="0.8" stroke-opacity="0.9"/>
<line x1="125.8" y1="787.3" x2="125.8" y2="852.8" stroke="#111" stroke-width="1.6"/>
<line x1="88.4" y1="804.7" x2="154.2" y2="804.7" stroke="#111" stroke-width="1.6"/>
<rect x="88.9" y="787.8" width="64.8" height="64.5" fill="none" stroke="#8a8a8a" stroke-width="0.8"/>
<text x="152" y="849.6" text-anchor="end">85.2</text>
<rect x="156.8" y="787.3" width="66.6" height="65.5" fill="#fff"/>
<path d="M210.29 811.76h0.6M196.57 810.51h0.6M203.62 818.08h0.6M197.31 823.51h0.6M203.86 804.21h0.6M205.88 813.9h0.6M202.2 812.58h0.6M203.59 821.16h0.6M211.96 812.52h0.6M191.73 807.04h0.6M208.58 811.56h0.6M206.21 807.42h0.6M199.79 793.41h0.6M196.7 827.18h0.6M202.67 809.88h0.6M203.29 807.1h0.6M201.9 823.64h0.6M199.9 843.09h0.6M192.2 824.61h0.6M205.96 821.86h0.6M209.78 815.99h0.6M209.92 810.54h0.6M202.31 807.96h0.6M206.97 818.12h0.6M211.87 809.56h0.6M212.37 806.15h0.6M202.73 822.8h0.6M200.48 810.69h0.6M195.58 816.49h0.6M202.75 846.94h0.6M215.73 824.77h0.6M218.24 822.91h0.6M200.09 818.67h0.6M196.33 801.71h0.6M197.57 823.27h0.6M200.62 806.66h0.6M199.45 832.18h0.6M192.05 821.23h0.6M193.9 821.44h0.6M198.75 812.49h0.6M197.95 826.54h0.6M193.77 818.21h0.6M198.75 798.59h0.6M203.46 839.09h0.6M207.85 809.21h0.6M208.57 807.12h0.6M202.71 819.27h0.6M199.45 798.12h0.6M199.6 804.4h0.6M203.4 815.56h0.6M196.58 803.14h0.6M213.39 808.66h0.6M187.15 805.25h0.6M217.04 817.39h0.6M196.3 813.89h0.6M198.83 807.54h0.6M190.63 814.54h0.6M198.18 790.28h0.6M199.17 815.35h0.6M193.05 816.58h0.6M199.79 830.47h0.6M200.3 804.96h0.6M212.43 815.05h0.6M197.46 848.54h0.6M212.33 816.45h0.6M192.29 802.16h0.6M209.77 794.61h0.6M201.69 797.62h0.6M202.01 795.59h0.6M197.23 816.42h0.6M186.28 841.99h0.6M182.49 849.43h0.6M182.94 828.11h0.6M166.83 811.86h0.6M194.88 830.56h0.6M175.4 838.17h0.6M174.07 835.37h0.6M161.05 831.37h0.6M180.12 827.92h0.6M173.11 823.48h0.6M187.56 839.16h0.6M180.81 836.85h0.6M175.01 822.66h0.6M163.96 840.89h0.6M175.03 834.6h0.6M170.73 833.89h0.6M185.47 841.45h0.6M176.49 822.95h0.6M194.47 844.25h0.6M176.86 830.85h0.6M177.2 843.76h0.6M185.95 823.52h0.6M169.48 842.98h0.6M165.34 826.59h0.6M178.48 839.25h0.6M184.68 838.12h0.6M179.69 830.61h0.6M174.85 825.68h0.6M175.92 839.43h0.6M189.93 829.09h0.6M167.5 833.14h0.6M178.51 832.35h0.6M184.42 849.78h0.6M187.12 825.78h0.6M197.36 836.78h0.6M167.78 818.07h0.6M186.58 842.63h0.6M181.85 829.9h0.6M178.56 830.91h0.6M190.14 839.81h0.6M176.08 820.19h0.6M165.48 832.37h0.6M173.41 835.63h0.6M185.31 842.03h0.6M195.41 835.22h0.6M167.61 832.77h0.6M166.93 822.08h0.6M167.36 828.57h0.6M175.98 843.76h0.6M193.84 833.47h0.6M189.57 840.8h0.6M177.08 828.97h0.6M185.17 832.76h0.6M196.47 832.9h0.6M168.57 825.4h0.6M191.07 832.22h0.6M207.91 831.95h0.6M199.32 850.59h0.6M159.8 825.55h0.6M193.17 848.57h0.6M164.04 829.54h0.6M177.09 834.83h0.6M158.58 819.86h0.6M174.15 836.41h0.6M178.39 825.53h0.6M192.09 838.32h0.6M187.32 849.48h0.6M174.8 822.77h0.6M172.34 832.44h0.6M163.86 833.67h0.6M172.29 840.38h0.6M182.21 840.49h0.6M189.95 836.3h0.6M177.17 840.88h0.6M187.81 820.21h0.6M173.76 831.66h0.6M187.09 837.17h0.6M174.76 837.68h0.6M166.01 819.54h0.6M211.41 840.61h0.6M177.87 822.94h0.6M188.88 821.21h0.6M175.25 840.09h0.6M196.03 844.75h0.6M207.94 839.35h0.6M166.51 827.65h0.6M183.82 829.71h0.6M188.44 832.04h0.6M186.18 828.97h0.6M161.29 818.09h0.6M197.04 845.26h0.6M181.64 843.98h0.6M174.63 839.31h0.6M192.08 846.02h0.6M183.07 829.8h0.6M162.5 816.26h0.6M173.04 833.56h0.6M191.47 841.5h0.6M203.08 830.99h0.6M166.89 835.37h0.6M190.18 838.29h0.6M191.78 824.3h0.6M175.98 827.81h0.6M173.99 833.29h0.6M194.23 841.25h0.6M178.07 825.78h0.6M197.43 848.36h0.6M188.14 830.64h0.6M190.23 839.07h0.6M176.06 832.23h0.6M181.26 833.63h0.6M197.3 836.22h0.6M201.03 849.65h0.6M175.74 836.29h0.6M185.43 834.67h0.6M170.58 828.13h0.6M168.42 832.55h0.6M176.34 838.39h0.6M182.84 830.24h0.6M185.1 828.35h0.6M196.26 829.08h0.6M191.35 846.52h0.6M192.07 846.51h0.6M168.38 821.34h0.6M187.32 836.48h0.6M183.21 831.49h0.6M175.98 831.59h0.6M170.02 825.79h0.6M181.58 830.28h0.6M183.2 844.3h0.6M192.66 833.38h0.6M186.47 835.1h0.6M170.15 824.33h0.6M161.41 825.69h0.6M181.86 834.68h0.6M188.66 842.88h0.6M176.28 829.95h0.6M174.49 828.3h0.6M191.17 844.33h0.6M170.86 825.45h0.6M182.66 838.85h0.6M179.04 819.41h0.6M161.93 813.82h0.6M192.21 845.96h0.6M186.66 830.86h0.6M188.27 837.23h0.6M213.51 812.57h0.6M202.3 832.63h0.6M210.33 839.94h0.6M212.38 824.75h0.6M212.52 819.35h0.6M200.96 799.94h0.6M211.25 824.87h0.6M211.04 824.53h0.6M216.96 811.13h0.6M211.86 809.1h0.6M203 799.66h0.6M203.12 834.75h0.6M206.61 830.12h0.6M203.96 795.06h0.6M198.9 834.13h0.6M204.29 798.44h0.6M201.89 798.65h0.6M197.26 825.9h0.6M198.33 792.28h0.6M212.69 804.8h0.6M196.86 824.05h0.6M212.65 822.96h0.6M197.81 823.87h0.6M201.51 791.83h0.6M196.29 811.47h0.6M200.3 799.78h0.6M211.39 806.61h0.6M209.39 829.66h0.6M197.18 788.64h0.6M212.1 823.41h0.6M196.26 811.94h0.6M209.11 804.27h0.6M192.18 821.25h0.6M190.32 823.11h0.6M202.26 796.49h0.6M211.28 815.81h0.6M200.17 829.41h0.6M205.81 800.7h0.6M202.84 833.58h0.6M203.88 790.95h0.6M203.39 791.61h0.6M212.02 803.84h0.6M200.66 833.24h0.6M210.6 822.76h0.6M208.4 796.3h0.6M216.43 816.59h0.6M203.59 833.36h0.6M211.75 821.12h0.6M215.07 816.73h0.6M208.65 800.82h0.6M199.27 797.95h0.6M196.45 824.15h0.6M201.26 799.03h0.6M214.43 820.11h0.6M202.02 833.73h0.6M213.6 808.56h0.6M215.69 804.35h0.6M204.96 832.2h0.6M193.8 822.55h0.6M208.55 837.55h0.6M207.05 799.36h0.6M195.83 816.45h0.6M208.3 835.48h0.6M199.59 831.56h0.6M198.53 834.82h0.6M209.13 825.27h0.6M186.94 821.64h0.6M202.85 793.98h0.6M210.81 820.31h0.6M196.23 808.64h0.6M211.14 828.27h0.6M200.63 840.74h0.6M194 819.51h0.6M195.7 818.86h0.6M193.23 802.3h0.6M199.24 828.48h0.6M211.27 821.03h0.6M213.51 804.39h0.6M195.71 800.08h0.6M197.96 843.95h0.6M212.67 804.24h0.6M213.85 819.51h0.6M199.07 796.06h0.6M195.43 822.8h0.6M208.77 833.12h0.6M196.41 826.5h0.6M212.76 807.33h0.6M205.23 799.87h0.6M204.87 831.06h0.6M201.32 799.94h0.6M199.85 795.12h0.6M213.2 825.63h0.6M194.77 820.7h0.6M196.21 808.04h0.6M209.25 801.8h0.6M199.4 799.39h0.6M212.28 813.78h0.6M190.96 820.31h0.6M195.76 819.21h0.6M200.81 793.15h0.6M213.94 829.92h0.6M207.76 802.23h0.6M211.66 819.45h0.6M195.24 839.88h0.6M196.32 803.97h0.6M207.87 830.96h0.6M195.2 807.27h0.6M198.35 825.16h0.6M210.17 822.9h0.6M213.71 818.39h0.6M204.04 831.16h0.6M209.29 836.46h0.6M196.51 824.48h0.6M206.82 829.24h0.6M214.18 819.23h0.6M212.1 814.56h0.6M211.57 820.88h0.6M199.55 833.65h0.6M210.76 825.49h0.6M196.12 821.77h0.6M209.37 803.56h0.6M208.12 799.32h0.6M211.67 808.3h0.6M196.61 800.32h0.6M203.23 830.13h0.6M197.13 824.56h0.6M209.87 792.91h0.6M212.4 830.26h0.6M214.4 809.35h0.6M195.38 825.97h0.6M209.29 833.58h0.6M196.36 816.28h0.6M215.7 815.93h0.6M199.66 795.58h0.6M213.15 822.47h0.6M194.69 826.14h0.6M205.82 799.42h0.6M195.72 813.32h0.6M197.53 833.11h0.6M208.36 836.61h0.6M209.25 827.23h0.6M207.09 838.8h0.6M199.13 799.09h0.6M194.56 803.68h0.6M204.18 794.13h0.6M193.89 812.37h0.6M211.28 816.2h0.6M201.22 835.6h0.6M207.4 800.17h0.6M198.33 826.9h0.6M203.25 791.5h0.6M207.89 829.15h0.6M196.82 821.26h0.6M197.46 806.37h0.6M186.37 826.17h0.6M195.7 811.61h0.6M213.64 813.63h0.6M196.31 828.97h0.6M190.08 797.84h0.6M199.06 827.29h0.6M196.09 811.22h0.6M213.98 830.25h0.6M207.11 801.42h0.6M193.92 796.56h0.6M202.55 830.66h0.6M197.41 805.66h0.6M206.12 795.32h0.6M215.37 826.04h0.6M208.8 831.56h0.6M206.75 797.7h0.6M213.28 818.4h0.6M213.08 810.23h0.6M215.1 817.78h0.6M197.91 795.97h0.6M210.91 834.04h0.6M212.29 811.19h0.6M212.88 802.24h0.6M195.14 812.07h0.6M203.45 836.49h0.6M201.77 837.11h0.6M204.68 791.53h0.6M195.74 820.06h0.6M215.29 811.81h0.6M208.72 801.54h0.6M209.86 802.51h0.6M197.86 803.42h0.6M193.53 808.52h0.6M207.81 830.65h0.6M197.39 806.61h0.6M193.94 827.46h0.6M208.18 828.27h0.6M208.3 829.15h0.6M211.92 817.05h0.6M211.84 810.24h0.6M207.61 799.38h0.6M199.29 800.86h0.6M205.7 797.13h0.6M204.67 834.03h0.6M200.48 800.7h0.6M211.51 825.28h0.6M197.52 827.9h0.6M201.35 800.64h0.6M202.02 832.97h0.6M195.34 817.53h0.6M195.5 808.6h0.6M196.11 814.32h0.6M195.75 806.28h0.6M213.52 805.67h0.6M212.75 821h0.6M199.64 795.69h0.6M201.33 828.94h0.6M213.66 808.34h0.6M195.83 809.91h0.6M211.76 823.03h0.6M203.65 799.53h0.6M216.31 811.16h0.6M202.04 799.95h0.6M199.61 798.53h0.6M195.99 806.54h0.6M210.46 801.69h0.6M202.62 798.28h0.6M197.1 821.43h0.6M195.69 817.84h0.6M214.42 835.61h0.6M207.03 801.28h0.6M196.27 820.76h0.6M206.66 800.67h0.6M196.98 824.03h0.6M200.29 829.4h0.6M210.55 806.78h0.6M197.72 832.25h0.6M211.21 809.9h0.6M207.94 799.1h0.6M204.56 791.87h0.6M195.81 803.31h0.6M197.24 808h0.6M200.57 830.93h0.6M201.32 795.14h0.6M211.84 833.15h0.6M193.61 825.32h0.6M201.06 796.07h0.6M211.97 813.29h0.6M205.11 800.14h0.6M195.9 824.11h0.6M210.62 821.94h0.6M211.16 806.63h0.6M202.58 799.53h0.6M195.23 819.29h0.6M210.03 832.74h0.6M201.83 834.57h0.6M200.36 830.81h0.6M199.62 801.8h0.6M211.22 826.58h0.6M203.71 799.28h0.6M199.84 802.25h0.6M197.62 800.98h0.6M214.79 830.85h0.6M213.58 804.67h0.6M196.33 812.76h0.6M210 830.54h0.6M210.52 821.61h0.6M198.63 802.43h0.6M195.82 814.1h0.6M211.57 814.98h0.6M212.24 823.79h0.6M196.82 808.43h0.6M205.32 833.09h0.6M213.63 808.61h0.6M205.95 832.64h0.6M202.97 799.25h0.6M197.35 802.74h0.6M211.63 818.34h0.6M199.4 827.96h0.6M208.47 801.74h0.6M204.76 793.04h0.6M195.92 807.51h0.6M214.31 810.91h0.6M201.19 828.79h0.6M196.97 807.7h0.6M210.38 802.81h0.6M210.85 804.33h0.6M205.53 798.7h0.6M212.81 812.63h0.6M195.59 819h0.6M198.96 798.73h0.6M196.01 816.4h0.6M199.13 795.63h0.6M195.21 804.51h0.6M197.52 805.65h0.6M204.5 799.77h0.6M195.3 821.93h0.6M196.89 791.22h0.6M201.65 799.25h0.6M198.44 803.58h0.6M213.23 807.31h0.6M197.96 794.24h0.6M203.93 798.46h0.6M202.21 799.21h0.6M195.48 820.76h0.6M195.88 800.48h0.6M197.28 827.12h0.6M195.4 804.97h0.6M203.92 831.16h0.6M197.08 805.1h0.6M210.06 804.15h0.6M203.93 793.92h0.6M211 810.08h0.6M209.49 824.95h0.6M211.74 818.75h0.6M197.96 833.5h0.6M210.83 798.18h0.6M216.45 825.53h0.6M208.91 831.4h0.6M209.98 796.03h0.6M194.21 791.08h0.6M208.05 797.49h0.6M198.36 791.59h0.6M210.22 823.32h0.6M213.59 819.72h0.6M207.58 801.12h0.6M210.98 822.39h0.6M207.46 799.95h0.6M195.26 836.96h0.6M207.79 827.91h0.6M196.22 812.43h0.6M199.25 833.44h0.6M210.99 827.62h0.6M212.52 800.87h0.6M212.51 827.34h0.6M207.21 835.7h0.6M196.74 809.93h0.6M189.86 802.28h0.6M207.77 829.81h0.6M199.59 836.29h0.6M201.48 797.89h0.6M208.63 827.81h0.6M200.65 831.45h0.6M196.93 804.16h0.6M208.4 828.84h0.6M211.38 809.34h0.6M209.34 825.19h0.6M207.46 830.53h0.6M200.13 832.87h0.6M192.54 830.66h0.6M199.4 801h0.6M212.73 803.74h0.6M195.07 816.05h0.6M199.17 803h0.6M197.76 804.87h0.6M209.66 827.39h0.6M211.39 810.25h0.6M206.78 839.93h0.6M213.05 843.15h0.6M216.06 799.94h0.6M198.33 797.46h0.6M197.87 824.83h0.6M198.41 803.68h0.6M195.41 811.75h0.6M213.42 834.39h0.6M203.23 798.38h0.6M207.21 838.89h0.6M214.02 807.31h0.6M192.85 830.31h0.6M198.36 832.27h0.6M210.16 823.29h0.6M206.46 836.59h0.6M195.7 818.61h0.6M198.66 841.04h0.6M209.41 829.26h0.6M212.54 803.91h0.6M201.22 830.05h0.6M198.68 830.86h0.6M199.33 833.24h0.6M208.88 827.15h0.6M214.15 817h0.6M195.51 808.48h0.6M213 818.13h0.6M196.53 823.38h0.6M197.9 798.89h0.6M209.13 799.6h0.6" stroke="#3340f0" stroke-width="0.6" stroke-opacity="0.6"/>
<path d="M197.4 817.53h0.8M209.69 808.25h0.8M198.46 822.11h0.8M210.36 821.43h0.8M209.24 819.32h0.8M197.68 807.63h0.8M203.88 827.86h0.8M200.46 824.74h0.8M199.46 824.78h0.8M202.31 804.55h0.8M198.91 821.53h0.8M205.72 825.61h0.8M205.39 825.66h0.8M197.91 816.02h0.8M204.9 803.68h0.8M209.65 813.71h0.8M209.18 818.86h0.8M209.83 821.21h0.8M197.12 819.66h0.8M201.71 826.4h0.8M205.59 801.62h0.8M201.59 804.9h0.8M208.84 808.24h0.8M204.89 828.49h0.8M201.62 828.54h0.8M199.94 804.38h0.8M199.38 824.13h0.8M209 807.28h0.8M197.99 819.43h0.8M209.46 818.09h0.8M205.37 803.4h0.8M208.7 808.97h0.8M209.03 819.68h0.8M204.14 804.09h0.8M198.18 819.15h0.8M206.62 802.19h0.8M209.1 818.94h0.8M205.81 801.64h0.8M209.96 814.21h0.8M200.02 824.98h0.8M198.27 817.9h0.8M210.09 813.42h0.8M201.11 827.73h0.8M204.88 827.61h0.8M197.63 816.59h0.8M204.75 801.42h0.8M197.95 806.73h0.8M206.17 824.84h0.8M200.31 806.26h0.8M205.08 804.34h0.8M202.25 804.1h0.8M208.64 822.42h0.8M203.87 803.37h0.8M209.96 811.52h0.8M209.27 824.15h0.8M210.23 819.48h0.8M197.6 808.54h0.8M198.27 807.47h0.8M204.14 800.31h0.8M200.47 824.03h0.8M200.1 824.75h0.8M205.09 827.28h0.8M200.81 803.79h0.8M203.37 828.8h0.8M209.72 809.63h0.8M198.08 811.75h0.8M209.26 816.93h0.8M197.14 815.77h0.8M199.7 825.68h0.8M200.83 801.61h0.8M198.29 810.25h0.8M209.27 810.29h0.8M210.56 818.84h0.8M199.88 823.69h0.8M209.42 818.37h0.8M198.23 819.94h0.8M209.41 808.92h0.8M198.61 810.92h0.8M206.93 824.15h0.8M209.11 804.91h0.8M208.31 805.14h0.8M205.18 827.26h0.8M202.47 829.25h0.8M202.63 804.07h0.8M200.96 826.57h0.8M201 802.09h0.8M202.73 801.81h0.8M197.53 816.1h0.8M204.97 827.72h0.8M199.6 808.01h0.8M198.18 809.33h0.8M205.96 827.09h0.8M206.57 802.2h0.8M201.07 804.91h0.8M208.21 823.04h0.8M199.55 825.18h0.8M202.34 804.46h0.8M210.75 819.23h0.8M210.37 813.59h0.8M209.79 816.38h0.8M199.79 823.8h0.8M206.23 827.02h0.8M201.38 828.02h0.8M197.25 816.05h0.8M209.25 810.76h0.8M209.32 805.63h0.8M207.62 823.76h0.8M208.63 805.62h0.8M210.32 813.32h0.8M209 821.06h0.8M199.74 803.3h0.8M202.93 800.43h0.8M202.66 804.03h0.8M205.78 827.58h0.8M198.97 806.76h0.8M208.65 824.49h0.8M201.83 825.66h0.8M197.97 815.6h0.8M199.97 823.73h0.8M199.13 807.78h0.8M202.81 828.43h0.8M201.71 804.94h0.8M207.33 825.07h0.8M198.42 817.79h0.8M197.9 815.55h0.8M202.16 826.71h0.8M208.42 808.49h0.8M198 817.43h0.8M198.03 822.52h0.8M198 809.85h0.8M204.97 801.61h0.8M201.2 802.93h0.8M209.87 813.54h0.8M199.15 803.77h0.8M207.47 823.93h0.8M210.53 821.1h0.8M205.83 803.47h0.8M198.02 821.68h0.8M210.55 808.85h0.8M200.44 805.37h0.8M205.99 826.63h0.8M203.04 826.8h0.8M208.15 804.04h0.8M199.49 806.41h0.8M205.42 825.49h0.8M200.03 806.68h0.8M209.25 811.55h0.8M209.21 817.36h0.8M199.11 824.46h0.8M206.41 804.88h0.8M209.97 820.26h0.8M200.99 826.81h0.8M202.33 827.06h0.8M204.21 828.33h0.8M196.86 816.6h0.8M209.61 817.68h0.8M207.03 827.72h0.8M210.34 821.55h0.8M197.76 813.2h0.8M197.41 811.92h0.8M200.05 804.77h0.8M199.31 821.99h0.8M209.37 812.41h0.8M199.51 807.08h0.8M198.6 821.86h0.8M196.77 814.12h0.8M205.21 800.67h0.8M201.44 827.37h0.8M197.44 821.09h0.8M204.69 829.32h0.8M210.78 814.38h0.8M203.9 801.72h0.8M200.32 805.82h0.8M200.41 826.03h0.8M208.94 821.85h0.8M197.27 820.21h0.8M201.31 826.17h0.8M204.68 829.45h0.8M203.81 827.41h0.8M202.49 803.9h0.8M206.51 804.31h0.8M209.86 807.35h0.8M201.03 804.67h0.8M210.59 812.73h0.8M207.61 807.1h0.8M202.88 801.33h0.8M205.38 829.31h0.8M204.04 829.2h0.8M199.2 826.42h0.8M197.18 814.8h0.8M199.2 808.37h0.8M203.08 826.29h0.8M198.15 822.43h0.8M202.61 803.83h0.8M207.65 826.97h0.8M206.85 803.97h0.8M197.54 817.71h0.8M198.82 823.98h0.8M206.3 803.09h0.8M197.49 812.01h0.8M199.67 804.47h0.8M202.48 803.68h0.8M210.49 810.08h0.8M197.83 809.66h0.8M198.75 822.63h0.8M197.66 808.35h0.8M210.36 821.62h0.8M197.66 814.35h0.8M197.09 817.41h0.8M209.53 816.43h0.8M203.71 826.43h0.8M204.09 801.16h0.8M199.09 808.58h0.8M208.38 808.12h0.8M205.23 828.48h0.8M197.88 814.07h0.8M204.61 800.93h0.8M210.15 820.35h0.8M205.55 803.92h0.8M201.99 826.32h0.8M200.29 826.39h0.8M197.97 822.34h0.8M200.38 827.7h0.8M208.38 824.62h0.8M206.04 803.95h0.8M206.63 801.66h0.8M206.11 804.04h0.8M203.67 802.73h0.8M204.25 826.25h0.8M210.33 819.73h0.8M208.87 805.08h0.8M201.94 800.95h0.8M196.6 816.06h0.8M199.25 808.51h0.8M206.07 805.01h0.8M200.51 804.01h0.8M198.72 804.39h0.8M205.9 804.5h0.8M210.88 811.18h0.8M207.94 823.32h0.8M208.11 822.5h0.8M209.45 815.14h0.8M208.75 819.73h0.8M206.93 806.06h0.8M210.84 810.5h0.8M205.65 801.75h0.8M197.83 807.99h0.8M209.54 813.94h0.8M206.71 802.94h0.8M210.15 810.65h0.8M196.87 815.87h0.8M204.18 825.93h0.8M203.8 802.48h0.8M198.35 805.09h0.8M201.4 802.9h0.8M199.05 806.98h0.8M208.8 807.76h0.8M208.33 806.12h0.8M205.74 801.14h0.8M208.49 821.89h0.8M198.4 818.75h0.8M198.24 817.34h0.8M198.16 822.71h0.8M208.04 803.23h0.8M202.41 803.78h0.8M203.68 827.5h0.8M198.27 824.47h0.8M196.64 814.84h0.8M209.37 806.25h0.8M199.53 805.16h0.8M206.94 805.04h0.8M202.51 804.29h0.8M209.08 821.11h0.8M202.44 826.51h0.8M197.17 815.62h0.8M209.92 816.59h0.8M202.7 826.9h0.8M208.95 818.77h0.8M200.11 806.59h0.8M197.16 816.82h0.8M209.04 824.53h0.8M198.56 821.26h0.8M200.16 805h0.8M210.52 819.75h0.8M208.74 807.05h0.8M205.58 825.97h0.8M201.5 802.28h0.8M207.17 802.59h0.8M197.33 815.49h0.8M199.11 808.87h0.8M197.05 820.19h0.8M209.36 824.6h0.8M199.53 803.14h0.8M197.97 809.09h0.8" stroke="#1d8cf8" stroke-width="0.8" stroke-opacity="0.9"/>
<path d="M199.6 814.63h0.8M199.76 817.28h0.8M198.75 811.83h0.8M199.5 816.39h0.8M198.39 815.09h0.8M208.02 817.55h0.8M205.17 825.3h0.8M206.6 822.42h0.8M209.06 817.34h0.8M205.72 825.1h0.8M208.23 809.24h0.8M208.32 818.52h0.8M205.11 824.93h0.8M203.7 806.28h0.8M207.7 810.9h0.8M198.51 816.04h0.8M207.33 822.67h0.8M206.78 820.39h0.8M199.29 820.28h0.8M202.57 825.05h0.8M204.68 805.04h0.8M198.42 814.63h0.8M200.63 823.25h0.8M204.62 804.91h0.8M205.21 806.68h0.8M199.93 807.99h0.8M205.72 821.64h0.8M204.75 823.11h0.8M198.87 813.42h0.8M206.47 805.61h0.8M207.97 820.82h0.8M208.92 815.59h0.8M201.11 820.76h0.8M205.54 823.21h0.8M207.55 807.42h0.8M200.99 809.34h0.8M202.76 824.03h0.8M202.75 823.04h0.8M204.19 807.14h0.8M200.51 809.2h0.8M199.79 817.59h0.8M207.77 817.96h0.8M207.78 814.07h0.8M204.36 806.08h0.8M208.18 820.97h0.8M200.26 811.86h0.8M207.82 810.82h0.8M204.06 823.15h0.8M199.1 820.1h0.8M202 805.77h0.8M204.25 822.94h0.8M205.84 805.79h0.8M199.64 818.72h0.8M203.22 823.99h0.8M206.97 808.75h0.8M202.44 806.63h0.8M201.6 808.88h0.8M206.88 819.55h0.8M205.79 806.26h0.8M205.88 805.23h0.8M205.73 808.32h0.8M203.94 807.5h0.8M207.6 821.36h0.8M208.69 813.22h0.8M199.25 811.07h0.8M199.12 814.68h0.8M204.04 824.9h0.8M207.36 809.87h0.8M199.72 820.99h0.8M208.03 820.34h0.8M207.75 810.91h0.8M206.51 822.62h0.8M207.6 812.42h0.8M204.78 823.69h0.8M208.81 811.25h0.8M203.22 807.72h0.8M201.59 824.55h0.8M199.32 813.74h0.8M202.65 825.35h0.8M202.72 806.25h0.8M199.16 815.61h0.8M206.13 821.49h0.8M205.05 807.1h0.8M201.8 807.89h0.8M204.13 822.63h0.8M208.02 810.11h0.8M208.23 813.59h0.8M200.22 808.54h0.8M208.88 814.97h0.8M208.63 813.93h0.8M200.03 822.57h0.8M199.76 813h0.8M200.11 819.25h0.8M198.88 810.66h0.8M208.36 820.43h0.8M207.28 821.33h0.8M199.79 813h0.8M208.74 814.13h0.8M207.81 816.29h0.8M207.64 814.12h0.8M204.64 824.26h0.8M207.64 810.28h0.8M207.31 811.71h0.8M204.62 824.56h0.8M205.03 824.08h0.8M207.42 808.21h0.8M207.35 811.55h0.8M208.84 811.66h0.8M199.07 812.38h0.8M205.19 823.05h0.8M200.05 811.11h0.8M207.57 809.44h0.8M201.64 805.8h0.8M200.09 807.44h0.8M202.85 825.4h0.8M199.03 817.61h0.8M206.07 806.05h0.8M207.48 819.52h0.8M201.92 824.53h0.8M198.9 812.07h0.8M199.91 810.51h0.8M204.8 823.52h0.8M207.7 811.07h0.8M200.15 820.85h0.8M207.83 819.51h0.8M208.95 815.55h0.8M199.8 816.98h0.8M201.18 808.84h0.8M204.49 806.35h0.8M200.63 820.73h0.8M198.89 811.8h0.8M208.41 815.66h0.8M198.99 815.55h0.8M204.94 806.69h0.8M206.66 823.73h0.8M201.24 820.38h0.8M201.86 822.17h0.8M208.54 820.04h0.8M200.63 807.07h0.8M203.01 804.98h0.8M201.76 822.55h0.8M208.45 820.09h0.8M199 813.57h0.8M206.26 823.19h0.8M206.63 807.19h0.8M205.12 807.82h0.8M205.65 822.18h0.8M199.51 818.03h0.8M202.03 806.4h0.8M204.43 824.88h0.8M204.15 825.32h0.8M208.37 818.71h0.8M199.67 820.84h0.8M207.79 815.05h0.8M200.09 820.95h0.8M203.72 806.33h0.8M200.73 821.94h0.8M207.54 809.99h0.8M207.2 818.26h0.8M201.62 808.42h0.8M209.01 815.73h0.8M200.45 819.49h0.8M200.71 823.33h0.8M207.37 812.88h0.8M203.15 804.78h0.8M199.04 812.04h0.8M208.69 813.97h0.8M200.25 808.43h0.8M205.59 823.04h0.8M203.44 804.2h0.8M209.1 815.99h0.8M207.54 812.55h0.8M202.72 822.76h0.8M202.49 805.68h0.8M206.98 810.99h0.8M207.33 810.65h0.8M201.05 809.42h0.8M203.58 822.39h0.8M207.55 813.41h0.8M206.7 819.67h0.8M201.19 823.46h0.8M205.17 823.13h0.8M205.95 823.82h0.8M205.43 805.36h0.8M205.18 808.14h0.8M202.32 822.88h0.8M207.44 821.5h0.8M201.6 806.6h0.8M205.93 807.33h0.8M205.82 825h0.8M205.85 821.58h0.8M208.14 820.89h0.8M202.64 822.24h0.8M199.27 814.73h0.8M203.85 807.5h0.8M206.39 821h0.8M201 823.25h0.8M205.92 807.11h0.8M205.86 824.43h0.8M208.31 809.96h0.8M198.73 815.48h0.8M207.57 815.03h0.8M199.69 820.47h0.8M200.99 823.1h0.8M202.65 804.51h0.8M198.88 815.94h0.8M200.48 818.57h0.8M203.76 824.69h0.8M207.17 818.99h0.8M199.93 809.6h0.8M200.29 807.27h0.8M204.54 822.91h0.8M203.13 806.89h0.8M202.9 823.75h0.8M201.72 821.77h0.8M201.26 823.94h0.8M208.07 820.99h0.8M205.15 822.49h0.8M200.99 823.53h0.8M202.24 824.26h0.8M203.23 805.83h0.8M202.96 805.05h0.8M202.31 822.19h0.8M201.89 822.57h0.8M205.46 821.64h0.8M209.04 815.31h0.8M199.21 809.36h0.8M204.3 824.68h0.8M200.24 821.21h0.8M199.62 816.1h0.8M208.48 817.69h0.8M199.56 811.34h0.8M206.39 808.46h0.8M201.34 822.22h0.8M202.71 823.47h0.8M202.98 822.21h0.8M207.72 821.88h0.8M205.38 823.54h0.8M204.87 807.78h0.8M208.13 811.82h0.8M200.25 817.47h0.8M200.85 820.17h0.8M203.01 806.56h0.8M200.24 820.55h0.8M200.09 817.33h0.8M200.83 821.85h0.8M206.55 805.9h0.8M204.19 823.82h0.8M203.48 825.1h0.8M207.71 815.38h0.8M203.63 804.38h0.8M200.33 809.48h0.8M202.4 823.04h0.8M206.14 821.28h0.8M203.35 804.47h0.8M207.51 814.12h0.8M206.91 807.64h0.8M205.31 808.03h0.8M206.5 822.02h0.8M200.11 818.13h0.8M201.46 822.83h0.8M200.78 808.19h0.8M204.24 824.73h0.8M207.28 810.37h0.8M201.55 823.61h0.8M199.06 814.05h0.8M208.13 809.41h0.8M208.14 821.06h0.8M202.6 806.49h0.8M208.12 819.71h0.8M204.43 824.72h0.8M199.07 812.51h0.8M203.24 825.06h0.8M208.23 813.11h0.8M206.86 808.59h0.8M205.35 805.12h0.8M208.9 816.22h0.8M207.37 807.89h0.8M207.1 823.64h0.8M207.99 812h0.8M206.79 809.42h0.8M206.88 821.18h0.8M200.97 821.23h0.8M206.89 809.81h0.8M199.57 812.03h0.8M199.07 820.03h0.8" stroke="#19c7c0" stroke-width="0.8" stroke-opacity="0.9"/>
<path d="M205.29 820.08h0.8M201.86 814.21h0.8M201.93 813.94h0.8M203.15 819.43h0.8M204.62 821.89h0.8M204 818.94h0.8M200.48 813.2h0.8M205.57 817.02h0.8M205.95 818.57h0.8M206.56 812.34h0.8M201.57 811.95h0.8M202.66 817.73h0.8M205.76 813.58h0.8M205.65 809.05h0.8M206.01 814.38h0.8M205.06 819.34h0.8M204.43 807.83h0.8M203.81 811.42h0.8M205.05 810.22h0.8M205.81 811.66h0.8M206.39 811.48h0.8M201 815.07h0.8M200.89 815.94h0.8M206.85 813.97h0.8M205.26 819.15h0.8M205.13 811.37h0.8M207.12 812.32h0.8M201.13 812.23h0.8M205.08 818.23h0.8M204.41 818.82h0.8M201.54 817.09h0.8M205.55 818.12h0.8M207.16 814.18h0.8M204.41 808.16h0.8M203.9 820.11h0.8M206.45 820.08h0.8M201.08 809.99h0.8M201.53 819.95h0.8M201.96 814.53h0.8M205.33 810.87h0.8M200.64 812.37h0.8M200.74 814.43h0.8M206.53 810.07h0.8M201.65 816.16h0.8M205.65 819.72h0.8M205.44 816.76h0.8M200.71 811.77h0.8M205.45 816.68h0.8M201.1 812.48h0.8M206.16 819.48h0.8M203.17 821.81h0.8M205.84 811.54h0.8M203.43 809.37h0.8M202.72 818.89h0.8M200.72 812.11h0.8M202.53 819.86h0.8M201.26 810.26h0.8M203.82 810.67h0.8M206.05 817.89h0.8M207.13 814.04h0.8M202.25 810.46h0.8M203.52 809.96h0.8M205.98 811.98h0.8M206.42 814.14h0.8M206.46 811.51h0.8M206.15 820.48h0.8M205.04 808.34h0.8M202.07 812.29h0.8M207.47 814.04h0.8M205.43 809.96h0.8M204.33 819.49h0.8M204.01 811.44h0.8M201.31 815.26h0.8M201.26 818.37h0.8M204.85 811.28h0.8M202.97 811.51h0.8M205.46 817.45h0.8M201.33 813.9h0.8M201.59 812.58h0.8M206.42 814.53h0.8M202.91 819.21h0.8M206.41 814.69h0.8M205.76 820.44h0.8M203.42 808.69h0.8M201.48 812.11h0.8M201.77 816.07h0.8M206.04 818.58h0.8M201.8 817.28h0.8M206.3 811.29h0.8M201.73 816.77h0.8M202.42 812.08h0.8M202.09 820.13h0.8M205.6 816.02h0.8M205.09 820.21h0.8M205.7 821.32h0.8M201.78 811.63h0.8M203.74 807.98h0.8M205.2 818.87h0.8M206.09 813.24h0.8M204.71 819.57h0.8M203.44 807.99h0.8M201.33 814.11h0.8M206.09 810.22h0.8M202.04 821.19h0.8M206.95 817.84h0.8M206.96 812.54h0.8M202.41 820.03h0.8M205.11 819.32h0.8M205.71 814.33h0.8M205.87 810.9h0.8M203.38 821.6h0.8M205.13 811.47h0.8M206.27 814.33h0.8M207.4 814.21h0.8M206.42 815.86h0.8M200.78 813.6h0.8M205.11 818.71h0.8M206.05 817.65h0.8M206.51 818.25h0.8M200.65 815.57h0.8M202.45 808.75h0.8M204.29 820.22h0.8M201.73 813.26h0.8M202.9 810.97h0.8M206.21 809.52h0.8M205.83 809.85h0.8M200.7 817.66h0.8M206.73 814.94h0.8M205.95 814.33h0.8M201.48 816.79h0.8M204.85 820.39h0.8M204.86 809.2h0.8M204.22 818.85h0.8M206.35 816.6h0.8M203.2 819.05h0.8M203.76 810.25h0.8M206.32 814.26h0.8M201.06 812.7h0.8M206.7 817.06h0.8M202.8 812.12h0.8M200.86 812.76h0.8M203.95 819.26h0.8M204.23 808.04h0.8M205.66 813.79h0.8M200.35 813.72h0.8M201.76 810.6h0.8M201.4 811.23h0.8M205.61 819.3h0.8M202.11 812.88h0.8M204.02 811.43h0.8M203.71 822.33h0.8M202.26 810.02h0.8M201.38 814.09h0.8M202.58 810.62h0.8M202.82 810.31h0.8M202.12 811.65h0.8M206.09 817.67h0.8M204.96 819.15h0.8M206.35 815.69h0.8M206.33 817.59h0.8M201.4 816.04h0.8M201.28 814.52h0.8M202.65 820.47h0.8M201.05 810.39h0.8M200.49 814.77h0.8M206.88 815.01h0.8M202.24 809.8h0.8M206.56 810.06h0.8M204.45 818.6h0.8M200.73 815.47h0.8M200.48 812.55h0.8M206.96 815.78h0.8M202.68 819.03h0.8M202.66 818.38h0.8M201.02 818.39h0.8M205.56 818.52h0.8M201.53 818.41h0.8M206.84 815.39h0.8M205.84 819.73h0.8M207.4 813.51h0.8M205.78 810.99h0.8M204.72 818.52h0.8M201.35 813.84h0.8M204.57 811.16h0.8M203.16 821.29h0.8M205.57 818.51h0.8M200.46 816.13h0.8M204.23 820.77h0.8M206.44 810.54h0.8M200.92 818.86h0.8M206.55 817.01h0.8M207.04 812.41h0.8M203.8 810.72h0.8M203.84 809.94h0.8M201.83 815.77h0.8M202.32 809.42h0.8M200.65 815.61h0.8M205.41 808.59h0.8M201.87 808.94h0.8M203.93 808.58h0.8M204.36 821.37h0.8M205.05 818.56h0.8M205.35 818.15h0.8M204.34 821.02h0.8M205.84 812.17h0.8M206.82 817.76h0.8M205.99 818.88h0.8M201.8 809.93h0.8M204.66 820.68h0.8M206.56 816.86h0.8M203.99 809.9h0.8M202.85 818.05h0.8M200.36 817.66h0.8M200.58 814.13h0.8M202.37 820.37h0.8M201.46 813.01h0.8M204.33 819.18h0.8M200.48 815.28h0.8M207.13 814.23h0.8M201.43 814.48h0.8M204.07 810.15h0.8M206.21 817.92h0.8M203.48 809.03h0.8M200.54 814.24h0.8M205.48 811.85h0.8M204 820.9h0.8M206.17 815.05h0.8M205.77 818.09h0.8M202.89 818.41h0.8M204.48 819.54h0.8M201.63 815.1h0.8M206.02 820.08h0.8M206.55 813.75h0.8M201.22 815.64h0.8M206.68 810.55h0.8M203.95 809.6h0.8M201.68 815.63h0.8M201.91 820.22h0.8M204.86 819.36h0.8M206.14 819.32h0.8M205.38 818.56h0.8" stroke="#3cc83c" stroke-width="0.8" stroke-opacity="0.9"/>
<path d="M202.96 814.64h0.8M202.52 815.59h0.8M203.28 816.42h0.8M204.14 817.63h0.8M204.5 813.89h0.8M203.86 811.67h0.8M203.67 812.69h0.8M203.58 817.24h0.8M202.88 816.15h0.8M202.48 816.03h0.8M202.93 816.7h0.8M202.79 813.96h0.8M203.89 812.23h0.8M202.78 813.22h0.8M205.04 817.08h0.8M204.23 812.94h0.8M204.19 817.06h0.8M202.45 813.97h0.8M202.68 814.1h0.8M205.3 814.78h0.8M202.76 815.48h0.8M204.05 812.19h0.8M202.55 813.65h0.8M204.15 817.24h0.8M202.49 815.17h0.8M205.39 816.11h0.8M203.68 817.58h0.8M202.41 813.5h0.8M205.42 816.08h0.8M204.9 815.89h0.8M202.51 813.22h0.8M204.16 812.07h0.8M204.28 816.9h0.8M204.32 817.56h0.8M205.19 816.85h0.8M204.5 813.09h0.8M202.57 815.36h0.8M202.53 813.47h0.8M203.81 817.18h0.8M204.94 815.08h0.8M203 814.2h0.8M202.18 815.21h0.8M203.9 816.71h0.8M203.11 817.45h0.8M203.26 816.86h0.8M202.91 812.91h0.8M203.45 817.78h0.8M204.86 815.66h0.8M204.19 817.97h0.8M203.21 817.84h0.8M202.35 814.16h0.8M205 815.71h0.8M205.15 814.78h0.8M202.53 813.44h0.8M205.09 813.58h0.8M203.86 811.96h0.8M204.25 817.54h0.8M203.22 813.03h0.8M204.75 815.07h0.8M204.06 816.97h0.8M202.37 813.54h0.8M204.8 813.9h0.8M202.84 815.05h0.8M204.69 815.31h0.8M203.61 816.68h0.8M205 816.15h0.8M204.79 814.98h0.8M202.67 815.15h0.8M202.6 816.16h0.8M203.12 811.9h0.8M204.93 817.19h0.8M202.5 817.13h0.8M202.08 815.03h0.8M204.59 814.19h0.8M203.78 812.42h0.8M202.47 814.46h0.8M202.82 812.19h0.8" stroke="#e2d21e" stroke-width="0.8" stroke-opacity="0.9"/>
<path d="M203.96 816.06h0.8M203.56 813.89h0.8M204.04 813.89h0.8M203.63 814.15h0.8M203.11 815.33h0.8M203.58 816.34h0.8M203.88 815.62h0.8M204.21 814.71h0.8M203.64 813.83h0.8M203.81 814.66h0.8M203.91 814.38h0.8M204.11 813.87h0.8M204.32 816.02h0.8M204.3 816.25h0.8M203.19 815.13h0.8M204.07 815.33h0.8M203.38 814.61h0.8M204.3 815.1h0.8M203.68 814.13h0.8" stroke="#f2561c" stroke-width="0.8" stroke-opacity="0.9"/>
<line x1="194.6" y1="787.3" x2="194.6" y2="852.8" stroke="#111" stroke-width="1.6"/>
<line x1="156.8" y1="804.7" x2="223.4" y2="804.7" stroke="#111" stroke-width="1.6"/>
<rect x="157.3" y="787.8" width="65.6" height="64.5" fill="none" stroke="#8a8a8a" stroke-width="0.8"/>
<text x="221.2" y="849.6" text-anchor="end">81.8</text>
<rect x="225.7" y="787.3" width="66.6" height="65.5" fill="#fff"/>
<path d="M286.49 819.24h0.6M277.56 849.35h0.6M275.38 809.95h0.6M264.98 811.77h0.6M262.06 824.39h0.6M273.17 804.84h0.6M262.21 808.02h0.6M268.46 809.6h0.6M265.58 821.84h0.6M280.91 802.76h0.6M268.79 804.33h0.6M275.01 809.75h0.6M269.16 818.97h0.6M261.94 801.65h0.6M267.65 791.54h0.6M268.43 796.31h0.6M270.86 843.27h0.6M280.73 811.84h0.6M283.44 812.53h0.6M278.24 798.94h0.6M274.48 795.98h0.6M278.95 829.44h0.6M265.83 826.79h0.6M276.64 804.73h0.6M270.03 828.11h0.6M279.17 796.81h0.6M284.09 811.99h0.6M273.34 799.99h0.6M276.72 838.43h0.6M285.12 819.96h0.6M268.18 806.24h0.6M275.8 829.47h0.6M276.73 818.59h0.6M273.53 817.01h0.6M270.92 830.45h0.6M282.59 816.96h0.6M267.83 806.23h0.6M270.52 808.78h0.6M270.85 827.21h0.6M276.48 798.73h0.6M285.69 820.49h0.6M273.17 819.31h0.6M268.98 810.85h0.6M267.49 817.39h0.6M265.7 816.4h0.6M266.19 818.22h0.6M262.29 815.22h0.6M264.54 820.07h0.6M269.26 824.56h0.6M276.86 819.24h0.6M267.46 812.81h0.6M267.86 826.95h0.6M262.56 814.49h0.6M270.59 835.2h0.6M278.99 834.67h0.6M268.44 821.03h0.6M263.53 837.93h0.6M277.69 812.24h0.6M271.59 809.6h0.6M272.77 804.48h0.6M266.49 828.44h0.6M263.41 812.17h0.6M268.44 823.84h0.6M272.21 811.66h0.6M279.55 815.23h0.6M275.01 817.57h0.6M270.81 815.74h0.6M258.54 833.61h0.6M272.12 810.3h0.6M272.68 840.68h0.6M253.34 831.96h0.6M246.32 836.97h0.6M247.65 822.22h0.6M244.38 850.34h0.6M246.53 822h0.6M229.76 834.21h0.6M230.79 824.26h0.6M252.62 833.78h0.6M256.72 838.07h0.6M257.68 833.85h0.6M238.95 837.05h0.6M237.53 827.92h0.6M254.13 828.44h0.6M249.58 830.35h0.6M248.99 826h0.6M243.09 831.88h0.6M253.18 832.48h0.6M250.16 825.74h0.6M276.51 844.26h0.6M248.95 830.69h0.6M235.32 832.17h0.6M247.99 834.03h0.6M256.76 839.12h0.6M256.83 841.77h0.6M234.51 836.9h0.6M265.02 841.23h0.6M249 844.03h0.6M246.66 835.59h0.6M248.24 831.1h0.6M252.95 829.51h0.6M260.13 843.89h0.6M233.55 810.04h0.6M250.08 837.51h0.6M256.77 833.96h0.6M238.93 824.2h0.6M263.67 837.71h0.6M251.65 830.62h0.6M252.54 827.28h0.6M250.3 824.3h0.6M256.22 841.9h0.6M243.61 829.22h0.6M244.91 837.96h0.6M227.15 830.52h0.6M263.72 835.15h0.6M237.21 815.21h0.6M258.3 829.91h0.6M258.87 838.73h0.6M247.16 843.15h0.6M244.38 834.72h0.6M242.54 825.7h0.6M251.3 831.25h0.6M232.28 827.97h0.6M251.63 841.04h0.6M256.16 819.31h0.6M245.9 825.77h0.6M238.06 816.93h0.6M252.51 836.6h0.6M228.46 816.75h0.6M255.97 833.91h0.6M238.05 840.03h0.6M243.42 834.6h0.6M234.33 830.36h0.6M244.96 843.99h0.6M238.13 826.83h0.6M244.74 851.29h0.6M257.91 839.21h0.6M239.96 836.42h0.6M247.62 848.99h0.6M245.87 845.79h0.6M232.42 824.34h0.6M256.03 830.2h0.6M260.14 839.37h0.6M250.63 834.66h0.6M253.94 837.27h0.6M262.54 830.36h0.6M248.98 836.9h0.6M260.44 839.19h0.6M238.3 836.49h0.6M242.82 829.17h0.6M249.28 839.05h0.6M239.73 838.91h0.6M229.64 834.57h0.6M243.06 828.84h0.6M237.04 843.22h0.6M259.92 838.37h0.6M242.54 832.72h0.6M252.26 817.78h0.6M245.59 839.45h0.6M248.21 844.85h0.6M261.32 838.24h0.6M263.45 844.65h0.6M237.18 825.26h0.6M246.69 829.48h0.6M268.89 833.9h0.6M247.69 842.81h0.6M240.1 825.13h0.6M252.39 840.69h0.6M248.38 833.75h0.6M242.88 837.22h0.6M240.18 822.34h0.6M256.63 839.8h0.6M250.95 832.61h0.6M245.68 835.34h0.6M226.88 831.85h0.6M262.66 842.72h0.6M240.86 830.33h0.6M249.59 830.13h0.6M238.51 822.71h0.6M261.41 843.07h0.6M243.99 847.95h0.6M257.3 834.09h0.6M258.56 833.67h0.6M235.43 832.2h0.6M243.97 823.18h0.6M258.24 835.63h0.6M252.1 832.51h0.6M243.94 833.07h0.6M255.96 850.8h0.6M243.26 825.62h0.6M235.16 829.02h0.6M245.56 839.14h0.6M243.1 822.47h0.6M255.4 841.03h0.6M227.75 824.85h0.6M264.71 847.52h0.6M246.92 824.37h0.6M256.09 839.11h0.6M251.75 824.87h0.6M257.08 844.37h0.6M236.73 839.76h0.6M257.13 839.3h0.6M255.7 846.1h0.6M261.84 821.76h0.6M236.24 833.02h0.6M273.12 834.38h0.6M243.58 829h0.6M233.79 827.12h0.6M251.47 830.68h0.6M246.64 822.49h0.6M247.93 838.68h0.6M259.17 836.81h0.6M241.11 831.99h0.6M262.34 838.4h0.6M265.42 824.87h0.6M273.58 797.42h0.6M259.4 810.46h0.6M273.64 836.22h0.6M265.61 795.13h0.6M268.45 797.96h0.6M263.27 788.48h0.6M278.69 820.23h0.6M281.84 828.11h0.6M260.38 824.04h0.6M259.41 825.81h0.6M278.26 822.49h0.6M285.48 832.6h0.6M276.43 798.66h0.6M280.15 818.5h0.6M275.71 828.95h0.6M264.98 822.75h0.6M258.34 820.96h0.6M262.65 813.27h0.6M275.91 799.67h0.6M263.29 799.51h0.6M266.24 799.47h0.6M283.88 809.08h0.6M285.05 818.15h0.6M279.97 839.84h0.6M274.65 833.96h0.6M272.07 828.83h0.6M259.03 803.37h0.6M277.77 836.64h0.6M262.93 810.51h0.6M276.23 825.52h0.6M267.76 830.41h0.6M279.5 803.83h0.6M268.44 795.93h0.6M282.9 797.21h0.6M272.77 792.67h0.6M277.29 828.89h0.6M279.15 804.44h0.6M266.9 828.93h0.6M274.55 831.92h0.6M270.25 831.83h0.6M275.09 796.47h0.6M265.59 800.52h0.6M276.57 823.79h0.6M269.8 792.15h0.6M279.99 792.87h0.6M279.73 818.2h0.6M277.28 825.62h0.6M270.44 793.4h0.6M262.76 817.15h0.6M266.12 801.46h0.6M280.11 824.87h0.6M266.77 798.8h0.6M279.77 822.55h0.6M281.14 817.26h0.6M268.09 831.54h0.6M262.26 824.9h0.6M281.03 810.55h0.6M278.32 804.15h0.6M267.09 833.05h0.6M262.8 820.29h0.6M280.53 797.58h0.6M281.82 810.41h0.6M272.43 832.4h0.6M262.46 808.81h0.6M265.2 826.6h0.6M264.1 796.35h0.6M280.29 798.64h0.6M266.47 836.11h0.6M277.74 829.97h0.6M262.82 806.03h0.6M276.96 801.95h0.6M282.99 819.44h0.6M263.28 815.31h0.6M279.4 796.06h0.6M265.46 823.15h0.6M279.27 811.93h0.6M274.93 797.91h0.6M261.14 808.86h0.6M264.03 816.53h0.6M272.82 798h0.6M280.94 808.73h0.6M277.81 828.43h0.6M265.17 801.53h0.6M270.63 797.84h0.6M264.95 799.59h0.6M268.95 826.96h0.6M263.07 804.17h0.6M276 798.67h0.6M264.03 815.48h0.6M279.92 798.85h0.6M275.22 796.09h0.6M278.5 821.13h0.6M261.29 804.85h0.6M264.69 805.63h0.6M267.41 800.04h0.6M272.6 829.61h0.6M265.56 830.01h0.6M277.41 830.63h0.6M275.75 831.39h0.6M271.82 830.63h0.6M276.72 795.83h0.6M281.44 804.84h0.6M266.03 827.04h0.6M278.1 796.95h0.6M279.36 803.96h0.6M271.08 797.63h0.6M260.68 817.27h0.6M260.54 811.14h0.6M280.14 813.74h0.6M274.44 828.59h0.6M266.43 791.96h0.6M271.28 841.55h0.6M280.52 811.02h0.6M270.84 795.41h0.6M260.95 818.9h0.6M274.07 842.33h0.6M263.52 807.68h0.6M263.35 830.1h0.6M282.21 808.31h0.6M264.44 802.74h0.6M260.45 812.8h0.6M271.92 797.29h0.6M260.92 834.55h0.6M279.44 815.56h0.6M279.83 828.55h0.6M261.88 817.23h0.6M267.73 834.43h0.6M262.73 796.72h0.6M261.48 795.73h0.6M279.54 822.35h0.6M262.66 813.11h0.6M273.06 831.53h0.6M265.67 800.45h0.6M279.97 814.33h0.6M270.3 794.72h0.6M265.82 839.53h0.6M279.58 821.1h0.6M263.78 811.22h0.6M270.86 832h0.6M260.7 816.56h0.6M269.15 827.1h0.6M264.55 807.44h0.6M265.89 822.71h0.6M268.04 830.81h0.6M264.11 823.95h0.6M268.4 799.04h0.6M281.99 812.65h0.6M278.48 800.15h0.6M275.73 835.58h0.6M275.42 825.96h0.6M281 810.61h0.6M262.78 823.07h0.6M274.37 826.85h0.6M270.06 789.47h0.6M278.86 832.35h0.6M268.51 826.72h0.6M265.11 826.26h0.6M268.13 792.4h0.6M266.55 825.55h0.6M281.24 810.5h0.6M270.35 797.1h0.6M255.72 811.95h0.6M276.98 824.22h0.6M279.25 820.38h0.6M287.7 812.75h0.6M283.89 794.79h0.6M264.52 819.76h0.6M280.2 811.64h0.6M279.88 817.31h0.6M265.3 824.27h0.6M278.32 822.98h0.6M257.7 832.12h0.6M269.46 794.74h0.6M278.68 808.57h0.6M263.95 815.45h0.6M279.17 820.05h0.6M270.89 830.42h0.6M267.62 827.47h0.6M278.84 831.11h0.6M266.64 826.78h0.6M263.57 820.42h0.6M267.69 798.3h0.6M279.24 812.32h0.6M278.34 822.57h0.6M268.07 826.73h0.6M267.82 834.61h0.6M259.7 802.22h0.6M275.35 796.47h0.6M265.39 825.29h0.6M280.4 811.23h0.6M273.74 791.47h0.6M272.68 829.13h0.6M268.46 842.65h0.6M276.3 797.03h0.6M266.97 831.73h0.6M269.36 789.38h0.6M274.84 826.21h0.6M265.21 821.12h0.6M275.56 797.09h0.6M280.24 816.8h0.6M274.19 797.67h0.6M263.61 826.33h0.6M264.73 800.3h0.6M261.23 814.67h0.6M266.59 828.14h0.6M274.75 837.5h0.6M266.29 828.74h0.6M274.16 829.07h0.6M270.49 795.14h0.6M266.98 790.51h0.6M265.44 799.95h0.6M279.8 816h0.6M271.47 832.9h0.6M275.56 832.13h0.6M269.66 797.61h0.6M266.24 799.12h0.6M263 809.62h0.6M272.2 831.99h0.6M262.54 823.76h0.6M268.58 798.29h0.6M280.07 822.96h0.6M283.06 817.79h0.6M281.09 819.93h0.6M279.32 820.73h0.6M273.65 832.58h0.6M282.25 814.12h0.6M263.72 813.39h0.6M264.36 825.5h0.6M262.06 804.55h0.6M262.81 822.28h0.6M273.95 793.54h0.6M268.79 795.49h0.6M279.89 801.88h0.6M278.11 820.76h0.6M264 792.53h0.6M264.66 823.06h0.6M268.99 792.35h0.6M261.68 815.44h0.6M277.6 794.55h0.6M277.31 802.37h0.6M278.97 803.2h0.6M261.35 792.64h0.6M265.24 792.56h0.6M278.94 815.16h0.6M264.28 826.59h0.6M278.68 828.09h0.6M284.1 802.96h0.6M269.34 796.53h0.6M263.91 809.06h0.6M263.26 809.87h0.6M261.64 806.27h0.6M270.2 834.98h0.6M273.75 794.67h0.6M276.35 830.32h0.6M259.91 806.04h0.6M283.37 805.55h0.6M271.74 829.23h0.6M277.08 834.64h0.6M265 825.59h0.6M261.01 803.19h0.6M276.66 800.67h0.6M279.06 807.51h0.6M279.25 811.44h0.6M266.15 797.93h0.6M281.64 823.39h0.6M276.29 826.74h0.6M262.72 804.83h0.6M284.39 814.4h0.6M282.98 820.26h0.6M279.19 812.12h0.6M263.99 805.83h0.6M264.56 835.17h0.6M264.94 791.29h0.6M266.57 801.35h0.6M276.62 825.57h0.6M263.95 807.49h0.6M277.76 826.86h0.6M265.27 821.97h0.6M277 826.18h0.6M279.7 814.5h0.6M281.46 791.94h0.6M278.98 814.2h0.6M279.37 815.99h0.6M273.41 790.04h0.6M264.12 816.97h0.6M267.67 826.54h0.6M273.99 792.24h0.6M275.57 827.27h0.6M262.32 810.64h0.6M281.95 814.73h0.6M275.32 800.01h0.6M270.91 828.17h0.6M270.08 797.57h0.6M263.69 817.67h0.6M274.45 798.26h0.6M258.48 812.33h0.6M280.01 834.45h0.6M273.81 839.51h0.6M281.61 809.81h0.6M278.52 820.46h0.6M280.88 820.82h0.6M274.31 793.21h0.6M265.2 823.71h0.6M263.48 800.65h0.6M276.44 834.09h0.6M260.51 812.3h0.6M279.27 817.13h0.6M267.03 826.95h0.6M266.16 827.71h0.6M280.51 819.39h0.6M274.9 836.03h0.6M271.09 842.4h0.6M263.7 808.67h0.6M264.69 806.77h0.6M269.45 829.22h0.6M272.83 795.02h0.6M268.09 830.38h0.6M263.03 845.22h0.6M265.41 802.25h0.6M268.81 791.98h0.6M262.15 809.29h0.6M266.87 798.77h0.6M276.05 825.07h0.6M279.03 827.43h0.6M263.18 819.43h0.6M270.42 833.7h0.6M269.68 838h0.6M280.75 814.53h0.6M269.79 830.35h0.6M272.07 798.24h0.6M280.78 813.18h0.6M270.56 794.42h0.6M264.07 818.9h0.6M274.09 793.85h0.6M269.26 798.32h0.6M279.21 809.56h0.6M266.2 824.18h0.6M266.63 828.03h0.6M281.26 813.87h0.6M268.03 789.74h0.6M275.99 830.06h0.6M260.33 805.12h0.6M277.01 824.43h0.6M279.71 820.19h0.6M269.68 827.8h0.6M260.12 808.28h0.6M265.52 822.88h0.6M279.82 812.04h0.6M275.73 800.45h0.6M277.96 799.37h0.6M263.61 828.28h0.6M262.33 816.68h0.6M279.38 824.6h0.6M282.21 821.09h0.6M262.41 812.53h0.6M262.71 821.48h0.6M275.46 799.24h0.6M256.33 827.47h0.6M256.95 816.4h0.6M265.25 821.35h0.6M279.07 823.92h0.6M277.95 821.98h0.6M281.98 810.35h0.6M268.76 834.92h0.6M277.78 801.83h0.6M276.74 797.46h0.6M272.36 795.33h0.6M280.74 819.82h0.6M280.32 805.85h0.6M269.58 834.61h0.6M267.18 834.13h0.6" stroke="#3340f0" stroke-width="0.6" stroke-opacity="0.6"/>
<path d="M269.65 824.66h0.8M265.2 811.61h0.8M265.59 804.74h0.8M273.58 802.88h0.8M265.18 819.5h0.8M270.39 823.75h0.8M270.99 824.92h0.8M266.5 823.27h0.8M266.12 804.13h0.8M275.02 825.96h0.8M274.27 800.69h0.8M277.75 809.81h0.8M266.29 819.83h0.8M270.97 824.55h0.8M268.91 801.04h0.8M266.73 806.71h0.8M276.93 817.71h0.8M275.61 802.18h0.8M275.75 802.92h0.8M276.93 815.97h0.8M277.29 809.94h0.8M276.58 823.27h0.8M277 815.73h0.8M277.02 819.1h0.8M270.29 800.28h0.8M274.5 824.39h0.8M269.29 823.86h0.8M271.42 801.28h0.8M271.87 824.64h0.8M278.66 816.49h0.8M267.89 802.45h0.8M277.68 809.84h0.8M266.33 822.25h0.8M265.36 817.53h0.8M265.73 811.65h0.8M266.62 820.44h0.8M272.39 824.73h0.8M277.78 809.55h0.8M266.36 807.14h0.8M276.67 804.75h0.8M264.86 813.43h0.8M268.8 803.34h0.8M277.49 805.7h0.8M267.38 820.15h0.8M267.8 802.25h0.8M275.73 820.47h0.8M272.05 798.82h0.8M276.94 816.65h0.8M272.41 824.97h0.8M277.36 808.43h0.8M265.84 811.12h0.8M268.33 825.9h0.8M270.59 800.78h0.8M272.55 824.31h0.8M278.43 817.57h0.8M274.67 800.49h0.8M268.21 804.01h0.8M273.05 801.98h0.8M265.49 807.67h0.8M266.48 807.04h0.8M278.14 816.39h0.8M277.23 814.84h0.8M272.2 800.98h0.8M271.77 827.25h0.8M274.07 823.3h0.8M276.26 818.69h0.8M266.85 806.42h0.8M274.24 800.03h0.8M271.11 801.15h0.8M264.99 810.71h0.8M278.12 817.21h0.8M276.37 806.37h0.8M268.04 823.65h0.8M276.64 818.67h0.8M275.97 821.47h0.8M277.52 809.04h0.8M277.04 813.25h0.8M274.01 801.84h0.8M266.05 816.79h0.8M265.24 814.99h0.8M277.67 807.76h0.8M276.36 806.71h0.8M265.2 808.86h0.8M267.45 822.36h0.8M274.41 822.51h0.8M277.89 818.48h0.8M266.54 805.37h0.8M267.28 821.83h0.8M267.08 821.23h0.8M272.54 825.45h0.8M267.48 802.19h0.8M272.41 799.8h0.8M274.53 803.68h0.8M266.14 816.89h0.8M267.41 824.87h0.8M276.55 802.62h0.8M271.15 801.03h0.8M269.36 800.66h0.8M267.97 821.76h0.8M268.18 821.76h0.8M268.03 823.44h0.8M275.76 821.37h0.8M266.4 817.16h0.8M265.11 814.19h0.8M266.07 817.64h0.8M265.34 821.18h0.8M278.25 813.94h0.8M269.53 801.66h0.8M275.68 822.73h0.8M266.85 819.89h0.8M271.58 802.07h0.8M271.75 823.82h0.8M267.09 822.08h0.8M266.53 803.48h0.8M267.89 804.27h0.8M276.9 810.9h0.8M264.39 816.57h0.8M265.72 810.71h0.8M272.21 800.26h0.8M272.22 826.95h0.8M277.22 813.99h0.8M266.5 818.35h0.8M265.43 805.82h0.8M265.29 817.43h0.8M267.96 800.65h0.8M277.05 813.99h0.8M266.56 818.85h0.8M269.5 824.53h0.8M277.47 804.4h0.8M267.2 822.18h0.8M274.99 803.74h0.8M273.14 824.89h0.8M272.06 827.17h0.8M265.41 816.28h0.8M276.74 805.3h0.8M278.06 809.31h0.8M266.63 803.96h0.8M277.15 822.33h0.8M272.07 799.14h0.8M265.71 814.34h0.8M264.82 810.14h0.8M271.35 801.38h0.8M268 803.2h0.8M273.34 823.35h0.8M264.53 808.87h0.8M277.71 812.49h0.8M271.54 825.45h0.8M271.45 799.79h0.8M271.28 825.49h0.8M267 823.75h0.8M276.09 822.88h0.8M275.94 822.3h0.8M269.47 826.61h0.8M268.72 825.44h0.8M271.75 800.19h0.8M269.52 824.76h0.8M266.28 820.95h0.8M265.55 818.53h0.8M264.98 817.15h0.8M273.03 800.59h0.8M267.29 805.55h0.8M272.26 801.12h0.8M264.9 810.25h0.8M269.82 825.67h0.8M277.01 815.2h0.8M265.96 806.14h0.8M268.16 804.32h0.8M277.38 805.62h0.8M275.41 821.14h0.8M264.61 810.93h0.8M267.82 825.72h0.8M276.28 807.56h0.8M267.58 820.81h0.8M266 821.99h0.8M277.01 809.75h0.8M265.56 804.77h0.8M275.48 804.65h0.8M264.97 807.39h0.8M271.98 800.81h0.8M270.25 798.85h0.8M271.94 823.88h0.8M271.23 799.02h0.8M277.89 806.01h0.8M277.51 814.2h0.8M275.46 801.5h0.8M265.87 810.97h0.8M271.53 824.29h0.8M264.4 813.54h0.8M266.89 819.39h0.8M278.12 817.31h0.8M266.08 814.57h0.8M274.85 800.06h0.8M274.39 823.44h0.8M271.24 825.84h0.8M268.6 800.74h0.8M267.74 825.01h0.8M277.73 805.46h0.8M270.07 826.12h0.8M275.58 802.89h0.8M278.27 810.74h0.8M273.67 825.74h0.8M276.31 823.89h0.8M269.43 823.63h0.8M277.12 810.49h0.8M271.62 801.38h0.8M272.94 799.74h0.8M267.55 824.93h0.8M271.99 799.13h0.8M277.31 811.79h0.8M266.01 803.18h0.8M264.7 807.2h0.8M265.92 807.96h0.8M271.64 824.71h0.8M276.72 818.64h0.8M271.22 800.56h0.8M272.65 799.5h0.8M276.99 808.89h0.8M268.86 824.67h0.8M267.85 825.13h0.8M264.58 811.15h0.8M268.78 822.44h0.8M271.08 824.64h0.8M276.33 819.36h0.8M276.78 809.16h0.8M275.25 804.58h0.8M270.18 800.22h0.8M264.9 811.89h0.8M277.25 806.27h0.8M272.54 802.24h0.8M274.1 799.67h0.8M277.87 808.86h0.8M276.37 807.71h0.8M276.14 820.68h0.8M269.59 801.84h0.8M275.18 824.72h0.8M269.16 823.74h0.8M268.48 802.24h0.8M270.36 801.23h0.8M269.91 825.55h0.8M269.42 800.1h0.8M265.22 817.04h0.8M273.49 802.55h0.8M276.34 818.11h0.8M274.55 800.81h0.8M269.95 825.89h0.8M277.24 811.08h0.8M268.5 799.7h0.8M268.88 800.8h0.8M267.31 820.39h0.8M276.86 820.71h0.8M277.01 818.2h0.8M276.59 805.74h0.8M265.09 809.12h0.8M274.81 823.2h0.8M266.38 808.48h0.8M275.42 823.24h0.8M275.92 806.59h0.8M269.39 825.39h0.8M275.36 804.39h0.8M274.9 803.47h0.8M273.74 799.2h0.8M271.36 798.65h0.8M267.53 820.88h0.8M269.19 823.96h0.8M265.43 806.42h0.8M271.03 801.05h0.8M278.1 806.6h0.8M278.14 814.73h0.8M268.93 822.62h0.8M276.11 805.06h0.8M264.19 811.27h0.8M268.12 801.93h0.8M271.28 800.03h0.8M274.31 802.42h0.8M276.57 804.81h0.8M271.28 824.18h0.8M278.27 816.44h0.8M267.1 821.48h0.8M271.83 824.84h0.8M269.53 802.58h0.8M269.31 799.02h0.8M271.54 801.84h0.8M277.79 808.2h0.8M266.8 803.54h0.8M268.37 800.45h0.8M272.83 825.57h0.8M276.6 820.38h0.8M266.39 808.53h0.8M266.66 818.53h0.8M266.37 820.16h0.8M277.09 812.46h0.8M276.82 802.71h0.8M265.25 812.75h0.8M276.3 818.59h0.8" stroke="#1d8cf8" stroke-width="0.8" stroke-opacity="0.9"/>
<path d="M269.9 806.15h0.8M267.37 817.33h0.8M273.95 820.2h0.8M267.35 812.37h0.8M273.02 805.49h0.8M266.89 818.4h0.8M272.74 821.87h0.8M272.41 803.91h0.8M274.7 808.22h0.8M276.04 807.48h0.8M271.29 822.21h0.8M268.76 806.14h0.8M270.02 805.43h0.8M271.31 823.09h0.8M269.98 804.19h0.8M267.03 809.24h0.8M267.97 807.3h0.8M274.56 819.64h0.8M275.59 818.17h0.8M270.73 803.24h0.8M266.53 817.38h0.8M271.64 805.62h0.8M273.66 803.92h0.8M276.11 810.59h0.8M276.59 816.63h0.8M267.77 812.68h0.8M274.51 804.98h0.8M268.89 805.49h0.8M274.62 817.06h0.8M275.19 817.58h0.8M270.09 804.92h0.8M266.63 816.39h0.8M272.32 821.73h0.8M270.57 803.96h0.8M274.97 805.48h0.8M276.73 815.16h0.8M269.2 804.37h0.8M272.93 806.02h0.8M267.67 817.6h0.8M270.39 820.08h0.8M276.64 812.4h0.8M269.42 806.38h0.8M274.34 817.97h0.8M274.83 804.51h0.8M275.5 820.03h0.8M268.06 816.85h0.8M266.19 813.96h0.8M269.3 806.26h0.8M269.12 803.45h0.8M271.35 821.24h0.8M268.91 819.9h0.8M273.59 804.39h0.8M275.36 819.17h0.8M270.95 802.82h0.8M275.12 817.4h0.8M275.89 812.84h0.8M266.62 815.6h0.8M274.04 803.47h0.8M275.11 809.81h0.8M267.64 817.4h0.8M275.67 813.65h0.8M268.45 804.69h0.8M276.58 815.51h0.8M273.44 820.42h0.8M271.71 805.34h0.8M274.07 822.22h0.8M273.18 806.14h0.8M276.14 807.42h0.8M272.7 822.25h0.8M275.91 816.29h0.8M267.68 807.02h0.8M271.41 805.14h0.8M271.44 804.13h0.8M267.78 818.42h0.8M271.47 802.3h0.8M275.08 820.89h0.8M267.6 817.87h0.8M276.57 814.46h0.8M271.91 804.47h0.8M274.49 817.45h0.8M276.72 813.97h0.8M267.15 815.38h0.8M271.31 805.29h0.8M271.48 803.08h0.8M274.87 808.07h0.8M267.4 814.29h0.8M267.9 816.91h0.8M267.76 815.37h0.8M273.85 820.33h0.8M275.76 810.46h0.8M275.05 806.47h0.8M268.62 807.63h0.8M273.04 803.97h0.8M267.55 817.25h0.8M274.66 820.75h0.8M269.27 822.53h0.8M268.86 804.05h0.8M267.44 813.13h0.8M266.97 817.51h0.8M273.03 820.52h0.8M270.83 821.49h0.8M275.62 816.67h0.8M274.4 806.95h0.8M267.96 819.49h0.8M268.14 818.19h0.8M268.49 819.49h0.8M268.22 820.95h0.8M267.64 806.37h0.8M268.12 818.47h0.8M275.75 808.32h0.8M274.24 803.71h0.8M275.46 810.21h0.8M270.25 804.71h0.8M272.99 803.4h0.8M272.49 802.97h0.8M269.64 823.01h0.8M268.01 817.18h0.8M274.78 819.97h0.8M276.3 808.38h0.8M268.22 819.38h0.8M271.45 821.15h0.8M269.33 805.48h0.8M267.85 809.17h0.8M275.01 808.68h0.8M267.79 808.42h0.8M270.44 823.02h0.8M274.97 816.35h0.8M268.7 804.51h0.8M276.6 812.77h0.8M275.83 810.52h0.8M270.94 821.86h0.8M273.49 822.52h0.8M267.13 814.46h0.8M275.27 814.47h0.8M267.82 814.58h0.8M272.61 821.85h0.8M276.12 818.25h0.8M269.38 819.55h0.8M267.96 820.25h0.8M269.35 822.05h0.8M270.57 803.56h0.8M274.54 819.64h0.8M276.14 812.74h0.8M273.07 802.89h0.8M267.7 812.72h0.8M266.2 815.14h0.8M266.67 810.46h0.8M275.3 811.74h0.8M268.07 817.32h0.8M272.34 822.96h0.8M273.61 822.51h0.8M271.57 802.58h0.8M275.28 817.54h0.8M270.35 803h0.8M267.56 811.98h0.8M275.81 812.12h0.8M271.33 802.58h0.8M267.92 804.88h0.8M275.63 813.6h0.8M270.79 822.82h0.8M273.05 822.12h0.8M266.85 812.47h0.8M275.66 811.16h0.8M267.02 817.75h0.8M268.66 818.86h0.8M272.48 820.79h0.8M275.25 810.17h0.8M267.37 811.97h0.8M276.1 808.95h0.8M274.42 805.23h0.8M271.27 804.96h0.8M267.81 809.88h0.8M268.03 809.57h0.8M275.85 819.17h0.8M272.28 802.52h0.8M272 803.19h0.8M274.86 806.67h0.8M267.78 812.09h0.8M274.86 808.75h0.8M267.53 811.44h0.8M273.31 820.15h0.8M268.45 805.46h0.8M274.56 819.59h0.8M270.27 804.77h0.8M276.35 815.85h0.8M274.73 808.29h0.8M268.64 820.39h0.8M274.88 817.34h0.8M266.54 809.32h0.8M275.89 806.93h0.8M269.56 806.21h0.8M272.46 821.29h0.8M275.82 815.48h0.8M274.96 809.77h0.8M268.21 818.95h0.8M271.75 803.23h0.8M269.06 821.79h0.8M268.96 821.71h0.8M273.26 821.71h0.8M268.07 818.93h0.8M276.11 816.24h0.8M268.98 805.74h0.8M267.95 816.78h0.8M274.49 818.38h0.8M273.08 822.8h0.8M276.2 814.04h0.8M271.18 802.61h0.8M274.95 820.56h0.8M270.21 804.66h0.8M274.08 818.63h0.8M266.6 810.07h0.8M268.72 807.99h0.8M268.81 819.25h0.8M274.77 817.97h0.8M269.33 822.59h0.8M270.71 802.97h0.8M267.75 818.99h0.8M272.65 821.91h0.8M266.59 813.27h0.8M273.08 819.81h0.8M274.99 808.7h0.8M276.13 810.48h0.8M267.32 806.7h0.8M275.11 808.5h0.8M269.59 804.54h0.8M273.91 805.06h0.8M266.76 809.84h0.8M276.8 811.86h0.8M272.59 821.32h0.8M268.65 820.15h0.8M274.07 820.1h0.8M267.64 810.95h0.8M275.39 814.73h0.8M269.48 821.92h0.8M271.7 805.33h0.8M275.73 807.92h0.8M276.1 812.14h0.8M271.17 805.56h0.8M267.95 816.67h0.8M275.24 814.15h0.8M275.52 812.48h0.8M267.13 815.76h0.8M274.28 819.55h0.8M270.04 803.05h0.8M268.75 819.19h0.8M267.75 816.86h0.8M268.54 819.66h0.8M271.95 805.39h0.8M269 819.13h0.8M276.57 811.07h0.8M273.19 805.51h0.8M271.87 805.08h0.8M273.9 805.64h0.8M275.12 805.77h0.8M267.21 809.68h0.8M274.27 804.69h0.8M266.29 813.33h0.8M271.87 802.23h0.8M267.19 814.1h0.8M270.61 821.47h0.8M271.01 822.18h0.8M275.25 813.3h0.8M267.62 812.95h0.8M266.97 812.04h0.8M271.65 805.44h0.8M275.38 818.89h0.8M268.46 804.2h0.8M272.74 804.05h0.8M271.44 805.07h0.8M272.58 803.98h0.8M272.49 822.88h0.8M269.82 823.03h0.8M270.18 804.9h0.8M269.8 820.03h0.8M272.01 821.88h0.8M273.74 805.08h0.8M268.43 821.61h0.8M268.93 821.19h0.8M273.31 820.45h0.8M276.88 811.25h0.8M276.13 809.82h0.8M273.23 821.3h0.8" stroke="#19c7c0" stroke-width="0.8" stroke-opacity="0.9"/>
<path d="M275.05 812.68h0.8M268.11 814.44h0.8M273 817.74h0.8M271.89 817.67h0.8M272.34 818.14h0.8M268.72 810.59h0.8M273.48 813.47h0.8M272.89 807.01h0.8M273.79 809.86h0.8M270.62 806.27h0.8M271.73 819.81h0.8M270.61 807.15h0.8M270.8 806.51h0.8M274.49 811.93h0.8M273.94 814.14h0.8M269.55 809.65h0.8M273.81 808.53h0.8M271.54 820.15h0.8M270.42 807.28h0.8M269.37 814.11h0.8M271.99 817.02h0.8M272.13 806.71h0.8M273.01 806.94h0.8M270.05 817.03h0.8M271.47 818.82h0.8M268.99 814.62h0.8M272.33 805.98h0.8M270.54 807.84h0.8M274.66 813.16h0.8M274.71 814.75h0.8M273.28 815.77h0.8M270.11 817.57h0.8M269.15 812.01h0.8M268.64 812.01h0.8M267.93 814.48h0.8M269.43 818.55h0.8M272.21 808.1h0.8M270.11 808.48h0.8M268.72 815.06h0.8M274.07 814.21h0.8M273.82 809.29h0.8M272.73 809.85h0.8M271.87 819.02h0.8M274.48 812.79h0.8M273.16 814.07h0.8M272.45 806.99h0.8M270.92 818.76h0.8M269.92 807.91h0.8M267.86 814.5h0.8M273.07 817.47h0.8M269.75 809.42h0.8M270.36 810.2h0.8M273.16 816.4h0.8M268.78 811.52h0.8M272.75 815.79h0.8M273.35 814.11h0.8M271.12 808.5h0.8M269.26 814.14h0.8M269.57 807.65h0.8M271.96 818.2h0.8M269.25 817.69h0.8M271.45 806.55h0.8M273.32 818.82h0.8M273.64 808.05h0.8M272.29 817.27h0.8M270.72 806.15h0.8M269.31 810.24h0.8M273.74 817.19h0.8M269 811.5h0.8M272.57 819.59h0.8M268.82 813.26h0.8M271.61 808.98h0.8M270.49 817.09h0.8M269.34 812.59h0.8M273.67 817.37h0.8M271.76 808.12h0.8M270.59 819.24h0.8M269.95 814.68h0.8M273.64 817.24h0.8M272.86 815.66h0.8M271.56 819.4h0.8M269.76 817.87h0.8M270.44 819.51h0.8M273.62 818.91h0.8M274.96 811.74h0.8M274.17 809.36h0.8M273.82 810.88h0.8M274.59 814.14h0.8M271.83 816.88h0.8M272.7 807.4h0.8M273.39 807.21h0.8M270.47 807.5h0.8M271.58 808.1h0.8M269.76 809.37h0.8M273.99 813.53h0.8M272.49 808.96h0.8M271 807.42h0.8M274.94 815.28h0.8M273.39 808.79h0.8M272.19 818.93h0.8M270.18 817.01h0.8M273.21 816.34h0.8M269.16 815.16h0.8M269.58 814.89h0.8M271.27 816.98h0.8M270.25 806.07h0.8M274.18 812.84h0.8M271.2 808.12h0.8M271.87 805.97h0.8M271.91 808.46h0.8M274.18 810.22h0.8M271.78 816.98h0.8M269.25 816.3h0.8M275.09 811.67h0.8M269.81 810.56h0.8M268.17 815.59h0.8M274.51 809.89h0.8M269.64 818.32h0.8M273.16 816.42h0.8M274.26 816.08h0.8M271.92 807.53h0.8M270.53 806.01h0.8M269.39 817.1h0.8M272.97 810.7h0.8M273.56 815.51h0.8M271.18 806.9h0.8M273.72 810.75h0.8M268.83 808.22h0.8M269.98 810.48h0.8M271.03 806.27h0.8M269.96 818.16h0.8M273.8 815.54h0.8M268.83 809.44h0.8M269.54 814.98h0.8M271.51 806.67h0.8M272.71 808.75h0.8M268.36 814.64h0.8M272.43 807.83h0.8M268.39 810.62h0.8M273.34 812.48h0.8M272.82 810.17h0.8M269.69 808.03h0.8M269.48 809.33h0.8M270.51 819.92h0.8M273.26 807.78h0.8M271.73 818.18h0.8M273.66 814.64h0.8M273.31 816.98h0.8M274.97 814h0.8M272.66 818.63h0.8M273.02 810.41h0.8M268.65 814.17h0.8M269.91 817.34h0.8M273.03 817.38h0.8M269.6 816.7h0.8M273.21 814.53h0.8M273.33 814.58h0.8M269.91 806.8h0.8M274.71 812.24h0.8M270.06 819.24h0.8M271.89 809.21h0.8M268.3 814.15h0.8M271.57 820.07h0.8M273.5 811.47h0.8M273.04 815.51h0.8M273.72 812.44h0.8M274.92 810.98h0.8M268.18 814.6h0.8M271.25 818.37h0.8M271.24 817.39h0.8M268.66 815h0.8M273.64 810.02h0.8M269.29 810.57h0.8M271.71 819.94h0.8M268.92 815.11h0.8M271.66 819.96h0.8M269.5 811.08h0.8M268.92 815.62h0.8M270.15 810.06h0.8M273.69 818.69h0.8M270.54 807.94h0.8M274.35 812.28h0.8M274.43 814.54h0.8M273.88 812.34h0.8M271.83 807.52h0.8M273.09 817.21h0.8M269.35 811.64h0.8M271.38 820.23h0.8M273.41 812.78h0.8M270.73 806.48h0.8M268.75 815.78h0.8M274.61 816.43h0.8M274.52 812.71h0.8M269.56 815.71h0.8M273.98 817.72h0.8M271.86 805.81h0.8M272.62 809.13h0.8M273.91 810.16h0.8M270.68 809.38h0.8M268.89 810.45h0.8M268.91 814.82h0.8M269.17 811.72h0.8M269.5 809.01h0.8M272.11 818.77h0.8M273.62 810.92h0.8M269.49 816.81h0.8M268.96 808.84h0.8M272.02 817.35h0.8M274.09 817.67h0.8M271.69 817.81h0.8M271.87 816.49h0.8M269.05 812.52h0.8M272.08 805.73h0.8M268.72 811.56h0.8M270.91 809.13h0.8M271.53 806.43h0.8M269.64 815.81h0.8M272.38 816.03h0.8M274.42 810.98h0.8M267.83 813.59h0.8M272.85 807.96h0.8M272.4 808.72h0.8M269.47 817.74h0.8M273.31 807.51h0.8M273.42 809.9h0.8M272.65 816.35h0.8M271.62 807.97h0.8M270.64 807.57h0.8M269.38 813.14h0.8M273.24 807.72h0.8M272.1 817.97h0.8M271.6 807.85h0.8M274.07 814.48h0.8M270.11 808.14h0.8M274.22 812.98h0.8M272.6 818.68h0.8M273.96 810.19h0.8M273.26 817.23h0.8M269.74 817.46h0.8M272.49 819.24h0.8" stroke="#3cc83c" stroke-width="0.8" stroke-opacity="0.9"/>
<path d="M272.62 815.36h0.8M270.91 815.11h0.8M271.43 809.59h0.8M271.65 809.91h0.8M271.74 815.09h0.8M272.36 811.2h0.8M271.31 810.89h0.8M270.28 812.7h0.8M272.43 813.25h0.8M272.57 810.94h0.8M271.17 810.23h0.8M270.18 811.38h0.8M270.03 812.74h0.8M270.37 814.65h0.8M272.92 812.69h0.8M272.32 812.12h0.8M270.74 811.53h0.8M270.28 814.01h0.8M272.58 815.6h0.8M272.59 814.19h0.8M270.34 812.78h0.8M270.5 813.17h0.8M270.36 815.22h0.8M272.3 811.17h0.8M272.56 814.02h0.8M271.67 815.01h0.8M271.19 809.88h0.8M270.89 815.16h0.8M272.58 811.46h0.8M270.55 812.77h0.8M269.97 813.49h0.8M270.26 811.56h0.8M272.25 814.8h0.8M270.79 814.05h0.8M271.04 815.9h0.8M272.15 815.34h0.8M272.46 813.3h0.8M270.96 814.59h0.8M272.7 814.54h0.8M271.13 815.06h0.8M272.78 811.44h0.8M271.69 815.54h0.8M272.98 812.35h0.8M270.88 815.16h0.8M270.76 815.89h0.8M271.55 810.09h0.8M269.87 812.9h0.8M272.31 815.1h0.8M271.65 816.22h0.8M272.42 814.46h0.8M271.68 810.05h0.8M271.08 810.49h0.8M270.37 810.45h0.8M269.85 812.77h0.8M271.58 809.82h0.8M271.85 809.91h0.8M272.31 815.79h0.8M271.92 811.2h0.8M272.39 812.05h0.8M272.81 813.51h0.8M273.08 813.79h0.8M272.51 814.68h0.8M273.06 813.07h0.8M272.36 810.23h0.8M270.49 815.35h0.8M272.42 815.01h0.8M271.76 811.05h0.8M270.33 812.8h0.8M271.05 815.12h0.8M272.26 815.43h0.8M271.94 815.14h0.8M272.88 813.93h0.8M269.89 813.73h0.8M272.87 810.92h0.8M270.79 810.26h0.8M272.96 812.58h0.8M272.98 812.17h0.8M270.71 812.43h0.8M270.88 815.99h0.8M270.7 810.24h0.8M271.98 811.1h0.8M269.91 813.48h0.8M270.36 811.58h0.8M271.39 809.87h0.8M269.9 812.5h0.8M271.65 814.98h0.8M270.65 814.35h0.8M270.61 815.32h0.8M272.54 811.8h0.8M270.46 811.9h0.8" stroke="#e2d21e" stroke-width="0.8" stroke-opacity="0.9"/>
<path d="M272.24 813.73h0.8M271 812.35h0.8M271.01 813.3h0.8M271.48 813.42h0.8M271.22 812.75h0.8M270.89 813.31h0.8M272.03 813.15h0.8M271.87 813.24h0.8M271.74 812.72h0.8M271.48 813.33h0.8M271.78 813.85h0.8M271.21 813.91h0.8M271.85 814.41h0.8M272.24 813.19h0.8M271 814.21h0.8M271.75 814.11h0.8M272.04 812.75h0.8" stroke="#f2561c" stroke-width="0.8" stroke-opacity="0.9"/>
<line x1="263.4" y1="787.3" x2="263.4" y2="852.8" stroke="#111" stroke-width="1.6"/>
<line x1="225.7" y1="804.7" x2="292.3" y2="804.7" stroke="#111" stroke-width="1.6"/>
<rect x="226.2" y="787.8" width="65.6" height="64.5" fill="none" stroke="#8a8a8a" stroke-width="0.8"/>
<text x="290.1" y="849.6" text-anchor="end">77.3</text></g></svg></body></html>
